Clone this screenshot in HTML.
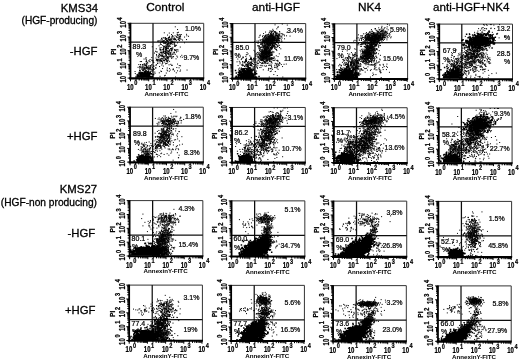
<!DOCTYPE html><html><head><meta charset="utf-8"><title>Figure</title><style>html,body{margin:0;padding:0;background:#fff;overflow:hidden}svg{display:block}</style></head><body><svg width="520" height="363" viewBox="0 0 520 363" font-family="'Liberation Sans', sans-serif">
<rect width="520" height="363" fill="#fff"/>
<filter id="b" x="0" y="0" width="520" height="363" filterUnits="userSpaceOnUse"><feGaussianBlur stdDeviation=".35"/></filter><g filter="url(#b)">
<g font-size="11.8" fill="#000" stroke="#000" stroke-width=".3">
<text x="165.3" y="11.3" text-anchor="middle">Control</text>
<text x="276" y="11.3" text-anchor="middle">anti-HGF</text>
<text x="369.5" y="11.3" text-anchor="middle">NK4</text>
<text x="471.2" y="11.3" text-anchor="middle" font-size="11.6">anti-HGF+NK4</text>
<text x="98" y="11.6" text-anchor="end" font-size="11.35">KMS34</text>
<text x="97.5" y="24.3" text-anchor="end" font-size="10.15">(HGF-producing)</text>
<text x="97.5" y="55.3" text-anchor="end" font-size="11.35">-HGF</text>
<text x="97.5" y="140" text-anchor="end" font-size="11.35">+HGF</text>
<text x="97" y="192.6" text-anchor="end" font-size="11.35">KMS27</text>
<text x="97" y="206" text-anchor="end" font-size="10.2">(HGF-non producing)</text>
<text x="95.3" y="237" text-anchor="end" font-size="11.35">-HGF</text>
<text x="95.5" y="314" text-anchor="end" font-size="11.35">+HGF</text>
</g>
<g transform="translate(130.3 23.3)">
<path d="M0 0H73.4V55.1" fill="none" stroke="#333" stroke-width="1"/>
<path d="M22.7 0V55.1M0 18.7H73.4" fill="none" stroke="#111" stroke-width="1.25"/>
<path d="M0.15 -0.5V55.9" stroke="#000" stroke-width="1.8" fill="none"/>
<path d="M-1.3 55.1H73.9" stroke="#000" stroke-width="2.1" fill="none"/>
<path d="M0.2 55.1v2.9M0 54.8h-2.7M5.7 55.1v2.1M0 50.7h-1.8M8.9 55.1v2.1M0 48.3h-1.8M11.2 55.1v2.1M0 46.6h-1.8M12.9 55.1v2.1M0 45.2h-1.8M14.4 55.1v2.1M0 44.1h-1.8M15.6 55.1v2.1M0 43.2h-1.8M16.6 55.1v2.1M0 42.4h-1.8M17.6 55.1v2.1M0 41.7h-1.8M18.4 55.1v2.9M0 41.1h-2.7M23.9 55.1v2.1M0 37.0h-1.8M27.1 55.1v2.1M0 34.6h-1.8M29.4 55.1v2.1M0 32.9h-1.8M31.1 55.1v2.1M0 31.5h-1.8M32.6 55.1v2.1M0 30.4h-1.8M33.8 55.1v2.1M0 29.5h-1.8M34.8 55.1v2.1M0 28.7h-1.8M35.8 55.1v2.1M0 28.0h-1.8M36.6 55.1v2.9M0 27.4h-2.7M42.1 55.1v2.1M0 23.3h-1.8M45.3 55.1v2.1M0 20.9h-1.8M47.6 55.1v2.1M0 19.2h-1.8M49.3 55.1v2.1M0 17.8h-1.8M50.8 55.1v2.1M0 16.7h-1.8M52.0 55.1v2.1M0 15.8h-1.8M53.0 55.1v2.1M0 15.0h-1.8M54.0 55.1v2.1M0 14.3h-1.8M54.8 55.1v2.9M0 13.7h-2.7M60.3 55.1v2.1M0 9.6h-1.8M63.5 55.1v2.1M0 7.2h-1.8M65.8 55.1v2.1M0 5.5h-1.8M67.5 55.1v2.1M0 4.1h-1.8M69.0 55.1v2.1M0 3.0h-1.8M70.2 55.1v2.1M0 2.1h-1.8M71.2 55.1v2.1M0 1.3h-1.8M72.2 55.1v2.1M0 0.6h-1.8M73.0 55.1v2.9M0 0.0h-2.7" stroke="#000" stroke-width="1" fill="none"/>
<g font-size="8.6" font-weight="bold" fill="#000" stroke="#000" stroke-width=".25">
<text transform="translate(-3.4 66.4) scale(.7 1)">10<tspan dx=".9" dy="-4.3" font-size="8">0</tspan></text>
<text transform="translate(-4.4 59.2) rotate(-90) scale(.7 1)">10<tspan dx=".9" dy="-4.3" font-size="8">0</tspan></text>
<text transform="translate(14.8 66.4) scale(.7 1)">10<tspan dx=".9" dy="-4.3" font-size="8">1</tspan></text>
<text transform="translate(-4.4 45.5) rotate(-90) scale(.7 1)">10<tspan dx=".9" dy="-4.3" font-size="8">1</tspan></text>
<text transform="translate(33.0 66.4) scale(.7 1)">10<tspan dx=".9" dy="-4.3" font-size="8">2</tspan></text>
<text transform="translate(-4.4 31.8) rotate(-90) scale(.7 1)">10<tspan dx=".9" dy="-4.3" font-size="8">2</tspan></text>
<text transform="translate(51.2 66.4) scale(.7 1)">10<tspan dx=".9" dy="-4.3" font-size="8">3</tspan></text>
<text transform="translate(-4.4 18.1) rotate(-90) scale(.7 1)">10<tspan dx=".9" dy="-4.3" font-size="8">3</tspan></text>
<text transform="translate(69.4 66.4) scale(.7 1)">10<tspan dx=".9" dy="-4.3" font-size="8">4</tspan></text>
<text transform="translate(-4.4 4.4) rotate(-90) scale(.7 1)">10<tspan dx=".9" dy="-4.3" font-size="8">4</tspan></text>
</g>
<text x="36.2" y="72.3" text-anchor="middle" font-size="6.2" font-weight="bold" fill="#000">AnnexinY-FITC</text>
<text transform="translate(-14.5 28.4) rotate(-90)" text-anchor="middle" font-size="6.6" font-weight="bold" fill="#000" stroke="#000" stroke-width=".2">PI</text>
<g transform="scale(.25)" stroke="#000" fill="none"><path d="M44 183h6m-15 6h6m16 4h6m-10 2h6m1 0h6m11 0h6m-25 1h6m-4 0h6m-33 1h6m1 0h6m-2 0h6m2 0h6m-17 1h6m-2 0h6m-15 1h6m2 0h6m21 0h6m-45 1h6m20 0h6m10 0h6m-5 0h6m-43 1h6m6 0h6m-3 0h6m0 0h6m-3 0h6m0 0h6m-30 1h6m6 0h6m6 0h6m1 0h6m-5 0h6m-1 0h6m-52 1h6m-1 0h6m-5 0h6m-4 0h6m1 0h6m1 0h6m-4 0h6m-4 0h6m0 0h6m-1 0h6m-4 0h6m-38 1h6m-1 0h6m-3 0h6m-5 0h6m-4 0h6m0 0h6m0 0h6m-43 1h6m23 0h6m27 0h6m-53 1h6m-4 0h6m-2 0h6m-5 0h6m-2 0h6m-4 0h6m2 0h6m-1 0h6m-49 1h6m6 0h6m5 0h6m-3 0h6m-3 0h6m0 0h6m-5 0h6m-1 0h6m-28 1h6m-1 0h6m-1 0h6m-5 0h6m-4 0h6m5 0h6m-44 1h6m2 0h6m0 0h6m-2 0h6m-2 0h6m-5 0h6m6 0h6m1 0h6m-34 1h6m-3 0h6m-4 0h6m-4 0h6m-4 0h6m-3 0h6m-1 0h6m0 0h6m0 0h6m-45 1h6m-3 0h6m-5 0h6m1 0h6m2 0h6m-5 0h6m-5 0h6m-2 0h6m0 0h6m-4 0h6m-4 0h6m-5 0h6m-3 0h6m-52 1h6m-2 0h6m0 0h6m-4 0h6m-4 0h6m-5 0h6m4 0h6m-3 0h6m-4 0h6m-5 0h6m2 0h6m-3 0h6m-49 1h6m10 0h6m0 0h6m-2 0h6m-4 0h6m-3 0h6m-3 0h6m-5 0h6m-1 0h6m-4 0h6m-5 0h6m-5 0h6m2 0h6m1 0h6m-55 1h6m-5 0h6m1 0h6m-3 0h6m1 0h6m-1 0h6m-2 0h6m8 0h6m-64 1h6m0 0h6m-3 0h6m-5 0h6m-4 0h6m-5 0h6m-5 0h6m-4 0h6m-5 0h6m-1 0h6m-5 0h6m-5 0h6m-5 0h6m-5 0h6m-5 0h6m-5 0h6m-5 0h6m-5 0h6m-5 0h6m-5 0h6m-5 0h6m-5 0h6m-5 0h6m-5 0h6m-5 0h6m-5 0h6m-5 0h6m-4 0h6m-5 0h6m-5 0h6m-5 0h6m-5 0h6m-5 0h6m-5 0h6m-5 0h6m-5 0h6m-5 0h6m-5 0h6m-5 0h6m-3 0h6m-5 0h6m-5 0h6m-5 0h6m-5 0h6m-1 0h6m-4 0h6" stroke-width="6"/><path d="M178 14h4m5 11h4m0 11h4m-9 1h4m-56 1h4m32 0h4m-20 1h4m28 4h4m33 1h4m-64 1h4m19 0h4m3 0h4m0 0h4m1 0h4m-59 2h4m38 2h4m-27 1h4m7 0h4m5 0h4m9 0h4m21 0h4m-61 1h4m-3 0h4m22 0h4m-43 1h4m40 0h4m28 0h4m-53 1h4m-17 1h4m21 0h4m-35 1h4m27 0h4m0 0h4m13 0h4m-66 1h4m36 0h4m-65 1h4m2 0h4m10 0h4m-1 0h4m25 0h4m0 0h4m-41 1h4m-30 1h4m10 0h4m24 0h4m4 0h4m-46 1h4m2 0h4m2 0h4m13 0h4m6 0h4m21 0h4m-78 1h4m16 0h4m5 0h4m21 0h4m-21 1h4m27 0h4m0 0h4m-3 0h4m-56 1h4m27 0h4m-54 1h4m10 0h4m8 0h4m-1 0h4m13 0h4m2 0h4m8 0h4m8 0h4m-67 1h4m12 0h4m0 0h4m0 0h4m12 0h4m-3 0h4m-3 0h4m39 0h4m-85 1h4m4 0h4m7 0h4m10 0h4m12 0h4m-75 1h4m1 0h4m25 0h4m1 0h4m5 0h4m35 0h4m-68 1h4m-2 0h4m-2 0h4m4 0h4m-46 1h4m13 0h4m0 0h4m44 0h4m9 0h4m-54 1h4m-1 0h4m8 0h4m-56 1h4m51 0h4m-58 1h4m7 0h4m1 0h4m-2 0h4m9 0h4m2 0h4m1 0h4m-24 1h4m27 0h4m0 0h4m-57 1h4m9 0h4m3 0h4m9 0h4m19 0h4m-48 1h4m6 0h4m1 0h4m32 0h4m-37 1h4m13 0h4m-2 0h4m3 0h4m-53 1h4m15 0h4m16 0h4m4 0h4m-40 1h4m17 0h4m3 0h4m5 0h4m3 0h4m8 0h4m24 0h4m-100 1h4m14 0h4m-3 0h4m-3 0h4m9 0h4m4 0h4m10 0h4m-46 1h4m0 0h4m10 0h4m-3 0h4m1 0h4m1 0h4m-2 0h4m-22 1h4m-3 0h4m8 0h4m-14 2h4m22 0h4m-60 1h4m30 0h4m12 0h4m4 0h4m-58 1h4m21 0h4m9 0h4m-22 1h4m1 0h4m2 0h4m-15 1h4m30 1h4m3 0h4m-59 1h4m17 0h4m1 0h4m-45 1h4m29 0h4m27 0h4m-3 0h4m-43 1h4m36 0h4m-50 1h4m-1 0h4m3 0h4m2 0h4m-3 0h4m4 0h4m13 0h4m-47 1h4m6 0h4m10 0h4m-74 1h4m58 0h4m0 0h4m-22 1h4m60 0h4m-70 1h4m32 0h4m-51 1h4m14 0h4m1 0h4m-10 1h4m-26 1h4m10 0h4m7 0h4m-3 0h4m-2 0h4m2 0h4m-12 1h4m1 0h4m-2 0h4m-3 0h4m9 0h4m-3 0h4m-36 1h4m7 0h4m12 0h4m-3 0h4m-62 1h4m25 0h4m3 0h4m23 0h4m-1 0h4m-41 1h4m-17 1h4m-3 0h4m15 0h4m20 0h4m-41 1h4m0 0h4m-3 0h4m-3 0h4m6 0h4m-3 0h4m29 0h4m2 0h4m3 0h4m-75 1h4m-3 0h4m17 0h4m13 0h4m6 0h4m-28 1h4m3 0h4m3 0h4m2 0h4m15 0h4m-40 2h4m6 0h4m4 0h4m12 0h4m-63 1h4m7 0h4m3 0h4m2 0h4m14 0h4m-2 0h4m7 0h4m-54 1h4m23 0h4m-1 0h4m25 0h4m1 0h4m-94 1h4m28 0h4m1 0h4m-2 0h4m-12 1h4m4 0h4m-3 0h4m6 0h4m-2 0h4m-51 1h4m24 0h4m3 0h4m5 0h4m-47 1h4m22 0h4m7 0h4m-3 0h4m5 0h4m27 0h4m-69 1h4m0 0h4m5 0h4m22 0h4m9 0h4m-33 1h4m3 0h4m8 0h4m11 0h4m-59 1h4m-2 0h4m-3 0h4m-3 0h4m-1 0h4m-1 0h4m6 0h4m-49 1h4m38 0h4m3 0h4m7 0h4m1 0h4m-29 1h4m-2 0h4m-3 0h4m-3 0h4m-4 1h4m-3 0h4m4 0h4m-3 0h4m-3 0h4m-41 1h4m23 0h4m7 0h4m3 0h4m6 0h4m1 0h4m-48 1h4m25 0h4m-3 0h4m-3 0h4m-49 1h4m6 0h4m10 0h4m35 0h4m-79 1h4m7 0h4m-2 0h4m24 0h4m4 0h4m12 0h4m-56 1h4m32 0h4m-3 0h4m6 1h4m-45 1h4m-2 0h4m13 0h4m59 0h4m-90 1h4m5 0h4m11 0h4m-43 1h4m4 0h4m11 0h4m11 0h4m13 0h4m-41 1h4m7 0h4m48 0h4m-79 1h4m1 0h4m9 0h4m5 0h4m14 0h4m-1 0h4m-30 1h4m13 0h4m13 0h4m2 0h4m-51 1h4m1 0h4m7 0h4m1 0h4m3 0h4m3 0h4m36 0h4m-70 1h4m7 0h4m15 0h4m20 0h4m-46 1h4m57 0h4m-149 1h4m19 0h4m22 0h4m18 0h4m11 0h4m-2 1h4m-2 0h4m-3 0h4m12 0h4m-71 1h4m8 0h4m19 0h4m4 0h4m15 1h4m-45 1h4m21 0h4m-91 1h4m60 0h4m-1 0h4m-1 0h4m5 0h4m-2 0h4m36 0h4m-132 1h4m62 0h4m2 0h4m5 0h4m12 0h4m-92 1h4m40 0h4m-33 1h4m22 0h4m5 0h4m23 0h4m1 0h4m-44 1h4m-3 0h4m-1 0h4m7 0h4m16 0h4m-58 1h4m24 0h4m-2 0h4m24 0h4m-45 1h4m2 0h4m9 0h4m6 0h4m-3 0h4m14 0h4m-69 1h4m18 0h4m9 0h4m-2 0h4m8 0h4m-3 0h4m7 0h4m-87 1h4m5 0h4m13 0h4m20 0h4m1 0h4m21 0h4m-73 1h4m41 0h4m5 0h4m-71 1h4m-2 0h4m56 0h4m-3 0h4m-3 0h4m18 0h4m4 0h4m-121 1h4m1 0h4m97 0h4m-71 1h4m25 0h4m3 0h4m-55 1h4m24 0h4m42 0h4m8 0h4m-85 1h4m56 0h4m-39 1h4m-28 2h4m45 0h4m7 0h4m-24 1h4m33 0h4m-86 1h4m40 0h4m31 0h4m-92 1h4m68 0h4m9 0h4m-86 1h4m4 0h4m118 0h4m-138 1h4m103 0h4m-132 1h4m3 0h4m5 0h4m5 0h4m23 0h4m14 0h4m-59 1h4m12 0h4m86 0h4m-111 1h4m74 0h4m-67 1h4m98 0h4m-1 0h4m-111 1h4m14 0h4m-1 0h4m17 0h4m89 0h4m-143 1h4m4 0h4m3 0h4m7 0h4m7 0h4m103 0h4m-165 1h4m9 0h4m7 0h4m64 0h4m-98 2h4m23 0h4m2 0h4m7 0h4m8 0h4m19 0h4m-73 1h4m-15 1h4m6 0h4m26 0h4m-50 1h4m5 0h4m-1 0h4m4 0h4m4 0h4m-1 0h4m-1 0h4m-1 0h4m9 0h4m-29 1h4m5 0h4m0 0h4m-1 0h4m12 0h4m10 0h4m80 0h4m-142 1h4m28 0h4m111 0h4m-144 1h4m8 0h4m-2 0h4m3 0h4m-2 0h4m66 0h4m-98 1h4m44 0h4m-50 1h4m4 0h4m5 0h4m5 0h4m7 0h4m32 0h4m24 0h4m-123 1h4m17 0h4m-3 0h4m3 0h4m4 0h4m-24 1h4m19 0h4m90 0h4m-121 1h4m37 0h4m72 0h4m-117 1h4m8 0h4m9 0h4m4 0h4m-43 1h4m18 0h4m1 0h4m87 0h4m-125 1h4m34 0h4m55 0h4m9 0h4m37 0h4m22 0h4m-180 1h4m8 0h4m5 0h4m14 0h4m-44 1h4m0 0h4m5 0h4m-5 1h4m83 0h4m36 0h4m-152 1h4m40 0h4m33 0h4m51 0h4m-116 1h4m4 0h4m79 0h4m39 0h4m-184 1h4m35 0h4m7 0h4m1 0h4m47 0h4m-59 1h4m-2 0h4m14 0h4m4 1h4m-41 1h4m-3 0h4m4 0h4m7 0h4m-29 1h4m-1 0h4m-3 0h4m3 0h4m-3 0h4m-3 0h4m-1 0h4m-1 0h4m-10 1h4m43 0h4m64 0h4m-44 1h4m-49 1h4m-83 1h4m40 0h4m-7 1h4m18 2h4m2 0h4m-52 1h4m16 0h4m-22 1h4m-23 1h4m35 0h4m-3 0h4m72 1h4m-72 1h4m61 1h4m-78 1h4m-18 1h4m66 0h4m-52 1h4m-22 1h4m20 0h4m-53 1h4m12 0h4m-2 0h4m-1 0h4m12 0h4m1 0h4m-3 0h4m-2 0h4m-2 0h4m4 0h4m0 0h4m90 0h4" stroke-width="4"/></g>
<g font-size="7" fill="#000" stroke="#000" stroke-width=".22">
<text x="54.7" y="7.8">1.0%</text>
<text x="2.3" y="25.5">89.3</text>
<text x="5.8" y="34.2">%</text>
<text x="53.1" y="37.0">9.7%</text>
</g>
</g>
<g transform="translate(232.3 23.57)">
<path d="M0 0H73.4V55.1" fill="none" stroke="#333" stroke-width="1"/>
<path d="M22.7 0V55.1M0 18.7H73.4" fill="none" stroke="#111" stroke-width="1.25"/>
<path d="M0.15 -0.5V55.9" stroke="#000" stroke-width="1.8" fill="none"/>
<path d="M-1.3 55.1H73.9" stroke="#000" stroke-width="2.1" fill="none"/>
<path d="M0.2 55.1v2.9M0 54.8h-2.7M5.7 55.1v2.1M0 50.7h-1.8M8.9 55.1v2.1M0 48.3h-1.8M11.2 55.1v2.1M0 46.6h-1.8M12.9 55.1v2.1M0 45.2h-1.8M14.4 55.1v2.1M0 44.1h-1.8M15.6 55.1v2.1M0 43.2h-1.8M16.6 55.1v2.1M0 42.4h-1.8M17.6 55.1v2.1M0 41.7h-1.8M18.4 55.1v2.9M0 41.1h-2.7M23.9 55.1v2.1M0 37.0h-1.8M27.1 55.1v2.1M0 34.6h-1.8M29.4 55.1v2.1M0 32.9h-1.8M31.1 55.1v2.1M0 31.5h-1.8M32.6 55.1v2.1M0 30.4h-1.8M33.8 55.1v2.1M0 29.5h-1.8M34.8 55.1v2.1M0 28.7h-1.8M35.8 55.1v2.1M0 28.0h-1.8M36.6 55.1v2.9M0 27.4h-2.7M42.1 55.1v2.1M0 23.3h-1.8M45.3 55.1v2.1M0 20.9h-1.8M47.6 55.1v2.1M0 19.2h-1.8M49.3 55.1v2.1M0 17.8h-1.8M50.8 55.1v2.1M0 16.7h-1.8M52.0 55.1v2.1M0 15.8h-1.8M53.0 55.1v2.1M0 15.0h-1.8M54.0 55.1v2.1M0 14.3h-1.8M54.8 55.1v2.9M0 13.7h-2.7M60.3 55.1v2.1M0 9.6h-1.8M63.5 55.1v2.1M0 7.2h-1.8M65.8 55.1v2.1M0 5.5h-1.8M67.5 55.1v2.1M0 4.1h-1.8M69.0 55.1v2.1M0 3.0h-1.8M70.2 55.1v2.1M0 2.1h-1.8M71.2 55.1v2.1M0 1.3h-1.8M72.2 55.1v2.1M0 0.6h-1.8M73.0 55.1v2.9M0 0.0h-2.7" stroke="#000" stroke-width="1" fill="none"/>
<g font-size="8.6" font-weight="bold" fill="#000" stroke="#000" stroke-width=".25">
<text transform="translate(-3.4 66.4) scale(.7 1)">10<tspan dx=".9" dy="-4.3" font-size="8">0</tspan></text>
<text transform="translate(-4.4 59.2) rotate(-90) scale(.7 1)">10<tspan dx=".9" dy="-4.3" font-size="8">0</tspan></text>
<text transform="translate(14.8 66.4) scale(.7 1)">10<tspan dx=".9" dy="-4.3" font-size="8">1</tspan></text>
<text transform="translate(-4.4 45.5) rotate(-90) scale(.7 1)">10<tspan dx=".9" dy="-4.3" font-size="8">1</tspan></text>
<text transform="translate(33.0 66.4) scale(.7 1)">10<tspan dx=".9" dy="-4.3" font-size="8">2</tspan></text>
<text transform="translate(-4.4 31.8) rotate(-90) scale(.7 1)">10<tspan dx=".9" dy="-4.3" font-size="8">2</tspan></text>
<text transform="translate(51.2 66.4) scale(.7 1)">10<tspan dx=".9" dy="-4.3" font-size="8">3</tspan></text>
<text transform="translate(-4.4 18.1) rotate(-90) scale(.7 1)">10<tspan dx=".9" dy="-4.3" font-size="8">3</tspan></text>
<text transform="translate(69.4 66.4) scale(.7 1)">10<tspan dx=".9" dy="-4.3" font-size="8">4</tspan></text>
<text transform="translate(-4.4 4.4) rotate(-90) scale(.7 1)">10<tspan dx=".9" dy="-4.3" font-size="8">4</tspan></text>
</g>
<text x="36.2" y="72.3" text-anchor="middle" font-size="6.2" font-weight="bold" fill="#000">AnnexinY-FITC</text>
<text transform="translate(-14.5 28.4) rotate(-90)" text-anchor="middle" font-size="6.6" font-weight="bold" fill="#000" stroke="#000" stroke-width=".2">PI</text>
<g transform="scale(.25)" stroke="#000" fill="none"><path d="M60 168h6m1 10h6m-9 2h6m-30 1h6m0 0h6m7 1h6m-4 0h6m17 0h6m-57 1h6m-2 0h6m14 0h6m7 0h6m4 1h6m-46 1h6m-2 0h6m-4 0h6m5 0h6m10 0h6m-7 1h6m-39 1h6m14 0h6m-1 0h6m-3 0h6m-63 1h6m9 0h6m27 0h6m14 0h6m-39 1h6m11 0h6m2 0h6m-41 1h6m2 0h6m-3 0h6m2 0h6m-4 0h6m6 0h6m-5 0h6m-35 1h6m-4 0h6m0 0h6m-5 0h6m15 0h6m-28 1h6m-2 0h6m4 0h6m-2 0h6m-41 1h6m2 0h6m-3 0h6m6 0h6m-5 0h6m10 0h6m-50 1h6m-5 0h6m15 0h6m-1 0h6m15 0h6m6 0h6m-51 1h6m3 0h6m-3 0h6m-3 0h6m-1 0h6m0 0h6m-52 1h6m3 0h6m4 0h6m3 0h6m-5 0h6m2 0h6m-1 0h6m-4 0h6m-2 0h6m-4 0h6m-5 0h6m8 0h6m-62 1h6m-4 0h6m1 0h6m2 0h6m4 0h6m-2 0h6m-5 0h6m2 0h6m-64 1h6m8 0h6m7 0h6m-5 0h6m-2 0h6m-2 0h6m-3 0h6m7 0h6m-1 0h6m-5 0h6m-3 0h6m-38 1h6m1 0h6m2 0h6m-1 1h6m-4 0h6m-5 0h6m-3 0h6m-2 0h6m-5 0h6m0 0h6m-47 1h6m-4 0h6m-5 0h6m-2 0h6m3 0h6m-4 0h6m-5 0h6m4 0h6m-4 0h6m19 0h6m-66 1h6m-3 0h6m7 0h6m-5 0h6m-3 0h6m-4 0h6m-5 0h6m0 0h6m4 0h6m-3 0h6m-2 0h6m3 0h6m-71 1h6m-5 0h6m-4 0h6m6 0h6m9 0h6m-5 0h6m1 0h6m-5 0h6m18 0h6m-63 1h6m2 0h6m-2 0h6m-2 0h6m-5 0h6m-3 0h6m-2 0h6m-1 0h6m1 0h6m-4 0h6m-3 0h6m-1 0h6m-5 0h6m-63 1h6m6 0h6m-2 0h6m-4 0h6m-3 0h6m-1 0h6m-5 0h6m-4 0h6m3 0h6m-2 0h6m12 0h6m-51 1h6m1 0h6m-2 0h6m-3 0h6m-2 0h6m1 0h6m6 0h6m-51 1h6m-5 0h6m0 0h6m0 0h6m-1 0h6m-4 0h6m-3 0h6m-2 0h6m-5 0h6m-2 0h6m-3 0h6m-2 0h6m-1 0h6m-52 1h6m-1 0h6m-5 0h6m0 0h6m0 0h6m9 0h6m2 0h6m-3 0h6m-1 0h6m3 0h6m-67 1h6m3 0h6m-2 0h6m-1 0h6m-3 0h6m-3 0h6m-5 0h6m2 0h6m4 0h6m3 0h6m-48 1h6m-4 0h6m-4 0h6m-3 0h6m1 0h6m-1 0h6m-4 0h6m-5 0h6m-4 0h6m-2 0h6m11 0h6m-70 1h6m24 0h6m0 0h6m-5 0h6m-3 0h6m-3 0h6m-2 0h6m-3 0h6m-2 0h6m-4 0h6m-4 0h6m-3 0h6m-44 1h6m1 0h6m-4 0h6m-1 0h6m-1 0h6m-1 0h6m-1 0h6m-3 0h6m-3 0h6m4 0h6m17 0h6m-79 1h6m-1 0h6m-1 0h6m-4 0h6m-3 0h6m-4 0h6m-4 0h6m-5 0h6m-5 0h6m-1 0h6m-3 0h6m-2 0h6m-4 0h6m-4 0h6m-1 0h6m-2 0h6m-3 0h6m-53 1h6m-4 0h6m-4 0h6m-2 0h6m-4 0h6m-4 0h6m-5 0h6m-4 0h6m-4 0h6m-4 0h6m-5 0h6m-4 0h6m-5 0h6m-5 0h6m5 0h6m17 0h6m-87 1h6m-5 0h6m-2 0h6m-4 0h6m-3 0h6m-5 0h6m-3 0h6m-4 0h6m-3 0h6m-4 0h6m-5 0h6m-5 0h6m-5 0h6m-5 0h6m-5 0h6m-5 0h6m-5 0h6m-5 0h6m-5 0h6m-5 0h6m-4 0h6m-5 0h6m-5 0h6m-5 0h6m-5 0h6m-5 0h6m-5 0h6m-5 0h6m-5 0h6m-5 0h6m-5 0h6m-5 0h6m-4 0h6m-5 0h6m-4 0h6m-5 0h6m-5 0h6m-5 0h6m-5 0h6m-5 0h6m-5 0h6m-5 0h6m-5 0h6m-5 0h6m-5 0h6m-5 0h6m-5 0h6m-5 0h6m-4 0h6m-5 0h6m-5 0h6m-5 0h6m-5 0h6m-3 0h6m-4 0h6m-2 0h6m-3 0h6m-5 0h6m-3 0h6" stroke-width="6"/><path d="M198 2h4m-33 3h4m45 1h4m-40 7h4m-6 2h4m-8 6h4m-20 2h4m-15 6h4m8 0h4m-2 0h4m-13 1h4m1 1h4m-9 1h4m11 0h4m14 0h4m-42 1h4m14 0h4m-2 0h4m-42 1h4m32 0h4m1 0h4m12 0h4m-21 1h4m42 0h4m-75 1h4m4 0h4m-2 0h4m12 1h4m-21 1h4m4 0h4m5 0h4m0 0h4m-3 0h4m-31 1h4m-31 1h4m25 0h4m6 0h4m6 0h4m1 0h4m15 0h4m-39 1h4m-1 0h4m7 0h4m10 0h4m-50 1h4m4 0h4m2 0h4m2 0h4m16 0h4m-1 0h4m8 0h4m-52 1h4m0 0h4m17 0h4m22 0h4m-68 1h4m1 0h4m8 0h4m-1 0h4m24 0h4m-48 1h4m26 0h4m5 0h4m1 0h4m16 0h4m-99 1h4m18 0h4m7 0h4m1 0h4m1 0h4m-2 0h4m-3 0h4m1 0h4m-3 0h4m2 0h4m-1 0h4m-42 1h4m18 0h4m2 0h4m14 0h4m3 0h4m-69 1h4m6 0h4m2 0h4m8 0h4m-3 0h4m-1 0h4m2 0h4m9 0h4m-3 0h4m-2 0h4m-2 0h4m3 0h4m-80 1h4m37 0h4m-1 0h4m-3 0h4m2 0h4m13 0h4m-2 0h4m-1 0h4m4 0h4m4 0h4m6 0h4m4 0h4m-90 1h4m6 0h4m1 0h4m12 0h4m4 0h4m5 0h4m-3 0h4m-3 0h4m-3 0h4m2 0h4m39 0h4m-106 1h4m-2 0h4m13 0h4m-2 0h4m-3 0h4m-3 0h4m-2 0h4m-2 0h4m5 0h4m12 0h4m-64 1h4m9 0h4m0 0h4m2 0h4m10 0h4m-3 0h4m7 0h4m0 0h4m6 0h4m-2 0h4m-46 1h4m-3 0h4m3 0h4m3 0h4m-1 0h4m-3 0h4m-3 0h4m3 0h4m19 0h4m-1 0h4m-58 1h4m-3 0h4m-3 0h4m0 0h4m2 0h4m-1 0h4m0 0h4m-3 0h4m8 0h4m2 0h4m-78 1h4m19 0h4m14 0h4m-3 0h4m5 0h4m0 0h4m-1 0h4m-3 0h4m-2 0h4m-2 0h4m-40 1h4m-1 0h4m7 0h4m1 0h4m3 0h4m0 0h4m7 0h4m0 0h4m0 0h4m-3 0h4m-64 1h4m0 0h4m-3 0h4m10 0h4m5 0h4m1 0h4m2 0h4m-3 0h4m-2 0h4m-2 0h4m-1 0h4m9 0h4m-2 0h4m0 0h4m-56 1h4m-1 0h4m1 0h4m10 0h4m1 0h4m1 0h4m-1 0h4m22 0h4m-66 1h4m0 0h4m-3 0h4m-3 0h4m3 0h4m0 0h4m-3 0h4m5 0h4m6 0h4m3 0h4m-3 0h4m-1 0h4m-57 1h4m3 0h4m-1 0h4m2 0h4m-2 0h4m-2 0h4m1 0h4m-1 0h4m-3 0h4m-2 0h4m1 0h4m-1 0h4m1 0h4m9 0h4m-2 0h4m-73 1h4m-1 0h4m1 0h4m-1 0h4m4 0h4m-1 0h4m-2 0h4m-2 0h4m-2 0h4m1 0h4m-1 0h4m0 0h4m-2 0h4m3 0h4m4 0h4m0 0h4m-2 0h4m20 0h4m-73 1h4m0 0h4m0 0h4m3 0h4m1 0h4m0 0h4m-1 0h4m-2 0h4m-2 0h4m-42 1h4m-1 0h4m-2 0h4m1 0h4m0 0h4m2 0h4m-3 0h4m5 0h4m-2 0h4m-1 0h4m-3 0h4m6 0h4m2 0h4m-74 1h4m3 0h4m-2 0h4m2 0h4m0 0h4m0 0h4m0 0h4m-1 0h4m-1 0h4m-1 0h4m-1 0h4m-2 0h4m-1 0h4m-3 0h4m-3 0h4m11 0h4m-2 0h4m-2 0h4m-53 1h4m4 0h4m-2 0h4m-3 0h4m-3 0h4m-2 0h4m-2 0h4m4 0h4m-2 0h4m1 0h4m-1 0h4m-1 0h4m0 0h4m20 0h4m-89 1h4m5 0h4m13 0h4m-3 0h4m-1 0h4m4 0h4m12 0h4m-1 0h4m-3 0h4m2 0h4m0 0h4m4 0h4m-71 1h4m5 0h4m3 0h4m-3 0h4m1 0h4m-3 0h4m-3 0h4m-3 0h4m-1 0h4m2 0h4m0 0h4m-3 0h4m1 0h4m-1 0h4m-3 0h4m-1 0h4m-3 0h4m1 0h4m-3 0h4m7 0h4m-68 1h4m-2 0h4m2 0h4m-3 0h4m0 0h4m7 0h4m-1 0h4m-3 0h4m-3 0h4m-2 0h4m-1 0h4m-3 0h4m-2 0h4m4 0h4m-3 0h4m1 0h4m2 0h4m-3 0h4m-74 1h4m8 0h4m-1 0h4m5 0h4m3 0h4m-3 0h4m4 0h4m1 0h4m1 0h4m-3 0h4m-1 0h4m8 0h4m0 0h4m-2 0h4m-90 1h4m2 0h4m14 0h4m2 0h4m7 0h4m1 0h4m-2 0h4m6 0h4m-2 0h4m35 0h4m-79 1h4m-1 0h4m3 0h4m3 0h4m-1 0h4m4 0h4m4 0h4m-3 0h4m-3 0h4m-2 0h4m3 0h4m16 0h4m-69 1h4m-1 0h4m-1 0h4m-3 0h4m1 0h4m-2 0h4m2 0h4m2 0h4m-3 0h4m1 0h4m2 0h4m9 0h4m-3 0h4m1 0h4m-97 1h4m25 0h4m0 0h4m2 0h4m-3 0h4m1 0h4m2 0h4m-3 0h4m-3 0h4m-1 0h4m-3 0h4m-1 0h4m0 0h4m0 0h4m0 0h4m-3 0h4m5 0h4m23 0h4m-81 1h4m-2 0h4m10 0h4m2 0h4m-3 0h4m-2 0h4m0 0h4m-1 0h4m-3 0h4m-1 0h4m16 0h4m-2 0h4m-62 1h4m10 0h4m5 0h4m2 0h4m-2 0h4m5 0h4m0 0h4m-1 0h4m-2 0h4m-3 0h4m8 0h4m-64 1h4m-2 0h4m3 0h4m-2 0h4m2 0h4m2 0h4m-2 0h4m2 0h4m-3 0h4m10 0h4m-1 0h4m7 0h4m-67 1h4m3 0h4m-2 0h4m-2 0h4m-1 0h4m8 0h4m-3 0h4m0 0h4m14 0h4m-52 1h4m15 0h4m7 0h4m-1 0h4m-2 0h4m-1 0h4m3 0h4m1 0h4m-3 0h4m9 0h4m-86 1h4m7 0h4m0 0h4m1 0h4m2 0h4m6 0h4m-3 0h4m-3 0h4m6 0h4m-3 0h4m-1 0h4m-2 0h4m-2 0h4m5 0h4m-1 0h4m-56 1h4m15 0h4m-1 0h4m3 0h4m3 0h4m1 0h4m-35 1h4m1 0h4m-1 0h4m4 0h4m-3 0h4m-2 0h4m-3 0h4m-2 0h4m-2 0h4m-2 0h4m3 0h4m-2 0h4m-3 0h4m5 0h4m-49 1h4m-2 0h4m0 0h4m1 0h4m0 0h4m-3 0h4m8 0h4m1 0h4m7 0h4m6 0h4m-74 1h4m6 0h4m23 0h4m-1 0h4m4 0h4m5 0h4m-56 1h4m-3 0h4m17 0h4m-3 0h4m-2 0h4m-1 0h4m1 0h4m5 0h4m13 0h4m-49 1h4m1 0h4m0 0h4m15 0h4m6 0h4m-43 1h4m0 0h4m6 0h4m-2 0h4m-2 0h4m0 0h4m4 0h4m-1 0h4m-48 1h4m-1 0h4m11 0h4m-1 0h4m0 0h4m-3 0h4m0 0h4m4 0h4m-1 0h4m-2 0h4m22 0h4m-87 1h4m17 0h4m1 0h4m11 0h4m2 0h4m9 0h4m-1 0h4m-72 1h4m2 0h4m18 0h4m12 0h4m11 0h4m-2 0h4m-1 0h4m10 0h4m1 0h4m-67 1h4m-2 0h4m-1 0h4m0 0h4m-2 0h4m-3 0h4m2 0h4m16 0h4m-2 0h4m0 0h4m11 0h4m-3 0h4m-56 1h4m10 0h4m0 0h4m6 0h4m10 0h4m-68 1h4m-1 0h4m13 0h4m5 0h4m-1 0h4m16 0h4m1 0h4m0 0h4m10 0h4m-60 1h4m2 0h4m-2 0h4m3 0h4m-3 0h4m4 0h4m17 0h4m-69 1h4m7 0h4m4 0h4m10 0h4m-2 0h4m-2 0h4m-1 0h4m0 0h4m3 0h4m7 0h4m-54 1h4m0 0h4m-2 0h4m10 0h4m-3 0h4m-1 0h4m7 0h4m2 0h4m4 0h4m-58 1h4m13 0h4m0 0h4m-3 0h4m5 0h4m6 0h4m-3 0h4m0 0h4m-2 0h4m13 0h4m7 0h4m-83 1h4m16 0h4m1 0h4m13 0h4m1 0h4m12 0h4m-52 1h4m-2 0h4m1 0h4m0 0h4m-2 0h4m-1 0h4m-1 0h4m-3 0h4m-3 0h4m3 0h4m4 0h4m-58 1h4m27 0h4m1 0h4m10 0h4m-2 0h4m6 0h4m-44 1h4m0 0h4m6 0h4m5 0h4m1 0h4m-49 1h4m15 0h4m2 0h4m1 0h4m-1 0h4m-2 0h4m43 0h4m-90 1h4m-2 0h4m6 0h4m8 0h4m6 0h4m2 0h4m20 0h4m-50 1h4m0 0h4m-3 0h4m-3 0h4m-3 0h4m-3 0h4m-3 0h4m0 0h4m4 0h4m24 0h4m-59 1h4m5 0h4m6 0h4m7 0h4m1 0h4m-1 0h4m15 0h4m-67 1h4m11 0h4m0 0h4m-1 0h4m-3 0h4m-2 0h4m9 0h4m-41 1h4m-2 0h4m8 0h4m-3 0h4m-3 0h4m-1 0h4m6 0h4m-61 1h4m36 0h4m-3 0h4m3 0h4m10 0h4m-2 0h4m-46 1h4m8 0h4m1 0h4m0 0h4m-3 0h4m0 0h4m-3 0h4m0 0h4m1 0h4m1 0h4m-3 0h4m23 0h4m-55 1h4m-3 0h4m-3 0h4m-3 0h4m1 0h4m-23 1h4m2 0h4m17 0h4m-1 0h4m4 0h4m-46 1h4m3 0h4m-1 0h4m2 0h4m3 0h4m-3 0h4m-2 0h4m-2 0h4m-3 0h4m4 0h4m7 0h4m-50 1h4m4 0h4m-3 0h4m0 0h4m0 0h4m0 0h4m-2 0h4m0 0h4m-2 0h4m-3 0h4m1 0h4m-63 1h4m23 0h4m-1 0h4m-3 0h4m-1 0h4m-1 0h4m-3 0h4m1 0h4m-3 0h4m4 0h4m-2 0h4m3 0h4m9 0h4m-48 1h4m-2 0h4m6 0h4m-3 0h4m-2 0h4m1 0h4m2 0h4m-1 0h4m0 0h4m10 0h4m-68 1h4m17 0h4m0 0h4m-1 0h4m-2 0h4m-1 0h4m-2 0h4m-3 0h4m0 0h4m-2 0h4m1 0h4m-3 0h4m-3 0h4m0 0h4m-101 1h4m37 0h4m13 0h4m-2 0h4m-3 0h4m-1 0h4m-1 0h4m-3 0h4m1 0h4m-2 0h4m-1 0h4m0 0h4m1 0h4m-1 0h4m-3 0h4m-2 0h4m2 0h4m-52 1h4m2 0h4m13 0h4m-3 0h4m-2 0h4m-3 0h4m-3 0h4m1 0h4m-3 0h4m5 0h4m0 0h4m1 0h4m-59 1h4m8 0h4m3 0h4m-2 0h4m-3 0h4m-3 0h4m1 0h4m-3 0h4m-3 0h4m-2 0h4m-1 0h4m-2 0h4m10 0h4m-48 1h4m-1 0h4m5 0h4m0 0h4m-2 0h4m-1 0h4m-3 0h4m-2 0h4m-3 0h4m-1 0h4m-1 0h4m-1 0h4m-31 1h4m-2 0h4m-3 0h4m-3 0h4m-2 0h4m5 0h4m-3 0h4m-3 0h4m0 0h4m0 0h4m-3 0h4m-2 0h4m-90 1h4m30 0h4m3 0h4m8 0h4m4 0h4m-3 0h4m-3 0h4m-3 0h4m-3 0h4m0 0h4m-3 0h4m-3 0h4m-3 0h4m-3 0h4m-1 0h4m8 0h4m-2 0h4m1 0h4m26 0h4m-98 1h4m14 0h4m2 0h4m9 0h4m0 0h4m-1 0h4m7 0h4m-3 0h4m-47 1h4m-2 0h4m2 0h4m0 0h4m-1 0h4m2 0h4m2 0h4m-3 0h4m-1 0h4m0 0h4m-2 0h4m-3 0h4m-2 0h4m-92 1h4m58 0h4m7 0h4m-3 0h4m-3 0h4m0 0h4m2 0h4m9 0h4m-3 0h4m-106 1h4m40 0h4m-1 0h4m8 0h4m0 0h4m-2 0h4m-2 0h4m2 0h4m-3 0h4m5 0h4m3 0h4m2 0h4m1 0h4m-69 1h4m13 0h4m3 0h4m-2 0h4m-3 0h4m-1 0h4m-2 0h4m-3 0h4m1 0h4m1 0h4m0 0h4m1 0h4m-1 0h4m2 0h4m1 0h4m-1 0h4m-43 1h4m-3 0h4m2 0h4m7 0h4m3 0h4m-2 0h4m-2 0h4m-1 0h4m-3 0h4m-49 1h4m-3 0h4m-2 0h4m19 0h4m-2 0h4m6 0h4m4 0h4m-90 1h4m42 0h4m4 0h4m-3 0h4m-3 0h4m-1 0h4m0 0h4m-2 0h4m0 0h4m-2 0h4m4 0h4m23 0h4m-85 1h4m13 0h4m-1 0h4m-1 0h4m0 0h4m-1 0h4m-2 0h4m1 0h4m3 0h4m0 0h4m0 0h4m-49 1h4m0 0h4m3 0h4m-1 0h4m9 0h4m-1 0h4m0 0h4m-3 0h4m-2 0h4m-1 0h4m-3 0h4m-3 0h4m-1 0h4m-97 1h4m55 0h4m0 0h4m0 0h4m0 0h4m-3 0h4m-3 0h4m3 0h4m-3 0h4m-2 0h4m-2 0h4m-1 0h4m-3 0h4m-2 0h4m-3 0h4m33 0h4m-144 1h4m46 0h4m13 0h4m6 0h4m0 0h4m5 0h4m-2 0h4m-3 0h4m-2 0h4m-1 0h4m2 0h4m-1 0h4m13 0h4m-97 1h4m25 0h4m-3 0h4m7 0h4m-2 0h4m-2 0h4m-3 0h4m-3 0h4m0 0h4m-2 0h4m-1 0h4m1 0h4m-3 0h4m-3 0h4m5 0h4m0 0h4m-3 0h4m-43 1h4m3 0h4m3 0h4m-2 0h4m-3 0h4m-1 0h4m-3 0h4m-1 0h4m-3 0h4m1 0h4m-102 1h4m27 0h4m27 0h4m1 0h4m4 0h4m2 0h4m-1 0h4m2 0h4m-3 0h4m-3 0h4m18 0h4m5 0h4m-129 1h4m57 0h4m13 0h4m-1 0h4m-3 0h4m-2 0h4m-3 0h4m-1 0h4m5 0h4m-1 0h4m0 0h4m6 0h4m-72 1h4m21 0h4m1 0h4m-2 0h4m-2 0h4m-1 0h4m2 0h4m2 0h4m2 0h4m2 0h4m-1 0h4m0 0h4m1 0h4m-108 1h4m25 0h4m22 0h4m14 0h4m-2 0h4m-2 0h4m-3 0h4m-1 0h4m-3 0h4m7 0h4m7 0h4m-127 1h4m31 0h4m-1 0h4m-3 0h4m28 0h4m3 0h4m5 0h4m6 0h4m5 0h4m8 0h4m4 0h4m-2 0h4m-97 1h4m-3 0h4m7 0h4m6 0h4m21 0h4m-1 0h4m-2 0h4m-1 0h4m17 0h4m0 0h4m-1 0h4m-138 1h4m29 0h4m31 0h4m-2 0h4m8 0h4m7 0h4m-1 0h4m-2 0h4m14 0h4m-3 0h4m5 0h4m-1 0h4m16 0h4m-102 1h4m33 0h4m6 0h4m-1 0h4m1 0h4m-1 0h4m-3 0h4m7 0h4m-2 0h4m5 0h4m-2 0h4m-124 1h4m14 0h4m-3 0h4m9 0h4m5 0h4m-2 0h4m31 0h4m-3 0h4m0 0h4m-3 0h4m14 0h4m7 0h4m6 0h4m-75 1h4m33 0h4m11 0h4m-66 1h4m3 0h4m24 0h4m0 0h4m0 0h4m13 0h4m-3 0h4m-90 1h4m59 0h4m19 0h4m-2 0h4m-3 0h4m1 0h4m15 0h4m11 0h4m-130 1h4m-2 0h4m43 0h4m8 0h4m-2 0h4m0 0h4m-2 0h4m7 0h4m-2 0h4m22 0h4m3 0h4m4 0h4m-90 1h4m28 0h4m14 0h4m3 0h4m-71 1h4m14 0h4m4 0h4m18 0h4m0 0h4m3 0h4m4 0h4m0 0h4m-2 0h4m23 0h4m-3 0h4m-159 1h4m20 0h4m20 0h4m49 0h4m2 0h4m-98 1h4m8 0h4m-3 0h4m-1 0h4m5 0h4m58 0h4m-2 0h4m16 0h4m-135 1h4m28 0h4m9 0h4m18 0h4m34 0h4m8 0h4m17 0h4m-118 1h4m48 0h4m10 0h4m-82 1h4m14 0h4m-3 0h4m19 0h4m79 0h4m-99 1h4m10 0h4m-2 0h4m9 0h4m18 0h4m13 0h4m0 0h4m52 0h4m-126 1h4m28 0h4m17 0h4m-2 0h4m-84 1h4m5 0h4m6 0h4m5 0h4m-3 0h4m45 0h4m20 0h4m11 0h4m-97 1h4m10 0h4m16 0h4m1 0h4m8 0h4m18 0h4m-2 0h4m27 0h4m6 0h4m3 0h4m-2 0h4m-128 1h4m7 0h4m-1 0h4m37 0h4m1 0h4m3 0h4m37 0h4m-148 1h4m39 0h4m24 0h4m-50 1h4m18 0h4m69 0h4m61 0h4m-160 1h4m-2 0h4m-1 0h4m16 0h4m87 0h4m6 0h4m17 0h4m-172 1h4m12 0h4m-1 0h4m9 0h4m-2 0h4m18 0h4m80 0h4m13 0h4m-107 1h4m-57 1h4m-1 0h4m8 0h4m12 0h4m0 0h4m-2 0h4m9 0h4m63 0h4m24 0h4m-150 1h4m1 0h4m6 0h4m19 0h4m31 0h4m2 0h4m24 0h4m-2 0h4m18 0h4m14 0h4m-169 1h4m32 0h4m-2 0h4m6 0h4m-2 0h4m1 0h4m72 0h4m-116 1h4m56 0h4m14 0h4m4 0h4m5 0h4m36 0h4m-132 1h4m44 0h4m81 0h4m-130 1h4m19 0h4m51 0h4m43 0h4m-136 1h4m9 0h4m-3 0h4m-3 0h4m19 0h4m-3 0h4m65 0h4m40 0h4m-150 1h4m3 0h4m-3 0h4m113 0h4m-89 1h4m71 0h4m-103 1h4m12 0h4m24 0h4m-56 1h4m0 0h4m29 0h4m6 0h4m56 0h4m1 0h4m-143 1h4m25 0h4m-2 0h4m12 0h4m71 0h4m-133 1h4m27 0h4m4 0h4m2 0h4m101 0h4m-131 1h4m45 0h4m41 0h4m-112 1h4m13 0h4m-2 0h4m92 0h4m-105 1h4m1 0h4m1 0h4m5 0h4m4 0h4m63 0h4m5 0h4m-134 1h4m6 0h4m26 0h4m76 0h4m-101 1h4m14 0h4m91 0h4m18 0h4m-130 1h4m1 0h4m-3 0h4m0 0h4m-26 1h4m75 0h4m-80 1h4m8 0h4m-3 0h4m-20 1h4m6 0h4m17 0h4m64 0h4m-114 1h4m15 0h4m4 0h4m3 0h4m2 0h4m8 0h4m0 0h4m-52 1h4m24 0h4m-42 1h4m12 0h4m5 0h4m11 0h4m0 0h4m-2 0h4m15 0h4m55 0h4m-101 1h4m-12 1h4m97 0h4m16 0h4m-142 1h4m-14 1h4m8 0h4m14 0h4m16 0h4m-47 1h4m55 0h4m-49 1h4m25 0h4m16 0h4m-70 1h4m4 0h4m53 0h4m-54 2h4m-1 0h4m2 0h4m1 1h4m11 0h4m2 0h4m-28 2h4m8 0h4m-5 1h4m-11 1h4m22 0h4m78 0h4m-120 1h4m-1 0h4m-16 1h4m28 0h4m-3 1h4m102 1h4m-122 2h4m-4 3h4m11 1h4m1 0h4m62 0h4m50 0h4m-175 1h4m9 0h4m3 0h4m3 0h4m1 0h4m0 0h4m0 0h4m4 0h4" stroke-width="4"/></g>
<g font-size="7" fill="#000" stroke="#000" stroke-width=".22">
<text x="54.7" y="9.0">3.4%</text>
<text x="3.2" y="26.4">85.0</text>
<text x="2.2" y="34.3">%</text>
<text x="51.7" y="37.1">11.6%</text>
</g>
</g>
<g transform="translate(334.2 23.83)">
<path d="M0 0H73.4V55.1" fill="none" stroke="#333" stroke-width="1"/>
<path d="M22.7 0V55.1M0 18.7H73.4" fill="none" stroke="#111" stroke-width="1.25"/>
<path d="M0.15 -0.5V55.9" stroke="#000" stroke-width="1.8" fill="none"/>
<path d="M-1.3 55.1H73.9" stroke="#000" stroke-width="2.1" fill="none"/>
<path d="M0.2 55.1v2.9M0 54.8h-2.7M5.7 55.1v2.1M0 50.7h-1.8M8.9 55.1v2.1M0 48.3h-1.8M11.2 55.1v2.1M0 46.6h-1.8M12.9 55.1v2.1M0 45.2h-1.8M14.4 55.1v2.1M0 44.1h-1.8M15.6 55.1v2.1M0 43.2h-1.8M16.6 55.1v2.1M0 42.4h-1.8M17.6 55.1v2.1M0 41.7h-1.8M18.4 55.1v2.9M0 41.1h-2.7M23.9 55.1v2.1M0 37.0h-1.8M27.1 55.1v2.1M0 34.6h-1.8M29.4 55.1v2.1M0 32.9h-1.8M31.1 55.1v2.1M0 31.5h-1.8M32.6 55.1v2.1M0 30.4h-1.8M33.8 55.1v2.1M0 29.5h-1.8M34.8 55.1v2.1M0 28.7h-1.8M35.8 55.1v2.1M0 28.0h-1.8M36.6 55.1v2.9M0 27.4h-2.7M42.1 55.1v2.1M0 23.3h-1.8M45.3 55.1v2.1M0 20.9h-1.8M47.6 55.1v2.1M0 19.2h-1.8M49.3 55.1v2.1M0 17.8h-1.8M50.8 55.1v2.1M0 16.7h-1.8M52.0 55.1v2.1M0 15.8h-1.8M53.0 55.1v2.1M0 15.0h-1.8M54.0 55.1v2.1M0 14.3h-1.8M54.8 55.1v2.9M0 13.7h-2.7M60.3 55.1v2.1M0 9.6h-1.8M63.5 55.1v2.1M0 7.2h-1.8M65.8 55.1v2.1M0 5.5h-1.8M67.5 55.1v2.1M0 4.1h-1.8M69.0 55.1v2.1M0 3.0h-1.8M70.2 55.1v2.1M0 2.1h-1.8M71.2 55.1v2.1M0 1.3h-1.8M72.2 55.1v2.1M0 0.6h-1.8M73.0 55.1v2.9M0 0.0h-2.7" stroke="#000" stroke-width="1" fill="none"/>
<g font-size="8.6" font-weight="bold" fill="#000" stroke="#000" stroke-width=".25">
<text transform="translate(-3.4 66.4) scale(.7 1)">10<tspan dx=".9" dy="-4.3" font-size="8">0</tspan></text>
<text transform="translate(-4.4 59.2) rotate(-90) scale(.7 1)">10<tspan dx=".9" dy="-4.3" font-size="8">0</tspan></text>
<text transform="translate(14.8 66.4) scale(.7 1)">10<tspan dx=".9" dy="-4.3" font-size="8">1</tspan></text>
<text transform="translate(-4.4 45.5) rotate(-90) scale(.7 1)">10<tspan dx=".9" dy="-4.3" font-size="8">1</tspan></text>
<text transform="translate(33.0 66.4) scale(.7 1)">10<tspan dx=".9" dy="-4.3" font-size="8">2</tspan></text>
<text transform="translate(-4.4 31.8) rotate(-90) scale(.7 1)">10<tspan dx=".9" dy="-4.3" font-size="8">2</tspan></text>
<text transform="translate(51.2 66.4) scale(.7 1)">10<tspan dx=".9" dy="-4.3" font-size="8">3</tspan></text>
<text transform="translate(-4.4 18.1) rotate(-90) scale(.7 1)">10<tspan dx=".9" dy="-4.3" font-size="8">3</tspan></text>
<text transform="translate(69.4 66.4) scale(.7 1)">10<tspan dx=".9" dy="-4.3" font-size="8">4</tspan></text>
<text transform="translate(-4.4 4.4) rotate(-90) scale(.7 1)">10<tspan dx=".9" dy="-4.3" font-size="8">4</tspan></text>
</g>
<text x="36.2" y="72.3" text-anchor="middle" font-size="6.2" font-weight="bold" fill="#000">AnnexinY-FITC</text>
<text transform="translate(-14.5 28.4) rotate(-90)" text-anchor="middle" font-size="6.6" font-weight="bold" fill="#000" stroke="#000" stroke-width=".2">PI</text>
<g transform="scale(.25)" stroke="#000" fill="none"><path d="M53 171h6m-12 2h6m22 5h6m-57 1h6m15 1h6m6 0h6m11 0h6m-8 1h6m-48 1h6m9 0h6m5 0h6m-24 1h6m35 0h6m-68 1h6m19 1h6m8 0h6m-3 0h6m-44 1h6m-5 0h6m9 0h6m1 0h6m0 0h6m4 0h6m-41 1h6m12 0h6m17 1h6m-2 0h6m-46 1h6m-3 0h6m-5 0h6m0 0h6m2 0h6m-4 0h6m1 0h6m1 0h6m11 0h6m-45 1h6m13 0h6m14 0h6m-59 1h6m14 0h6m-4 0h6m-4 0h6m5 0h6m-5 0h6m-3 0h6m-5 0h6m-2 0h6m-46 1h6m-2 0h6m0 0h6m-3 0h6m-5 0h6m2 0h6m4 0h6m-5 0h6m-60 1h6m1 0h6m22 0h6m-1 0h6m0 0h6m-54 1h6m18 0h6m3 0h6m8 0h6m0 0h6m-1 0h6m-50 1h6m-5 0h6m2 0h6m5 0h6m-1 0h6m-5 0h6m-1 0h6m4 0h6m-4 0h6m11 0h6m-71 1h6m5 0h6m6 0h6m7 0h6m9 0h6m-5 0h6m6 0h6m-3 0h6m-68 1h6m-2 0h6m1 0h6m-5 0h6m-4 0h6m-4 0h6m-5 0h6m-4 0h6m-5 0h6m-1 0h6m0 0h6m-5 0h6m0 0h6m-4 0h6m12 0h6m8 0h6m-65 1h6m-5 0h6m7 0h6m-3 0h6m-5 0h6m0 0h6m5 0h6m1 0h6m8 0h6m-70 1h6m0 0h6m-4 0h6m-5 0h6m-5 0h6m-3 0h6m-5 0h6m5 0h6m-5 0h6m0 0h6m-1 0h6m22 0h6m-75 1h6m-2 0h6m3 0h6m-5 0h6m5 0h6m-4 0h6m-2 0h6m-5 0h6m0 0h6m-2 0h6m-4 0h6m-50 1h6m-5 0h6m9 0h6m-3 0h6m-5 0h6m-4 0h6m-5 0h6m0 0h6m-4 0h6m-2 0h6m0 0h6m23 0h6m-68 1h6m-2 0h6m4 0h6m-4 0h6m2 0h6m-5 0h6m19 0h6m-1 0h6m-83 1h6m16 0h6m-5 0h6m0 0h6m-3 0h6m8 0h6m-1 0h6m-1 0h6m-2 0h6m-3 0h6m-51 1h6m-2 0h6m8 0h6m-4 0h6m-3 0h6m-5 0h6m-3 0h6m-2 0h6m-5 0h6m0 0h6m4 0h6m7 0h6m-79 1h6m-2 0h6m0 0h6m12 0h6m-5 0h6m-5 0h6m-5 0h6m-2 0h6m8 0h6m-3 0h6m22 0h6m-80 1h6m-1 0h6m-3 0h6m-2 0h6m5 0h6m-5 0h6m-5 0h6m0 0h6m-5 0h6m-3 0h6m0 0h6m-5 0h6m-5 0h6m6 0h6m-2 0h6m-60 1h6m4 0h6m-1 0h6m-4 0h6m-5 0h6m0 0h6m-5 0h6m-5 0h6m-3 0h6m-4 0h6m-2 0h6m-3 0h6m3 0h6m4 0h6m-71 1h6m-2 0h6m-5 0h6m-3 0h6m-2 0h6m2 0h6m-5 0h6m0 0h6m-1 0h6m-3 0h6m-5 0h6m-5 0h6m-2 0h6m1 0h6m-4 0h6m4 0h6m3 0h6m-85 1h6m14 0h6m0 0h6m-2 0h6m-1 0h6m-5 0h6m-3 0h6m2 0h6m-4 0h6m-1 0h6m-4 0h6m-3 0h6m-59 1h6m-2 0h6m16 0h6m-5 0h6m-3 0h6m-4 0h6m1 0h6m1 0h6m0 0h6m-3 0h6m-73 1h6m4 0h6m-5 0h6m2 0h6m-1 0h6m3 0h6m4 0h6m-5 0h6m-3 0h6m1 0h6m-3 0h6m15 0h6m-76 1h6m12 0h6m-3 0h6m2 0h6m-3 0h6m-4 0h6m-1 0h6m-3 0h6m-4 0h6m-3 0h6m1 0h6m-2 0h6m-4 0h6m-3 0h6m1 0h6m-3 0h6m-61 1h6m-5 0h6m1 0h6m1 0h6m-3 0h6m9 0h6m-5 0h6m0 0h6m15 0h6m-84 1h6m2 0h6m11 0h6m0 0h6m-5 0h6m-3 0h6m-5 0h6m0 0h6m-3 0h6m-2 0h6m-1 0h6m1 0h6m-73 1h6m-2 0h6m-5 0h6m-4 0h6m-3 0h6m-4 0h6m-5 0h6m-5 0h6m-5 0h6m-4 0h6m-5 0h6m-5 0h6m-5 0h6m-3 0h6m-5 0h6m-5 0h6m-5 0h6m-4 0h6m-5 0h6m-5 0h6m-5 0h6m-5 0h6m-5 0h6m-5 0h6m-5 0h6m-5 0h6m-5 0h6m-5 0h6m-5 0h6m-5 0h6m-5 0h6m-3 0h6m-5 0h6m-5 0h6m-5 0h6m-4 0h6m-5 0h6m-5 0h6m-5 0h6m-5 0h6m-3 0h6m-5 0h6m-5 0h6m-5 0h6m-5 0h6m-4 0h6m-5 0h6m-4 0h6m-5 0h6m-5 0h6m-4 0h6m-2 0h6m0 0h6m-3 0h6m-5 0h6" stroke-width="6"/><path d="M211 2h4m4 3h4m-34 5h4m17 2h4m-26 3h4m9 0h4m-29 1h4m18 2h4m-40 1h4m-3 0h4m19 1h4m19 0h4m-51 1h4m24 0h4m-47 2h4m27 0h4m-1 0h4m10 1h4m15 0h4m-21 1h4m-35 1h4m-1 0h4m17 0h4m-6 1h4m-2 0h4m-1 0h4m-19 1h4m-33 1h4m33 0h4m13 0h4m-62 1h4m2 0h4m16 0h4m9 0h4m-2 0h4m0 0h4m4 0h4m7 0h4m-43 1h4m1 0h4m5 0h4m16 0h4m-69 1h4m43 0h4m0 0h4m2 0h4m3 0h4m-23 1h4m6 0h4m6 0h4m-53 1h4m14 0h4m-2 0h4m0 0h4m22 0h4m-3 0h4m-83 1h4m7 0h4m0 0h4m44 0h4m30 0h4m-74 1h4m-3 0h4m-2 0h4m9 0h4m4 0h4m17 0h4m-3 0h4m6 0h4m-66 1h4m2 0h4m-1 0h4m-3 0h4m-1 0h4m0 0h4m-3 0h4m26 0h4m6 0h4m-39 1h4m-3 0h4m7 0h4m11 0h4m0 0h4m13 0h4m-87 1h4m7 0h4m-3 0h4m-2 0h4m-2 0h4m0 0h4m-3 0h4m17 0h4m-1 0h4m5 0h4m16 0h4m-2 0h4m-101 1h4m3 0h4m8 0h4m4 0h4m26 0h4m0 0h4m7 0h4m0 0h4m-1 0h4m-70 1h4m-1 0h4m20 0h4m5 0h4m-1 0h4m-1 0h4m1 0h4m4 0h4m-2 0h4m0 0h4m0 0h4m-3 0h4m20 0h4m-93 1h4m10 0h4m2 0h4m2 0h4m-3 0h4m5 0h4m3 0h4m13 0h4m-65 1h4m-3 0h4m2 0h4m-2 0h4m14 0h4m1 0h4m7 0h4m8 0h4m11 0h4m-107 1h4m30 0h4m-1 0h4m2 0h4m11 0h4m1 0h4m-1 0h4m-3 0h4m1 0h4m8 0h4m0 0h4m7 0h4m4 0h4m-1 0h4m-2 0h4m10 0h4m-91 1h4m0 0h4m2 0h4m-1 0h4m1 0h4m-3 0h4m-2 0h4m-3 0h4m1 0h4m-2 0h4m0 0h4m-3 0h4m-1 0h4m1 0h4m0 0h4m2 0h4m4 0h4m-3 0h4m-3 0h4m-63 1h4m-3 0h4m-2 0h4m1 0h4m-3 0h4m0 0h4m5 0h4m-2 0h4m-3 0h4m-2 0h4m6 0h4m-2 0h4m4 0h4m-3 0h4m4 0h4m2 0h4m11 0h4m-113 1h4m1 0h4m9 0h4m2 0h4m26 0h4m-2 0h4m-2 0h4m-3 0h4m-2 0h4m-2 0h4m-3 0h4m2 0h4m-1 0h4m0 0h4m-1 0h4m2 0h4m7 0h4m-82 1h4m6 0h4m3 0h4m9 0h4m0 0h4m-1 0h4m-3 0h4m-3 0h4m0 0h4m0 0h4m3 0h4m-1 0h4m18 0h4m-85 1h4m-3 0h4m-1 0h4m2 0h4m-2 0h4m10 0h4m-1 0h4m-3 0h4m2 0h4m-3 0h4m-3 0h4m-1 0h4m-3 0h4m-3 0h4m-1 0h4m3 0h4m-3 0h4m-3 0h4m-3 0h4m-3 0h4m-3 0h4m-1 0h4m-3 0h4m2 0h4m-1 0h4m-1 0h4m9 0h4m6 0h4m-93 1h4m4 0h4m-2 0h4m4 0h4m-3 0h4m-3 0h4m-3 0h4m-2 0h4m-1 0h4m-3 0h4m-1 0h4m2 0h4m-1 0h4m1 0h4m0 0h4m-2 0h4m-3 0h4m-2 0h4m-3 0h4m-3 0h4m6 0h4m-64 1h4m-1 0h4m16 0h4m-3 0h4m1 0h4m-1 0h4m4 0h4m12 0h4m15 0h4m-104 1h4m12 0h4m1 0h4m-3 0h4m-2 0h4m2 0h4m6 0h4m-2 0h4m-1 0h4m-3 0h4m-2 0h4m1 0h4m-3 0h4m3 0h4m0 0h4m3 0h4m40 0h4m-125 1h4m12 0h4m-3 0h4m-3 0h4m14 0h4m-3 0h4m0 0h4m3 0h4m1 0h4m-2 0h4m-3 0h4m-1 0h4m-3 0h4m-1 0h4m-1 0h4m-1 0h4m4 0h4m0 0h4m9 0h4m-81 1h4m7 0h4m-2 0h4m-1 0h4m0 0h4m-1 0h4m3 0h4m1 0h4m-2 0h4m0 0h4m-2 0h4m5 0h4m-2 0h4m0 0h4m-3 0h4m5 0h4m-2 0h4m0 0h4m-2 0h4m-3 0h4m-3 0h4m-3 0h4m-3 0h4m-93 1h4m-1 0h4m3 0h4m4 0h4m1 0h4m-1 0h4m-2 0h4m-3 0h4m-1 0h4m0 0h4m-3 0h4m-3 0h4m-3 0h4m6 0h4m0 0h4m-1 0h4m-3 0h4m-1 0h4m2 0h4m-3 0h4m1 0h4m1 0h4m-3 0h4m2 0h4m-2 0h4m10 0h4m-123 1h4m13 0h4m11 0h4m-3 0h4m-1 0h4m-2 0h4m-1 0h4m-3 0h4m0 0h4m-3 0h4m-2 0h4m-2 0h4m-3 0h4m-3 0h4m-3 0h4m-3 0h4m-3 0h4m-2 0h4m8 0h4m-1 0h4m1 0h4m-1 0h4m2 0h4m-1 0h4m4 0h4m-3 0h4m27 0h4m-140 1h4m33 0h4m4 0h4m1 0h4m-3 0h4m-2 0h4m0 0h4m-2 0h4m5 0h4m-3 0h4m-3 0h4m-2 0h4m-1 0h4m0 0h4m4 0h4m4 0h4m-1 0h4m-3 0h4m10 0h4m4 0h4m-111 1h4m2 0h4m8 0h4m0 0h4m2 0h4m7 0h4m-2 0h4m-3 0h4m-3 0h4m-3 0h4m-2 0h4m-1 0h4m-2 0h4m-1 0h4m-2 0h4m-3 0h4m-2 0h4m-1 0h4m-3 0h4m-1 0h4m-1 0h4m3 0h4m-74 1h4m20 0h4m0 0h4m-3 0h4m7 0h4m0 0h4m-3 0h4m-1 0h4m-1 0h4m-2 0h4m2 0h4m-1 0h4m-3 0h4m-2 0h4m-3 0h4m-3 0h4m1 0h4m8 0h4m-69 1h4m-2 0h4m3 0h4m-3 0h4m-1 0h4m-2 0h4m0 0h4m-2 0h4m-3 0h4m-1 0h4m-1 0h4m-1 0h4m-2 0h4m0 0h4m-3 0h4m-1 0h4m-1 0h4m1 0h4m1 0h4m0 0h4m1 0h4m-66 1h4m0 0h4m2 0h4m-1 0h4m2 0h4m2 0h4m3 0h4m-3 0h4m-3 0h4m-3 0h4m-2 0h4m-3 0h4m-2 0h4m0 0h4m4 0h4m-1 0h4m0 0h4m-2 0h4m-1 0h4m-3 0h4m-72 1h4m-2 0h4m2 0h4m0 0h4m-3 0h4m2 0h4m-3 0h4m1 0h4m-3 0h4m2 0h4m-2 0h4m-2 0h4m-3 0h4m20 0h4m-2 0h4m-2 0h4m-3 0h4m4 0h4m-95 1h4m3 0h4m5 0h4m1 0h4m1 0h4m-1 0h4m1 0h4m-2 0h4m-1 0h4m1 0h4m3 0h4m4 0h4m0 0h4m-3 0h4m-1 0h4m-1 0h4m-58 1h4m-2 0h4m1 0h4m4 0h4m0 0h4m-3 0h4m0 0h4m-2 0h4m-2 0h4m-2 0h4m-3 0h4m-3 0h4m1 0h4m-3 0h4m-1 0h4m-3 0h4m2 0h4m-1 0h4m3 0h4m-3 0h4m22 0h4m-115 1h4m-3 0h4m19 0h4m10 0h4m-2 0h4m5 0h4m-3 0h4m-2 0h4m-2 0h4m-3 0h4m1 0h4m-1 0h4m-3 0h4m3 0h4m-2 0h4m0 0h4m-98 1h4m42 0h4m-1 0h4m7 0h4m0 0h4m-3 0h4m-3 0h4m-1 0h4m-1 0h4m-2 0h4m-1 0h4m-3 0h4m-3 0h4m-2 0h4m0 0h4m5 0h4m-1 0h4m-1 0h4m10 0h4m-92 1h4m25 0h4m-3 0h4m-3 0h4m1 0h4m8 0h4m5 0h4m-3 0h4m9 0h4m-96 1h4m29 0h4m1 0h4m-3 0h4m4 0h4m3 0h4m8 0h4m-2 0h4m-3 0h4m-3 0h4m2 0h4m8 0h4m10 0h4m-116 1h4m62 0h4m5 0h4m-3 0h4m-1 0h4m-2 0h4m-2 0h4m-2 0h4m5 0h4m-2 0h4m1 0h4m-1 0h4m5 0h4m-48 1h4m-1 0h4m1 0h4m0 0h4m-3 0h4m-1 0h4m0 0h4m0 0h4m-56 1h4m9 0h4m8 0h4m-1 0h4m-2 0h4m10 0h4m-1 0h4m-3 0h4m1 0h4m1 0h4m-66 1h4m3 0h4m1 0h4m14 0h4m0 0h4m6 0h4m9 0h4m-3 0h4m-51 1h4m5 0h4m10 0h4m-3 0h4m-3 0h4m1 0h4m2 0h4m3 0h4m-1 0h4m-49 1h4m8 0h4m3 0h4m6 0h4m10 0h4m1 0h4m-69 1h4m16 0h4m5 0h4m5 0h4m6 0h4m10 0h4m18 0h4m-80 1h4m-1 0h4m10 0h4m-3 0h4m-3 0h4m3 0h4m0 0h4m-3 0h4m-2 0h4m0 0h4m-1 0h4m-2 0h4m5 0h4m8 0h4m-74 1h4m6 0h4m-1 0h4m2 0h4m4 0h4m4 0h4m0 0h4m0 0h4m-3 0h4m-2 0h4m2 0h4m-2 0h4m-73 1h4m-3 0h4m31 0h4m4 0h4m4 0h4m9 0h4m16 0h4m-61 1h4m8 0h4m0 0h4m5 0h4m2 0h4m-1 0h4m11 0h4m6 0h4m-77 1h4m-1 0h4m-1 0h4m-3 0h4m5 0h4m14 0h4m7 0h4m-3 0h4m-3 0h4m0 0h4m3 0h4m-48 1h4m4 0h4m8 0h4m-1 0h4m-1 0h4m-3 0h4m10 0h4m0 0h4m-49 1h4m-2 0h4m10 0h4m24 0h4m-3 0h4m-1 0h4m-71 1h4m1 0h4m-3 0h4m31 0h4m-1 0h4m-2 0h4m0 0h4m-3 0h4m0 0h4m-1 0h4m-1 0h4m-2 0h4m-78 1h4m1 0h4m29 0h4m10 0h4m-3 0h4m-1 0h4m-1 0h4m-1 0h4m6 0h4m-29 1h4m-3 0h4m-2 0h4m14 0h4m0 0h4m-2 0h4m5 0h4m-52 1h4m-1 0h4m15 0h4m5 0h4m2 0h4m-3 0h4m9 0h4m-53 1h4m-2 0h4m-1 0h4m7 0h4m-3 0h4m-2 0h4m14 0h4m13 0h4m-56 1h4m7 0h4m-1 0h4m-1 0h4m-1 0h4m10 0h4m-1 0h4m-49 1h4m6 0h4m-2 0h4m1 0h4m0 0h4m0 0h4m-2 0h4m6 0h4m-60 1h4m-1 0h4m18 0h4m-3 0h4m-3 0h4m6 0h4m-2 0h4m-1 0h4m0 0h4m-2 0h4m2 0h4m0 0h4m-48 1h4m-2 0h4m12 0h4m6 0h4m5 0h4m-32 1h4m12 0h4m5 0h4m4 0h4m11 0h4m-55 1h4m1 0h4m1 0h4m0 0h4m-2 0h4m-3 0h4m-3 0h4m4 0h4m22 0h4m-58 1h4m4 0h4m1 0h4m-1 0h4m2 0h4m4 0h4m-33 1h4m4 0h4m3 0h4m-2 0h4m-1 0h4m-3 0h4m0 0h4m-3 0h4m-1 0h4m0 0h4m-34 1h4m9 0h4m-3 0h4m0 0h4m-3 0h4m-3 0h4m4 0h4m-30 1h4m-1 0h4m-2 0h4m1 0h4m6 0h4m-1 0h4m3 0h4m-1 0h4m-38 1h4m-1 0h4m0 0h4m18 0h4m-33 1h4m2 0h4m1 0h4m-3 0h4m-1 0h4m-3 0h4m-2 0h4m-2 0h4m9 0h4m2 0h4m-90 1h4m51 0h4m6 0h4m-3 0h4m-2 0h4m-2 0h4m-2 0h4m0 0h4m9 0h4m-60 1h4m4 0h4m8 0h4m0 0h4m5 0h4m-2 0h4m0 0h4m12 0h4m-87 1h4m19 0h4m10 0h4m2 0h4m5 0h4m13 0h4m7 0h4m-1 0h4m-41 1h4m-1 0h4m0 0h4m12 0h4m2 0h4m-37 1h4m-2 0h4m-3 0h4m-1 0h4m-2 0h4m-2 0h4m2 0h4m4 0h4m0 0h4m-3 0h4m1 0h4m5 0h4m-57 1h4m2 0h4m4 0h4m6 0h4m-3 0h4m0 0h4m-2 0h4m0 0h4m-3 0h4m1 0h4m-60 1h4m4 0h4m6 0h4m5 0h4m-1 0h4m1 0h4m-3 0h4m-1 0h4m0 0h4m0 0h4m-3 0h4m-3 0h4m5 0h4m-43 1h4m4 0h4m-2 0h4m4 0h4m-1 0h4m1 0h4m-2 0h4m1 0h4m20 0h4m-132 1h4m70 0h4m1 0h4m3 0h4m2 0h4m-2 0h4m-3 0h4m12 0h4m-2 0h4m-56 1h4m6 0h4m0 0h4m-2 0h4m-3 0h4m0 0h4m-1 0h4m-1 0h4m-3 0h4m3 0h4m10 0h4m-133 1h4m75 0h4m-3 0h4m0 0h4m0 0h4m3 0h4m6 0h4m-3 0h4m6 0h4m-1 0h4m-42 1h4m3 0h4m0 0h4m3 0h4m6 0h4m-3 0h4m11 0h4m-56 1h4m5 0h4m0 0h4m3 0h4m4 0h4m-3 0h4m-3 0h4m-3 0h4m0 0h4m9 0h4m-2 0h4m-3 0h4m-42 1h4m6 0h4m-3 0h4m-3 0h4m-2 0h4m-2 0h4m-3 0h4m-3 0h4m3 0h4m-31 1h4m-1 0h4m-3 0h4m0 0h4m-2 0h4m-3 0h4m0 0h4m4 0h4m0 0h4m9 0h4m-92 1h4m41 0h4m4 0h4m-1 0h4m-3 0h4m3 0h4m-3 0h4m-2 0h4m-2 0h4m-2 0h4m-3 0h4m-1 0h4m2 0h4m-2 0h4m3 0h4m6 0h4m-88 1h4m24 0h4m-1 0h4m9 0h4m2 0h4m-1 0h4m3 0h4m-1 0h4m9 0h4m-81 1h4m42 0h4m-2 0h4m7 0h4m-3 0h4m0 0h4m2 0h4m-2 0h4m-2 0h4m4 0h4m-55 1h4m-1 0h4m3 0h4m1 0h4m-2 0h4m0 0h4m1 0h4m-3 0h4m0 0h4m-96 1h4m63 0h4m-2 0h4m0 0h4m3 0h4m1 0h4m3 0h4m-1 0h4m6 0h4m5 0h4m-64 1h4m0 0h4m7 0h4m-3 0h4m-3 0h4m-3 0h4m0 0h4m1 0h4m-3 0h4m-2 0h4m-2 0h4m0 0h4m-1 0h4m1 0h4m4 0h4m-3 0h4m0 0h4m8 0h4m-119 1h4m7 0h4m39 0h4m8 0h4m-2 0h4m-2 0h4m-2 0h4m-1 0h4m-2 0h4m-1 0h4m-3 0h4m-3 0h4m-66 1h4m37 0h4m3 0h4m-3 0h4m-2 0h4m-3 0h4m-3 0h4m5 0h4m0 0h4m-3 0h4m-3 0h4m3 0h4m-80 1h4m1 0h4m37 0h4m-2 0h4m-2 0h4m-2 0h4m-1 0h4m-3 0h4m-3 0h4m-3 0h4m-1 0h4m-1 0h4m-1 0h4m-2 0h4m-79 1h4m41 0h4m3 0h4m2 0h4m3 0h4m-3 0h4m-3 0h4m-1 0h4m-3 0h4m-1 0h4m-96 1h4m45 0h4m2 0h4m0 0h4m-2 0h4m-1 0h4m-2 0h4m4 0h4m-1 0h4m-3 0h4m-3 0h4m-3 0h4m13 0h4m-3 0h4m-82 1h4m33 0h4m6 0h4m-3 0h4m-3 0h4m-3 0h4m-3 0h4m-3 0h4m-2 0h4m-2 0h4m11 0h4m5 0h4m24 0h4m-110 1h4m5 0h4m23 0h4m3 0h4m2 0h4m4 0h4m-2 0h4m1 0h4m5 0h4m1 0h4m-87 1h4m14 0h4m24 0h4m-3 0h4m1 0h4m2 0h4m-3 0h4m-1 0h4m0 0h4m3 0h4m1 0h4m0 0h4m-79 1h4m1 0h4m35 0h4m1 0h4m-3 0h4m-3 0h4m-1 0h4m-3 0h4m-2 0h4m0 0h4m-3 0h4m-1 0h4m3 0h4m10 0h4m-112 1h4m-3 0h4m46 0h4m-3 0h4m0 0h4m0 0h4m-2 0h4m-1 0h4m-2 0h4m-2 0h4m-2 0h4m1 0h4m5 0h4m0 0h4m6 0h4m5 0h4m-66 1h4m-3 0h4m7 0h4m-3 0h4m1 0h4m-2 0h4m17 0h4m-3 0h4m-3 0h4m3 0h4m-2 0h4m-102 1h4m19 0h4m25 0h4m5 0h4m-2 0h4m-3 0h4m3 0h4m-2 0h4m-2 0h4m1 0h4m-2 0h4m-3 0h4m10 0h4m-102 1h4m54 0h4m14 0h4m-2 0h4m1 0h4m-81 1h4m9 0h4m23 0h4m-1 0h4m2 0h4m0 0h4m6 0h4m4 0h4m-2 0h4m0 0h4m-1 0h4m2 0h4m0 0h4m-3 0h4m2 0h4m4 0h4m-144 1h4m19 0h4m16 0h4m33 0h4m-2 0h4m14 0h4m3 0h4m1 0h4m-100 1h4m2 0h4m-1 0h4m7 0h4m-3 0h4m35 0h4m2 0h4m-3 0h4m2 0h4m4 0h4m0 0h4m-2 0h4m4 0h4m8 0h4m15 0h4m-115 1h4m1 0h4m40 0h4m1 0h4m-3 0h4m-2 0h4m3 0h4m-3 0h4m-2 0h4m-3 0h4m9 0h4m-3 0h4m-1 0h4m-2 0h4m0 0h4m-65 1h4m4 0h4m8 0h4m-1 0h4m-2 0h4m-3 0h4m1 0h4m-1 0h4m-1 0h4m1 0h4m2 0h4m-3 0h4m9 0h4m0 0h4m-149 1h4m38 0h4m17 0h4m44 0h4m3 0h4m-3 0h4m-1 0h4m-2 0h4m6 0h4m1 0h4m4 0h4m1 0h4m-123 1h4m9 0h4m11 0h4m14 0h4m25 0h4m-2 0h4m7 0h4m-3 0h4m-1 0h4m-3 0h4m3 0h4m-72 1h4m8 0h4m8 0h4m-1 0h4m-3 0h4m-3 0h4m-1 0h4m2 0h4m-3 0h4m8 0h4m20 0h4m7 0h4m16 0h4m-150 1h4m28 0h4m10 0h4m34 0h4m-3 0h4m-2 0h4m3 0h4m-1 0h4m-3 0h4m-103 1h4m60 0h4m8 0h4m11 0h4m2 0h4m10 0h4m-2 0h4m2 0h4m-108 1h4m3 0h4m7 0h4m2 0h4m10 0h4m44 0h4m44 0h4m-130 1h4m11 0h4m6 0h4m-1 0h4m8 0h4m-3 0h4m-3 0h4m15 0h4m4 0h4m30 0h4m-126 1h4m-1 0h4m5 0h4m32 0h4m20 0h4m1 0h4m5 0h4m-3 0h4m5 0h4m0 0h4m8 0h4m6 0h4m-73 1h4m-3 0h4m-3 0h4m4 0h4m12 0h4m5 0h4m0 0h4m4 0h4m7 0h4m2 0h4m-107 1h4m13 0h4m1 0h4m-2 0h4m1 0h4m-1 0h4m4 0h4m23 0h4m20 0h4m21 0h4m-135 1h4m18 0h4m6 0h4m18 0h4m1 0h4m34 0h4m10 0h4m-2 0h4m-84 1h4m-1 0h4m-2 0h4m6 0h4m19 0h4m7 0h4m-2 0h4m3 0h4m6 0h4m-2 0h4m-3 0h4m-1 0h4m-1 0h4m7 0h4m-107 1h4m3 0h4m15 0h4m18 0h4m9 0h4m7 0h4m-3 0h4m10 0h4m-58 1h4m-1 0h4m17 0h4m2 0h4m1 0h4m-2 0h4m8 0h4m38 0h4m-125 1h4m3 0h4m-2 0h4m-3 0h4m14 0h4m-1 0h4m-1 0h4m-1 0h4m14 0h4m-3 0h4m30 0h4m6 0h4m6 0h4m5 0h4m-149 1h4m6 0h4m19 0h4m-1 0h4m1 0h4m-2 0h4m-1 0h4m5 0h4m0 0h4m20 0h4m11 0h4m-78 1h4m5 0h4m-2 0h4m-3 0h4m3 0h4m4 0h4m2 0h4m-3 0h4m2 0h4m27 0h4m1 0h4m3 0h4m6 0h4m-105 1h4m18 0h4m6 0h4m53 0h4m32 0h4m-136 1h4m2 0h4m5 0h4m33 0h4m-3 0h4m25 0h4m4 0h4m1 0h4m-86 1h4m12 0h4m5 0h4m6 0h4m71 0h4m-104 1h4m3 0h4m2 0h4m-3 0h4m-2 0h4m12 0h4m-3 0h4m3 0h4m11 0h4m4 0h4m-62 1h4m10 0h4m-1 0h4m1 0h4m28 0h4m34 0h4m2 0h4m-135 1h4m3 0h4m6 0h4m-1 0h4m8 0h4m-3 0h4m4 0h4m0 0h4m17 0h4m104 0h4m-193 1h4m20 0h4m0 0h4m-1 0h4m8 0h4m0 0h4m3 0h4m1 0h4m3 0h4m15 0h4m21 0h4m15 0h4m6 0h4m-2 0h4m29 0h4m-152 1h4m3 0h4m6 0h4m-1 0h4m5 0h4m2 0h4m51 0h4m8 0h4m-107 1h4m5 0h4m5 0h4m30 0h4m24 0h4m9 0h4m2 0h4m8 0h4m20 0h4m-162 1h4m17 0h4m5 0h4m0 0h4m3 0h4m25 0h4m50 0h4m1 0h4m2 0h4m21 0h4m9 0h4m-172 1h4m7 0h4m21 0h4m7 0h4m-3 0h4m1 0h4m-3 0h4m-1 0h4m76 0h4m-115 1h4m-2 0h4m-3 0h4m6 0h4m19 0h4m-77 1h4m7 0h4m35 0h4m10 0h4m3 0h4m13 0h4m-57 1h4m-1 0h4m3 0h4m0 0h4m0 0h4m-2 0h4m-2 0h4m-3 0h4m17 0h4m0 0h4m57 0h4m-110 1h4m-3 0h4m-2 0h4m21 0h4m18 0h4m52 0h4m43 0h4m-164 1h4m22 0h4m5 0h4m-2 0h4m-2 0h4m4 0h4m-2 0h4m-3 0h4m97 0h4m-155 1h4m36 0h4m-1 0h4m39 0h4m-81 1h4m8 0h4m12 0h4m2 0h4m-71 1h4m27 0h4m0 0h4m4 0h4m2 0h4m7 0h4m-1 0h4m26 0h4m45 0h4m42 0h4m-168 1h4m0 0h4m19 0h4m2 0h4m108 0h4m-162 1h4m16 0h4m12 0h4m2 0h4m3 0h4m-2 0h4m2 0h4m1 0h4m78 0h4m-142 1h4m16 0h4m2 0h4m15 0h4m2 0h4m64 0h4m-119 1h4m12 0h4m0 0h4m8 0h4m-3 0h4m9 0h4m33 0h4m30 0h4m-124 1h4m12 0h4m-2 0h4m11 0h4m-2 0h4m-3 0h4m9 0h4m-3 0h4m1 0h4m20 0h4m0 0h4m-77 1h4m21 0h4m4 0h4m-3 0h4m13 0h4m1 0h4m66 0h4m-135 1h4m1 0h4m8 0h4m16 0h4m-3 0h4m1 0h4m14 0h4m-39 1h4m1 0h4m15 0h4m58 0h4m-154 1h4m18 0h4m19 0h4m17 0h4m0 0h4m24 0h4m36 0h4m44 0h4m9 0h4m-164 1h4m9 0h4m9 0h4m-3 0h4m87 0h4m0 0h4m6 0h4m-2 0h4m-149 1h4m13 0h4m1 0h4m-1 0h4m1 0h4m30 0h4m8 0h4m15 0h4m-91 1h4m12 0h4m11 0h4m5 0h4m17 0h4m4 0h4m-74 1h4m10 0h4m15 0h4m5 0h4m54 0h4m-94 1h4m5 0h4m5 0h4m109 0h4m-123 1h4m3 0h4m-1 0h4m-30 1h4m7 0h4m3 0h4m12 0h4m14 0h4m-45 1h4m117 0h4m-123 1h4m116 0h4m-136 1h4m12 0h4m52 0h4m-40 1h4m-1 0h4m126 0h4m-149 1h4m3 0h4m3 0h4m93 0h4m-149 1h4m19 0h4m3 0h4m-2 0h4m108 0h4m-35 1h4m-110 1h4m31 1h4m-3 0h4m10 0h4m-36 1h4m13 0h4m-45 1h4m59 0h4m-63 2h4m107 0h4m5 0h4m-73 1h4m-58 1h4m27 0h4m6 0h4m8 0h4m-21 2h4m70 0h4m-119 1h4m13 0h4m-27 3h4m23 0h4m0 0h4m24 2h4m49 0h4m-97 2h4m9 0h4m0 0h4m-1 0h4m-1 0h4m109 0h4" stroke-width="4"/></g>
<g font-size="7" fill="#000" stroke="#000" stroke-width=".22">
<text x="55.7" y="8.1">5.9%</text>
<text x="2.8" y="25.8">79.0</text>
<text x="3.4" y="34.4">%</text>
<text x="48.9" y="37.3">15.0%</text>
</g>
</g>
<g transform="translate(439.1 24.1)">
<path d="M0 0H73.4V55.1" fill="none" stroke="#333" stroke-width="1"/>
<path d="M22.7 0V55.1M0 18.7H73.4" fill="none" stroke="#111" stroke-width="1.25"/>
<path d="M0.15 -0.5V55.9" stroke="#000" stroke-width="1.8" fill="none"/>
<path d="M-1.3 55.1H73.9" stroke="#000" stroke-width="2.1" fill="none"/>
<path d="M0.2 55.1v2.9M0 54.8h-2.7M5.7 55.1v2.1M0 50.7h-1.8M8.9 55.1v2.1M0 48.3h-1.8M11.2 55.1v2.1M0 46.6h-1.8M12.9 55.1v2.1M0 45.2h-1.8M14.4 55.1v2.1M0 44.1h-1.8M15.6 55.1v2.1M0 43.2h-1.8M16.6 55.1v2.1M0 42.4h-1.8M17.6 55.1v2.1M0 41.7h-1.8M18.4 55.1v2.9M0 41.1h-2.7M23.9 55.1v2.1M0 37.0h-1.8M27.1 55.1v2.1M0 34.6h-1.8M29.4 55.1v2.1M0 32.9h-1.8M31.1 55.1v2.1M0 31.5h-1.8M32.6 55.1v2.1M0 30.4h-1.8M33.8 55.1v2.1M0 29.5h-1.8M34.8 55.1v2.1M0 28.7h-1.8M35.8 55.1v2.1M0 28.0h-1.8M36.6 55.1v2.9M0 27.4h-2.7M42.1 55.1v2.1M0 23.3h-1.8M45.3 55.1v2.1M0 20.9h-1.8M47.6 55.1v2.1M0 19.2h-1.8M49.3 55.1v2.1M0 17.8h-1.8M50.8 55.1v2.1M0 16.7h-1.8M52.0 55.1v2.1M0 15.8h-1.8M53.0 55.1v2.1M0 15.0h-1.8M54.0 55.1v2.1M0 14.3h-1.8M54.8 55.1v2.9M0 13.7h-2.7M60.3 55.1v2.1M0 9.6h-1.8M63.5 55.1v2.1M0 7.2h-1.8M65.8 55.1v2.1M0 5.5h-1.8M67.5 55.1v2.1M0 4.1h-1.8M69.0 55.1v2.1M0 3.0h-1.8M70.2 55.1v2.1M0 2.1h-1.8M71.2 55.1v2.1M0 1.3h-1.8M72.2 55.1v2.1M0 0.6h-1.8M73.0 55.1v2.9M0 0.0h-2.7" stroke="#000" stroke-width="1" fill="none"/>
<g font-size="8.6" font-weight="bold" fill="#000" stroke="#000" stroke-width=".25">
<text transform="translate(-3.4 66.4) scale(.7 1)">10<tspan dx=".9" dy="-4.3" font-size="8">0</tspan></text>
<text transform="translate(-4.4 59.2) rotate(-90) scale(.7 1)">10<tspan dx=".9" dy="-4.3" font-size="8">0</tspan></text>
<text transform="translate(14.8 66.4) scale(.7 1)">10<tspan dx=".9" dy="-4.3" font-size="8">1</tspan></text>
<text transform="translate(-4.4 45.5) rotate(-90) scale(.7 1)">10<tspan dx=".9" dy="-4.3" font-size="8">1</tspan></text>
<text transform="translate(33.0 66.4) scale(.7 1)">10<tspan dx=".9" dy="-4.3" font-size="8">2</tspan></text>
<text transform="translate(-4.4 31.8) rotate(-90) scale(.7 1)">10<tspan dx=".9" dy="-4.3" font-size="8">2</tspan></text>
<text transform="translate(51.2 66.4) scale(.7 1)">10<tspan dx=".9" dy="-4.3" font-size="8">3</tspan></text>
<text transform="translate(-4.4 18.1) rotate(-90) scale(.7 1)">10<tspan dx=".9" dy="-4.3" font-size="8">3</tspan></text>
<text transform="translate(69.4 66.4) scale(.7 1)">10<tspan dx=".9" dy="-4.3" font-size="8">4</tspan></text>
<text transform="translate(-4.4 4.4) rotate(-90) scale(.7 1)">10<tspan dx=".9" dy="-4.3" font-size="8">4</tspan></text>
</g>
<text x="36.2" y="72.3" text-anchor="middle" font-size="6.2" font-weight="bold" fill="#000">AnnexinY-FITC</text>
<text transform="translate(-14.5 28.4) rotate(-90)" text-anchor="middle" font-size="6.6" font-weight="bold" fill="#000" stroke="#000" stroke-width=".2">PI</text>
<g transform="scale(.25)" stroke="#000" fill="none"><path d="M197 28h6m-8 4h6m-51 5h6m-2 2h6m19 0h6m5 0h6m-3 0h6m-12 1h6m35 0h6m-127 1h6m53 0h6m10 0h6m-69 1h6m14 0h6m12 0h6m39 1h6m-77 1h6m3 0h6m5 0h6m4 0h6m7 0h6m16 0h6m8 0h6m-33 1h6m-2 0h6m16 1h6m-71 1h6m13 0h6m-2 0h6m-20 1h6m10 0h6m-26 1h6m-3 0h6m0 0h6m38 0h6m-63 1h6m10 0h6m-5 0h6m-2 0h6m-12 1h6m44 0h6m44 0h6m-148 1h6m-2 0h6m5 0h6m18 0h6m-2 0h6m-3 0h6m-2 0h6m-3 0h6m-1 0h6m-40 1h6m-3 0h6m-1 0h6m-3 0h6m3 0h6m-3 0h6m-4 0h6m-2 0h6m-2 0h6m4 0h6m31 0h6m-86 1h6m-5 0h6m9 0h6m2 0h6m6 0h6m-2 0h6m-3 0h6m-3 0h6m6 0h6m-93 1h6m12 0h6m16 0h6m-5 0h6m-3 0h6m0 0h6m1 0h6m3 0h6m2 0h6m-3 0h6m4 0h6m3 0h6m-80 1h6m-5 0h6m3 0h6m8 0h6m-5 0h6m6 0h6m4 0h6m5 0h6m5 0h6m-86 1h6m-5 0h6m3 0h6m4 0h6m-4 0h6m-4 0h6m-4 0h6m-2 0h6m0 0h6m-5 0h6m-4 0h6m2 0h6m6 0h6m-5 0h6m-1 0h6m16 0h6m-95 1h6m-2 0h6m6 0h6m6 0h6m-4 0h6m-3 0h6m3 0h6m-1 0h6m2 0h6m0 0h6m-5 0h6m2 0h6m-5 0h6m18 0h6m-86 1h6m13 0h6m0 0h6m14 0h6m4 0h6m-4 0h6m-3 0h6m-1 0h6m1 0h6m-58 1h6m-4 0h6m-4 0h6m-1 0h6m-5 0h6m-1 0h6m-4 0h6m-3 0h6m4 0h6m1 0h6m2 0h6m-89 1h6m9 0h6m5 0h6m9 0h6m-3 0h6m-4 0h6m-5 0h6m-5 0h6m-4 0h6m4 0h6m11 0h6m-74 1h6m-2 0h6m-4 0h6m4 0h6m-4 0h6m3 0h6m-5 0h6m-1 0h6m2 0h6m12 0h6m-2 0h6m-104 1h6m20 0h6m0 0h6m-5 0h6m-5 0h6m-1 0h6m6 0h6m-2 0h6m-5 0h6m6 0h6m-4 0h6m0 0h6m-1 0h6m0 0h6m-3 0h6m-4 0h6m20 0h6m0 0h6m-99 1h6m-2 0h6m1 0h6m-3 0h6m-4 0h6m-1 0h6m-5 0h6m3 0h6m-4 0h6m2 0h6m-4 0h6m-3 0h6m-1 0h6m-3 0h6m-94 1h6m29 0h6m-5 0h6m4 0h6m-4 0h6m-4 0h6m-5 0h6m-2 0h6m-4 0h6m5 0h6m-5 0h6m3 0h6m-1 0h6m1 0h6m5 0h6m-3 0h6m-112 1h6m10 0h6m-1 0h6m22 0h6m-1 0h6m-3 0h6m-3 0h6m-5 0h6m-4 0h6m-3 0h6m-5 0h6m-5 0h6m-3 0h6m4 0h6m6 0h6m-3 0h6m-1 0h6m-73 1h6m7 0h6m9 0h6m-1 0h6m-4 0h6m-1 0h6m-5 0h6m0 0h6m-5 0h6m-5 0h6m7 0h6m-5 0h6m-2 0h6m6 0h6m9 0h6m-112 1h6m8 0h6m-2 0h6m1 0h6m15 0h6m4 0h6m-4 0h6m-5 0h6m1 0h6m-4 0h6m-3 0h6m-1 0h6m-3 0h6m-1 0h6m2 0h6m-92 1h6m-2 0h6m2 0h6m2 0h6m7 0h6m-3 0h6m-4 0h6m-3 0h6m-4 0h6m-5 0h6m-5 0h6m1 0h6m-5 0h6m-4 0h6m0 0h6m-4 0h6m3 0h6m4 0h6m-1 0h6m4 0h6m-104 1h6m9 0h6m-1 0h6m-5 0h6m-3 0h6m-4 0h6m-1 0h6m2 0h6m-5 0h6m-2 0h6m0 0h6m2 0h6m-4 0h6m-5 0h6m-5 0h6m-3 0h6m-1 0h6m5 0h6m-5 0h6m-99 1h6m11 0h6m5 0h6m-2 0h6m3 0h6m-2 0h6m-5 0h6m-3 0h6m-2 0h6m-4 0h6m0 0h6m-3 0h6m-5 0h6m-4 0h6m-5 0h6m4 0h6m-4 0h6m-1 0h6m17 0h6m-108 1h6m-4 0h6m1 0h6m-5 0h6m2 0h6m5 0h6m-3 0h6m-2 0h6m-5 0h6m-3 0h6m-4 0h6m-4 0h6m0 0h6m-5 0h6m3 0h6m-3 0h6m-5 0h6m11 0h6m9 0h6m-70 1h6m6 0h6m-4 0h6m2 0h6m0 0h6m-1 0h6m-3 0h6m3 0h6m-65 1h6m-4 0h6m1 0h6m-1 0h6m1 0h6m0 0h6m-4 0h6m-3 0h6m-4 0h6m-3 0h6m11 0h6m1 0h6m-5 0h6m7 0h6m2 0h6m-85 1h6m-3 0h6m-4 0h6m-5 0h6m0 0h6m14 0h6m-5 0h6m-5 0h6m-2 0h6m-1 0h6m-4 0h6m-5 0h6m0 0h6m-1 0h6m-2 0h6m10 0h6m-106 1h6m6 0h6m0 0h6m-2 0h6m0 0h6m2 0h6m-5 0h6m5 0h6m3 0h6m-2 0h6m-3 0h6m-5 0h6m-3 0h6m-5 0h6m6 0h6m-4 0h6m9 0h6m6 0h6m-103 1h6m23 0h6m7 0h6m12 0h6m0 0h6m-4 0h6m-2 0h6m1 0h6m10 0h6m-108 1h6m15 0h6m-3 0h6m-1 0h6m3 0h6m-4 0h6m4 0h6m-5 0h6m2 0h6m4 0h6m-2 0h6m-66 1h6m5 0h6m8 0h6m-1 0h6m-5 0h6m6 0h6m1 0h6m-1 0h6m-4 0h6m-2 0h6m-4 0h6m-5 0h6m17 0h6m-107 1h6m-2 0h6m13 0h6m-3 0h6m-4 0h6m0 0h6m-2 0h6m-4 0h6m3 0h6m-4 0h6m43 0h6m-2 0h6m-88 1h6m20 0h6m-4 0h6m-1 0h6m3 0h6m-1 0h6m11 0h6m-80 1h6m-1 0h6m5 0h6m10 0h6m-4 0h6m1 0h6m5 0h6m-2 0h6m-5 0h6m11 0h6m-114 1h6m0 0h6m12 0h6m0 0h6m-2 0h6m0 0h6m-4 0h6m14 0h6m-3 0h6m-1 0h6m0 0h6m-2 0h6m-52 1h6m-1 0h6m-5 0h6m11 0h6m-3 0h6m6 0h6m-1 0h6m5 0h6m2 0h6m5 0h6m-111 1h6m26 0h6m11 0h6m-3 0h6m44 0h6m-97 1h6m6 0h6m16 0h6m13 0h6m-4 0h6m5 0h6m15 0h6m-60 1h6m8 0h6m0 0h6m-35 1h6m7 0h6m36 1h6m-35 1h6m-48 1h6m-1 0h6m57 0h6m-57 1h6m2 0h6m17 0h6m-13 2h6m-4 0h6m-2 0h6m-24 1h6m-29 1h6m6 0h6m3 0h6m3 0h6m54 0h6m-60 2h6m-3 0h6m-28 12h6m-66 56h6m-54 4h6m25 1h6m21 0h6m-73 3h6m41 2h6m4 0h6m-20 1h6m4 0h6m-48 1h6m43 2h6m-32 2h6m11 0h6m-1 0h6m-77 1h6m40 0h6m-17 1h6m1 0h6m2 0h6m4 0h6m-3 0h6m16 0h6m-25 1h6m-47 1h6m28 0h6m-16 1h6m42 0h6m-61 1h6m8 0h6m6 0h6m-4 0h6m-3 0h6m-36 1h6m-5 0h6m1 0h6m8 0h6m-4 0h6m7 0h6m-33 1h6m1 0h6m-5 0h6m-5 0h6m-3 0h6m31 0h6m-84 1h6m0 0h6m20 0h6m3 0h6m-1 0h6m-41 1h6m11 0h6m-3 0h6m3 0h6m-44 1h6m-5 0h6m1 0h6m-2 0h6m-3 0h6m-5 0h6m-4 0h6m4 0h6m-3 0h6m-2 0h6m-36 1h6m-4 0h6m1 0h6m0 0h6m5 0h6m-5 0h6m0 0h6m10 0h6m-68 1h6m13 0h6m-4 0h6m2 0h6m-3 0h6m-3 0h6m6 0h6m4 0h6m-49 1h6m-3 0h6m-1 0h6m0 0h6m0 0h6m-5 0h6m-3 0h6m-5 0h6m-3 0h6m3 0h6m-47 1h6m4 0h6m2 0h6m-3 0h6m-5 0h6m5 0h6m5 0h6m-5 0h6m-61 1h6m23 0h6m-1 0h6m-4 0h6m-3 0h6m-3 0h6m-5 0h6m0 0h6m-2 0h6m7 0h6m-62 1h6m12 0h6m-4 0h6m-5 0h6m-5 0h6m-5 0h6m3 0h6m-5 0h6m5 0h6m5 0h6m-64 1h6m3 0h6m1 0h6m1 0h6m-4 0h6m-1 0h6m3 0h6m-57 1h6m8 0h6m4 0h6m2 0h6m-5 0h6m-5 0h6m5 0h6m1 0h6m19 0h6m-63 1h6m1 0h6m2 0h6m-5 0h6m-4 0h6m-4 0h6m-3 0h6m-5 0h6m-5 0h6m0 0h6m-4 0h6m-3 0h6m-5 0h6m-4 0h6m0 0h6m-4 0h6m-69 1h6m-4 0h6m13 0h6m-3 0h6m-5 0h6m-4 0h6m-5 0h6m-4 0h6m3 0h6m-2 0h6m-5 0h6m-3 0h6m-2 0h6m-4 0h6m-1 0h6m-49 1h6m-4 0h6m-3 0h6m-4 0h6m0 0h6m-5 0h6m-3 0h6m-5 0h6m2 0h6m-4 0h6m2 0h6m1 0h6m-73 1h6m19 0h6m-5 0h6m-1 0h6m-1 0h6m-1 0h6m-3 0h6m-5 0h6m-3 0h6m4 0h6m-4 0h6m4 0h6m-59 1h6m10 0h6m2 0h6m0 0h6m-5 0h6m7 0h6m-2 0h6m-5 0h6m7 0h6m-72 1h6m8 0h6m2 0h6m-2 0h6m-1 0h6m-5 0h6m-1 0h6m0 0h6m-4 0h6m-3 0h6m-2 0h6m-67 1h6m19 0h6m-4 0h6m-5 0h6m-5 0h6m8 0h6m-5 0h6m-5 0h6m0 0h6m10 0h6m-2 0h6m-73 1h6m8 0h6m2 0h6m-2 0h6m-5 0h6m2 0h6m-4 0h6m-5 0h6m2 0h6m-4 0h6m3 0h6m-52 1h6m4 0h6m1 0h6m-3 0h6m4 0h6m-3 0h6m-3 0h6m-49 1h6m-3 0h6m9 0h6m0 0h6m-2 0h6m-5 0h6m13 0h6m-1 0h6m-63 1h6m0 0h6m4 0h6m-3 0h6m-4 0h6m10 0h6m-4 0h6m-4 0h6m-4 0h6m-4 0h6m4 0h6m-39 1h6m-1 0h6m-5 0h6m0 0h6m-5 0h6m0 0h6m4 0h6m-3 0h6m-65 1h6m4 0h6m-1 0h6m17 0h6m-4 0h6m-2 0h6m-5 0h6m-3 0h6m16 0h6m-75 1h6m-2 0h6m2 0h6m-4 0h6m-1 0h6m-3 0h6m-2 0h6m-5 0h6m-5 0h6m-5 0h6m-3 0h6m-5 0h6m-5 0h6m-5 0h6m-5 0h6m-5 0h6m-5 0h6m-4 0h6m-5 0h6m-5 0h6m-5 0h6m-5 0h6m-5 0h6m-5 0h6m-5 0h6m-4 0h6m-5 0h6m-3 0h6m-5 0h6m-5 0h6m-4 0h6m-4 0h6m-5 0h6m-4 0h6m-5 0h6m-4 0h6m1 0h6m11 0h6" stroke-width="6"/><path d="M176 2h4m7 0h4m12 0h4m0 0h4m29 0h4m-65 2h4m34 0h4m-31 1h4m-20 9h4m-8 1h4m32 1h4m-54 2h4m20 0h4m2 0h4m15 0h4m11 0h4m-56 1h4m16 0h4m-18 5h4m-15 1h4m14 1h4m-32 2h4m43 3h4m-35 1h4m-2 0h4m24 0h4m-63 1h4m67 0h4m-23 1h4m-26 2h4m-17 1h4m2 0h4m8 0h4m53 0h4m-117 1h4m32 3h4m1 0h4m12 0h4m35 0h4m-53 1h4m0 0h4m3 0h4m10 0h4m-31 1h4m4 1h4m-2 0h4m-1 0h4m16 0h4m3 0h4m-67 1h4m25 0h4m29 0h4m-2 0h4m-3 0h4m-75 1h4m31 0h4m-22 1h4m-14 1h4m26 0h4m20 0h4m-1 0h4m-100 1h4m74 1h4m-26 1h4m7 0h4m27 0h4m-46 1h4m-1 0h4m7 0h4m-3 0h4m29 0h4m-93 1h4m18 0h4m3 0h4m20 0h4m-3 0h4m-21 1h4m-3 0h4m3 0h4m0 0h4m-1 0h4m43 0h4m-3 0h4m-86 1h4m25 0h4m69 0h4m-95 1h4m17 0h4m7 0h4m-1 0h4m27 0h4m-96 1h4m22 0h4m21 0h4m-30 1h4m4 0h4m1 0h4m-3 0h4m1 0h4m10 1h4m5 0h4m-41 1h4m-1 0h4m23 0h4m-36 1h4m18 0h4m2 0h4m-2 0h4m3 0h4m-1 1h4m-2 0h4m19 0h4m-87 1h4m23 0h4m3 0h4m5 0h4m-54 1h4m-3 0h4m10 0h4m9 0h4m0 1h4m24 0h4m0 0h4m-48 1h4m5 0h4m-2 0h4m7 0h4m13 0h4m-1 0h4m33 0h4m-90 1h4m43 0h4m-25 1h4m-2 0h4m-3 0h4m3 0h4m-30 1h4m-3 0h4m-2 0h4m12 0h4m4 0h4m-3 0h4m24 0h4m-51 1h4m19 0h4m2 0h4m5 0h4m0 0h4m3 0h4m-79 1h4m17 0h4m10 0h4m2 0h4m-58 1h4m18 0h4m2 0h4m25 0h4m-43 1h4m-3 0h4m3 0h4m3 0h4m11 0h4m-37 1h4m3 0h4m15 0h4m8 0h4m-23 1h4m-2 0h4m4 0h4m10 0h4m13 0h4m0 0h4m0 0h4m-78 1h4m28 0h4m14 0h4m0 0h4m4 0h4m-83 1h4m29 0h4m-1 0h4m18 0h4m5 0h4m-3 0h4m6 0h4m-93 1h4m34 0h4m10 0h4m14 0h4m3 0h4m-2 0h4m4 0h4m-68 1h4m29 0h4m5 0h4m-3 0h4m-2 0h4m2 0h4m16 0h4m-74 1h4m6 0h4m-14 1h4m21 0h4m9 0h4m0 0h4m5 0h4m2 0h4m11 0h4m-55 1h4m7 0h4m3 0h4m6 0h4m-54 1h4m4 0h4m1 0h4m5 0h4m8 0h4m17 0h4m8 0h4m-69 1h4m3 0h4m-2 0h4m5 0h4m9 0h4m9 0h4m2 0h4m-1 0h4m6 0h4m-73 1h4m10 0h4m4 0h4m0 0h4m2 0h4m10 0h4m1 0h4m13 0h4m7 0h4m-70 1h4m5 0h4m0 0h4m9 0h4m30 0h4m-90 1h4m23 0h4m15 0h4m4 0h4m1 0h4m17 0h4m-90 1h4m13 0h4m7 0h4m9 0h4m1 0h4m5 0h4m2 0h4m2 0h4m7 0h4m0 0h4m19 0h4m-87 1h4m-3 0h4m4 0h4m3 0h4m-3 0h4m23 0h4m14 0h4m3 0h4m-74 1h4m6 0h4m10 0h4m-3 0h4m-1 0h4m9 0h4m15 0h4m-74 1h4m17 0h4m4 0h4m2 0h4m-2 0h4m-3 0h4m0 0h4m-1 0h4m0 0h4m-2 0h4m-3 0h4m16 0h4m12 0h4m-93 1h4m32 0h4m9 0h4m6 0h4m0 0h4m-60 1h4m10 0h4m-1 0h4m-3 0h4m1 0h4m11 0h4m-2 0h4m6 0h4m3 0h4m-3 0h4m-77 1h4m-2 0h4m4 0h4m21 0h4m-3 0h4m8 0h4m13 0h4m-2 0h4m-1 0h4m-69 1h4m3 0h4m17 0h4m12 0h4m-1 0h4m0 0h4m40 0h4m-112 1h4m1 0h4m-1 0h4m25 0h4m-1 0h4m-2 0h4m-2 0h4m4 0h4m-3 0h4m-3 0h4m3 0h4m-2 0h4m0 0h4m1 0h4m-5 1h4m2 0h4m0 0h4m11 0h4m-73 1h4m6 0h4m21 0h4m24 0h4m0 0h4m-39 1h4m-2 0h4m7 0h4m5 0h4m-3 0h4m-78 1h4m12 0h4m2 0h4m4 0h4m9 0h4m4 0h4m3 0h4m-2 0h4m3 0h4m3 0h4m-2 0h4m5 0h4m-77 1h4m15 0h4m32 0h4m-3 0h4m-58 1h4m1 0h4m-2 0h4m-2 0h4m4 0h4m-3 0h4m-3 0h4m1 0h4m5 0h4m-1 0h4m-3 0h4m15 0h4m-3 0h4m4 0h4m-117 1h4m52 0h4m-2 0h4m12 0h4m1 0h4m16 0h4m2 0h4m12 0h4m-71 1h4m10 0h4m10 0h4m1 0h4m2 0h4m-2 0h4m27 0h4m-135 1h4m61 0h4m-2 0h4m6 0h4m-1 0h4m8 0h4m7 0h4m-79 1h4m12 0h4m-1 0h4m2 0h4m5 0h4m3 0h4m2 0h4m3 0h4m-2 0h4m3 0h4m1 0h4m10 0h4m2 0h4m8 0h4m-65 1h4m9 0h4m5 0h4m-46 1h4m29 0h4m-1 0h4m-1 0h4m-1 0h4m-1 0h4m1 0h4m-52 1h4m-2 0h4m15 0h4m2 0h4m-3 0h4m9 0h4m-2 0h4m2 0h4m-3 0h4m-26 1h4m-1 0h4m2 0h4m-1 0h4m0 0h4m-58 1h4m8 0h4m6 0h4m7 0h4m-2 0h4m8 0h4m1 0h4m-41 1h4m6 0h4m0 0h4m4 0h4m-1 0h4m8 0h4m-1 0h4m-42 1h4m45 0h4m4 0h4m-84 1h4m5 0h4m2 0h4m7 0h4m0 0h4m9 0h4m3 0h4m-45 1h4m-2 0h4m9 0h4m-2 0h4m2 0h4m41 0h4m-93 1h4m32 0h4m1 0h4m9 0h4m10 0h4m7 0h4m2 0h4m15 0h4m-83 1h4m25 0h4m9 0h4m0 0h4m7 0h4m7 0h4m-128 1h4m50 0h4m17 0h4m-3 0h4m-3 0h4m4 0h4m-1 0h4m-2 0h4m4 0h4m9 0h4m10 0h4m-104 1h4m33 0h4m-2 0h4m6 0h4m1 0h4m-3 0h4m-2 0h4m1 0h4m10 0h4m6 0h4m-59 1h4m-3 0h4m-2 0h4m0 0h4m-3 0h4m9 0h4m-2 0h4m-1 0h4m-1 0h4m-1 0h4m-3 0h4m8 0h4m3 0h4m17 0h4m-67 1h4m-3 0h4m-1 0h4m1 0h4m6 0h4m0 0h4m3 0h4m11 0h4m3 0h4m-77 1h4m11 0h4m-1 0h4m18 0h4m0 0h4m7 0h4m1 0h4m8 0h4m18 0h4m-115 1h4m0 0h4m22 0h4m9 0h4m6 0h4m-2 0h4m0 0h4m-2 0h4m15 0h4m7 0h4m-126 1h4m56 0h4m26 0h4m10 0h4m-3 0h4m-1 0h4m15 0h4m-2 0h4m-130 1h4m39 0h4m8 0h4m-1 0h4m13 0h4m4 0h4m3 0h4m1 0h4m-2 0h4m15 0h4m-1 0h4m-83 1h4m6 0h4m3 0h4m1 0h4m30 0h4m4 0h4m10 0h4m-99 1h4m24 0h4m5 0h4m-3 0h4m0 0h4m2 0h4m1 0h4m-2 0h4m9 0h4m-2 0h4m-58 1h4m10 0h4m18 0h4m4 0h4m2 0h4m-1 0h4m1 0h4m-1 0h4m1 0h4m24 0h4m-103 1h4m4 0h4m11 0h4m13 0h4m4 0h4m-3 0h4m9 0h4m-3 0h4m7 0h4m2 0h4m23 0h4m-138 1h4m-3 0h4m38 0h4m0 0h4m2 0h4m13 0h4m-3 0h4m-1 0h4m0 0h4m-1 0h4m2 0h4m23 0h4m-85 1h4m18 0h4m-2 0h4m5 0h4m0 0h4m-2 0h4m17 0h4m0 0h4m9 0h4m-1 0h4m0 0h4m-81 1h4m1 0h4m-3 0h4m-2 0h4m7 0h4m-3 0h4m-2 0h4m-2 0h4m-1 0h4m2 0h4m0 0h4m4 0h4m-1 0h4m32 0h4m-139 1h4m39 0h4m4 0h4m12 0h4m-2 0h4m26 0h4m1 0h4m-72 1h4m17 0h4m17 0h4m2 0h4m9 0h4m0 0h4m8 0h4m6 0h4m1 0h4m15 0h4m-114 1h4m-1 0h4m20 0h4m9 0h4m10 0h4m-2 0h4m-3 0h4m-3 0h4m3 0h4m9 0h4m16 0h4m15 0h4m-149 1h4m15 0h4m12 0h4m18 0h4m-1 0h4m6 0h4m-3 0h4m-2 0h4m-3 0h4m6 0h4m21 0h4m5 0h4m-107 1h4m41 0h4m2 0h4m-2 0h4m4 0h4m33 0h4m16 0h4m-128 1h4m0 0h4m5 0h4m10 0h4m31 0h4m-2 0h4m11 0h4m48 0h4m-107 1h4m-1 0h4m8 0h4m-2 0h4m0 0h4m1 0h4m12 0h4m-75 1h4m2 0h4m15 0h4m11 0h4m10 0h4m-2 0h4m20 0h4m-62 1h4m10 0h4m8 0h4m-3 0h4m22 0h4m13 0h4m13 0h4m22 0h4m-166 1h4m6 0h4m17 0h4m4 0h4m25 0h4m5 0h4m13 0h4m3 0h4m11 0h4m-3 0h4m33 0h4m-118 1h4m5 0h4m23 0h4m22 0h4m6 0h4m3 0h4m4 0h4m35 0h4m-148 1h4m39 0h4m5 0h4m11 0h4m3 0h4m3 0h4m9 0h4m4 0h4m26 0h4m-146 1h4m21 0h4m14 0h4m13 0h4m2 0h4m35 0h4m14 0h4m-123 1h4m77 0h4m-1 0h4m5 0h4m30 0h4m-3 0h4m-115 1h4m-2 0h4m5 0h4m21 0h4m24 0h4m-3 0h4m20 0h4m5 0h4m8 0h4m-142 1h4m13 0h4m62 0h4m14 0h4m-1 0h4m6 0h4m1 0h4m-125 1h4m7 0h4m13 0h4m3 0h4m47 0h4m-3 0h4m0 0h4m5 0h4m19 0h4m-133 1h4m23 0h4m17 0h4m-2 0h4m-2 0h4m11 0h4m17 0h4m-1 0h4m4 0h4m2 0h4m13 0h4m36 0h4m-114 1h4m14 0h4m6 0h4m1 0h4m1 0h4m1 0h4m0 0h4m0 0h4m-1 0h4m4 0h4m12 0h4m0 0h4m18 0h4m4 0h4m-3 0h4m-162 1h4m13 0h4m1 0h4m6 0h4m26 0h4m1 0h4m-3 0h4m9 0h4m9 0h4m4 0h4m8 0h4m11 0h4m-106 1h4m11 0h4m28 0h4m2 0h4m16 0h4m14 0h4m-1 0h4m-1 0h4m3 0h4m-3 0h4m-143 1h4m30 0h4m0 0h4m15 0h4m11 0h4m1 0h4m-1 0h4m8 0h4m3 0h4m4 0h4m-3 0h4m-69 1h4m32 0h4m1 0h4m-3 0h4m37 0h4m9 0h4m20 0h4m-146 1h4m12 0h4m32 0h4m17 0h4m5 0h4m-3 0h4m22 0h4m36 0h4m-168 1h4m15 0h4m-3 0h4m6 0h4m-2 0h4m21 0h4m-2 0h4m2 0h4m2 0h4m50 0h4m-156 1h4m30 0h4m29 0h4m2 0h4m-3 0h4m26 0h4m2 0h4m47 0h4m21 0h4m-151 1h4m4 0h4m6 0h4m19 0h4m22 0h4m4 0h4m1 0h4m5 0h4m29 0h4m-130 1h4m16 0h4m-3 0h4m20 0h4m-1 0h4m4 0h4m12 0h4m4 0h4m14 0h4m21 0h4m9 0h4m-158 1h4m10 0h4m8 0h4m42 0h4m-2 0h4m14 0h4m2 0h4m0 0h4m43 0h4m-3 0h4m-131 1h4m46 0h4m6 0h4m-70 1h4m3 0h4m3 0h4m-3 0h4m1 0h4m19 0h4m14 0h4m-79 1h4m14 0h4m3 0h4m9 0h4m2 0h4m1 0h4m1 0h4m10 0h4m-2 0h4m-1 0h4m-2 0h4m9 0h4m1 0h4m50 0h4m-127 1h4m3 0h4m31 0h4m21 0h4m3 0h4m22 0h4m5 0h4m13 0h4m-111 1h4m42 0h4m-2 0h4m3 0h4m15 0h4m-98 1h4m0 0h4m-1 0h4m7 0h4m-3 0h4m4 0h4m0 0h4m28 0h4m4 0h4m-89 1h4m1 0h4m-3 0h4m-3 0h4m1 0h4m0 0h4m2 0h4m11 0h4m2 0h4m-3 0h4m2 0h4m-3 0h4m4 0h4m-76 1h4m22 0h4m2 0h4m4 0h4m-3 0h4m6 0h4m44 0h4m3 0h4m4 0h4m17 0h4m16 0h4m-2 0h4m-135 1h4m13 0h4m4 0h4m28 0h4m23 0h4m25 0h4m-117 1h4m10 0h4m8 0h4m5 0h4m8 0h4m2 0h4m26 0h4m2 0h4m13 0h4m-104 1h4m18 0h4m1 0h4m-2 0h4m4 0h4m15 0h4m50 0h4m-119 1h4m5 0h4m-2 0h4m10 0h4m8 0h4m4 0h4m0 0h4m5 0h4m5 0h4m18 0h4m16 0h4m-133 1h4m21 0h4m-2 0h4m-3 0h4m-2 0h4m-1 0h4m0 0h4m13 0h4m10 0h4m11 0h4m24 0h4m-2 0h4m-98 1h4m4 0h4m27 0h4m36 0h4m3 0h4m26 0h4m-141 1h4m6 0h4m5 0h4m85 0h4m-84 1h4m-2 0h4m6 0h4m21 0h4m5 0h4m-68 1h4m6 0h4m-2 0h4m5 0h4m3 0h4m37 0h4m15 0h4m-81 1h4m12 0h4m13 0h4m55 0h4m-80 1h4m11 0h4m0 0h4m50 0h4m30 0h4m2 0h4m-150 1h4m12 0h4m26 0h4m37 0h4m5 0h4m3 0h4m30 0h4m-114 1h4m-2 0h4m93 0h4m3 0h4m4 0h4m-138 1h4m8 0h4m2 0h4m15 0h4m12 0h4m-59 1h4m11 0h4m17 0h4m-1 0h4m36 0h4m-2 0h4m4 0h4m37 0h4m-27 1h4m41 0h4m-132 1h4m-1 0h4m41 0h4m-80 1h4m12 0h4m0 0h4m19 0h4m2 0h4m42 0h4m-2 0h4m-78 1h4m12 0h4m7 0h4m20 0h4m26 0h4m-2 0h4m-103 1h4m4 0h4m-3 0h4m98 0h4m-83 1h4m58 0h4m37 0h4m-133 1h4m27 0h4m10 0h4m16 0h4m-90 1h4m-1 0h4m16 0h4m5 0h4m-16 1h4m0 0h4m5 0h4m1 0h4m64 0h4m-87 1h4m1 0h4m20 0h4m12 0h4m-43 1h4m5 0h4m45 0h4m-22 1h4m13 0h4m53 0h4m49 0h4m-177 1h4m1 0h4m8 1h4m134 0h4m-150 1h4m-3 0h4m15 0h4m17 0h4m-2 1h4m6 0h4m-87 1h4m18 0h4m86 0h4m-71 3h4m115 1h4m-141 1h4m81 0h4m-98 1h4m8 0h4m42 0h4m12 1h4m33 1h4m-116 1h4m100 0h4m2 0h4m-95 2h4m-22 2h4m24 0h4m58 0h4m16 0h4m-125 1h4m-2 0h4m33 0h4m-3 0h4m1 0h4m35 0h4m43 0h4m20 0h4" stroke-width="4"/></g>
<g font-size="7" fill="#000" stroke="#000" stroke-width=".22">
<text x="57.7" y="7.2">13.2</text>
<text x="64.8" y="16.1">%</text>
<text x="3.7" y="28.6">67.9</text>
<text x="4.2" y="37.7">%</text>
<text x="57.7" y="31.8">28.5</text>
<text x="64.8" y="40.0">%</text>
</g>
</g>
<g transform="translate(129.89 107.2)">
<path d="M0 0H73.4V55.2" fill="none" stroke="#333" stroke-width="1"/>
<path d="M22.7 0V55.2M0 18.8H73.4" fill="none" stroke="#111" stroke-width="1.25"/>
<path d="M0.15 -0.5V56.0" stroke="#000" stroke-width="1.8" fill="none"/>
<path d="M-1.3 55.2H73.9" stroke="#000" stroke-width="2.1" fill="none"/>
<path d="M0.2 55.2v2.9M0 54.9h-2.7M5.7 55.2v2.1M0 50.8h-1.8M8.9 55.2v2.1M0 48.4h-1.8M11.2 55.2v2.1M0 46.6h-1.8M12.9 55.2v2.1M0 45.3h-1.8M14.4 55.2v2.1M0 44.2h-1.8M15.6 55.2v2.1M0 43.3h-1.8M16.6 55.2v2.1M0 42.5h-1.8M17.6 55.2v2.1M0 41.8h-1.8M18.4 55.2v2.9M0 41.2h-2.7M23.9 55.2v2.1M0 37.0h-1.8M27.1 55.2v2.1M0 34.6h-1.8M29.4 55.2v2.1M0 32.9h-1.8M31.1 55.2v2.1M0 31.6h-1.8M32.6 55.2v2.1M0 30.5h-1.8M33.8 55.2v2.1M0 29.6h-1.8M34.8 55.2v2.1M0 28.8h-1.8M35.8 55.2v2.1M0 28.1h-1.8M36.6 55.2v2.9M0 27.5h-2.7M42.1 55.2v2.1M0 23.3h-1.8M45.3 55.2v2.1M0 20.9h-1.8M47.6 55.2v2.1M0 19.2h-1.8M49.3 55.2v2.1M0 17.9h-1.8M50.8 55.2v2.1M0 16.8h-1.8M52.0 55.2v2.1M0 15.9h-1.8M53.0 55.2v2.1M0 15.1h-1.8M54.0 55.2v2.1M0 14.4h-1.8M54.8 55.2v2.9M0 13.7h-2.7M60.3 55.2v2.1M0 9.6h-1.8M63.5 55.2v2.1M0 7.2h-1.8M65.8 55.2v2.1M0 5.5h-1.8M67.5 55.2v2.1M0 4.1h-1.8M69.0 55.2v2.1M0 3.0h-1.8M70.2 55.2v2.1M0 2.1h-1.8M71.2 55.2v2.1M0 1.3h-1.8M72.2 55.2v2.1M0 0.6h-1.8M73.0 55.2v2.9M0 0.0h-2.7" stroke="#000" stroke-width="1" fill="none"/>
<g font-size="8.6" font-weight="bold" fill="#000" stroke="#000" stroke-width=".25">
<text transform="translate(-3.4 66.5) scale(.7 1)">10<tspan dx=".9" dy="-4.3" font-size="8">0</tspan></text>
<text transform="translate(-4.4 59.3) rotate(-90) scale(.7 1)">10<tspan dx=".9" dy="-4.3" font-size="8">0</tspan></text>
<text transform="translate(14.8 66.5) scale(.7 1)">10<tspan dx=".9" dy="-4.3" font-size="8">1</tspan></text>
<text transform="translate(-4.4 45.6) rotate(-90) scale(.7 1)">10<tspan dx=".9" dy="-4.3" font-size="8">1</tspan></text>
<text transform="translate(33.0 66.5) scale(.7 1)">10<tspan dx=".9" dy="-4.3" font-size="8">2</tspan></text>
<text transform="translate(-4.4 31.9) rotate(-90) scale(.7 1)">10<tspan dx=".9" dy="-4.3" font-size="8">2</tspan></text>
<text transform="translate(51.2 66.5) scale(.7 1)">10<tspan dx=".9" dy="-4.3" font-size="8">3</tspan></text>
<text transform="translate(-4.4 18.1) rotate(-90) scale(.7 1)">10<tspan dx=".9" dy="-4.3" font-size="8">3</tspan></text>
<text transform="translate(69.4 66.5) scale(.7 1)">10<tspan dx=".9" dy="-4.3" font-size="8">4</tspan></text>
<text transform="translate(-4.4 4.4) rotate(-90) scale(.7 1)">10<tspan dx=".9" dy="-4.3" font-size="8">4</tspan></text>
</g>
<text x="36.2" y="72.4" text-anchor="middle" font-size="6.2" font-weight="bold" fill="#000">AnnexinY-FITC</text>
<text transform="translate(-14.5 28.4) rotate(-90)" text-anchor="middle" font-size="6.6" font-weight="bold" fill="#000" stroke="#000" stroke-width=".2">PI</text>
<g transform="scale(.25)" stroke="#000" fill="none"><path d="M70 188h6m-26 3h6m5 0h6m-21 1h6m-2 1h6m-14 1h6m12 0h6m-33 1h6m-1 0h6m-2 0h6m-7 1h6m9 0h6m0 0h6m5 0h6m-33 1h6m6 0h6m-1 0h6m-4 0h6m-36 1h6m0 0h6m10 0h6m0 0h6m1 0h6m0 0h6m-4 0h6m-58 1h6m-5 0h6m8 0h6m1 0h6m0 0h6m-4 0h6m-5 0h6m0 0h6m-5 0h6m-2 0h6m14 0h6m-55 1h6m5 0h6m-3 0h6m-3 0h6m9 0h6m9 0h6m-56 1h6m4 0h6m-5 0h6m-2 0h6m-3 0h6m-3 0h6m-5 0h6m0 0h6m-5 0h6m3 0h6m-5 0h6m-43 1h6m5 0h6m-4 0h6m4 0h6m-5 0h6m-2 0h6m-44 1h6m-3 0h6m5 0h6m-3 0h6m-3 0h6m2 0h6m-5 0h6m-1 0h6m2 0h6m6 0h6m-44 1h6m-5 0h6m-1 0h6m-4 0h6m21 0h6m-56 1h6m-2 0h6m-4 0h6m7 0h6m-4 0h6m-5 0h6m-3 0h6m-5 0h6m-4 0h6m-4 0h6m2 0h6m-3 0h6m-4 0h6m-47 1h6m-1 0h6m2 0h6m-3 0h6m-4 0h6m-3 0h6m-5 0h6m6 0h6m-1 0h6m6 0h6m-52 1h6m-3 0h6m-2 0h6m-2 0h6m-1 0h6m-4 0h6m-1 0h6m0 0h6m-31 1h6m5 0h6m2 0h6m-5 0h6m-3 0h6m-33 1h6m-1 0h6m0 0h6m-4 0h6m-4 0h6m2 0h6m0 0h6m-4 0h6m-5 0h6m0 0h6m1 0h6m-61 1h6m2 0h6m5 0h6m-3 0h6m-3 0h6m-5 0h6m-5 0h6m-4 0h6m-5 0h6m2 0h6m-5 0h6m-5 0h6m-3 0h6m-1 0h6m2 0h6m0 0h6m-70 1h6m1 1h6m-4 0h6m2 0h6m10 0h6m-5 0h6m-3 0h6m-4 0h6m-5 0h6m-5 0h6m-5 0h6m-1 0h6m-4 0h6m-40 1h6m-2 0h6m0 0h6m1 0h6m-3 0h6m-5 0h6m-2 0h6m-5 0h6m-1 0h6m-5 0h6m4 0h6m-37 1h6m7 0h6m-3 0h6m-2 0h6m7 0h6m-75 1h6m11 0h6m1 0h6m-2 0h6m3 0h6m-4 0h6m-31 1h6m-5 0h6m-4 0h6m-4 0h6m-4 0h6m-1 0h6m-5 0h6m-5 0h6m-5 0h6m-5 0h6m-5 0h6m-4 0h6m-5 0h6m-3 0h6m-5 0h6m-4 0h6m-5 0h6m-5 0h6m-5 0h6m-5 0h6m-5 0h6m-5 0h6m-5 0h6m-5 0h6m-5 0h6m-5 0h6m-3 0h6m-5 0h6m-4 0h6m-5 0h6m-5 0h6m-5 0h6m-4 0h6m-5 0h6m-3 0h6m-3 0h6m1 0h6" stroke-width="6"/><path d="M173 9h4m5 10h4m-24 6h4m-32 10h4m2 0h4m20 1h4m6 0h4m1 0h4m3 0h4m-7 2h4m-16 1h4m-36 1h4m9 0h4m45 0h4m-76 2h4m11 0h4m54 0h4m-91 1h4m34 0h4m9 0h4m-44 1h4m25 0h4m-59 1h4m47 0h4m2 0h4m-3 0h4m37 0h4m-80 1h4m5 0h4m3 0h4m17 0h4m13 0h4m-40 1h4m28 0h4m-66 1h4m46 0h4m10 0h4m-56 1h4m22 0h4m15 0h4m41 0h4m-99 1h4m10 0h4m17 0h4m18 0h4m-2 0h4m-43 1h4m-1 0h4m-1 0h4m-1 0h4m-3 0h4m15 0h4m3 0h4m-26 1h4m4 0h4m-3 0h4m3 0h4m1 0h4m4 0h4m13 0h4m-76 1h4m0 0h4m12 0h4m2 0h4m2 0h4m-2 0h4m-1 0h4m-45 1h4m8 0h4m1 0h4m0 0h4m10 0h4m-1 0h4m9 0h4m26 0h4m-2 0h4m-82 1h4m-2 0h4m4 0h4m4 0h4m5 0h4m-3 0h4m-2 0h4m-3 0h4m-3 0h4m18 0h4m-54 1h4m11 0h4m-3 0h4m-3 0h4m-2 0h4m-1 0h4m5 0h4m1 0h4m17 0h4m-69 1h4m0 0h4m4 0h4m7 0h4m1 0h4m3 0h4m10 0h4m6 0h4m6 0h4m-60 1h4m-2 0h4m0 0h4m19 0h4m5 0h4m-1 0h4m-3 0h4m-54 1h4m0 0h4m17 0h4m8 0h4m0 0h4m-61 1h4m2 0h4m8 0h4m-1 0h4m-1 0h4m10 0h4m7 0h4m6 0h4m-2 0h4m-47 1h4m8 0h4m9 0h4m33 0h4m-66 1h4m28 0h4m2 0h4m-2 0h4m2 0h4m-52 1h4m4 0h4m11 0h4m5 0h4m2 0h4m16 0h4m13 0h4m-54 1h4m-2 0h4m6 0h4m9 0h4m-75 1h4m17 0h4m0 0h4m5 0h4m10 0h4m7 0h4m-1 0h4m5 0h4m3 0h4m-64 1h4m6 0h4m5 0h4m-3 0h4m5 0h4m0 0h4m1 0h4m17 0h4m0 0h4m1 0h4m-83 1h4m17 0h4m6 0h4m9 0h4m3 0h4m-24 1h4m3 0h4m-1 0h4m0 0h4m-25 1h4m-1 0h4m14 0h4m11 0h4m-46 1h4m12 0h4m-3 0h4m-2 0h4m1 0h4m10 0h4m-65 1h4m36 0h4m-3 0h4m34 0h4m-64 2h4m15 0h4m5 0h4m4 0h4m16 0h4m-25 1h4m-25 1h4m-11 1h4m12 0h4m2 0h4m29 0h4m-52 3h4m13 0h4m2 0h4m-31 1h4m6 1h4m-6 1h4m7 0h4m-26 1h4m12 0h4m10 0h4m-38 1h4m18 0h4m1 0h4m3 0h4m-37 1h4m12 0h4m2 0h4m-1 0h4m4 0h4m-45 1h4m45 0h4m5 0h4m-39 1h4m6 0h4m-34 1h4m0 1h4m-1 0h4m9 0h4m7 0h4m9 0h4m-50 1h4m16 0h4m0 0h4m-22 1h4m-12 1h4m4 0h4m11 0h4m1 0h4m-41 1h4m28 0h4m4 0h4m5 0h4m-3 0h4m-38 1h4m0 0h4m1 0h4m7 0h4m-20 1h4m21 0h4m2 0h4m12 0h4m-61 1h4m0 0h4m11 0h4m0 0h4m-43 1h4m21 0h4m0 0h4m-1 0h4m11 0h4m36 0h4m-69 1h4m10 0h4m7 0h4m36 0h4m-60 1h4m-2 0h4m8 0h4m-27 1h4m13 0h4m15 0h4m-36 1h4m0 0h4m-2 0h4m3 0h4m-25 1h4m-1 0h4m1 0h4m1 0h4m-2 0h4m-1 0h4m3 0h4m-39 1h4m16 0h4m5 0h4m11 0h4m-2 0h4m-67 1h4m21 0h4m-8 1h4m-2 0h4m-1 0h4m5 0h4m0 0h4m13 0h4m-46 1h4m-1 0h4m15 0h4m-1 0h4m1 0h4m7 0h4m3 0h4m24 0h4m-70 1h4m0 0h4m1 0h4m1 0h4m3 0h4m23 0h4m-54 1h4m-1 0h4m4 0h4m-1 0h4m30 0h4m-41 1h4m-3 0h4m4 0h4m11 0h4m6 0h4m-42 1h4m5 0h4m-1 0h4m-3 0h4m1 0h4m-2 0h4m-30 1h4m1 0h4m-2 0h4m-1 0h4m-1 0h4m2 0h4m-3 0h4m-2 0h4m0 0h4m1 0h4m-3 0h4m-3 0h4m13 0h4m-53 1h4m-3 0h4m6 0h4m6 0h4m8 0h4m26 0h4m-131 1h4m77 0h4m0 0h4m2 0h4m1 0h4m-29 1h4m14 0h4m2 0h4m-32 1h4m-3 0h4m-2 0h4m-3 0h4m-1 0h4m8 0h4m5 0h4m-49 1h4m8 0h4m-1 0h4m11 0h4m6 0h4m1 0h4m5 0h4m-60 1h4m8 0h4m1 0h4m1 0h4m-2 0h4m-35 1h4m7 0h4m-3 0h4m2 0h4m13 0h4m5 0h4m4 0h4m-3 0h4m31 0h4m14 0h4m-85 1h4m8 0h4m-1 0h4m-2 0h4m9 0h4m-3 0h4m-59 1h4m5 0h4m4 0h4m0 0h4m0 0h4m1 0h4m1 0h4m10 0h4m-37 1h4m-2 0h4m-1 0h4m4 0h4m-2 0h4m-3 0h4m-3 0h4m14 0h4m-2 0h4m-31 1h4m-1 0h4m-3 0h4m10 0h4m-28 1h4m-3 0h4m1 1h4m11 0h4m10 0h4m-2 0h4m0 0h4m-51 1h4m6 0h4m8 0h4m-3 0h4m6 0h4m0 0h4m-24 1h4m12 0h4m-31 1h4m7 0h4m-2 0h4m2 0h4m3 0h4m38 0h4m-66 1h4m13 0h4m0 0h4m-44 1h4m6 0h4m-1 0h4m11 0h4m-30 1h4m17 0h4m13 0h4m4 0h4m-2 0h4m19 0h4m-83 1h4m14 0h4m2 0h4m7 0h4m7 0h4m24 0h4m-65 1h4m2 0h4m6 0h4m0 0h4m17 0h4m-46 1h4m-1 0h4m8 0h4m6 0h4m1 0h4m-3 0h4m5 0h4m-34 1h4m13 0h4m1 0h4m5 0h4m7 0h4m-75 1h4m13 0h4m12 0h4m22 0h4m38 0h4m-75 1h4m0 0h4m8 0h4m16 0h4m-58 1h4m6 0h4m12 0h4m8 0h4m5 0h4m-3 0h4m-29 1h4m14 0h4m1 0h4m-82 1h4m25 0h4m12 0h4m0 0h4m2 0h4m3 0h4m0 0h4m7 0h4m-123 1h4m67 0h4m0 0h4m3 0h4m0 0h4m11 0h4m12 0h4m-90 1h4m45 0h4m5 0h4m-2 0h4m9 0h4m-2 0h4m-3 0h4m4 0h4m1 0h4m15 0h4m-52 1h4m3 0h4m5 0h4m7 0h4m-98 1h4m61 0h4m12 0h4m19 0h4m-119 1h4m66 0h4m6 0h4m3 0h4m-3 0h4m2 0h4m9 0h4m-75 1h4m46 0h4m0 0h4m0 0h4m10 0h4m-59 1h4m17 0h4m17 0h4m1 0h4m-106 1h4m53 0h4m-3 0h4m-55 1h4m56 0h4m-1 0h4m27 0h4m59 0h4m-158 1h4m43 0h4m4 0h4m-1 0h4m-2 0h4m1 0h4m9 0h4m4 0h4m-1 0h4m0 0h4m-2 0h4m5 0h4m-112 1h4m8 0h4m34 0h4m28 0h4m1 0h4m18 0h4m-24 1h4m-3 0h4m-1 0h4m25 0h4m21 0h4m-146 1h4m36 0h4m14 0h4m-84 1h4m15 0h4m12 0h4m11 0h4m19 0h4m10 0h4m7 0h4m5 0h4m0 0h4m1 0h4m-84 1h4m36 0h4m1 0h4m-2 0h4m-1 0h4m4 0h4m57 0h4m-116 1h4m5 0h4m16 0h4m0 0h4m-1 0h4m5 0h4m27 0h4m-103 1h4m-1 0h4m-3 0h4m28 0h4m9 0h4m-3 0h4m-3 0h4m9 0h4m-1 0h4m8 0h4m18 0h4m-69 1h4m18 0h4m0 0h4m4 0h4m9 0h4m44 0h4m-145 1h4m20 0h4m21 0h4m6 0h4m0 1h4m27 0h4m-93 1h4m69 0h4m-76 1h4m10 0h4m33 0h4m-1 0h4m2 0h4m-33 1h4m37 0h4m-1 0h4m-84 1h4m11 0h4m18 0h4m22 0h4m28 0h4m-36 1h4m72 0h4m-111 1h4m20 0h4m-3 0h4m17 0h4m-71 1h4m42 0h4m-2 0h4m8 0h4m72 0h4m-152 1h4m-2 0h4m6 0h4m3 0h4m4 0h4m5 0h4m68 0h4m2 0h4m8 0h4m-113 1h4m-3 0h4m11 0h4m14 0h4m28 0h4m-98 1h4m16 0h4m3 0h4m107 0h4m-106 1h4m83 0h4m12 0h4m6 0h4m8 0h4m-123 1h4m28 0h4m53 0h4m-128 1h4m2 0h4m0 0h4m12 0h4m8 0h4m20 1h4m-52 1h4m2 0h4m55 0h4m-53 1h4m-12 1h4m0 0h4m-1 0h4m0 0h4m32 0h4m-64 1h4m1 0h4m4 0h4m1 0h4m14 0h4m5 0h4m-50 1h4m7 0h4m5 0h4m4 0h4m11 0h4m-41 1h4m18 0h4m1 0h4m81 0h4m-115 1h4m-3 0h4m40 0h4m-57 1h4m47 0h4m-40 1h4m123 0h4m-128 1h4m-1 0h4m-2 0h4m-3 0h4m4 0h4m-16 1h4m-3 0h4m2 0h4m48 0h4m33 0h4m-97 1h4m-2 0h4m-1 0h4m4 0h4m-31 1h4m-2 0h4m0 0h4m18 0h4m-3 0h4m34 0h4m21 0h4m-106 2h4m6 0h4m2 0h4m0 0h4m-3 0h4m34 0h4m-74 1h4m27 0h4m-2 0h4m4 0h4m25 0h4m27 0h4m-107 1h4m28 0h4m19 0h4m18 0h4m-48 1h4m6 0h4m-1 0h4m-12 1h4m-3 0h4m79 0h4m37 0h4m-84 1h4m-50 1h4m8 0h4m-23 1h4m5 0h4m-23 1h4m-13 1h4m10 0h4m21 0h4m22 1h4m9 0h4m-71 1h4m13 0h4m-2 0h4m19 0h4m-37 1h4m-3 0h4m-10 1h4m26 1h4m100 0h4m-3 0h4m-136 1h4m6 0h4m6 0h4m-10 1h4m6 0h4m-2 0h4m0 0h4m-64 2h4m12 1h4m12 2h4m4 0h4m-30 1h4m23 2h4m0 0h4m91 0h4m-121 2h4m32 1h4m-48 1h4m15 0h4" stroke-width="4"/></g>
<g font-size="7" fill="#000" stroke="#000" stroke-width=".22">
<text x="55.1" y="11.5">1.8%</text>
<text x="3.1" y="28.5">89.8</text>
<text x="3.9" y="37.5">%</text>
<text x="54.0" y="47.4">8.3%</text>
</g>
</g>
<g transform="translate(231.89 107.47)">
<path d="M0 0H73.4V55.2" fill="none" stroke="#333" stroke-width="1"/>
<path d="M22.7 0V55.2M0 18.8H73.4" fill="none" stroke="#111" stroke-width="1.25"/>
<path d="M0.15 -0.5V56.0" stroke="#000" stroke-width="1.8" fill="none"/>
<path d="M-1.3 55.2H73.9" stroke="#000" stroke-width="2.1" fill="none"/>
<path d="M0.2 55.2v2.9M0 54.9h-2.7M5.7 55.2v2.1M0 50.8h-1.8M8.9 55.2v2.1M0 48.4h-1.8M11.2 55.2v2.1M0 46.6h-1.8M12.9 55.2v2.1M0 45.3h-1.8M14.4 55.2v2.1M0 44.2h-1.8M15.6 55.2v2.1M0 43.3h-1.8M16.6 55.2v2.1M0 42.5h-1.8M17.6 55.2v2.1M0 41.8h-1.8M18.4 55.2v2.9M0 41.2h-2.7M23.9 55.2v2.1M0 37.0h-1.8M27.1 55.2v2.1M0 34.6h-1.8M29.4 55.2v2.1M0 32.9h-1.8M31.1 55.2v2.1M0 31.6h-1.8M32.6 55.2v2.1M0 30.5h-1.8M33.8 55.2v2.1M0 29.6h-1.8M34.8 55.2v2.1M0 28.8h-1.8M35.8 55.2v2.1M0 28.1h-1.8M36.6 55.2v2.9M0 27.5h-2.7M42.1 55.2v2.1M0 23.3h-1.8M45.3 55.2v2.1M0 20.9h-1.8M47.6 55.2v2.1M0 19.2h-1.8M49.3 55.2v2.1M0 17.9h-1.8M50.8 55.2v2.1M0 16.8h-1.8M52.0 55.2v2.1M0 15.9h-1.8M53.0 55.2v2.1M0 15.1h-1.8M54.0 55.2v2.1M0 14.4h-1.8M54.8 55.2v2.9M0 13.7h-2.7M60.3 55.2v2.1M0 9.6h-1.8M63.5 55.2v2.1M0 7.2h-1.8M65.8 55.2v2.1M0 5.5h-1.8M67.5 55.2v2.1M0 4.1h-1.8M69.0 55.2v2.1M0 3.0h-1.8M70.2 55.2v2.1M0 2.1h-1.8M71.2 55.2v2.1M0 1.3h-1.8M72.2 55.2v2.1M0 0.6h-1.8M73.0 55.2v2.9M0 0.0h-2.7" stroke="#000" stroke-width="1" fill="none"/>
<g font-size="8.6" font-weight="bold" fill="#000" stroke="#000" stroke-width=".25">
<text transform="translate(-3.4 66.5) scale(.7 1)">10<tspan dx=".9" dy="-4.3" font-size="8">0</tspan></text>
<text transform="translate(-4.4 59.3) rotate(-90) scale(.7 1)">10<tspan dx=".9" dy="-4.3" font-size="8">0</tspan></text>
<text transform="translate(14.8 66.5) scale(.7 1)">10<tspan dx=".9" dy="-4.3" font-size="8">1</tspan></text>
<text transform="translate(-4.4 45.6) rotate(-90) scale(.7 1)">10<tspan dx=".9" dy="-4.3" font-size="8">1</tspan></text>
<text transform="translate(33.0 66.5) scale(.7 1)">10<tspan dx=".9" dy="-4.3" font-size="8">2</tspan></text>
<text transform="translate(-4.4 31.9) rotate(-90) scale(.7 1)">10<tspan dx=".9" dy="-4.3" font-size="8">2</tspan></text>
<text transform="translate(51.2 66.5) scale(.7 1)">10<tspan dx=".9" dy="-4.3" font-size="8">3</tspan></text>
<text transform="translate(-4.4 18.1) rotate(-90) scale(.7 1)">10<tspan dx=".9" dy="-4.3" font-size="8">3</tspan></text>
<text transform="translate(69.4 66.5) scale(.7 1)">10<tspan dx=".9" dy="-4.3" font-size="8">4</tspan></text>
<text transform="translate(-4.4 4.4) rotate(-90) scale(.7 1)">10<tspan dx=".9" dy="-4.3" font-size="8">4</tspan></text>
</g>
<text x="36.2" y="72.4" text-anchor="middle" font-size="6.2" font-weight="bold" fill="#000">AnnexinY-FITC</text>
<text transform="translate(-14.5 28.4) rotate(-90)" text-anchor="middle" font-size="6.6" font-weight="bold" fill="#000" stroke="#000" stroke-width=".2">PI</text>
<g transform="scale(.25)" stroke="#000" fill="none"><path d="M20 185h6m40 1h6m-15 1h6m0 0h6m-21 4h6m0 0h6m-3 0h6m-1 0h6m-22 1h6m6 0h6m-40 1h6m10 0h6m-4 0h6m8 0h6m-26 1h6m7 0h6m8 0h6m4 0h6m-36 1h6m5 0h6m-5 0h6m2 0h6m2 0h6m-50 1h6m-1 0h6m-4 0h6m-5 0h6m2 0h6m-4 0h6m-1 0h6m-4 0h6m-2 0h6m-15 1h6m-1 0h6m-4 0h6m1 0h6m-1 0h6m-40 1h6m-2 0h6m-5 0h6m-1 0h6m-3 0h6m-4 0h6m5 0h6m3 0h6m10 0h6m-62 1h6m9 0h6m-4 0h6m0 0h6m-4 0h6m-1 0h6m-4 0h6m-5 0h6m2 0h6m-37 1h6m-1 0h6m-2 0h6m-4 0h6m0 0h6m2 0h6m-5 0h6m-5 0h6m-5 0h6m-40 1h6m10 0h6m0 0h6m-1 0h6m-4 0h6m-3 0h6m-4 0h6m-3 0h6m-1 0h6m-4 0h6m-54 1h6m6 0h6m-2 0h6m-4 0h6m-2 0h6m-4 0h6m-4 0h6m-3 0h6m-5 0h6m-4 0h6m10 0h6m-45 1h6m-2 0h6m-1 0h6m-5 0h6m-4 0h6m6 0h6m-30 1h6m-1 0h6m-3 0h6m3 0h6m-1 0h6m-4 0h6m-5 0h6m-4 0h6m-3 0h6m-4 0h6m3 0h6m-50 1h6m0 0h6m6 0h6m-4 0h6m-5 0h6m-5 0h6m-5 0h6m-33 1h6m-2 0h6m10 0h6m0 0h6m-1 0h6m-4 0h6m-2 0h6m-5 0h6m-5 0h6m-5 0h6m-5 0h6m-48 1h6m10 0h6m-3 0h6m-5 0h6m3 0h6m-3 0h6m-1 0h6m-5 0h6m6 0h6m-57 1h6m4 0h6m-4 0h6m1 0h6m-5 0h6m-3 0h6m-4 0h6m-1 0h6m-5 0h6m-5 0h6m-4 0h6m-5 0h6m-2 0h6m7 0h6m-48 1h6m1 0h6m-4 0h6m-5 0h6m0 0h6m0 0h6m0 0h6m-5 0h6m5 0h6m-49 1h6m-4 0h6m1 0h6m-4 0h6m-2 0h6m-2 0h6m-2 0h6m-5 0h6m-4 0h6m-2 0h6m-4 0h6m-4 0h6m-28 1h6m-5 0h6m-5 0h6m-5 0h6m-3 0h6m-5 0h6m-5 0h6m-3 0h6m-2 0h6m-3 0h6m-5 0h6m-4 0h6m-44 1h6m-2 0h6m1 0h6m-4 0h6m-4 0h6m-5 0h6m-5 0h6m-3 0h6m-4 0h6m-3 0h6m-5 0h6m-1 0h6m-4 0h6m0 0h6m-2 0h6m-5 0h6m-39 1h6m-3 0h6m-5 0h6m-2 0h6m-3 0h6m-5 0h6m-5 0h6m-4 0h6m-4 0h6m-2 0h6m-3 0h6m2 0h6m-5 0h6m-4 0h6m-70 1h6m14 0h6m-4 0h6m-1 0h6m-2 0h6m-1 0h6m-2 0h6m-5 0h6m-5 0h6m-3 0h6m0 0h6m-5 0h6m1 0h6m3 0h6m-57 1h6m1 0h6m-4 0h6m-3 0h6m-5 0h6m0 0h6m-5 0h6m-5 0h6m-5 0h6m-5 0h6m-4 0h6m-2 0h6m-5 0h6m9 0h6m-1 0h6m-72 1h6m-1 0h6m-4 0h6m-2 0h6m-2 0h6m-5 0h6m-5 0h6m-5 0h6m-5 0h6m-5 0h6m-4 0h6m-4 0h6m-5 0h6m-5 0h6m-4 0h6m-5 0h6m-5 0h6m-5 0h6m-5 0h6m-5 0h6m-5 0h6m-5 0h6m-5 0h6m-5 0h6m-5 0h6m-5 0h6m-5 0h6m-5 0h6m-5 0h6m-5 0h6m-5 0h6m-5 0h6m-4 0h6m-5 0h6m-4 0h6m-5 0h6m-4 0h6m-4 0h6m-5 0h6m-5 0h6m-5 0h6m-5 0h6m-5 0h6m-4 0h6m-4 0h6m-3 0h6m7 0h6" stroke-width="6"/><path d="M167 2h4m9 0h4m22 0h4m1 0h4m5 0h4m-22 9h4m-14 3h4m2 1h4m-49 1h4m65 0h4m-33 1h4m-2 0h4m-52 1h4m8 0h4m0 2h4m11 1h4m0 0h4m-7 1h4m10 1h4m-23 1h4m6 0h4m32 0h4m-38 3h4m-29 1h4m-2 0h4m26 0h4m-23 2h4m-2 0h4m7 0h4m-30 1h4m7 0h4m15 0h4m-42 1h4m7 0h4m4 0h4m6 0h4m-1 0h4m1 0h4m1 0h4m17 0h4m-78 1h4m10 0h4m3 0h4m13 0h4m10 0h4m-54 1h4m11 0h4m8 0h4m-41 1h4m9 0h4m11 0h4m6 0h4m5 0h4m0 0h4m-51 1h4m6 0h4m8 0h4m0 0h4m23 0h4m-1 0h4m-46 1h4m3 0h4m1 0h4m7 0h4m3 0h4m2 0h4m-64 1h4m33 0h4m-3 0h4m9 0h4m1 0h4m-3 0h4m1 0h4m7 0h4m-81 1h4m22 0h4m14 0h4m6 0h4m12 0h4m-58 1h4m18 0h4m-2 0h4m0 0h4m11 0h4m3 0h4m6 0h4m-2 0h4m-70 1h4m1 0h4m7 0h4m10 0h4m22 0h4m-43 1h4m0 0h4m-1 0h4m-1 0h4m2 0h4m-3 0h4m-3 0h4m16 0h4m19 0h4m-71 1h4m0 0h4m3 0h4m4 0h4m-2 0h4m19 0h4m15 0h4m-69 1h4m-1 0h4m1 0h4m-1 0h4m3 0h4m5 0h4m-3 0h4m4 0h4m-3 0h4m-1 0h4m-3 0h4m10 0h4m-49 1h4m6 0h4m-1 0h4m-2 0h4m2 0h4m-3 0h4m10 0h4m-60 1h4m15 0h4m9 0h4m-1 0h4m-3 0h4m0 0h4m0 0h4m-3 0h4m-3 0h4m-53 1h4m-2 0h4m8 0h4m0 0h4m-2 0h4m-3 0h4m-2 0h4m-2 0h4m4 0h4m-3 0h4m3 0h4m-1 0h4m1 0h4m-2 0h4m1 0h4m5 0h4m2 0h4m-51 1h4m11 0h4m4 0h4m-1 0h4m1 0h4m-73 1h4m23 0h4m-2 0h4m-1 0h4m-1 0h4m4 0h4m-1 0h4m4 0h4m-2 0h4m8 0h4m2 0h4m-1 0h4m-86 1h4m12 0h4m3 0h4m-1 0h4m2 0h4m3 0h4m0 0h4m-2 0h4m-2 0h4m-2 0h4m9 0h4m0 0h4m14 0h4m-64 1h4m-3 0h4m-1 0h4m2 0h4m-2 0h4m-3 0h4m13 0h4m-3 0h4m4 0h4m9 0h4m-60 1h4m13 0h4m-3 0h4m2 0h4m1 0h4m7 0h4m1 0h4m7 0h4m-70 1h4m8 0h4m3 0h4m-3 0h4m-1 0h4m0 0h4m-2 0h4m20 0h4m-2 0h4m36 0h4m-91 1h4m5 0h4m1 0h4m1 0h4m1 0h4m2 0h4m3 0h4m-2 0h4m-3 0h4m-2 0h4m19 0h4m1 0h4m-87 1h4m7 0h4m6 0h4m-2 0h4m12 0h4m3 0h4m-3 0h4m3 0h4m4 0h4m3 0h4m-54 1h4m-3 0h4m6 0h4m-2 0h4m-2 0h4m16 0h4m-1 0h4m-1 0h4m4 0h4m2 0h4m-84 1h4m0 0h4m20 0h4m9 0h4m0 0h4m1 0h4m1 0h4m-3 0h4m24 0h4m-106 1h4m21 0h4m13 0h4m-1 0h4m-3 0h4m2 0h4m1 0h4m0 0h4m-2 0h4m0 0h4m26 0h4m-61 1h4m6 0h4m0 0h4m7 0h4m-1 0h4m-2 0h4m-3 0h4m1 0h4m12 0h4m-51 1h4m6 0h4m-2 0h4m4 0h4m0 0h4m-2 0h4m-3 0h4m0 0h4m0 0h4m-3 0h4m3 0h4m-3 0h4m14 0h4m-87 1h4m25 0h4m1 0h4m2 0h4m-2 0h4m-2 0h4m-3 0h4m5 0h4m7 0h4m-65 1h4m10 0h4m0 0h4m1 0h4m-2 0h4m-3 0h4m-2 0h4m1 0h4m18 0h4m0 0h4m-54 1h4m5 0h4m14 0h4m2 0h4m4 0h4m7 0h4m33 0h4m-130 1h4m9 0h4m13 0h4m21 0h4m1 0h4m0 0h4m-1 0h4m1 0h4m-52 1h4m9 0h4m10 0h4m-2 0h4m-1 0h4m2 0h4m2 0h4m-3 0h4m-1 0h4m-2 0h4m-1 0h4m7 0h4m2 0h4m-74 1h4m0 0h4m5 0h4m4 0h4m-3 0h4m-3 0h4m11 0h4m-2 0h4m1 0h4m-1 0h4m3 0h4m-1 0h4m11 0h4m-81 1h4m16 0h4m0 0h4m-3 0h4m-1 0h4m-3 0h4m13 0h4m-42 1h4m1 0h4m8 0h4m6 0h4m13 0h4m2 0h4m5 0h4m-100 1h4m51 0h4m10 0h4m-41 1h4m-2 0h4m8 0h4m20 0h4m2 0h4m-3 0h4m2 0h4m1 0h4m1 0h4m0 0h4m-1 0h4m1 0h4m-77 1h4m10 0h4m2 0h4m-3 0h4m13 0h4m7 0h4m-3 0h4m-69 1h4m19 0h4m19 0h4m-3 0h4m-2 0h4m0 0h4m10 0h4m5 0h4m-57 1h4m18 0h4m3 0h4m17 0h4m3 0h4m-49 1h4m14 0h4m1 0h4m-2 0h4m4 0h4m3 0h4m-1 0h4m-50 1h4m25 0h4m-38 1h4m20 0h4m1 0h4m-1 0h4m-3 0h4m15 0h4m-42 1h4m2 0h4m-1 0h4m-1 0h4m24 0h4m-54 1h4m2 0h4m9 0h4m-1 0h4m-1 0h4m5 0h4m27 0h4m-118 1h4m48 0h4m3 0h4m13 0h4m2 0h4m-1 0h4m-3 0h4m15 0h4m-56 1h4m-1 0h4m-1 0h4m-3 0h4m-2 0h4m-2 0h4m4 0h4m0 0h4m8 0h4m-49 1h4m11 0h4m14 0h4m6 0h4m-20 1h4m-3 0h4m-3 0h4m0 0h4m1 0h4m-3 0h4m21 0h4m-42 1h4m4 0h4m-3 0h4m-40 1h4m5 0h4m0 0h4m20 0h4m8 0h4m-47 1h4m3 0h4m1 0h4m6 0h4m12 0h4m2 0h4m-2 0h4m1 0h4m-74 1h4m18 0h4m3 0h4m2 0h4m14 0h4m-16 1h4m-3 0h4m7 0h4m-57 1h4m-2 0h4m19 0h4m3 0h4m2 0h4m4 0h4m-3 0h4m-50 1h4m17 0h4m29 0h4m0 0h4m-73 1h4m16 0h4m11 0h4m5 0h4m-1 0h4m-3 0h4m2 0h4m2 0h4m-2 0h4m0 0h4m-54 1h4m0 0h4m-2 0h4m-2 0h4m0 0h4m5 0h4m0 0h4m13 0h4m-2 0h4m-39 1h4m-2 0h4m-2 0h4m-1 0h4m2 0h4m2 0h4m1 0h4m23 0h4m-73 1h4m8 0h4m27 0h4m7 0h4m-28 1h4m23 0h4m0 0h4m12 0h4m-64 1h4m2 0h4m14 0h4m-1 0h4m-3 0h4m5 0h4m9 0h4m-61 1h4m-1 0h4m17 0h4m8 0h4m12 0h4m12 0h4m-75 1h4m8 0h4m4 0h4m5 0h4m-2 0h4m-2 0h4m-2 0h4m9 0h4m-35 1h4m-1 0h4m1 0h4m0 0h4m-3 0h4m0 0h4m10 0h4m-1 0h4m-55 1h4m13 0h4m-2 0h4m2 0h4m-3 0h4m0 0h4m-3 0h4m-2 0h4m-1 0h4m-1 0h4m-2 0h4m0 0h4m-44 1h4m-1 0h4m14 0h4m-2 0h4m-2 0h4m-1 0h4m-3 0h4m-3 0h4m0 0h4m1 0h4m14 0h4m-76 1h4m15 0h4m5 0h4m-2 0h4m-2 0h4m4 0h4m-3 0h4m-1 0h4m8 0h4m-34 1h4m7 0h4m4 0h4m-2 0h4m0 0h4m7 0h4m4 0h4m-65 1h4m-1 0h4m-2 0h4m31 0h4m1 0h4m-36 1h4m-1 0h4m-2 0h4m-2 0h4m1 0h4m12 0h4m12 0h4m1 0h4m-75 1h4m17 0h4m-2 0h4m11 0h4m-2 0h4m6 0h4m18 0h4m-51 1h4m-3 0h4m-3 0h4m-3 0h4m6 0h4m7 0h4m-42 1h4m-3 0h4m9 0h4m9 0h4m-2 0h4m-3 0h4m-21 1h4m1 0h4m18 0h4m6 0h4m-1 0h4m-3 0h4m-30 1h4m-2 0h4m1 0h4m5 0h4m-57 1h4m4 0h4m6 0h4m2 0h4m-3 0h4m5 0h4m-3 0h4m0 0h4m17 0h4m-45 1h4m0 0h4m7 0h4m-3 0h4m10 0h4m1 0h4m-55 1h4m19 0h4m-3 0h4m3 0h4m4 0h4m0 0h4m-33 1h4m5 0h4m-2 0h4m1 0h4m-3 0h4m2 0h4m7 0h4m-43 1h4m-2 0h4m7 0h4m2 0h4m-2 0h4m-2 0h4m-3 0h4m4 0h4m-63 1h4m8 0h4m21 0h4m-2 0h4m-3 0h4m-1 0h4m14 0h4m-63 1h4m13 0h4m7 0h4m2 0h4m-3 0h4m3 0h4m-2 0h4m0 0h4m2 0h4m0 0h4m-44 1h4m-1 0h4m8 0h4m11 0h4m-1 0h4m4 0h4m-39 1h4m14 0h4m8 0h4m9 0h4m-53 1h4m6 0h4m-3 0h4m7 0h4m4 0h4m-2 0h4m13 0h4m-1 0h4m-3 0h4m-66 1h4m3 0h4m1 0h4m19 0h4m-3 0h4m1 0h4m1 0h4m5 0h4m-88 1h4m36 0h4m10 0h4m-2 0h4m0 0h4m4 0h4m5 0h4m-42 1h4m11 0h4m-1 0h4m-3 0h4m6 0h4m3 0h4m-1 0h4m4 0h4m33 0h4m-84 1h4m6 0h4m-3 0h4m1 0h4m2 0h4m1 0h4m-1 0h4m5 0h4m-42 1h4m13 0h4m0 0h4m-1 0h4m-1 0h4m-35 1h4m-3 0h4m16 0h4m-3 0h4m14 0h4m2 0h4m7 0h4m-58 1h4m4 0h4m4 0h4m4 0h4m0 0h4m-1 0h4m-3 0h4m-32 1h4m-1 0h4m-2 0h4m-2 0h4m-2 0h4m23 0h4m-70 1h4m12 0h4m3 0h4m1 0h4m-3 0h4m1 0h4m15 0h4m-3 0h4m1 0h4m0 0h4m-1 0h4m5 0h4m-106 1h4m31 0h4m29 0h4m5 0h4m7 0h4m8 0h4m9 0h4m-85 1h4m6 0h4m4 0h4m1 0h4m1 0h4m5 0h4m-1 0h4m5 0h4m-2 0h4m-1 0h4m-59 1h4m24 0h4m4 0h4m3 0h4m-1 0h4m-1 0h4m-29 1h4m4 0h4m3 0h4m-3 0h4m27 0h4m-116 1h4m47 0h4m12 0h4m2 0h4m2 0h4m-1 0h4m-3 0h4m6 0h4m2 0h4m-87 1h4m25 0h4m13 0h4m3 0h4m-3 0h4m9 0h4m-2 0h4m7 0h4m-70 1h4m31 0h4m30 0h4m17 0h4m-56 1h4m0 0h4m21 0h4m-1 0h4m-95 1h4m5 0h4m27 0h4m2 0h4m10 0h4m-3 0h4m-2 0h4m11 0h4m7 0h4m7 0h4m-49 1h4m5 0h4m15 0h4m-81 1h4m-1 0h4m21 0h4m16 0h4m-3 0h4m-3 0h4m36 0h4m1 0h4m-3 0h4m-71 1h4m0 0h4m18 0h4m23 0h4m-47 1h4m5 0h4m0 0h4m1 0h4m-3 0h4m18 0h4m7 0h4m6 0h4m5 0h4m-89 1h4m5 0h4m8 0h4m32 0h4m-3 0h4m-91 1h4m7 0h4m17 0h4m10 0h4m7 0h4m1 0h4m4 0h4m-108 1h4m40 0h4m-1 0h4m9 0h4m20 0h4m1 0h4m0 0h4m4 0h4m0 0h4m3 0h4m1 0h4m-2 0h4m-139 1h4m36 0h4m48 0h4m-1 0h4m8 0h4m25 0h4m13 0h4m-105 1h4m31 0h4m8 0h4m0 0h4m3 0h4m5 0h4m7 0h4m13 0h4m-68 1h4m5 0h4m14 0h4m7 0h4m7 0h4m-99 1h4m20 0h4m8 0h4m-2 0h4m15 0h4m16 0h4m0 0h4m-53 1h4m17 0h4m7 0h4m-2 0h4m41 0h4m-122 1h4m21 0h4m1 0h4m2 0h4m2 0h4m-2 0h4m25 0h4m-1 0h4m2 0h4m7 0h4m5 0h4m-94 1h4m1 0h4m-1 0h4m25 0h4m14 0h4m2 0h4m-3 0h4m1 0h4m6 0h4m-77 1h4m42 0h4m-2 0h4m-2 0h4m-1 0h4m3 0h4m3 0h4m0 0h4m-2 0h4m1 0h4m-28 1h4m-2 0h4m-3 0h4m-71 1h4m0 0h4m4 0h4m16 0h4m14 0h4m1 0h4m-2 0h4m8 0h4m0 0h4m6 0h4m27 0h4m-118 1h4m28 0h4m7 0h4m-87 1h4m79 0h4m13 0h4m0 0h4m7 0h4m-3 0h4m-2 0h4m-17 1h4m1 0h4m19 0h4m-38 1h4m3 0h4m-73 1h4m8 0h4m13 0h4m9 0h4m9 0h4m16 0h4m22 0h4m-3 0h4m-109 1h4m-3 0h4m19 0h4m17 0h4m8 0h4m10 0h4m9 0h4m7 0h4m-2 0h4m18 0h4m-119 1h4m-3 0h4m38 0h4m19 0h4m-3 0h4m15 0h4m25 0h4m8 0h4m-131 1h4m-3 0h4m7 0h4m2 0h4m16 0h4m22 0h4m1 0h4m14 0h4m8 0h4m17 0h4m-126 1h4m36 0h4m22 0h4m6 0h4m16 0h4m-87 1h4m58 0h4m6 0h4m2 0h4m-84 1h4m9 0h4m-26 1h4m44 0h4m24 0h4m2 0h4m19 0h4m0 0h4m-124 1h4m6 0h4m6 0h4m2 0h4m21 0h4m21 0h4m2 0h4m1 0h4m-101 1h4m8 0h4m31 0h4m20 0h4m5 0h4m23 0h4m-81 1h4m1 0h4m-2 0h4m-1 0h4m7 0h4m47 0h4m-3 0h4m18 0h4m3 0h4m-101 1h4m27 0h4m22 0h4m5 0h4m3 0h4m-94 1h4m5 0h4m24 0h4m-2 0h4m6 0h4m-1 0h4m13 0h4m3 0h4m-2 0h4m44 0h4m9 0h4m-140 1h4m60 0h4m16 0h4m-1 0h4m0 0h4m-90 1h4m4 0h4m31 0h4m22 0h4m14 0h4m1 0h4m9 0h4m-109 1h4m2 0h4m-2 0h4m8 0h4m-60 1h4m25 0h4m1 0h4m5 0h4m4 0h4m14 0h4m11 0h4m36 0h4m-77 1h4m3 0h4m12 0h4m4 0h4m-2 0h4m4 0h4m45 0h4m-132 1h4m14 0h4m2 0h4m-2 0h4m5 0h4m-3 0h4m8 0h4m44 0h4m4 0h4m3 0h4m9 0h4m-89 1h4m-2 0h4m32 0h4m-72 1h4m38 0h4m-1 0h4m20 0h4m65 0h4m-72 1h4m-62 1h4m4 0h4m0 0h4m7 0h4m19 0h4m9 0h4m9 0h4m-80 1h4m23 0h4m35 0h4m-71 1h4m36 0h4m47 0h4m41 0h4m-144 1h4m-1 0h4m-2 0h4m3 0h4m4 0h4m8 0h4m44 0h4m-55 1h4m34 0h4m60 0h4m-113 1h4m9 0h4m10 0h4m67 0h4m-124 1h4m34 0h4m1 0h4m4 0h4m67 0h4m-139 1h4m20 0h4m-1 0h4m11 0h4m21 0h4m0 0h4m9 0h4m-74 1h4m3 0h4m8 0h4m42 0h4m53 0h4m6 0h4m-88 1h4m11 0h4m61 0h4m-109 1h4m11 0h4m38 0h4m-86 1h4m19 0h4m23 0h4m7 0h4m-20 1h4m-31 1h4m2 0h4m11 0h4m33 0h4m-55 1h4m-47 1h4m1 0h4m37 0h4m0 0h4m-3 0h4m-3 0h4m-13 1h4m49 0h4m75 0h4m-119 1h4m5 0h4m-52 2h4m10 0h4m18 0h4m91 0h4m-145 1h4m56 0h4m7 0h4m-46 1h4m39 0h4m-19 1h4m15 0h4m-60 1h4m10 0h4m95 0h4m-69 2h4m-31 1h4m32 1h4m24 0h4m-73 1h4m-10 2h4m1 0h4m-8 1h4m43 0h4m-60 2h4m12 1h4m-13 1h4m1 0h4m-3 0h4m8 0h4m25 0h4m48 0h4" stroke-width="4"/></g>
<g font-size="7" fill="#000" stroke="#000" stroke-width=".22">
<text x="55.5" y="12.6">3.1%</text>
<text x="2.7" y="27.4">86.2</text>
<text x="2.2" y="35.5">%</text>
<text x="49.8" y="43.8">10.7%</text>
</g>
</g>
<g transform="translate(333.79 107.73)">
<path d="M0 0H73.4V55.2" fill="none" stroke="#333" stroke-width="1"/>
<path d="M22.7 0V55.2M0 18.8H73.4" fill="none" stroke="#111" stroke-width="1.25"/>
<path d="M0.15 -0.5V56.0" stroke="#000" stroke-width="1.8" fill="none"/>
<path d="M-1.3 55.2H73.9" stroke="#000" stroke-width="2.1" fill="none"/>
<path d="M0.2 55.2v2.9M0 54.9h-2.7M5.7 55.2v2.1M0 50.8h-1.8M8.9 55.2v2.1M0 48.4h-1.8M11.2 55.2v2.1M0 46.6h-1.8M12.9 55.2v2.1M0 45.3h-1.8M14.4 55.2v2.1M0 44.2h-1.8M15.6 55.2v2.1M0 43.3h-1.8M16.6 55.2v2.1M0 42.5h-1.8M17.6 55.2v2.1M0 41.8h-1.8M18.4 55.2v2.9M0 41.2h-2.7M23.9 55.2v2.1M0 37.0h-1.8M27.1 55.2v2.1M0 34.6h-1.8M29.4 55.2v2.1M0 32.9h-1.8M31.1 55.2v2.1M0 31.6h-1.8M32.6 55.2v2.1M0 30.5h-1.8M33.8 55.2v2.1M0 29.6h-1.8M34.8 55.2v2.1M0 28.8h-1.8M35.8 55.2v2.1M0 28.1h-1.8M36.6 55.2v2.9M0 27.5h-2.7M42.1 55.2v2.1M0 23.3h-1.8M45.3 55.2v2.1M0 20.9h-1.8M47.6 55.2v2.1M0 19.2h-1.8M49.3 55.2v2.1M0 17.9h-1.8M50.8 55.2v2.1M0 16.8h-1.8M52.0 55.2v2.1M0 15.9h-1.8M53.0 55.2v2.1M0 15.1h-1.8M54.0 55.2v2.1M0 14.4h-1.8M54.8 55.2v2.9M0 13.7h-2.7M60.3 55.2v2.1M0 9.6h-1.8M63.5 55.2v2.1M0 7.2h-1.8M65.8 55.2v2.1M0 5.5h-1.8M67.5 55.2v2.1M0 4.1h-1.8M69.0 55.2v2.1M0 3.0h-1.8M70.2 55.2v2.1M0 2.1h-1.8M71.2 55.2v2.1M0 1.3h-1.8M72.2 55.2v2.1M0 0.6h-1.8M73.0 55.2v2.9M0 0.0h-2.7" stroke="#000" stroke-width="1" fill="none"/>
<g font-size="8.6" font-weight="bold" fill="#000" stroke="#000" stroke-width=".25">
<text transform="translate(-3.4 66.5) scale(.7 1)">10<tspan dx=".9" dy="-4.3" font-size="8">0</tspan></text>
<text transform="translate(-4.4 59.3) rotate(-90) scale(.7 1)">10<tspan dx=".9" dy="-4.3" font-size="8">0</tspan></text>
<text transform="translate(14.8 66.5) scale(.7 1)">10<tspan dx=".9" dy="-4.3" font-size="8">1</tspan></text>
<text transform="translate(-4.4 45.6) rotate(-90) scale(.7 1)">10<tspan dx=".9" dy="-4.3" font-size="8">1</tspan></text>
<text transform="translate(33.0 66.5) scale(.7 1)">10<tspan dx=".9" dy="-4.3" font-size="8">2</tspan></text>
<text transform="translate(-4.4 31.9) rotate(-90) scale(.7 1)">10<tspan dx=".9" dy="-4.3" font-size="8">2</tspan></text>
<text transform="translate(51.2 66.5) scale(.7 1)">10<tspan dx=".9" dy="-4.3" font-size="8">3</tspan></text>
<text transform="translate(-4.4 18.1) rotate(-90) scale(.7 1)">10<tspan dx=".9" dy="-4.3" font-size="8">3</tspan></text>
<text transform="translate(69.4 66.5) scale(.7 1)">10<tspan dx=".9" dy="-4.3" font-size="8">4</tspan></text>
<text transform="translate(-4.4 4.4) rotate(-90) scale(.7 1)">10<tspan dx=".9" dy="-4.3" font-size="8">4</tspan></text>
</g>
<text x="36.2" y="72.4" text-anchor="middle" font-size="6.2" font-weight="bold" fill="#000">AnnexinY-FITC</text>
<text transform="translate(-14.5 28.4) rotate(-90)" text-anchor="middle" font-size="6.6" font-weight="bold" fill="#000" stroke="#000" stroke-width=".2">PI</text>
<g transform="scale(.25)" stroke="#000" fill="none"><path d="M58 155h6m-11 16h6m-19 1h6m16 4h6m2 0h6m15 1h6m-92 1h6m50 0h6m-28 1h6m-17 2h6m5 0h6m5 0h6m11 0h6m-40 1h6m1 0h6m18 0h6m-2 1h6m-45 1h6m9 0h6m-5 0h6m-21 1h6m-3 0h6m0 0h6m8 0h6m4 0h6m-68 1h6m32 0h6m-5 0h6m-3 0h6m-4 0h6m0 0h6m-7 1h6m15 0h6m-5 0h6m-26 1h6m0 0h6m6 0h6m-2 0h6m-54 1h6m0 0h6m5 0h6m-5 0h6m3 0h6m-2 0h6m0 0h6m6 0h6m-53 1h6m-5 0h6m3 0h6m0 0h6m-3 0h6m-5 0h6m-5 0h6m4 0h6m8 0h6m-78 1h6m10 0h6m-4 0h6m8 0h6m5 0h6m-4 0h6m-5 0h6m-38 1h6m-4 0h6m0 0h6m-2 0h6m11 0h6m-4 0h6m-3 0h6m5 0h6m-2 0h6m-5 0h6m0 0h6m-50 1h6m2 0h6m1 0h6m3 0h6m2 0h6m4 0h6m27 0h6m-64 1h6m-3 0h6m0 0h6m-4 0h6m6 0h6m2 0h6m-68 1h6m-3 0h6m0 0h6m5 0h6m14 0h6m3 0h6m-2 0h6m-47 1h6m-1 0h6m0 0h6m4 0h6m-2 0h6m-3 0h6m10 0h6m10 0h6m-74 1h6m-5 0h6m10 0h6m-4 0h6m-4 0h6m-3 0h6m-5 0h6m1 0h6m4 0h6m19 0h6m-89 1h6m1 0h6m-4 0h6m17 0h6m-5 0h6m-5 0h6m9 0h6m-5 0h6m-3 0h6m-1 0h6m-2 0h6m0 0h6m2 0h6m-71 1h6m0 0h6m0 0h6m-2 0h6m2 0h6m-3 0h6m2 0h6m-5 0h6m-5 0h6m-3 0h6m-2 0h6m-1 0h6m-3 0h6m0 0h6m5 0h6m-66 1h6m2 0h6m0 0h6m-3 0h6m0 0h6m-4 0h6m-4 0h6m-1 0h6m5 0h6m-4 0h6m-5 0h6m-3 0h6m-44 1h6m1 0h6m-2 0h6m-1 0h6m-1 0h6m-2 0h6m0 0h6m3 0h6m10 0h6m-78 1h6m-1 0h6m1 0h6m-3 0h6m-4 0h6m-2 0h6m-4 0h6m-5 0h6m-2 0h6m-1 0h6m-4 0h6m0 0h6m-4 0h6m-3 0h6m-2 0h6m-5 0h6m12 0h6m-84 1h6m11 0h6m-3 0h6m-5 0h6m2 0h6m-4 0h6m-1 0h6m-1 0h6m3 0h6m2 0h6m-3 0h6m3 0h6m-82 1h6m15 0h6m10 0h6m-4 0h6m-3 0h6m-1 0h6m0 0h6m-1 0h6m-1 0h6m-5 0h6m-3 0h6m12 0h6m-83 1h6m-4 0h6m-3 0h6m20 0h6m5 0h6m-4 0h6m-3 0h6m1 0h6m6 0h6m0 0h6m-64 1h6m-3 0h6m1 0h6m1 0h6m0 0h6m-3 0h6m-4 0h6m-2 0h6m-3 0h6m1 0h6m10 0h6m8 0h6m-3 0h6m-79 1h6m-3 0h6m-2 0h6m1 0h6m6 0h6m2 0h6m-5 0h6m-5 0h6m-5 0h6m-4 0h6m-4 0h6m0 0h6m-55 1h6m-4 0h6m-5 0h6m-2 0h6m-2 0h6m-2 0h6m-4 0h6m3 0h6m-1 0h6m-4 0h6m-4 0h6m-3 0h6m-3 0h6m-5 0h6m1 0h6m-69 1h6m16 0h6m-1 0h6m-3 0h6m3 0h6m-2 0h6m-2 0h6m-5 0h6m-1 0h6m2 0h6m-56 1h6m5 0h6m-3 0h6m-5 0h6m0 0h6m-2 0h6m-4 0h6m-4 0h6m-4 0h6m-5 0h6m5 0h6m-2 0h6m25 0h6m-103 1h6m21 0h6m0 0h6m-1 0h6m4 0h6m-4 0h6m0 0h6m4 0h6m8 0h6m5 0h6m-85 1h6m-5 0h6m2 0h6m1 0h6m5 0h6m0 0h6m2 0h6m-1 0h6m-1 0h6m-3 0h6m-5 0h6m-67 1h6m12 0h6m-3 0h6m5 0h6m-2 0h6m3 0h6m-4 0h6m15 0h6m-69 1h6m7 0h6m-4 0h6m-1 0h6m5 0h6m2 0h6m-4 0h6m-5 0h6m-2 0h6m10 0h6m1 0h6m-65 1h6m16 0h6m-3 0h6m-5 0h6m8 0h6m-4 0h6m-4 0h6m-3 0h6m-69 1h6m-4 0h6m1 0h6m1 0h6m-4 0h6m-3 0h6m-5 0h6m-5 0h6m-4 0h6m-5 0h6m-5 0h6m-5 0h6m-5 0h6m-5 0h6m-5 0h6m-5 0h6m-5 0h6m-5 0h6m-5 0h6m-5 0h6m-5 0h6m-5 0h6m-5 0h6m-5 0h6m-5 0h6m-5 0h6m-5 0h6m-5 0h6m-2 0h6m-5 0h6m-4 0h6m-4 0h6m-5 0h6m-5 0h6m-5 0h6m-5 0h6m-5 0h6m-5 0h6m-5 0h6m-5 0h6m-5 0h6m-5 0h6m-3 0h6m-3 0h6m-4 0h6m-5 0h6m-4 0h6m6 0h6" stroke-width="6"/><path d="M190 6h4m-2 5h4m-25 4h4m-37 6h4m23 0h4m4 1h4m23 1h4m-30 1h4m-35 1h4m31 1h4m4 2h4m10 0h4m-65 1h4m17 0h4m1 0h4m10 0h4m-9 1h4m8 0h4m-1 0h4m-2 0h4m-50 1h4m-2 0h4m28 0h4m-73 1h4m42 0h4m10 0h4m26 0h4m-59 1h4m9 0h4m10 0h4m-44 1h4m19 0h4m27 0h4m23 0h4m-51 1h4m3 0h4m-23 1h4m-1 0h4m-2 0h4m4 0h4m25 0h4m-61 1h4m9 0h4m4 0h4m19 0h4m6 0h4m-65 1h4m17 0h4m6 0h4m19 0h4m-2 0h4m9 0h4m-102 1h4m19 0h4m22 0h4m2 0h4m3 0h4m7 0h4m1 0h4m0 0h4m0 0h4m-3 0h4m1 0h4m-66 1h4m-2 0h4m4 0h4m-2 0h4m2 0h4m-2 0h4m4 0h4m-3 0h4m0 0h4m0 0h4m-3 0h4m8 0h4m-54 1h4m-1 0h4m4 0h4m2 0h4m-3 0h4m4 0h4m-1 0h4m2 0h4m29 0h4m9 0h4m-61 1h4m-2 0h4m-1 0h4m-3 0h4m1 0h4m0 0h4m-2 0h4m-2 0h4m-3 0h4m-1 0h4m4 0h4m20 0h4m-107 1h4m9 0h4m5 0h4m8 0h4m11 0h4m-1 0h4m-2 0h4m-3 0h4m2 0h4m-1 0h4m-2 0h4m4 0h4m5 0h4m5 0h4m-79 1h4m22 0h4m4 0h4m-2 0h4m-3 0h4m-2 0h4m5 0h4m11 0h4m-3 0h4m-56 1h4m1 0h4m2 0h4m-2 0h4m4 0h4m2 0h4m-3 0h4m-1 0h4m-1 0h4m1 0h4m5 0h4m-1 0h4m-74 1h4m-2 0h4m18 0h4m17 0h4m-3 0h4m15 0h4m6 0h4m19 0h4m-74 1h4m-1 0h4m0 0h4m0 0h4m-3 0h4m1 0h4m-2 0h4m0 0h4m6 0h4m7 0h4m6 0h4m-81 1h4m16 0h4m2 0h4m-2 0h4m-2 0h4m-1 0h4m-2 0h4m-2 0h4m6 0h4m3 0h4m-2 0h4m-55 1h4m4 0h4m4 0h4m-1 0h4m-3 0h4m0 0h4m1 0h4m-3 0h4m-2 0h4m-3 0h4m1 0h4m0 0h4m0 0h4m1 0h4m10 0h4m4 0h4m-83 1h4m-3 0h4m8 0h4m0 0h4m5 0h4m-3 0h4m5 0h4m-3 0h4m3 0h4m-2 0h4m6 0h4m-1 0h4m-2 0h4m18 0h4m-93 1h4m0 0h4m4 0h4m-2 0h4m4 0h4m2 0h4m-3 0h4m-3 0h4m0 0h4m11 0h4m5 0h4m10 0h4m-2 0h4m3 0h4m-82 1h4m0 0h4m-3 0h4m5 0h4m-3 0h4m-3 0h4m-1 0h4m-3 0h4m-1 0h4m-1 0h4m-1 0h4m-3 0h4m1 0h4m-3 0h4m-3 0h4m-3 0h4m-3 0h4m2 0h4m0 0h4m11 0h4m23 0h4m-92 1h4m4 0h4m-1 0h4m1 0h4m-2 0h4m-3 0h4m-1 0h4m-3 0h4m0 0h4m-3 0h4m-1 0h4m6 0h4m5 0h4m5 0h4m1 0h4m-67 1h4m4 0h4m-1 0h4m1 0h4m7 0h4m0 0h4m1 0h4m-2 0h4m-2 0h4m12 0h4m8 0h4m-82 1h4m-1 0h4m8 0h4m1 0h4m1 0h4m-2 0h4m-1 0h4m-2 0h4m-3 0h4m-2 0h4m-2 0h4m1 0h4m-3 0h4m4 0h4m-2 0h4m4 0h4m0 0h4m9 0h4m-80 1h4m2 0h4m27 0h4m2 0h4m0 0h4m-3 0h4m-2 0h4m-2 0h4m6 0h4m2 0h4m2 0h4m14 0h4m-1 0h4m-108 1h4m18 0h4m6 0h4m-2 0h4m-1 0h4m2 0h4m0 0h4m1 0h4m-2 0h4m4 0h4m3 0h4m-2 0h4m2 0h4m-85 1h4m12 0h4m2 0h4m-2 0h4m18 0h4m-1 0h4m-3 0h4m5 0h4m8 0h4m-3 0h4m-3 0h4m0 0h4m0 0h4m-1 0h4m-90 1h4m21 0h4m1 0h4m5 0h4m2 0h4m-3 0h4m0 0h4m-2 0h4m5 0h4m-2 0h4m12 0h4m-72 1h4m15 0h4m3 0h4m4 0h4m5 0h4m-1 0h4m-3 0h4m3 0h4m-2 0h4m-58 1h4m-2 0h4m9 0h4m3 0h4m7 0h4m-3 0h4m-3 0h4m-3 0h4m7 0h4m-2 0h4m-3 0h4m-2 0h4m-3 0h4m17 0h4m3 0h4m-3 0h4m-91 1h4m1 0h4m-3 0h4m6 0h4m2 0h4m1 0h4m-3 0h4m-2 0h4m1 0h4m7 0h4m11 0h4m-3 0h4m-2 0h4m-1 0h4m-63 1h4m11 0h4m-2 0h4m0 0h4m0 0h4m-2 0h4m0 0h4m8 0h4m-3 0h4m2 0h4m8 0h4m-63 1h4m7 0h4m-1 0h4m-1 0h4m8 0h4m-1 0h4m1 0h4m-1 0h4m4 0h4m5 0h4m2 0h4m-1 0h4m-63 1h4m0 0h4m0 0h4m2 0h4m-1 0h4m11 0h4m-47 1h4m-1 0h4m4 0h4m12 0h4m1 0h4m-2 0h4m0 0h4m26 0h4m-67 1h4m-1 0h4m22 0h4m5 0h4m-58 1h4m19 0h4m-1 0h4m12 0h4m-2 0h4m-3 0h4m12 0h4m4 0h4m0 0h4m-3 0h4m3 0h4m-56 1h4m-3 0h4m-3 0h4m-2 0h4m61 0h4m-99 1h4m1 0h4m1 0h4m9 0h4m4 0h4m10 0h4m8 0h4m-2 0h4m-56 1h4m9 0h4m13 0h4m11 0h4m-2 0h4m-1 0h4m2 0h4m13 0h4m-2 0h4m-63 1h4m24 0h4m-1 0h4m-1 0h4m11 0h4m-32 1h4m-1 0h4m-3 0h4m1 0h4m-2 0h4m8 0h4m1 0h4m-83 1h4m49 0h4m1 0h4m2 0h4m-1 0h4m-31 1h4m2 0h4m0 0h4m16 0h4m-61 1h4m3 0h4m2 0h4m11 0h4m1 0h4m4 0h4m-1 0h4m-20 1h4m14 0h4m-85 1h4m55 0h4m-3 1h4m-1 0h4m3 0h4m4 0h4m1 0h4m-33 1h4m17 0h4m11 0h4m-2 0h4m10 0h4m-72 1h4m1 0h4m19 0h4m20 0h4m1 0h4m-63 1h4m23 0h4m-1 0h4m9 0h4m-3 0h4m24 0h4m-91 1h4m28 0h4m0 0h4m-36 1h4m23 0h4m0 0h4m-2 0h4m11 0h4m-3 0h4m5 0h4m5 0h4m-1 0h4m-18 1h4m5 0h4m-54 1h4m15 0h4m-2 0h4m4 0h4m2 0h4m18 0h4m-45 1h4m1 0h4m22 0h4m4 0h4m-44 1h4m8 0h4m-27 1h4m-2 0h4m-3 0h4m-3 0h4m0 0h4m30 0h4m-3 0h4m-2 0h4m11 0h4m-67 1h4m36 0h4m13 0h4m22 0h4m-115 1h4m31 0h4m16 0h4m8 0h4m-58 1h4m9 0h4m18 0h4m6 0h4m-39 1h4m14 0h4m-2 0h4m7 0h4m-21 1h4m1 0h4m3 0h4m23 0h4m-69 1h4m12 0h4m-2 0h4m0 0h4m-2 0h4m-2 0h4m6 0h4m8 0h4m5 0h4m3 0h4m-49 1h4m8 0h4m-3 0h4m-3 0h4m11 0h4m5 0h4m11 0h4m0 0h4m-118 1h4m32 0h4m22 0h4m23 0h4m7 0h4m16 0h4m-62 1h4m34 0h4m-3 0h4m4 0h4m-60 1h4m7 0h4m8 0h4m-1 0h4m2 0h4m-3 0h4m2 0h4m-2 0h4m9 0h4m6 0h4m0 0h4m-69 1h4m7 0h4m4 0h4m11 0h4m0 0h4m-45 1h4m0 0h4m7 0h4m11 0h4m1 0h4m-2 0h4m19 0h4m-1 0h4m-66 1h4m6 0h4m-1 0h4m2 0h4m-2 0h4m-3 0h4m0 0h4m26 0h4m-80 1h4m6 0h4m3 0h4m-1 0h4m7 0h4m1 0h4m-106 1h4m1 0h4m74 0h4m9 0h4m7 0h4m2 0h4m-3 0h4m13 0h4m-55 1h4m7 0h4m4 0h4m4 0h4m12 0h4m2 0h4m-50 1h4m12 0h4m4 0h4m5 0h4m-3 0h4m4 0h4m-3 0h4m-1 0h4m-2 0h4m-80 1h4m16 0h4m16 0h4m14 0h4m13 0h4m3 0h4m-60 1h4m5 0h4m1 0h4m3 0h4m-3 0h4m-2 0h4m-1 0h4m1 0h4m1 0h4m1 0h4m4 0h4m-119 1h4m3 0h4m66 0h4m12 0h4m-2 0h4m-21 1h4m19 0h4m8 0h4m-110 1h4m17 0h4m37 0h4m14 0h4m-2 0h4m-3 0h4m0 0h4m2 0h4m-85 1h4m32 0h4m12 0h4m-3 0h4m3 0h4m11 0h4m1 0h4m-2 0h4m32 0h4m-124 1h4m10 0h4m14 0h4m9 0h4m9 0h4m4 0h4m17 0h4m17 0h4m-125 1h4m2 0h4m0 0h4m39 0h4m2 0h4m13 0h4m2 0h4m-3 0h4m0 0h4m-2 0h4m5 0h4m15 0h4m-95 1h4m10 0h4m8 0h4m12 0h4m-1 0h4m0 0h4m-61 1h4m11 0h4m26 0h4m23 0h4m11 0h4m-80 1h4m53 0h4m-1 0h4m-2 0h4m9 0h4m-2 0h4m-109 1h4m8 0h4m8 0h4m-3 0h4m27 0h4m-1 0h4m5 0h4m19 0h4m2 0h4m6 0h4m-88 1h4m29 0h4m-3 0h4m3 0h4m4 0h4m-1 0h4m6 0h4m-3 0h4m1 0h4m11 0h4m-95 1h4m13 0h4m1 0h4m14 0h4m1 0h4m-2 0h4m0 0h4m0 0h4m3 0h4m3 0h4m-2 0h4m-1 0h4m-1 0h4m-1 0h4m-2 0h4m4 0h4m-120 1h4m6 0h4m5 0h4m16 0h4m23 0h4m4 0h4m9 0h4m-2 0h4m1 0h4m12 0h4m-1 0h4m-60 1h4m-1 0h4m1 0h4m-1 0h4m-2 0h4m5 0h4m-2 0h4m-3 0h4m3 0h4m-2 0h4m1 0h4m-1 0h4m-98 1h4m0 0h4m50 0h4m-3 0h4m9 0h4m0 0h4m2 0h4m1 0h4m7 0h4m1 0h4m-63 1h4m1 0h4m14 0h4m2 0h4m4 0h4m4 0h4m-3 0h4m0 0h4m6 0h4m4 0h4m39 0h4m-167 1h4m39 0h4m21 0h4m6 0h4m2 0h4m-2 0h4m-3 0h4m-3 0h4m10 0h4m1 0h4m-2 0h4m3 0h4m9 0h4m-111 1h4m9 0h4m4 0h4m10 0h4m4 0h4m2 0h4m11 0h4m-3 0h4m-3 0h4m-2 0h4m13 0h4m-3 0h4m2 0h4m8 0h4m-81 1h4m12 0h4m-1 0h4m15 0h4m6 0h4m1 0h4m10 0h4m-109 1h4m9 0h4m33 0h4m31 0h4m-1 0h4m4 0h4m-3 0h4m2 0h4m4 0h4m-1 0h4m0 0h4m-134 1h4m0 0h4m10 0h4m11 0h4m2 0h4m6 0h4m4 0h4m9 0h4m6 0h4m-1 0h4m5 0h4m-2 0h4m0 0h4m-2 0h4m-3 0h4m65 0h4m-121 1h4m14 0h4m2 0h4m-1 0h4m4 0h4m-1 0h4m-3 0h4m4 0h4m-1 0h4m-93 1h4m29 0h4m12 0h4m1 0h4m2 0h4m10 0h4m3 0h4m-3 0h4m1 0h4m-3 0h4m0 0h4m-1 0h4m-65 1h4m11 0h4m-3 0h4m1 0h4m40 0h4m-112 1h4m63 0h4m1 0h4m-2 0h4m1 0h4m-1 0h4m0 0h4m10 0h4m5 0h4m-129 1h4m29 0h4m-1 0h4m-1 0h4m6 0h4m-1 0h4m20 0h4m4 0h4m-1 0h4m10 0h4m3 0h4m1 0h4m-87 1h4m3 0h4m2 0h4m-1 0h4m-1 0h4m20 0h4m4 0h4m1 0h4m0 0h4m-2 0h4m17 0h4m2 0h4m4 0h4m0 0h4m-2 0h4m-109 1h4m7 0h4m14 0h4m5 0h4m7 0h4m7 0h4m-1 0h4m-1 0h4m4 0h4m-2 0h4m2 0h4m-2 0h4m10 0h4m5 0h4m-119 1h4m-2 0h4m11 0h4m3 0h4m9 0h4m-3 0h4m2 0h4m1 0h4m-2 0h4m-3 0h4m9 0h4m-1 0h4m-3 0h4m1 0h4m3 0h4m2 0h4m-130 1h4m53 0h4m35 0h4m-1 0h4m5 0h4m-1 0h4m-1 0h4m0 0h4m7 0h4m10 0h4m-97 1h4m3 0h4m-3 0h4m2 0h4m-3 0h4m5 0h4m-3 0h4m6 0h4m-1 0h4m-2 0h4m14 0h4m2 0h4m14 0h4m0 0h4m-92 1h4m17 0h4m9 0h4m-2 0h4m6 0h4m12 0h4m3 0h4m-1 0h4m17 0h4m17 0h4m-116 1h4m6 0h4m1 0h4m8 0h4m2 0h4m3 0h4m6 0h4m-3 0h4m3 0h4m-2 0h4m1 0h4m11 0h4m35 0h4m-126 1h4m3 0h4m-2 0h4m30 0h4m-3 0h4m21 0h4m-2 0h4m1 0h4m-3 0h4m9 0h4m0 0h4m-2 0h4m2 0h4m-97 1h4m1 0h4m1 0h4m8 0h4m12 0h4m-1 0h4m-3 0h4m-2 0h4m8 0h4m-1 0h4m-3 0h4m-2 0h4m0 0h4m-2 0h4m-3 0h4m3 0h4m4 0h4m-2 0h4m-96 1h4m-3 0h4m40 0h4m10 0h4m-1 0h4m0 0h4m-1 0h4m-1 0h4m-2 0h4m-3 0h4m11 0h4m18 0h4m23 0h4m-148 1h4m9 0h4m4 0h4m4 0h4m2 0h4m13 0h4m2 0h4m5 0h4m-3 0h4m7 0h4m10 0h4m3 0h4m10 0h4m-129 1h4m12 0h4m-3 0h4m15 0h4m3 0h4m14 0h4m8 0h4m5 0h4m4 0h4m13 0h4m1 0h4m-101 1h4m5 0h4m2 0h4m1 0h4m-1 0h4m-1 0h4m9 0h4m0 0h4m-2 0h4m0 0h4m4 0h4m11 0h4m-2 0h4m8 0h4m-3 0h4m39 0h4m-141 1h4m-2 0h4m54 0h4m1 0h4m3 0h4m17 0h4m-3 0h4m-119 1h4m18 0h4m5 0h4m-3 0h4m6 0h4m4 0h4m-1 0h4m8 0h4m-3 0h4m-1 0h4m0 0h4m6 0h4m-3 0h4m2 0h4m2 0h4m-3 0h4m-1 0h4m-3 0h4m-1 0h4m0 0h4m-58 1h4m5 0h4m-3 0h4m0 0h4m2 0h4m10 0h4m-3 0h4m-3 0h4m-2 0h4m-2 0h4m-1 0h4m2 0h4m-3 0h4m0 0h4m5 0h4m-3 0h4m1 0h4m28 0h4m-113 1h4m-1 0h4m8 0h4m6 0h4m0 0h4m0 0h4m0 0h4m-1 0h4m-3 0h4m2 0h4m-1 0h4m22 0h4m-95 1h4m16 0h4m-3 0h4m-1 0h4m4 0h4m11 0h4m-1 0h4m5 0h4m-3 0h4m-3 0h4m8 0h4m-1 0h4m0 0h4m8 0h4m2 0h4m-125 1h4m15 0h4m11 0h4m6 0h4m8 0h4m12 0h4m-1 0h4m4 0h4m-2 0h4m8 0h4m-99 1h4m23 0h4m5 0h4m-1 0h4m12 0h4m19 0h4m-1 0h4m5 0h4m20 0h4m2 0h4m-112 1h4m7 0h4m-1 0h4m-2 0h4m21 0h4m-2 0h4m0 0h4m5 0h4m0 0h4m-3 0h4m-3 0h4m6 0h4m9 0h4m-2 0h4m0 0h4m19 0h4m-111 1h4m1 0h4m14 0h4m-3 0h4m0 0h4m4 0h4m24 0h4m6 0h4m-92 1h4m-2 0h4m1 0h4m5 0h4m0 0h4m-3 0h4m-1 0h4m-2 0h4m1 0h4m21 0h4m2 0h4m19 0h4m5 0h4m-99 1h4m5 0h4m4 0h4m21 0h4m-1 0h4m1 0h4m-3 0h4m-3 0h4m-3 0h4m1 0h4m3 0h4m3 0h4m3 0h4m19 0h4m-3 0h4m-100 1h4m3 0h4m-2 0h4m2 0h4m-1 0h4m3 0h4m-2 0h4m1 0h4m0 0h4m9 0h4m4 0h4m1 0h4m0 0h4m-3 0h4m-3 0h4m-2 0h4m0 0h4m0 0h4m-2 0h4m-3 0h4m0 0h4m2 0h4m5 0h4m26 0h4m-134 1h4m-1 0h4m5 0h4m-1 0h4m10 0h4m5 0h4m17 0h4m0 0h4m3 0h4m2 0h4m15 0h4m28 0h4m-140 1h4m0 0h4m5 0h4m5 0h4m29 0h4m-2 0h4m12 0h4m6 0h4m-1 0h4m0 0h4m1 0h4m-2 0h4m1 0h4m12 0h4m7 0h4m-146 1h4m37 0h4m8 0h4m6 0h4m3 0h4m7 0h4m2 0h4m2 0h4m5 0h4m-2 0h4m1 0h4m4 0h4m1 0h4m41 0h4m-176 1h4m13 0h4m4 0h4m7 0h4m21 0h4m-1 0h4m16 0h4m-2 0h4m1 0h4m0 0h4m-2 0h4m-3 0h4m6 0h4m-2 0h4m17 0h4m-3 0h4m22 0h4m-139 1h4m3 0h4m3 0h4m8 0h4m5 0h4m14 0h4m8 0h4m3 0h4m13 0h4m2 0h4m30 0h4m-3 0h4m-140 1h4m18 0h4m-1 0h4m30 0h4m1 0h4m2 0h4m6 0h4m0 0h4m-1 0h4m-2 0h4m27 0h4m-123 1h4m0 0h4m0 0h4m5 0h4m0 0h4m13 0h4m-3 0h4m6 0h4m8 0h4m5 0h4m0 0h4m6 0h4m6 0h4m31 0h4m-128 1h4m14 0h4m3 0h4m0 0h4m2 0h4m17 0h4m-3 0h4m-2 0h4m7 0h4m-2 0h4m-3 0h4m4 0h4m16 0h4m-103 1h4m20 0h4m15 0h4m-3 0h4m11 0h4m4 0h4m36 0h4m9 0h4m9 0h4m-134 1h4m19 0h4m-3 0h4m14 0h4m11 0h4m1 0h4m9 0h4m13 0h4m-97 1h4m10 0h4m0 0h4m7 0h4m-1 0h4m9 0h4m-3 0h4m20 0h4m-2 0h4m8 0h4m23 0h4m10 0h4m-158 1h4m36 0h4m32 0h4m0 0h4m-3 0h4m8 0h4m7 0h4m62 0h4m-147 1h4m9 0h4m-3 0h4m1 0h4m6 0h4m12 0h4m-1 0h4m-3 0h4m2 0h4m2 0h4m10 0h4m15 0h4m3 0h4m28 0h4m-136 1h4m6 0h4m7 0h4m4 0h4m23 0h4m2 0h4m0 0h4m-2 0h4m-3 0h4m11 0h4m-1 0h4m-97 1h4m-3 0h4m9 0h4m19 0h4m10 0h4m9 0h4m-2 0h4m0 0h4m14 0h4m33 0h4m12 0h4m3 0h4m10 0h4m-159 1h4m4 0h4m8 0h4m9 0h4m6 0h4m-1 0h4m4 0h4m18 0h4m4 0h4m-2 0h4m9 0h4m19 0h4m-130 1h4m5 0h4m-3 0h4m1 0h4m0 0h4m11 0h4m5 0h4m13 0h4m5 0h4m-1 0h4m1 0h4m-90 1h4m9 0h4m1 0h4m9 0h4m0 0h4m2 0h4m19 0h4m1 0h4m-1 0h4m4 0h4m14 0h4m-120 1h4m32 0h4m11 0h4m12 0h4m26 0h4m-2 0h4m-2 0h4m-71 1h4m8 0h4m11 0h4m55 0h4m-82 1h4m13 0h4m20 0h4m11 0h4m0 0h4m0 0h4m26 0h4m-131 1h4m-3 0h4m37 0h4m-2 0h4m2 0h4m-2 0h4m-2 0h4m3 0h4m18 0h4m2 0h4m4 0h4m24 0h4m32 0h4m-159 1h4m28 0h4m6 0h4m3 0h4m57 0h4m1 0h4m-91 1h4m6 0h4m12 0h4m9 0h4m36 0h4m9 0h4m-94 1h4m18 0h4m5 0h4m1 0h4m19 0h4m5 0h4m0 0h4m3 0h4m16 0h4m-112 1h4m0 0h4m14 0h4m33 0h4m-1 0h4m-67 1h4m7 0h4m1 0h4m25 0h4m73 0h4m-136 1h4m3 0h4m29 0h4m-1 0h4m-2 0h4m-1 0h4m0 0h4m40 0h4m-91 1h4m0 0h4m7 0h4m1 0h4m0 0h4m22 0h4m1 0h4m56 0h4m-135 1h4m7 0h4m-2 0h4m16 0h4m9 0h4m51 0h4m35 0h4m3 0h4m-120 1h4m3 0h4m6 0h4m-2 0h4m-3 0h4m8 0h4m-3 0h4m38 0h4m-71 1h4m0 0h4m29 0h4m44 0h4m-108 1h4m13 0h4m3 0h4m16 0h4m30 0h4m33 0h4m-123 1h4m1 0h4m4 0h4m-1 0h4m2 0h4m11 0h4m2 0h4m5 0h4m76 0h4m-153 2h4m96 0h4m13 0h4m-72 1h4m-37 1h4m7 0h4m13 0h4m7 0h4m78 0h4m9 0h4m-93 1h4m54 0h4m1 0h4m-90 1h4m9 0h4m6 0h4m17 0h4m14 0h4m2 0h4m29 0h4m-97 1h4m-25 1h4m16 0h4m27 0h4m10 0h4m27 0h4m-88 1h4m71 0h4m5 0h4m-127 2h4m25 0h4m5 0h4m3 0h4m30 0h4m-64 1h4m47 0h4m21 0h4m41 0h4m-3 0h4m-127 1h4m37 0h4m-55 1h4m41 0h4m-1 0h4m10 0h4m-32 1h4m88 0h4m-92 1h4m-29 1h4m15 0h4m-7 1h4m73 0h4m-61 1h4m11 0h4m21 1h4m-84 1h4m24 0h4m13 0h4m61 1h4m-117 1h4m3 0h4m-3 0h4m-2 0h4m32 0h4m23 0h4m32 0h4m11 0h4" stroke-width="4"/></g>
<g font-size="7" fill="#000" stroke="#000" stroke-width=".22">
<text x="55.2" y="11.5">4.5%</text>
<text x="2.8" y="27.0">81.7</text>
<text x="3.0" y="35.3">%</text>
<text x="50.8" y="41.9">13.6%</text>
</g>
</g>
<g transform="translate(438.68 108.0)">
<path d="M0 0H73.4V55.2" fill="none" stroke="#333" stroke-width="1"/>
<path d="M22.7 0V55.2M0 18.8H73.4" fill="none" stroke="#111" stroke-width="1.25"/>
<path d="M0.15 -0.5V56.0" stroke="#000" stroke-width="1.8" fill="none"/>
<path d="M-1.3 55.2H73.9" stroke="#000" stroke-width="2.1" fill="none"/>
<path d="M0.2 55.2v2.9M0 54.9h-2.7M5.7 55.2v2.1M0 50.8h-1.8M8.9 55.2v2.1M0 48.4h-1.8M11.2 55.2v2.1M0 46.6h-1.8M12.9 55.2v2.1M0 45.3h-1.8M14.4 55.2v2.1M0 44.2h-1.8M15.6 55.2v2.1M0 43.3h-1.8M16.6 55.2v2.1M0 42.5h-1.8M17.6 55.2v2.1M0 41.8h-1.8M18.4 55.2v2.9M0 41.2h-2.7M23.9 55.2v2.1M0 37.0h-1.8M27.1 55.2v2.1M0 34.6h-1.8M29.4 55.2v2.1M0 32.9h-1.8M31.1 55.2v2.1M0 31.6h-1.8M32.6 55.2v2.1M0 30.5h-1.8M33.8 55.2v2.1M0 29.6h-1.8M34.8 55.2v2.1M0 28.8h-1.8M35.8 55.2v2.1M0 28.1h-1.8M36.6 55.2v2.9M0 27.5h-2.7M42.1 55.2v2.1M0 23.3h-1.8M45.3 55.2v2.1M0 20.9h-1.8M47.6 55.2v2.1M0 19.2h-1.8M49.3 55.2v2.1M0 17.9h-1.8M50.8 55.2v2.1M0 16.8h-1.8M52.0 55.2v2.1M0 15.9h-1.8M53.0 55.2v2.1M0 15.1h-1.8M54.0 55.2v2.1M0 14.4h-1.8M54.8 55.2v2.9M0 13.7h-2.7M60.3 55.2v2.1M0 9.6h-1.8M63.5 55.2v2.1M0 7.2h-1.8M65.8 55.2v2.1M0 5.5h-1.8M67.5 55.2v2.1M0 4.1h-1.8M69.0 55.2v2.1M0 3.0h-1.8M70.2 55.2v2.1M0 2.1h-1.8M71.2 55.2v2.1M0 1.3h-1.8M72.2 55.2v2.1M0 0.6h-1.8M73.0 55.2v2.9M0 0.0h-2.7" stroke="#000" stroke-width="1" fill="none"/>
<g font-size="8.6" font-weight="bold" fill="#000" stroke="#000" stroke-width=".25">
<text transform="translate(-3.4 66.5) scale(.7 1)">10<tspan dx=".9" dy="-4.3" font-size="8">0</tspan></text>
<text transform="translate(-4.4 59.3) rotate(-90) scale(.7 1)">10<tspan dx=".9" dy="-4.3" font-size="8">0</tspan></text>
<text transform="translate(14.8 66.5) scale(.7 1)">10<tspan dx=".9" dy="-4.3" font-size="8">1</tspan></text>
<text transform="translate(-4.4 45.6) rotate(-90) scale(.7 1)">10<tspan dx=".9" dy="-4.3" font-size="8">1</tspan></text>
<text transform="translate(33.0 66.5) scale(.7 1)">10<tspan dx=".9" dy="-4.3" font-size="8">2</tspan></text>
<text transform="translate(-4.4 31.9) rotate(-90) scale(.7 1)">10<tspan dx=".9" dy="-4.3" font-size="8">2</tspan></text>
<text transform="translate(51.2 66.5) scale(.7 1)">10<tspan dx=".9" dy="-4.3" font-size="8">3</tspan></text>
<text transform="translate(-4.4 18.1) rotate(-90) scale(.7 1)">10<tspan dx=".9" dy="-4.3" font-size="8">3</tspan></text>
<text transform="translate(69.4 66.5) scale(.7 1)">10<tspan dx=".9" dy="-4.3" font-size="8">4</tspan></text>
<text transform="translate(-4.4 4.4) rotate(-90) scale(.7 1)">10<tspan dx=".9" dy="-4.3" font-size="8">4</tspan></text>
</g>
<text x="36.2" y="72.4" text-anchor="middle" font-size="6.2" font-weight="bold" fill="#000">AnnexinY-FITC</text>
<text transform="translate(-14.5 28.4) rotate(-90)" text-anchor="middle" font-size="6.6" font-weight="bold" fill="#000" stroke="#000" stroke-width=".2">PI</text>
<g transform="scale(.25)" stroke="#000" fill="none"><path d="M178 22h6m6 4h6m-20 2h6m-16 1h6m-8 3h6m-2 1h6m8 0h6m-33 2h6m16 0h6m9 0h6m-50 1h6m9 0h6m43 0h6m-40 1h6m2 1h6m-54 1h6m10 0h6m4 0h6m-5 0h6m76 0h6m-101 1h6m-10 1h6m-2 0h6m5 0h6m25 0h6m-67 1h6m25 0h6m0 0h6m38 0h6m-61 1h6m-3 0h6m-3 0h6m25 0h6m-33 1h6m14 0h6m41 0h6m-65 1h6m-4 0h6m-34 1h6m22 0h6m24 0h6m-75 1h6m6 0h6m-2 0h6m-4 0h6m7 0h6m-4 0h6m-5 0h6m-5 0h6m-4 0h6m-1 0h6m-29 1h6m0 0h6m-3 0h6m6 0h6m-31 1h6m-3 0h6m16 0h6m-1 0h6m18 0h6m-4 0h6m14 0h6m-124 1h6m30 0h6m18 0h6m0 0h6m18 0h6m-83 1h6m26 0h6m0 0h6m12 0h6m-52 1h6m5 0h6m-2 0h6m2 0h6m4 0h6m-59 1h6m10 0h6m3 0h6m-5 0h6m-1 0h6m29 0h6m-55 1h6m-4 0h6m10 0h6m-4 0h6m-3 0h6m-2 0h6m31 0h6m-84 1h6m15 0h6m-1 0h6m-2 0h6m6 0h6m2 0h6m-5 0h6m19 0h6m24 0h6m-100 1h6m19 0h6m10 0h6m3 0h6m20 0h6m-124 1h6m35 0h6m7 0h6m0 0h6m5 0h6m-3 0h6m-5 0h6m-2 0h6m-3 0h6m2 0h6m-5 0h6m-4 0h6m-5 0h6m0 0h6m2 0h6m-4 0h6m-70 1h6m-1 0h6m3 0h6m2 0h6m-3 0h6m-2 0h6m-1 0h6m1 0h6m5 0h6m13 0h6m-5 0h6m-116 1h6m20 0h6m9 0h6m14 0h6m-5 0h6m0 0h6m1 0h6m0 0h6m14 0h6m-4 0h6m1 0h6m11 0h6m-118 1h6m6 0h6m20 0h6m4 0h6m-5 0h6m-3 0h6m5 0h6m-1 0h6m15 0h6m-2 0h6m-73 1h6m0 0h6m-2 0h6m-1 0h6m-4 0h6m13 0h6m-56 1h6m2 0h6m2 0h6m-5 0h6m-5 0h6m-5 0h6m-3 0h6m3 0h6m-1 0h6m-4 0h6m-4 0h6m-39 1h6m2 0h6m-4 0h6m5 0h6m33 0h6m-57 1h6m0 0h6m17 0h6m-2 0h6m-5 0h6m-2 0h6m2 0h6m-2 0h6m28 0h6m-125 1h6m18 0h6m-2 0h6m2 0h6m-4 0h6m-4 0h6m-2 0h6m-4 0h6m-3 0h6m-5 0h6m-1 0h6m-5 0h6m-5 0h6m2 0h6m-2 0h6m-79 1h6m5 0h6m10 0h6m3 0h6m15 0h6m12 0h6m-65 1h6m10 0h6m7 0h6m-4 0h6m-1 0h6m3 0h6m-4 0h6m3 0h6m6 0h6m-3 0h6m22 0h6m-78 1h6m7 0h6m0 0h6m-1 0h6m-5 0h6m-2 0h6m2 0h6m-5 0h6m18 0h6m-93 1h6m3 0h6m-2 0h6m-1 0h6m-2 0h6m-1 0h6m-5 0h6m8 0h6m-4 0h6m-1 0h6m19 0h6m-74 1h6m-4 0h6m5 0h6m0 0h6m10 0h6m-1 0h6m-5 0h6m-4 0h6m-2 0h6m-4 0h6m-3 0h6m-4 0h6m-4 0h6m4 0h6m0 0h6m-92 1h6m6 0h6m13 0h6m5 0h6m5 0h6m1 0h6m2 0h6m-4 0h6m-50 1h6m-3 0h6m-1 0h6m0 0h6m-1 0h6m1 0h6m-5 0h6m-3 0h6m2 0h6m-5 0h6m-5 0h6m5 0h6m-2 0h6m-2 0h6m-2 0h6m-68 1h6m1 0h6m-1 0h6m-5 0h6m-3 0h6m-4 0h6m11 0h6m-2 0h6m-3 0h6m-4 0h6m7 0h6m-71 1h6m7 0h6m-4 0h6m4 0h6m6 0h6m6 0h6m-1 0h6m-46 1h6m2 0h6m-5 0h6m-4 0h6m21 0h6m4 0h6m4 0h6m-86 1h6m14 0h6m-4 0h6m3 0h6m-1 0h6m14 0h6m-79 1h6m17 0h6m5 0h6m4 1h6m26 0h6m-4 0h6m-5 0h6m-55 1h6m-1 0h6m0 0h6m3 0h6m1 0h6m-3 0h6m28 0h6m-69 1h6m7 0h6m-1 0h6m-2 0h6m-1 0h6m1 0h6m-5 0h6m-4 0h6m6 0h6m-71 1h6m1 0h6m3 0h6m12 0h6m-2 0h6m-5 0h6m-5 0h6m-4 0h6m0 0h6m0 0h6m-92 1h6m24 0h6m14 0h6m18 0h6m10 0h6m-87 1h6m-2 0h6m12 0h6m16 0h6m1 0h6m-2 0h6m-3 0h6m-41 1h6m-2 0h6m-5 0h6m14 0h6m0 0h6m17 0h6m-5 0h6m-72 1h6m25 0h6m-2 0h6m-20 1h6m14 0h6m-5 0h6m-3 0h6m-66 1h6m1 0h6m43 0h6m-2 0h6m-18 1h6m-32 1h6m41 0h6m23 0h6m1 0h6m-79 1h6m-2 0h6m-4 0h6m44 0h6m-76 1h6m25 0h6m11 0h6m6 0h6m-58 1h6m2 0h6m8 0h6m5 1h6m-48 1h6m8 0h6m35 0h6m21 0h6m-88 1h6m6 0h6m-4 0h6m0 0h6m7 0h6m2 0h6m-5 0h6m34 0h6m-89 1h6m15 0h6m-5 0h6m10 0h6m-2 0h6m-15 1h6m6 1h6m-15 2h6m2 0h6m2 0h6m-41 2h6m-17 1h6m28 0h6m-33 1h6m-7 1h6m20 1h6m2 0h6m-10 1h6m5 0h6m-14 1h6m11 1h6m-125 62h6m-10 3h6m-26 3h6m10 0h6m24 0h6m-4 1h6m-43 3h6m-18 1h6m11 0h6m22 0h6m-36 1h6m-11 1h6m-5 0h6m-2 0h6m11 0h6m-4 0h6m-32 1h6m-22 1h6m37 0h6m-42 1h6m13 0h6m-35 1h6m30 0h6m-31 1h6m2 0h6m-16 1h6m-5 0h6m-4 0h6m11 0h6m2 0h6m-2 0h6m17 0h6m-59 1h6m2 0h6m2 0h6m-5 0h6m-2 0h6m-2 0h6m-3 0h6m-1 0h6m-63 1h6m20 0h6m2 0h6m9 0h6m2 0h6m-4 0h6m-2 0h6m-1 0h6m-42 1h6m2 0h6m-3 0h6m-4 0h6m10 0h6m-4 0h6m7 0h6m-53 1h6m0 0h6m-3 0h6m6 0h6m-5 0h6m-4 0h6m-2 0h6m-5 0h6m-43 1h6m2 0h6m6 0h6m12 0h6m-1 0h6m1 0h6m-61 1h6m1 0h6m-2 0h6m-5 0h6m3 0h6m-1 0h6m-1 0h6m0 0h6m0 0h6m-5 0h6m3 0h6m-35 1h6m-2 0h6m-1 0h6m8 0h6m-48 1h6m1 0h6m-3 0h6m8 0h6m2 0h6m2 0h6m-3 0h6m-53 1h6m0 0h6m-1 0h6m-4 0h6m0 0h6m2 0h6m-3 0h6m4 0h6m-5 0h6m0 0h6m-67 1h6m13 0h6m3 0h6m-5 0h6m1 0h6m-3 0h6m1 0h6m-5 0h6m-1 0h6m-4 0h6m4 0h6m4 0h6m-73 1h6m20 0h6m-5 0h6m7 0h6m-5 0h6m-4 0h6m7 0h6m-33 1h6m-2 0h6m0 0h6m-4 0h6m-5 0h6m-4 0h6m-4 0h6m-4 0h6m-5 0h6m-3 0h6m-2 0h6m1 0h6m-71 1h6m-2 0h6m11 0h6m-5 0h6m3 0h6m1 0h6m-5 0h6m-4 0h6m-5 0h6m-4 0h6m-1 0h6m-1 0h6m0 0h6m2 0h6m-54 1h6m-4 0h6m-5 0h6m-2 0h6m-4 0h6m-5 0h6m-5 0h6m-5 0h6m-2 0h6m-3 0h6m-5 0h6m-5 0h6m-5 0h6m-4 0h6m-5 0h6m-5 0h6m-5 0h6m0 0h6m1 0h6m-46 1h6m-4 0h6m4 0h6m2 0h6m-5 0h6m-5 0h6m3 0h6m-1 0h6m4 0h6m-5 0h6m-5 0h6m-2 0h6m-69 1h6m-2 0h6m-4 0h6m-2 0h6m-2 0h6m-3 0h6m-2 0h6m-5 0h6m3 0h6m-3 0h6m-1 0h6m-3 0h6m4 0h6m-1 0h6m-66 1h6m17 0h6m-1 0h6m-2 0h6m5 0h6m-4 0h6m-2 0h6m-2 0h6m10 0h6m-74 1h6m13 0h6m-4 0h6m-4 0h6m-3 0h6m-4 0h6m16 0h6m-1 0h6m3 0h6m-4 0h6m-90 1h6m11 0h6m-4 0h6m1 0h6m8 0h6m-3 0h6m-5 0h6m-2 0h6m-2 0h6m-4 0h6m-5 0h6m-5 0h6m1 0h6m-5 0h6m12 0h6m-63 1h6m3 0h6m-1 0h6m1 0h6m2 0h6m-2 0h6m-5 0h6m3 0h6m-58 1h6m2 0h6m4 0h6m-1 0h6m8 0h6m1 0h6m2 0h6m-2 0h6m-3 0h6m-4 0h6m4 0h6m-77 1h6m7 0h6m1 0h6m-2 0h6m-5 0h6m1 0h6m-4 0h6m-1 0h6m1 0h6m-3 0h6m-66 1h6m19 0h6m-4 0h6m-5 0h6m-2 0h6m4 0h6m-3 0h6m-4 0h6m-2 0h6m-1 0h6m5 0h6m3 0h6m9 0h6m-70 1h6m29 0h6m-69 1h6m10 0h6m6 0h6m-1 0h6m9 0h6m-5 0h6m-5 0h6m1 0h6m-51 1h6m-5 0h6m-3 0h6m-4 0h6m-4 0h6m-4 0h6m-4 0h6m-5 0h6m-2 0h6m-5 0h6m-4 0h6m-4 0h6m0 0h6m-5 0h6m-4 0h6m-5 0h6m-5 0h6m-5 0h6m-5 0h6m-4 0h6m-4 0h6m-4 0h6m-5 0h6m-4 0h6m-4 0h6m-5 0h6m-5 0h6m-5 0h6m-4 0h6m-5 0h6m-5 0h6m-5 0h6m-5 0h6m-2 0h6m-2 0h6m-4 0h6m9 0h6" stroke-width="6"/><path d="M204 2h4m14 0h4m7 0h4m0 0h4m-78 3h4m1 2h4m-24 2h4m17 0h4m5 1h4m-16 2h4m15 0h4m25 3h4m-29 1h4m-17 1h4m2 0h4m-18 1h4m-11 2h4m34 1h4m-13 2h4m-34 1h4m19 2h4m3 0h4m0 0h4m-32 1h4m-2 0h4m-21 1h4m21 0h4m26 0h4m-44 3h4m9 0h4m-36 1h4m1 1h4m-82 1h4m67 0h4m13 0h4m13 0h4m6 0h4m16 0h4m-40 1h4m17 0h4m-54 2h4m25 0h4m-3 0h4m8 0h4m5 0h4m8 0h4m3 0h4m-79 1h4m0 0h4m6 0h4m36 0h4m-46 1h4m9 0h4m17 0h4m13 0h4m-10 1h4m-62 1h4m21 0h4m12 0h4m-67 1h4m52 0h4m9 0h4m8 0h4m-81 1h4m20 0h4m16 0h4m11 0h4m18 0h4m-58 1h4m-3 0h4m-2 0h4m3 0h4m0 0h4m4 0h4m8 0h4m2 0h4m-1 0h4m-58 1h4m2 0h4m4 0h4m15 0h4m7 0h4m62 0h4m-118 1h4m27 0h4m6 0h4m5 0h4m2 0h4m-34 1h4m-1 0h4m-52 1h4m29 0h4m-1 0h4m9 0h4m13 0h4m7 0h4m6 0h4m8 0h4m5 0h4m-93 1h4m8 0h4m-1 0h4m-1 0h4m12 0h4m2 0h4m-2 0h4m-11 1h4m11 0h4m0 0h4m0 0h4m13 0h4m-98 1h4m9 0h4m19 0h4m-1 0h4m18 0h4m10 0h4m-58 1h4m13 0h4m16 0h4m19 0h4m23 0h4m-103 1h4m32 0h4m-1 0h4m17 0h4m-1 0h4m-72 1h4m26 0h4m18 0h4m-3 0h4m8 0h4m-58 1h4m5 0h4m-1 0h4m6 0h4m9 0h4m0 0h4m-3 0h4m1 0h4m-3 0h4m-2 0h4m1 0h4m12 0h4m5 0h4m9 0h4m-86 1h4m8 0h4m0 0h4m5 0h4m6 0h4m4 0h4m5 0h4m2 0h4m0 0h4m13 0h4m-95 1h4m11 0h4m-3 0h4m-1 0h4m10 0h4m-2 0h4m-18 1h4m14 0h4m-3 0h4m1 0h4m-3 0h4m18 0h4m-87 1h4m23 0h4m-3 0h4m3 0h4m-1 0h4m32 0h4m3 0h4m-73 1h4m15 0h4m2 0h4m6 0h4m5 0h4m2 0h4m1 0h4m-3 0h4m10 0h4m-74 1h4m13 0h4m5 0h4m5 0h4m1 0h4m16 0h4m3 0h4m6 0h4m21 0h4m-107 1h4m24 0h4m4 0h4m1 0h4m12 0h4m-1 0h4m1 0h4m-3 0h4m-89 1h4m8 0h4m6 0h4m6 0h4m5 0h4m4 0h4m11 0h4m-3 0h4m-2 0h4m-2 0h4m45 0h4m-173 1h4m78 0h4m-3 0h4m2 0h4m5 0h4m4 0h4m0 0h4m10 0h4m2 0h4m4 0h4m-2 0h4m-60 1h4m3 0h4m-1 0h4m-3 0h4m-1 0h4m-1 0h4m5 0h4m23 0h4m4 0h4m-2 0h4m-73 1h4m18 0h4m8 0h4m2 0h4m9 0h4m8 0h4m5 0h4m5 0h4m-91 1h4m15 0h4m-3 0h4m10 0h4m-1 0h4m4 0h4m0 0h4m0 0h4m2 0h4m-86 1h4m0 0h4m36 0h4m8 0h4m-2 0h4m8 0h4m3 0h4m11 0h4m-85 1h4m14 0h4m3 0h4m4 0h4m4 0h4m19 0h4m13 0h4m-76 1h4m7 0h4m10 0h4m-3 0h4m20 0h4m16 0h4m-3 0h4m-2 0h4m-1 0h4m-65 1h4m7 0h4m7 0h4m9 0h4m2 0h4m23 0h4m-81 1h4m9 0h4m1 0h4m0 0h4m-2 0h4m0 0h4m0 0h4m0 0h4m7 0h4m-1 0h4m5 0h4m-82 1h4m13 0h4m14 0h4m-2 0h4m7 0h4m-1 0h4m-3 0h4m1 0h4m11 0h4m1 0h4m3 0h4m5 0h4m-91 1h4m24 0h4m-2 0h4m-1 0h4m-2 0h4m7 0h4m1 0h4m-2 0h4m2 0h4m0 0h4m1 0h4m5 0h4m-56 1h4m2 0h4m-3 0h4m20 0h4m5 0h4m-3 0h4m-3 0h4m6 0h4m11 0h4m-91 1h4m3 0h4m11 0h4m5 0h4m-2 0h4m7 0h4m17 0h4m14 0h4m-110 1h4m7 0h4m13 0h4m-2 0h4m3 0h4m-1 0h4m-2 0h4m12 0h4m0 0h4m-3 0h4m0 0h4m1 0h4m-94 1h4m37 0h4m11 0h4m1 0h4m5 0h4m2 0h4m6 0h4m4 0h4m-1 0h4m-68 1h4m27 0h4m0 0h4m-1 0h4m-1 0h4m18 0h4m1 0h4m-45 1h4m5 0h4m17 0h4m-3 0h4m-3 0h4m2 0h4m0 0h4m2 0h4m14 0h4m-82 1h4m-2 0h4m12 0h4m0 0h4m13 0h4m-3 0h4m2 0h4m-1 0h4m-3 0h4m2 0h4m16 0h4m-78 1h4m1 0h4m5 0h4m0 0h4m2 0h4m13 0h4m-1 0h4m-1 0h4m-27 1h4m-1 0h4m13 0h4m-2 0h4m11 0h4m-86 1h4m20 0h4m9 0h4m-1 0h4m-1 0h4m-3 0h4m1 0h4m12 0h4m-2 0h4m3 0h4m12 0h4m-79 1h4m-1 0h4m5 0h4m1 0h4m-2 0h4m-1 0h4m2 0h4m-3 0h4m-3 0h4m0 0h4m1 0h4m34 0h4m-78 1h4m7 0h4m1 0h4m-2 0h4m-1 0h4m-1 0h4m-1 0h4m11 0h4m-65 1h4m11 0h4m15 0h4m0 0h4m2 0h4m0 0h4m1 0h4m5 0h4m4 0h4m1 0h4m-60 1h4m-2 0h4m-3 0h4m2 0h4m-2 0h4m2 0h4m10 0h4m14 0h4m-57 1h4m13 0h4m1 0h4m5 0h4m1 0h4m3 0h4m3 0h4m-38 1h4m-3 0h4m5 0h4m5 0h4m-1 0h4m10 0h4m-3 0h4m29 0h4m-91 1h4m8 0h4m-2 0h4m4 0h4m3 0h4m-3 0h4m8 0h4m5 0h4m-79 1h4m20 0h4m4 0h4m-3 0h4m4 0h4m3 0h4m2 0h4m0 0h4m-2 0h4m2 0h4m15 0h4m21 0h4m-83 1h4m20 0h4m2 0h4m-1 0h4m1 0h4m-1 0h4m8 0h4m-3 0h4m-1 0h4m-99 1h4m32 0h4m1 0h4m4 0h4m27 0h4m-89 1h4m26 0h4m12 0h4m-3 0h4m7 0h4m-1 0h4m1 0h4m-1 0h4m-3 0h4m1 0h4m14 0h4m-2 0h4m0 0h4m8 0h4m5 0h4m-135 1h4m36 0h4m14 0h4m12 0h4m-3 0h4m-3 0h4m0 0h4m0 0h4m33 0h4m-86 1h4m-2 0h4m27 0h4m-7 1h4m2 0h4m26 0h4m6 0h4m-104 1h4m5 0h4m6 0h4m5 0h4m15 0h4m-2 0h4m13 0h4m-3 0h4m-3 0h4m15 0h4m14 0h4m-99 1h4m-3 0h4m12 0h4m1 0h4m0 0h4m18 0h4m6 0h4m0 0h4m0 0h4m-42 1h4m2 0h4m0 0h4m6 0h4m16 0h4m2 0h4m-86 1h4m13 0h4m-3 0h4m-1 0h4m1 0h4m12 0h4m3 0h4m2 0h4m0 0h4m-1 0h4m10 0h4m0 0h4m-50 1h4m8 0h4m22 0h4m-98 1h4m43 0h4m9 0h4m1 0h4m13 0h4m-3 0h4m-2 0h4m0 0h4m5 0h4m-3 0h4m5 0h4m-74 1h4m21 0h4m5 0h4m2 0h4m-2 0h4m1 0h4m-60 1h4m33 0h4m-2 0h4m5 0h4m6 0h4m4 0h4m-2 0h4m-84 1h4m21 0h4m5 0h4m11 0h4m4 0h4m0 0h4m6 0h4m-3 0h4m-2 0h4m-1 0h4m-3 0h4m-3 0h4m-1 0h4m-65 1h4m9 0h4m12 0h4m1 0h4m5 0h4m-1 0h4m3 0h4m-3 0h4m0 0h4m-3 0h4m-1 0h4m-2 0h4m-55 1h4m-3 0h4m-3 0h4m1 0h4m-2 0h4m4 0h4m-2 0h4m-3 0h4m14 0h4m12 0h4m-104 1h4m30 0h4m12 0h4m-1 0h4m9 0h4m11 0h4m6 0h4m0 0h4m6 0h4m-75 1h4m30 0h4m0 0h4m0 0h4m-2 0h4m-95 1h4m50 0h4m8 0h4m1 0h4m34 0h4m3 0h4m-90 1h4m7 0h4m21 0h4m1 0h4m1 0h4m3 0h4m10 0h4m7 0h4m-3 0h4m5 0h4m-65 1h4m12 0h4m-3 0h4m18 0h4m-3 0h4m6 0h4m4 0h4m45 0h4m-135 1h4m-3 0h4m10 0h4m2 0h4m3 0h4m3 0h4m6 0h4m25 0h4m-46 1h4m6 0h4m6 0h4m1 0h4m5 0h4m1 0h4m4 0h4m1 0h4m-54 1h4m1 0h4m-3 0h4m-2 0h4m-3 0h4m6 0h4m0 0h4m7 0h4m8 0h4m13 0h4m-73 1h4m1 0h4m0 0h4m1 0h4m-2 0h4m7 0h4m6 0h4m19 0h4m23 0h4m-75 1h4m8 0h4m-2 0h4m-31 1h4m-2 0h4m-3 0h4m0 0h4m4 0h4m-3 0h4m0 0h4m-3 0h4m-1 0h4m-1 0h4m0 0h4m22 0h4m-80 1h4m9 0h4m-3 0h4m2 0h4m3 0h4m-2 0h4m-1 0h4m-1 0h4m7 0h4m1 0h4m1 0h4m-67 1h4m7 0h4m-3 0h4m-1 0h4m8 0h4m22 0h4m18 0h4m-148 1h4m78 0h4m-2 0h4m1 0h4m3 0h4m1 0h4m7 0h4m-3 0h4m1 0h4m1 0h4m4 0h4m21 0h4m-139 1h4m36 0h4m28 0h4m4 0h4m5 0h4m-1 0h4m32 0h4m-110 1h4m25 0h4m6 0h4m7 0h4m1 0h4m6 0h4m-1 0h4m-2 0h4m-2 0h4m-3 0h4m16 0h4m1 0h4m-123 1h4m20 0h4m14 0h4m7 0h4m2 0h4m5 0h4m7 0h4m1 0h4m2 0h4m-3 0h4m-2 0h4m-2 0h4m38 0h4m-81 1h4m2 0h4m3 0h4m-1 0h4m0 0h4m11 0h4m1 0h4m27 0h4m-76 1h4m0 0h4m1 0h4m-3 0h4m-1 0h4m-2 0h4m5 0h4m-2 0h4m-3 0h4m1 0h4m-3 0h4m82 0h4m-112 1h4m6 0h4m0 0h4m10 0h4m-73 1h4m1 0h4m14 0h4m-3 0h4m14 0h4m2 0h4m1 0h4m2 0h4m22 0h4m-121 1h4m12 0h4m11 0h4m12 0h4m5 0h4m3 0h4m-2 0h4m7 0h4m1 0h4m2 0h4m13 0h4m10 0h4m-80 1h4m2 0h4m7 0h4m-1 0h4m-3 0h4m-2 0h4m-3 0h4m5 0h4m11 0h4m-83 1h4m10 0h4m-1 0h4m25 0h4m1 0h4m2 0h4m-3 0h4m3 0h4m10 0h4m16 0h4m-101 1h4m16 0h4m30 0h4m4 0h4m-2 0h4m19 0h4m6 0h4m2 0h4m-100 1h4m11 0h4m7 0h4m14 0h4m-1 0h4m-1 0h4m23 0h4m12 0h4m-3 0h4m-2 0h4m-95 1h4m14 0h4m-3 0h4m-1 0h4m3 0h4m2 0h4m3 0h4m2 0h4m5 0h4m13 0h4m42 0h4m-139 1h4m0 0h4m8 0h4m31 0h4m-2 0h4m-3 0h4m3 0h4m8 0h4m-1 0h4m-2 0h4m12 0h4m25 0h4m-139 1h4m74 0h4m0 0h4m5 0h4m4 0h4m92 0h4m-176 1h4m13 0h4m21 0h4m10 0h4m-1 0h4m-2 0h4m2 0h4m-2 0h4m1 0h4m17 0h4m1 0h4m-110 1h4m8 0h4m32 0h4m-1 0h4m-3 0h4m8 0h4m22 0h4m-97 1h4m2 0h4m14 0h4m-2 0h4m1 0h4m20 0h4m-3 0h4m-3 0h4m3 0h4m-2 0h4m14 0h4m8 0h4m-95 1h4m7 0h4m15 0h4m15 0h4m-3 0h4m-2 0h4m-1 0h4m2 0h4m14 0h4m2 0h4m19 0h4m-73 1h4m2 0h4m6 0h4m-3 0h4m17 0h4m58 0h4m-145 1h4m-2 0h4m-2 0h4m0 0h4m1 0h4m-1 0h4m8 0h4m4 0h4m22 0h4m1 0h4m8 0h4m7 0h4m0 0h4m32 0h4m33 0h4m-185 1h4m15 0h4m24 0h4m15 0h4m6 0h4m27 0h4m-109 1h4m-1 0h4m-2 0h4m5 0h4m2 0h4m8 0h4m3 0h4m7 0h4m12 0h4m-2 0h4m19 0h4m-2 0h4m15 0h4m-119 1h4m9 0h4m28 0h4m11 0h4m3 0h4m1 0h4m1 0h4m9 0h4m2 0h4m5 0h4m35 0h4m1 0h4m-149 1h4m-1 0h4m2 0h4m30 0h4m-3 0h4m4 0h4m5 0h4m2 0h4m-1 0h4m37 0h4m20 0h4m-152 1h4m3 0h4m5 0h4m8 0h4m25 0h4m1 0h4m10 0h4m43 0h4m-2 0h4m-3 0h4m-113 1h4m-3 0h4m18 0h4m-3 0h4m-2 0h4m11 0h4m16 0h4m26 0h4m7 0h4m-122 1h4m15 0h4m15 0h4m40 0h4m49 0h4m14 0h4m-153 1h4m0 0h4m0 0h4m-1 0h4m1 0h4m-1 0h4m2 0h4m10 0h4m40 0h4m10 0h4m-3 0h4m8 0h4m12 0h4m2 0h4m-126 1h4m6 0h4m20 0h4m30 0h4m13 0h4m5 0h4m42 0h4m-136 1h4m2 0h4m3 0h4m1 0h4m12 0h4m10 0h4m13 0h4m10 0h4m25 0h4m20 0h4m-154 1h4m8 0h4m-1 0h4m1 0h4m14 0h4m26 0h4m-70 1h4m-3 0h4m25 0h4m-3 0h4m9 0h4m6 0h4m17 0h4m-3 0h4m11 0h4m32 0h4m-1 0h4m-138 1h4m2 0h4m8 0h4m-1 0h4m7 0h4m5 0h4m31 0h4m25 0h4m8 0h4m-100 1h4m2 0h4m4 0h4m-1 0h4m12 0h4m8 0h4m22 0h4m5 0h4m-2 0h4m43 0h4m-150 1h4m2 0h4m6 0h4m12 0h4m5 0h4m15 0h4m-2 0h4m17 0h4m-2 0h4m42 0h4m-130 1h4m0 0h4m45 0h4m-1 0h4m10 0h4m-2 0h4m-3 0h4m24 0h4m-1 0h4m8 0h4m1 0h4m-113 1h4m8 0h4m8 0h4m11 0h4m25 0h4m-1 0h4m8 0h4m-106 1h4m-1 0h4m6 0h4m0 0h4m0 0h4m1 0h4m9 0h4m2 0h4m4 0h4m8 0h4m37 0h4m-3 0h4m-114 1h4m19 0h4m-2 0h4m7 0h4m-1 0h4m2 0h4m2 0h4m29 0h4m11 0h4m-82 1h4m5 0h4m-1 0h4m3 0h4m23 0h4m11 0h4m-3 0h4m-1 0h4m8 0h4m42 0h4m-141 1h4m0 0h4m-3 0h4m0 0h4m3 0h4m11 0h4m0 0h4m30 0h4m15 0h4m9 0h4m-97 1h4m0 0h4m8 0h4m23 0h4m5 0h4m-1 0h4m65 0h4m-147 1h4m2 0h4m22 0h4m2 0h4m8 0h4m12 0h4m1 0h4m61 0h4m33 0h4m-175 1h4m1 0h4m-3 0h4m11 0h4m1 0h4m3 0h4m-2 0h4m13 0h4m-2 0h4m-1 0h4m3 0h4m-1 0h4m8 0h4m42 0h4m7 0h4m-123 1h4m7 0h4m5 0h4m-2 0h4m14 0h4m5 0h4m1 0h4m61 0h4m-126 1h4m8 0h4m16 0h4m15 0h4m7 0h4m2 0h4m2 0h4m11 0h4m10 0h4m10 0h4m-112 1h4m6 0h4m3 0h4m-2 0h4m6 0h4m2 0h4m-2 0h4m0 0h4m11 0h4m40 0h4m8 0h4m-140 1h4m2 0h4m38 0h4m29 0h4m13 0h4m3 0h4m15 0h4m-108 1h4m8 0h4m1 0h4m28 0h4m6 0h4m-3 0h4m-3 0h4m-1 0h4m8 0h4m-2 0h4m31 0h4m0 0h4m-136 1h4m20 0h4m76 0h4m-94 1h4m3 0h4m10 0h4m-3 0h4m18 0h4m5 0h4m3 0h4m-77 1h4m8 0h4m1 0h4m85 0h4m-59 1h4m38 0h4m0 0h4m36 0h4m3 0h4m-165 1h4m22 0h4m-1 0h4m-3 0h4m15 0h4m-2 0h4m4 0h4m3 0h4m8 0h4m0 0h4m49 0h4m6 0h4m5 0h4m-148 1h4m8 0h4m17 0h4m0 0h4m8 0h4m-2 0h4m22 0h4m11 0h4m14 0h4m-87 1h4m-1 0h4m48 0h4m30 0h4m-83 1h4m1 0h4m-3 0h4m-3 0h4m-2 0h4m8 0h4m8 0h4m-70 1h4m6 0h4m17 0h4m30 0h4m-67 1h4m105 0h4m13 0h4m-147 1h4m20 0h4m24 0h4m110 0h4m5 0h4m-147 1h4m7 0h4m-3 0h4m89 0h4m-126 1h4m2 0h4m5 0h4m5 0h4m12 0h4m3 0h4m0 0h4m33 0h4m46 0h4m-147 1h4m31 0h4m7 0h4m54 0h4m13 0h4m-132 1h4m35 0h4m0 0h4m14 0h4m85 0h4m-115 1h4m28 0h4m27 0h4m22 0h4m-58 1h4m-59 1h4m14 0h4m11 0h4m10 0h4m21 0h4m-62 1h4m8 0h4m27 0h4m31 0h4m-82 1h4m3 0h4m52 0h4m10 0h4m52 0h4m-142 1h4m4 0h4m-2 0h4m18 0h4m38 0h4m13 0h4m-82 1h4m14 0h4m7 0h4m-16 1h4m1 0h4m-57 1h4m12 0h4m76 0h4m-52 1h4m21 0h4m1 0h4m-42 1h4m-28 1h4m19 0h4m63 1h4m29 0h4m16 0h4m-142 1h4m17 0h4m14 0h4m-3 0h4m-8 1h4m44 0h4m14 0h4m-85 1h4m20 0h4m-73 2h4m136 1h4m-120 4h4m79 0h4m-112 1h4m81 2h4m-90 2h4m20 0h4m1 0h4m-1 0h4m0 0h4m-1 0h4m2 0h4m1 0h4m7 0h4m43 0h4m0 0h4m12 0h4m-2 0h4m1 0h4" stroke-width="4"/></g>
<g font-size="7" fill="#000" stroke="#000" stroke-width=".22">
<text x="55.3" y="8.1">9.3%</text>
<text x="3.3" y="28.7">58.2</text>
<text x="4.1" y="36.7">%</text>
<text x="51.2" y="42.5">22.7%</text>
</g>
</g>
<g transform="translate(129.43 200.6)">
<path d="M0 0H73.4V55.7" fill="none" stroke="#333" stroke-width="1"/>
<path d="M23.2 0V55.7M0 34.5H73.4" fill="none" stroke="#111" stroke-width="1.25"/>
<path d="M0.15 -0.5V56.5" stroke="#000" stroke-width="1.8" fill="none"/>
<path d="M-1.3 55.7H73.9" stroke="#000" stroke-width="2.1" fill="none"/>
<path d="M0.2 55.7v2.9M0 55.4h-2.7M5.7 55.7v2.1M0 51.2h-1.8M8.9 55.7v2.1M0 48.8h-1.8M11.2 55.7v2.1M0 47.1h-1.8M12.9 55.7v2.1M0 45.7h-1.8M14.4 55.7v2.1M0 44.6h-1.8M15.6 55.7v2.1M0 43.7h-1.8M16.6 55.7v2.1M0 42.9h-1.8M17.6 55.7v2.1M0 42.2h-1.8M18.4 55.7v2.9M0 41.6h-2.7M23.9 55.7v2.1M0 37.4h-1.8M27.1 55.7v2.1M0 34.9h-1.8M29.4 55.7v2.1M0 33.2h-1.8M31.1 55.7v2.1M0 31.9h-1.8M32.6 55.7v2.1M0 30.8h-1.8M33.8 55.7v2.1M0 29.8h-1.8M34.8 55.7v2.1M0 29.0h-1.8M35.8 55.7v2.1M0 28.3h-1.8M36.6 55.7v2.9M0 27.7h-2.7M42.1 55.7v2.1M0 23.5h-1.8M45.3 55.7v2.1M0 21.1h-1.8M47.6 55.7v2.1M0 19.4h-1.8M49.3 55.7v2.1M0 18.0h-1.8M50.8 55.7v2.1M0 16.9h-1.8M52.0 55.7v2.1M0 16.0h-1.8M53.0 55.7v2.1M0 15.2h-1.8M54.0 55.7v2.1M0 14.5h-1.8M54.8 55.7v2.9M0 13.9h-2.7M60.3 55.7v2.1M0 9.7h-1.8M63.5 55.7v2.1M0 7.2h-1.8M65.8 55.7v2.1M0 5.5h-1.8M67.5 55.7v2.1M0 4.2h-1.8M69.0 55.7v2.1M0 3.1h-1.8M70.2 55.7v2.1M0 2.1h-1.8M71.2 55.7v2.1M0 1.3h-1.8M72.2 55.7v2.1M0 0.6h-1.8M73.0 55.7v2.9M0 0.0h-2.7" stroke="#000" stroke-width="1" fill="none"/>
<g font-size="8.6" font-weight="bold" fill="#000" stroke="#000" stroke-width=".25">
<text transform="translate(-3.4 67.0) scale(.7 1)">10<tspan dx=".9" dy="-4.3" font-size="8">0</tspan></text>
<text transform="translate(-4.4 59.8) rotate(-90) scale(.7 1)">10<tspan dx=".9" dy="-4.3" font-size="8">0</tspan></text>
<text transform="translate(14.8 67.0) scale(.7 1)">10<tspan dx=".9" dy="-4.3" font-size="8">1</tspan></text>
<text transform="translate(-4.4 46.0) rotate(-90) scale(.7 1)">10<tspan dx=".9" dy="-4.3" font-size="8">1</tspan></text>
<text transform="translate(33.0 67.0) scale(.7 1)">10<tspan dx=".9" dy="-4.3" font-size="8">2</tspan></text>
<text transform="translate(-4.4 32.1) rotate(-90) scale(.7 1)">10<tspan dx=".9" dy="-4.3" font-size="8">2</tspan></text>
<text transform="translate(51.2 67.0) scale(.7 1)">10<tspan dx=".9" dy="-4.3" font-size="8">3</tspan></text>
<text transform="translate(-4.4 18.2) rotate(-90) scale(.7 1)">10<tspan dx=".9" dy="-4.3" font-size="8">3</tspan></text>
<text transform="translate(69.4 67.0) scale(.7 1)">10<tspan dx=".9" dy="-4.3" font-size="8">4</tspan></text>
<text transform="translate(-4.4 4.4) rotate(-90) scale(.7 1)">10<tspan dx=".9" dy="-4.3" font-size="8">4</tspan></text>
</g>
<text x="36.2" y="72.9" text-anchor="middle" font-size="6.2" font-weight="bold" fill="#000">AnnexinY-FITC</text>
<text transform="translate(-14.5 28.7) rotate(-90)" text-anchor="middle" font-size="6.6" font-weight="bold" fill="#000" stroke="#000" stroke-width=".2">PI</text>
<g transform="scale(.25)" stroke="#000" fill="none"><path d="M61 171h6m13 0h6m1 0h6m-34 1h6m10 1h6m-17 6h6m0 3h6m13 0h6m-1 0h6m-12 1h6m-93 1h6m58 0h6m2 0h6m-5 0h6m-79 1h6m37 0h6m16 0h6m14 0h6m4 0h6m-35 1h6m-2 0h6m-5 0h6m-1 0h6m6 0h6m-42 1h6m9 0h6m1 0h6m-60 1h6m13 0h6m1 0h6m5 0h6m-2 0h6m-2 0h6m-5 0h6m0 0h6m-3 0h6m8 0h6m-60 1h6m-3 0h6m0 0h6m-2 0h6m-2 0h6m4 0h6m-1 0h6m1 0h6m-4 0h6m-3 0h6m-1 0h6m-75 1h6m11 0h6m15 0h6m8 0h6m-4 0h6m-4 0h6m-2 0h6m20 0h6m-81 1h6m-1 0h6m12 0h6m1 0h6m-4 0h6m-4 0h6m-5 0h6m-5 0h6m6 0h6m-2 0h6m-4 0h6m-5 0h6m4 0h6m-1 0h6m-81 1h6m-4 0h6m-5 0h6m-1 0h6m-2 0h6m-4 0h6m-3 0h6m6 0h6m-5 0h6m-2 0h6m5 0h6m-4 0h6m-5 0h6m7 0h6m-5 0h6m-3 0h6m0 0h6m-3 0h6m-76 1h6m1 0h6m3 0h6m-5 0h6m-4 0h6m15 0h6m5 0h6m-1 0h6m-1 0h6m2 0h6m4 0h6m-86 1h6m2 0h6m0 0h6m-2 0h6m0 0h6m-5 0h6m-3 0h6m-5 0h6m0 0h6m-1 0h6m-1 0h6m3 0h6m2 0h6m-4 0h6m-5 0h6m9 0h6m-110 1h6m15 0h6m-1 0h6m2 0h6m-4 0h6m5 0h6m-1 0h6m-5 0h6m-5 0h6m-5 0h6m-5 0h6m-5 0h6m-5 0h6m-3 0h6m-4 0h6m-5 0h6m-4 0h6m-2 0h6m-1 0h6m-5 0h6m-4 0h6m-5 0h6m-4 0h6m-1 0h6m7 0h6m8 0h6m-96 1h6m9 0h6m0 0h6m-4 0h6m-2 0h6m-3 0h6m-5 0h6m0 0h6m-5 0h6m-5 0h6m-2 0h6m-2 0h6m-5 0h6m3 0h6m-4 0h6m-5 0h6m-1 0h6m-3 0h6m-2 0h6m2 0h6m1 0h6m1 0h6m-95 1h6m-4 0h6m-5 0h6m-4 0h6m-1 0h6m-5 0h6m-3 0h6m-5 0h6m-2 0h6m-1 0h6m-2 0h6m-5 0h6m-1 0h6m-2 0h6m-4 0h6m-5 0h6m-4 0h6m-4 0h6m-3 0h6m-3 0h6m-3 0h6m-5 0h6m-2 0h6m-4 0h6m-4 0h6m-5 0h6m-4 0h6m-4 0h6m-2 0h6m10 0h6m-122 1h6m4 0h6m-5 0h6m11 0h6m-3 0h6m4 0h6m-3 0h6m-4 0h6m-2 0h6m-4 0h6m-1 0h6m-5 0h6m-1 0h6m-5 0h6m-5 0h6m0 0h6m-5 0h6m-5 0h6m-3 0h6m-5 0h6m0 0h6m-4 0h6m2 0h6m0 0h6m0 0h6m2 0h6m0 0h6m-4 0h6m-125 1h6m6 0h6m2 0h6m-1 0h6m-1 0h6m-4 0h6m-5 0h6m-2 0h6m-4 0h6m-5 0h6m2 0h6m-3 0h6m-5 0h6m-4 0h6m-4 0h6m-5 0h6m-5 0h6m-4 0h6m-5 0h6m-4 0h6m-3 0h6m-5 0h6m-4 0h6m-1 0h6m-4 0h6m-4 0h6m-5 0h6m-3 0h6m-2 0h6m-2 0h6m-5 0h6m-5 0h6m-5 0h6m-1 0h6m-3 0h6m-1 0h6m3 0h6m-2 0h6m-1 0h6m12 0h6m-136 1h6m2 0h6m0 0h6m0 0h6m-5 0h6m-5 0h6m-5 0h6m2 0h6m-5 0h6m-4 0h6m-4 0h6m0 0h6m-2 0h6m-5 0h6m-5 0h6m-2 0h6m-5 0h6m-5 0h6m-3 0h6m0 0h6m-4 0h6m-3 0h6m-4 0h6m-2 0h6m-4 0h6m-1 0h6m1 0h6m-4 0h6m-95 1h6m-3 0h6m5 0h6m-4 0h6m-5 0h6m-4 0h6m-4 0h6m-2 0h6m-5 0h6m-3 0h6m1 0h6m-4 0h6m-4 0h6m-4 0h6m-5 0h6m-1 0h6m-3 0h6m-5 0h6m-5 0h6m-4 0h6m-4 0h6m-5 0h6m-4 0h6m-5 0h6m-5 0h6m-4 0h6m-5 0h6m-1 0h6m4 0h6m-2 0h6m-4 0h6m-2 0h6m-5 0h6m-4 0h6m-1 0h6m-3 0h6m-105 1h6m-2 0h6m-2 0h6m-2 0h6m-4 0h6m-4 0h6m-2 0h6m1 0h6m-4 0h6m-5 0h6m-3 0h6m-4 0h6m-5 0h6m-5 0h6m-4 0h6m-5 0h6m-5 0h6m-5 0h6m-5 0h6m-1 0h6m-4 0h6m-5 0h6m-5 0h6m-3 0h6m-3 0h6m0 0h6m-5 0h6m-4 0h6m-3 0h6m14 0h6m-2 0h6m2 0h6m-5 0h6m1 0h6m-133 1h6m-3 0h6m18 0h6m-2 0h6m-4 0h6m-1 0h6m-4 0h6m-4 0h6m-2 0h6m-3 0h6m-2 0h6m-5 0h6m-5 0h6m-2 0h6m-1 0h6m-4 0h6m-5 0h6m-3 0h6m-5 0h6m-5 0h6m-5 0h6m-5 0h6m-1 0h6m-4 0h6m-5 0h6m-5 0h6m-4 0h6m-4 0h6m-4 0h6m-4 0h6m-5 0h6m-5 0h6m1 0h6m-5 0h6m-5 0h6m9 0h6m-123 1h6m5 0h6m9 0h6m1 0h6m-4 0h6m-5 0h6m-4 0h6m-4 0h6m-3 0h6m-4 0h6m1 0h6m-5 0h6m-4 0h6m-5 0h6m-5 0h6m-2 0h6m-5 0h6m-5 0h6m-3 0h6m-4 0h6m-4 0h6m-5 0h6m-5 0h6m-5 0h6m-4 0h6m-5 0h6m-5 0h6m-3 0h6m-2 0h6m3 0h6m-2 0h6m-5 0h6m0 0h6m-1 0h6m2 0h6m-123 1h6m-3 0h6m-5 0h6m-2 0h6m-3 0h6m-4 0h6m-4 0h6m5 0h6m3 0h6m-5 0h6m-5 0h6m-2 0h6m-5 0h6m-5 0h6m-3 0h6m-5 0h6m-5 0h6m-4 0h6m-3 0h6m-5 0h6m-5 0h6m-4 0h6m-4 0h6m-5 0h6m-3 0h6m-5 0h6m-5 0h6m-2 0h6m-5 0h6m-5 0h6m-5 0h6m-4 0h6m-5 0h6m-5 0h6m0 0h6m-5 0h6m-3 0h6m-1 0h6m-4 0h6m-5 0h6m-1 0h6m-1 0h6m-3 0h6m-81 1h6m-5 0h6m-5 0h6m-5 0h6m-4 0h6m-5 0h6m-5 0h6m-5 0h6m-3 0h6m-4 0h6m-5 0h6m-3 0h6m-5 0h6m-1 0h6m-5 0h6m-5 0h6m-5 0h6m-5 0h6m0 0h6m-5 0h6m-3 0h6m-3 0h6m-5 0h6m-5 0h6m-3 0h6m-4 0h6m-3 0h6m-2 0h6m-4 0h6m7 0h6m-5 0h6m-3 0h6m-3 0h6m-114 1h6m-4 0h6m3 0h6m5 0h6m-5 0h6m-2 0h6m1 0h6m0 0h6m1 0h6m-5 0h6m-4 0h6m-4 0h6m-4 0h6m-5 0h6m-4 0h6m-5 0h6m-1 0h6m-5 0h6m-3 0h6m-5 0h6m-4 0h6m-5 0h6m-5 0h6m1 0h6m-5 0h6m-4 0h6m-5 0h6m-4 0h6m-5 0h6m9 0h6m6 0h6m-111 1h6m1 0h6m3 0h6m2 0h6m-4 0h6m-3 0h6m-4 0h6m-4 0h6m-5 0h6m-5 0h6m-2 0h6m-5 0h6m-5 0h6m-5 0h6m-5 0h6m-5 0h6m-2 0h6m-5 0h6m-1 0h6m-5 0h6m-4 0h6m-5 0h6m-3 0h6m-5 0h6m-5 0h6m-5 0h6m-3 0h6m-2 0h6m-5 0h6m-2 0h6m-5 0h6m-5 0h6m-5 0h6m-3 0h6m3 0h6m-3 0h6m-108 1h6m8 0h6m14 0h6m-4 0h6m0 0h6m-4 0h6m-1 0h6m-5 0h6m-5 0h6m-4 0h6m-4 0h6m-3 0h6m-5 0h6m-2 0h6m-5 0h6m-3 0h6m-5 0h6m-4 0h6m-2 0h6m-4 0h6m-5 0h6m-5 0h6m-5 0h6m-4 0h6m5 0h6m-5 0h6m-2 0h6m-3 0h6m-2 0h6m-3 0h6m-3 0h6m0 0h6m-115 1h6m1 0h6m-5 0h6m3 0h6m-5 0h6m2 0h6m-5 0h6m-4 0h6m-1 0h6m-4 0h6m-3 0h6m-2 0h6m-4 0h6m-4 0h6m-5 0h6m-3 0h6m-4 0h6m-5 0h6m-3 0h6m-5 0h6m-5 0h6m-4 0h6m-5 0h6m-5 0h6m-5 0h6m-4 0h6m-5 0h6m-4 0h6m-5 0h6m-5 0h6m-3 0h6m-3 0h6m-2 0h6m-1 0h6m-2 0h6m-2 0h6m2 0h6m3 0h6m-5 0h6m-119 1h6m-2 0h6m9 0h6m4 0h6m-5 0h6m1 0h6m-4 0h6m-4 0h6m-3 0h6m-5 0h6m-5 0h6m-4 0h6m-4 0h6m-5 0h6m-3 0h6m-4 0h6m-5 0h6m-4 0h6m-2 0h6m-5 0h6m-4 0h6m-5 0h6m-5 0h6m-5 0h6m-5 0h6m-2 0h6m-3 0h6m-5 0h6m-5 0h6m-5 0h6m-5 0h6m-4 0h6m-5 0h6m-3 0h6m-5 0h6m1 0h6m-4 0h6m6 0h6m-111 1h6m-3 0h6m-3 0h6m-3 0h6m6 0h6m5 0h6m-3 0h6m-1 0h6m-3 0h6m-5 0h6m-4 0h6m-5 0h6m-4 0h6m-4 0h6m-3 0h6m-4 0h6m-5 0h6m-5 0h6m-4 0h6m-5 0h6m-3 0h6m-5 0h6m-2 0h6m-2 0h6m-2 0h6m-2 0h6m10 0h6m8 0h6m11 0h6m-128 1h6m3 0h6m4 0h6m-5 0h6m-2 0h6m-5 0h6m-4 0h6m-2 0h6m-5 0h6m-5 0h6m-1 0h6m-4 0h6m-4 0h6m-4 0h6m-2 0h6m-5 0h6m-4 0h6m-5 0h6m-3 0h6m-2 0h6m-4 0h6m-4 0h6m-4 0h6m-5 0h6m-5 0h6m-5 0h6m-4 0h6m-4 0h6m-2 0h6m-2 0h6m-2 0h6m-4 0h6m2 0h6m-94 1h6m-5 0h6m-1 0h6m-5 0h6m-1 0h6m-4 0h6m-1 0h6m2 0h6m2 0h6m-4 0h6m-5 0h6m2 0h6m-5 0h6m-5 0h6m-5 0h6m-5 0h6m-1 0h6m-3 0h6m0 0h6m-4 0h6m-5 0h6m-4 0h6m2 0h6m-5 0h6m-5 0h6m3 0h6m-88 1h6m-2 0h6m-4 0h6m-4 0h6m-1 0h6m-3 0h6m-5 0h6m-3 0h6m-5 0h6m-3 0h6m-5 0h6m-4 0h6m-5 0h6m-5 0h6m-5 0h6m0 0h6m-4 0h6m-5 0h6m-4 0h6m-5 0h6m-5 0h6m-2 0h6m-4 0h6m-5 0h6m-5 0h6m-2 0h6m-1 0h6m-4 0h6m-4 0h6m-5 0h6m-2 0h6m-3 0h6m-3 0h6m-5 0h6m0 0h6m-2 0h6m-114 1h6m-5 0h6m-5 0h6m8 0h6m-3 0h6m-4 0h6m-2 0h6m-5 0h6m-2 0h6m-1 0h6m6 0h6m-5 0h6m-2 0h6m-4 0h6m-3 0h6m-5 0h6m-4 0h6m-3 0h6m-4 0h6m-5 0h6m-3 0h6m-5 0h6m-2 0h6m-1 0h6m-4 0h6m-3 0h6m-4 0h6m-5 0h6m2 0h6m2 0h6m18 0h6m-125 1h6m13 0h6m0 0h6m-4 0h6m-2 0h6m1 0h6m-2 0h6m-5 0h6m-2 0h6m-4 0h6m-2 0h6m-4 0h6m-4 0h6m-5 0h6m-4 0h6m-4 0h6m-5 0h6m-4 0h6m0 0h6m-4 0h6m-3 0h6m0 0h6m6 0h6m20 0h6m-140 1h6m-3 0h6m-4 0h6m-5 0h6m-5 0h6m-3 0h6m-3 0h6m-5 0h6m-4 0h6m-4 0h6m-5 0h6m-4 0h6m-4 0h6m-3 0h6m-5 0h6m-5 0h6m-5 0h6m-5 0h6m-5 0h6m-4 0h6m-5 0h6m-5 0h6m-5 0h6m-5 0h6m-5 0h6m-5 0h6m-5 0h6m-5 0h6m-5 0h6m-5 0h6m-5 0h6m-5 0h6m-5 0h6m-5 0h6m-5 0h6m-4 0h6m-5 0h6m-5 0h6m-5 0h6m-5 0h6m-5 0h6m-5 0h6m-5 0h6m-5 0h6m-5 0h6m-5 0h6m-5 0h6m-5 0h6m-5 0h6m-5 0h6m-5 0h6m-5 0h6m-5 0h6m-5 0h6m-5 0h6m-5 0h6m-5 0h6m-5 0h6m-5 0h6m-5 0h6m-5 0h6m-5 0h6m-4 0h6m-5 0h6m-5 0h6m-5 0h6m-5 0h6m-5 0h6m-5 0h6m-4 0h6m-5 0h6m-5 0h6m-5 0h6m-5 0h6m-5 0h6m-5 0h6m-5 0h6m-3 0h6m-5 0h6m-4 0h6m-5 0h6m-5 0h6m-5 0h6m-5 0h6m-2 0h6m-4 0h6m0 0h6" stroke-width="6"/><path d="M176 35h4m-46 15h4m22 0h4m-20 1h4m34 1h4m-65 1h4m1 0h4m3 0h4m10 0h4m-99 1h4m65 1h4m10 0h4m18 2h4m22 0h4m-55 1h4m38 0h4m-3 0h4m-54 1h4m12 0h4m1 0h4m6 0h4m5 0h4m2 0h4m-1 0h4m-62 1h4m9 0h4m26 0h4m-29 1h4m4 0h4m-1 0h4m7 0h4m3 0h4m-27 1h4m-2 0h4m-3 0h4m6 0h4m8 0h4m-2 0h4m30 0h4m-67 1h4m4 0h4m7 0h4m1 0h4m34 0h4m-111 1h4m29 0h4m14 0h4m-4 1h4m10 0h4m14 0h4m-90 1h4m5 0h4m5 0h4m3 0h4m6 0h4m14 0h4m1 0h4m-32 1h4m4 0h4m4 0h4m1 0h4m0 0h4m6 0h4m1 0h4m-62 1h4m19 0h4m0 0h4m5 0h4m29 0h4m-44 1h4m2 0h4m7 0h4m1 0h4m3 0h4m-3 0h4m-3 0h4m-2 0h4m0 0h4m-19 1h4m1 0h4m13 0h4m-62 1h4m-1 0h4m0 0h4m-1 0h4m-2 0h4m12 0h4m12 0h4m2 0h4m7 0h4m0 0h4m4 0h4m-147 1h4m87 0h4m4 0h4m5 0h4m0 0h4m-49 1h4m11 0h4m4 0h4m15 0h4m2 0h4m-72 1h4m17 0h4m0 0h4m10 0h4m9 0h4m9 0h4m4 0h4m7 0h4m2 0h4m-75 1h4m-3 0h4m18 0h4m20 0h4m30 0h4m-40 1h4m-3 0h4m-1 0h4m-2 0h4m20 0h4m-67 1h4m-3 0h4m5 0h4m7 0h4m1 0h4m2 0h4m16 0h4m8 0h4m-80 1h4m7 0h4m0 0h4m-1 0h4m1 0h4m2 0h4m2 0h4m9 0h4m-72 1h4m67 0h4m-86 1h4m61 0h4m12 0h4m-41 1h4m3 0h4m19 0h4m-3 0h4m-3 0h4m20 0h4m10 0h4m-72 1h4m1 0h4m-2 0h4m0 0h4m-2 0h4m12 0h4m-2 0h4m-1 0h4m-93 1h4m35 0h4m22 0h4m-2 0h4m-3 0h4m14 0h4m6 0h4m2 0h4m-70 1h4m16 0h4m17 0h4m1 0h4m5 0h4m-86 1h4m35 0h4m-1 0h4m4 0h4m59 0h4m-82 1h4m10 0h4m12 0h4m15 0h4m-110 1h4m72 0h4m39 0h4m0 0h4m8 0h4m-120 1h4m28 0h4m13 0h4m9 0h4m7 0h4m6 0h4m5 0h4m1 0h4m1 0h4m-89 1h4m23 1h4m11 0h4m17 0h4m2 0h4m0 0h4m1 0h4m2 0h4m-26 1h4m-62 1h4m52 0h4m-84 1h4m41 0h4m23 0h4m-1 0h4m0 0h4m-11 1h4m-47 1h4m20 0h4m-2 0h4m18 0h4m-26 1h4m8 0h4m1 0h4m5 0h4m-24 1h4m5 0h4m23 0h4m6 0h4m-66 1h4m6 0h4m-46 1h4m22 0h4m16 0h4m13 0h4m-1 0h4m-21 1h4m-90 1h4m19 0h4m-1 0h4m32 0h4m26 0h4m0 0h4m12 0h4m-26 1h4m2 0h4m-15 2h4m27 0h4m-56 1h4m31 0h4m14 0h4m-93 1h4m43 0h4m7 1h4m2 0h4m-17 1h4m37 0h4m-81 1h4m68 0h4m-63 1h4m21 0h4m2 0h4m-1 0h4m0 0h4m-15 1h4m15 0h4m-1 1h4m-3 0h4m-26 1h4m-1 0h4m-59 1h4m40 0h4m5 0h4m3 0h4m0 1h4m4 0h4m-5 1h4m9 0h4m-29 1h4m-2 0h4m-6 1h4m-57 1h4m32 0h4m8 0h4m4 0h4m1 0h4m-1 0h4m18 0h4m-53 1h4m6 0h4m10 0h4m-21 1h4m4 0h4m17 0h4m-40 1h4m10 0h4m-1 0h4m0 0h4m-27 1h4m25 0h4m-88 1h4m56 0h4m-3 0h4m14 0h4m9 0h4m-2 0h4m1 0h4m-66 1h4m6 0h4m8 0h4m-2 0h4m-1 0h4m-3 0h4m2 0h4m11 1h4m5 0h4m-49 1h4m-2 0h4m11 0h4m0 0h4m5 0h4m7 0h4m-71 1h4m39 0h4m-1 0h4m13 0h4m-1 0h4m4 0h4m-51 1h4m8 0h4m8 0h4m-2 0h4m-3 0h4m-2 0h4m6 0h4m-59 1h4m19 0h4m20 0h4m-1 0h4m-39 1h4m-2 0h4m3 0h4m-3 0h4m4 0h4m-1 0h4m11 0h4m-45 1h4m29 0h4m-21 1h4m-1 0h4m14 0h4m-2 0h4m-1 0h4m-38 1h4m15 0h4m3 0h4m4 0h4m-62 1h4m26 0h4m-3 0h4m16 0h4m-3 0h4m1 0h4m1 0h4m-2 0h4m-2 0h4m-45 1h4m-1 0h4m3 0h4m-3 0h4m-1 0h4m-1 0h4m0 0h4m-2 0h4m-23 1h4m2 0h4m14 0h4m19 0h4m-49 1h4m-2 0h4m-1 0h4m3 0h4m19 0h4m-77 1h4m38 0h4m-2 0h4m0 0h4m-2 0h4m3 0h4m9 0h4m-54 1h4m12 0h4m-2 0h4m20 0h4m-34 1h4m13 0h4m7 0h4m-2 0h4m0 0h4m4 0h4m-51 1h4m3 0h4m2 0h4m3 0h4m-1 0h4m12 0h4m-68 1h4m23 0h4m5 0h4m-1 0h4m-1 0h4m-3 0h4m2 0h4m-44 1h4m17 0h4m-1 0h4m3 0h4m7 0h4m-1 0h4m0 0h4m-40 1h4m-3 0h4m6 0h4m-3 0h4m0 0h4m-3 0h4m3 0h4m4 0h4m12 0h4m-50 1h4m-3 0h4m6 0h4m-2 0h4m8 0h4m5 0h4m8 0h4m-39 1h4m-1 0h4m18 0h4m-35 1h4m-1 0h4m-2 0h4m1 0h4m3 0h4m4 0h4m7 0h4m-44 1h4m1 0h4m-9 1h4m-2 0h4m-2 0h4m-2 0h4m-2 0h4m3 0h4m8 0h4m-3 0h4m-2 0h4m-3 0h4m1 0h4m-30 1h4m-1 0h4m-1 0h4m-2 0h4m-3 0h4m-2 0h4m0 0h4m7 0h4m-47 1h4m8 0h4m-3 0h4m12 0h4m-1 0h4m6 0h4m-2 0h4m5 0h4m3 0h4m-73 1h4m-1 0h4m-1 0h4m0 0h4m2 0h4m-3 0h4m3 0h4m2 0h4m-1 0h4m0 0h4m0 0h4m-2 0h4m5 0h4m-61 1h4m7 0h4m-1 0h4m8 0h4m-3 0h4m-2 0h4m-3 0h4m-3 0h4m0 0h4m1 0h4m2 0h4m-2 0h4m-78 1h4m31 0h4m0 0h4m-2 0h4m1 0h4m-3 0h4m0 0h4m8 0h4m-20 1h4m6 0h4m-2 0h4m-2 0h4m-1 0h4m-1 0h4m5 0h4m7 0h4m6 0h4m-67 1h4m0 0h4m-2 0h4m2 0h4m3 0h4m-2 0h4m-3 0h4m-2 0h4m3 0h4m2 0h4m4 0h4m-1 0h4m17 0h4m-68 1h4m-2 0h4m-1 0h4m-2 0h4m7 0h4m0 0h4m-1 0h4m3 0h4m4 0h4m14 0h4m-61 1h4m16 0h4m1 0h4m-3 0h4m-3 0h4m6 0h4m0 0h4m26 0h4m-78 1h4m1 0h4m2 0h4m-2 0h4m-3 0h4m-3 0h4m-3 0h4m3 0h4m4 0h4m6 0h4m2 0h4m-54 1h4m-3 0h4m13 0h4m1 0h4m-3 0h4m-1 0h4m-3 0h4m-3 0h4m-45 1h4m12 0h4m-2 0h4m7 0h4m-3 0h4m-2 0h4m-2 0h4m9 0h4m-2 0h4m5 0h4m8 0h4m-76 1h4m21 0h4m-1 0h4m-3 0h4m-2 0h4m-3 0h4m-2 0h4m-2 0h4m-3 0h4m1 0h4m-2 0h4m7 0h4m18 0h4m-76 1h4m11 0h4m-2 0h4m-1 0h4m-2 0h4m-3 0h4m2 0h4m-2 0h4m7 0h4m11 0h4m-3 0h4m-3 0h4m-53 1h4m-2 0h4m0 0h4m3 0h4m7 0h4m1 0h4m-1 0h4m-1 0h4m7 0h4m-2 0h4m-42 1h4m3 0h4m16 0h4m3 0h4m-82 1h4m28 0h4m0 0h4m-2 0h4m14 0h4m-1 0h4m11 0h4m0 0h4m-55 1h4m11 0h4m-2 0h4m3 0h4m3 0h4m3 0h4m0 0h4m-3 0h4m5 0h4m-43 1h4m-1 0h4m13 0h4m4 0h4m-36 1h4m1 0h4m1 0h4m-2 0h4m2 0h4m-2 0h4m-1 0h4m-2 0h4m2 0h4m-3 0h4m2 0h4m-2 0h4m5 0h4m-47 1h4m6 0h4m3 0h4m4 0h4m0 0h4m-50 1h4m8 0h4m-3 0h4m4 0h4m7 0h4m3 0h4m-2 0h4m-61 1h4m-3 0h4m0 0h4m-2 0h4m20 0h4m5 0h4m-3 0h4m4 0h4m-2 0h4m-16 1h4m-2 0h4m-2 0h4m2 0h4m-2 0h4m4 0h4m-1 0h4m-35 1h4m-2 0h4m1 0h4m-3 0h4m-3 0h4m1 0h4m2 0h4m23 0h4m-74 1h4m8 0h4m37 0h4m3 0h4m-39 1h4m-2 0h4m-3 0h4m1 0h4m1 0h4m-2 0h4m4 0h4m-3 0h4m0 0h4m-61 1h4m11 0h4m0 0h4m5 0h4m-2 0h4m0 0h4m-2 0h4m-1 0h4m11 0h4m2 0h4m-40 1h4m-3 0h4m-3 0h4m48 0h4m-2 0h4m-74 1h4m-3 0h4m-3 0h4m15 0h4m-3 0h4m6 0h4m23 0h4m-63 1h4m-3 0h4m5 0h4m-3 0h4m0 0h4m5 0h4m0 0h4m-2 0h4m1 0h4m2 0h4m5 0h4m0 0h4m-2 0h4m-66 1h4m2 0h4m3 0h4m3 0h4m-2 0h4m0 0h4m-3 0h4m-2 0h4m-3 0h4m-2 0h4m7 0h4m-63 1h4m0 0h4m26 0h4m-1 0h4m-1 0h4m3 0h4m4 0h4m8 0h4m-3 0h4m-54 1h4m2 0h4m1 0h4m1 0h4m0 0h4m-3 0h4m0 0h4m8 0h4m-3 0h4m1 0h4m3 0h4m-1 0h4m8 0h4m-83 1h4m8 0h4m4 0h4m-3 0h4m-3 0h4m2 0h4m-3 0h4m-1 0h4m-3 0h4m0 0h4m-2 0h4m2 0h4m2 0h4m-2 0h4m0 0h4m-3 0h4m-3 0h4m4 0h4m-2 0h4m-85 1h4m8 0h4m9 0h4m-2 0h4m2 0h4m-3 0h4m-2 0h4m-2 0h4m1 0h4m-3 0h4m-1 0h4m-3 0h4m2 0h4m9 0h4m-2 0h4m7 0h4m0 0h4m14 0h4m-94 1h4m15 0h4m-3 0h4m4 0h4m-2 0h4m0 0h4m0 0h4m-1 0h4m5 0h4m1 0h4m1 0h4m-3 0h4m-1 0h4m-3 0h4m6 0h4m-3 0h4m21 0h4m-84 1h4m5 0h4m-3 0h4m-2 0h4m0 0h4m4 0h4m-1 0h4m-3 0h4m-2 0h4m0 0h4m0 0h4m27 0h4m2 0h4m-121 1h4m17 0h4m8 0h4m1 0h4m7 0h4m-2 0h4m1 0h4m3 0h4m2 0h4m-3 0h4m-1 0h4m-2 0h4m2 0h4m8 0h4m-65 1h4m8 0h4m-1 0h4m5 0h4m-2 0h4m1 0h4m-3 0h4m2 0h4m-3 0h4m-2 0h4m-1 0h4m2 0h4m3 0h4m-3 0h4m2 0h4m17 0h4m-94 1h4m1 0h4m4 0h4m0 0h4m3 0h4m-3 0h4m0 0h4m-1 0h4m-3 0h4m-3 0h4m-1 0h4m-1 0h4m3 0h4m-3 0h4m2 0h4m-3 0h4m-3 0h4m-1 0h4m-59 1h4m1 0h4m10 0h4m-3 0h4m4 0h4m-1 0h4m-2 0h4m-2 0h4m6 0h4m-3 0h4m1 0h4m-2 0h4m1 0h4m3 0h4m-78 1h4m-3 0h4m12 0h4m-3 0h4m-2 0h4m0 0h4m0 0h4m0 0h4m-3 0h4m2 0h4m1 0h4m-3 0h4m-2 0h4m-1 0h4m-2 0h4m-1 0h4m-3 0h4m1 0h4m0 0h4m0 0h4m25 0h4m-97 1h4m-2 0h4m4 0h4m-3 0h4m-1 0h4m3 0h4m-1 0h4m-2 0h4m-1 0h4m-3 0h4m-3 0h4m-3 0h4m2 0h4m-1 0h4m-1 0h4m4 0h4m-3 0h4m1 0h4m0 0h4m14 0h4m-68 1h4m2 0h4m-3 0h4m-3 0h4m4 0h4m-2 0h4m-3 0h4m-3 0h4m4 0h4m-1 0h4m2 0h4m-1 0h4m-2 0h4m-64 1h4m-2 0h4m-3 0h4m5 0h4m-1 0h4m1 0h4m3 0h4m-3 0h4m-3 0h4m-1 0h4m0 0h4m-1 0h4m-3 0h4m-2 0h4m-3 0h4m-3 0h4m-3 0h4m1 0h4m-3 0h4m2 0h4m7 0h4m-2 0h4m-1 0h4m4 0h4m-75 1h4m2 0h4m-1 0h4m-2 0h4m3 0h4m-3 0h4m1 0h4m-3 0h4m-3 0h4m-3 0h4m-2 0h4m-3 0h4m-2 0h4m-1 0h4m-2 0h4m-1 0h4m-1 0h4m0 0h4m-2 0h4m-1 0h4m-2 0h4m-84 1h4m12 0h4m2 0h4m-2 0h4m5 0h4m1 0h4m0 0h4m0 0h4m-3 0h4m-2 0h4m-2 0h4m-3 0h4m-3 0h4m-3 0h4m-1 0h4m1 0h4m0 0h4m-3 0h4m-1 0h4m-3 0h4m-2 0h4m-2 0h4m-1 0h4m-3 0h4m-76 1h4m2 0h4m2 0h4m0 0h4m8 0h4m-2 0h4m-2 0h4m-1 0h4m-3 0h4m-2 0h4m-1 0h4m-1 0h4m-1 0h4m0 0h4m-3 0h4m-3 0h4m1 0h4m-2 0h4m14 0h4m-73 1h4m1 0h4m7 0h4m-3 0h4m-2 0h4m-1 0h4m0 0h4m1 0h4m6 0h4m-3 0h4m0 0h4m-3 0h4m-1 0h4m2 0h4m11 0h4m-3 0h4m-69 1h4m0 0h4m0 0h4m0 0h4m5 0h4m4 0h4m-3 0h4m-3 0h4m4 0h4m-2 0h4m3 0h4m-3 0h4m-1 0h4m-3 0h4m-2 0h4m-1 0h4m-69 1h4m14 0h4m-2 0h4m-1 0h4m6 0h4m6 0h4m-3 0h4m1 0h4m0 0h4m15 0h4m13 0h4m-108 1h4m6 0h4m3 0h4m12 0h4m4 0h4m-3 0h4m-3 0h4m0 0h4m-2 0h4m-1 0h4m-2 0h4m4 0h4m-2 0h4m2 0h4m-3 0h4m3 0h4m5 0h4m13 0h4m-103 1h4m6 0h4m8 0h4m3 0h4m4 0h4m-1 0h4m0 0h4m-2 0h4m-1 0h4m-1 0h4m-1 0h4m2 0h4m3 0h4m4 0h4m-3 0h4m-3 0h4m-2 0h4m-2 0h4m-63 1h4m7 0h4m-3 0h4m4 0h4m-3 0h4m0 0h4m0 0h4m1 0h4m-3 0h4m-1 0h4m18 0h4m-83 1h4m-3 0h4m11 0h4m4 0h4m-1 0h4m0 0h4m1 0h4m-2 0h4m-2 0h4m-3 0h4m3 0h4m-3 0h4m-3 0h4m-3 0h4m-3 0h4m9 0h4m3 0h4m-2 0h4m1 0h4m-75 1h4m6 0h4m3 0h4m-3 0h4m0 0h4m1 0h4m3 0h4m-3 0h4m-1 0h4m2 0h4m6 0h4m0 0h4m11 0h4m-2 0h4m-85 1h4m3 0h4m7 0h4m4 0h4m0 0h4m-1 0h4m3 0h4m1 0h4m-3 0h4m-2 0h4m0 0h4m1 0h4m-2 0h4m3 0h4m-3 0h4m-2 0h4m-72 1h4m-1 0h4m5 0h4m13 0h4m-2 0h4m4 0h4m1 0h4m16 0h4m-1 0h4m-71 1h4m12 0h4m3 0h4m-1 0h4m8 0h4m-2 0h4m1 0h4m4 0h4m2 0h4m-3 0h4m-2 0h4m6 0h4m-1 0h4m7 0h4m-93 1h4m0 0h4m16 0h4m-2 0h4m1 0h4m1 0h4m2 0h4m-2 0h4m2 0h4m0 0h4m0 0h4m-2 0h4m3 0h4m2 0h4m7 0h4m-74 1h4m8 0h4m1 0h4m1 0h4m2 0h4m5 0h4m-2 0h4m-1 0h4m3 0h4m2 0h4m8 0h4m-83 1h4m7 0h4m12 0h4m8 0h4m6 0h4m-1 0h4m5 0h4m-3 0h4m2 0h4m-2 0h4m15 0h4m-90 1h4m13 0h4m12 0h4m0 0h4m15 0h4m-1 0h4m-59 1h4m7 0h4m0 0h4m8 0h4m1 0h4m-1 0h4m7 0h4m12 0h4m0 0h4m-1 0h4m-58 1h4m-1 0h4m2 0h4m14 0h4m-3 0h4m-3 0h4m1 0h4m0 0h4m-3 0h4m2 0h4m13 0h4m-78 1h4m2 0h4m14 0h4m4 0h4m3 0h4m-2 0h4m10 0h4m0 0h4m1 0h4m-75 1h4m6 0h4m-1 0h4m0 0h4m-3 0h4m-3 0h4m-3 0h4m-3 0h4m1 0h4m-1 0h4m-3 0h4m-3 0h4m-3 0h4m-3 0h4m-3 0h4m-3 0h4m-3 0h4m-3 0h4m-3 0h4m-2 0h4m-1 0h4m-2 0h4m-3 0h4m-3 0h4m-3 0h4m-3 0h4m-3 0h4m-3 0h4m-2 0h4m-2 0h4m-1 0h4m9 0h4m-3 0h4" stroke-width="4"/></g>
<g font-size="7" fill="#000" stroke="#000" stroke-width=".22">
<text x="49.0" y="10.6">4.3%</text>
<text x="2.2" y="40.7">80.1</text>
<text x="2.7" y="48.3">%</text>
<text x="49.0" y="46.7">15.4%</text>
</g>
</g>
<g transform="translate(231.43 200.87)">
<path d="M0 0H73.4V55.7" fill="none" stroke="#333" stroke-width="1"/>
<path d="M23.2 0V55.7M0 34.5H73.4" fill="none" stroke="#111" stroke-width="1.25"/>
<path d="M0.15 -0.5V56.5" stroke="#000" stroke-width="1.8" fill="none"/>
<path d="M-1.3 55.7H73.9" stroke="#000" stroke-width="2.1" fill="none"/>
<path d="M0.2 55.7v2.9M0 55.4h-2.7M5.7 55.7v2.1M0 51.2h-1.8M8.9 55.7v2.1M0 48.8h-1.8M11.2 55.7v2.1M0 47.1h-1.8M12.9 55.7v2.1M0 45.7h-1.8M14.4 55.7v2.1M0 44.6h-1.8M15.6 55.7v2.1M0 43.7h-1.8M16.6 55.7v2.1M0 42.9h-1.8M17.6 55.7v2.1M0 42.2h-1.8M18.4 55.7v2.9M0 41.6h-2.7M23.9 55.7v2.1M0 37.4h-1.8M27.1 55.7v2.1M0 34.9h-1.8M29.4 55.7v2.1M0 33.2h-1.8M31.1 55.7v2.1M0 31.9h-1.8M32.6 55.7v2.1M0 30.8h-1.8M33.8 55.7v2.1M0 29.8h-1.8M34.8 55.7v2.1M0 29.0h-1.8M35.8 55.7v2.1M0 28.3h-1.8M36.6 55.7v2.9M0 27.7h-2.7M42.1 55.7v2.1M0 23.5h-1.8M45.3 55.7v2.1M0 21.1h-1.8M47.6 55.7v2.1M0 19.4h-1.8M49.3 55.7v2.1M0 18.0h-1.8M50.8 55.7v2.1M0 16.9h-1.8M52.0 55.7v2.1M0 16.0h-1.8M53.0 55.7v2.1M0 15.2h-1.8M54.0 55.7v2.1M0 14.5h-1.8M54.8 55.7v2.9M0 13.9h-2.7M60.3 55.7v2.1M0 9.7h-1.8M63.5 55.7v2.1M0 7.2h-1.8M65.8 55.7v2.1M0 5.5h-1.8M67.5 55.7v2.1M0 4.2h-1.8M69.0 55.7v2.1M0 3.1h-1.8M70.2 55.7v2.1M0 2.1h-1.8M71.2 55.7v2.1M0 1.3h-1.8M72.2 55.7v2.1M0 0.6h-1.8M73.0 55.7v2.9M0 0.0h-2.7" stroke="#000" stroke-width="1" fill="none"/>
<g font-size="8.6" font-weight="bold" fill="#000" stroke="#000" stroke-width=".25">
<text transform="translate(-3.4 67.0) scale(.7 1)">10<tspan dx=".9" dy="-4.3" font-size="8">0</tspan></text>
<text transform="translate(-4.4 59.8) rotate(-90) scale(.7 1)">10<tspan dx=".9" dy="-4.3" font-size="8">0</tspan></text>
<text transform="translate(14.8 67.0) scale(.7 1)">10<tspan dx=".9" dy="-4.3" font-size="8">1</tspan></text>
<text transform="translate(-4.4 46.0) rotate(-90) scale(.7 1)">10<tspan dx=".9" dy="-4.3" font-size="8">1</tspan></text>
<text transform="translate(33.0 67.0) scale(.7 1)">10<tspan dx=".9" dy="-4.3" font-size="8">2</tspan></text>
<text transform="translate(-4.4 32.1) rotate(-90) scale(.7 1)">10<tspan dx=".9" dy="-4.3" font-size="8">2</tspan></text>
<text transform="translate(51.2 67.0) scale(.7 1)">10<tspan dx=".9" dy="-4.3" font-size="8">3</tspan></text>
<text transform="translate(-4.4 18.2) rotate(-90) scale(.7 1)">10<tspan dx=".9" dy="-4.3" font-size="8">3</tspan></text>
<text transform="translate(69.4 67.0) scale(.7 1)">10<tspan dx=".9" dy="-4.3" font-size="8">4</tspan></text>
<text transform="translate(-4.4 4.4) rotate(-90) scale(.7 1)">10<tspan dx=".9" dy="-4.3" font-size="8">4</tspan></text>
</g>
<text x="36.2" y="72.9" text-anchor="middle" font-size="6.2" font-weight="bold" fill="#000">AnnexinY-FITC</text>
<text transform="translate(-14.5 28.7) rotate(-90)" text-anchor="middle" font-size="6.6" font-weight="bold" fill="#000" stroke="#000" stroke-width=".2">PI</text>
<g transform="scale(.25)" stroke="#000" fill="none"><path d="M123 136h6m24 4h6m-3 0h6m-7 4h6m-29 1h6m-5 0h6m3 0h6m5 1h6m-45 1h6m7 2h6m-39 1h6m-5 0h6m22 0h6m-5 0h6m-5 0h6m10 0h6m-55 1h6m22 0h6m-4 0h6m-29 1h6m15 0h6m0 0h6m-4 0h6m-21 1h6m9 0h6m0 0h6m5 0h6m-45 1h6m8 0h6m9 0h6m-40 1h6m25 0h6m-5 0h6m-47 1h6m11 0h6m4 0h6m-3 0h6m-17 1h6m-5 0h6m11 0h6m4 0h6m-86 1h6m27 0h6m7 0h6m-5 0h6m9 0h6m-86 1h6m26 0h6m25 0h6m-3 0h6m-2 0h6m-5 0h6m-2 0h6m-2 0h6m-5 0h6m19 0h6m-64 1h6m5 0h6m-4 0h6m-4 0h6m10 0h6m-23 1h6m-3 0h6m3 0h6m-4 0h6m-4 0h6m-36 1h6m0 0h6m19 0h6m-1 0h6m1 0h6m-4 0h6m-3 0h6m-97 1h6m16 0h6m15 0h6m8 0h6m13 0h6m3 0h6m-51 1h6m-4 0h6m-5 0h6m12 0h6m-5 0h6m-5 0h6m-2 0h6m-2 0h6m-5 0h6m6 0h6m-2 0h6m-4 0h6m-4 0h6m10 0h6m-82 1h6m-2 0h6m-2 0h6m-4 0h6m-4 0h6m-3 0h6m6 0h6m0 0h6m-5 0h6m-5 0h6m-4 0h6m-2 0h6m1 0h6m15 0h6m-50 1h6m18 0h6m0 0h6m-67 1h6m1 0h6m1 0h6m1 0h6m-3 0h6m-4 0h6m4 0h6m-1 0h6m-3 0h6m-2 0h6m-5 0h6m9 0h6m-74 1h6m11 0h6m9 0h6m0 0h6m-1 0h6m-4 0h6m-4 0h6m1 0h6m-4 0h6m-4 0h6m0 0h6m-1 0h6m2 0h6m13 0h6m-102 1h6m12 0h6m3 0h6m-3 0h6m3 0h6m-5 0h6m6 0h6m-5 0h6m-4 0h6m5 0h6m5 0h6m-72 1h6m-3 0h6m0 0h6m-1 0h6m0 0h6m-5 0h6m-3 0h6m-2 0h6m-4 0h6m-5 0h6m-3 0h6m-3 0h6m-4 0h6m-3 0h6m-50 1h6m-2 0h6m-2 0h6m-4 0h6m-5 0h6m2 0h6m-5 0h6m-4 0h6m-1 0h6m-5 0h6m-5 0h6m-5 0h6m-3 0h6m-1 0h6m-3 0h6m6 0h6m-2 0h6m-4 0h6m-63 1h6m10 0h6m1 0h6m0 0h6m-4 0h6m4 0h6m-5 0h6m-3 0h6m-5 0h6m-5 0h6m-4 0h6m3 0h6m-4 0h6m-4 0h6m-2 0h6m4 0h6m-93 1h6m1 0h6m-4 0h6m0 0h6m3 0h6m-5 0h6m-5 0h6m-5 0h6m-5 0h6m-4 0h6m-5 0h6m-4 0h6m1 0h6m-2 0h6m2 0h6m-1 0h6m-5 0h6m-2 0h6m-3 0h6m6 0h6m-86 1h6m1 0h6m-4 0h6m7 0h6m-3 0h6m-3 0h6m-4 0h6m-5 0h6m-5 0h6m-5 0h6m-5 0h6m-4 0h6m-5 0h6m-5 0h6m-3 0h6m-5 0h6m-4 0h6m-3 0h6m-3 0h6m-2 0h6m-4 0h6m-4 0h6m-5 0h6m-4 0h6m-5 0h6m-4 0h6m-4 0h6m17 0h6m-93 1h6m-3 0h6m-5 0h6m-4 0h6m-5 0h6m-4 0h6m-1 0h6m2 0h6m-1 0h6m-4 0h6m-3 0h6m-5 0h6m-2 0h6m1 0h6m-4 0h6m-3 0h6m4 0h6m-5 0h6m14 0h6m-3 0h6m-84 1h6m-5 0h6m1 0h6m-5 0h6m-2 0h6m-3 0h6m-3 0h6m-2 0h6m4 0h6m-5 0h6m-4 0h6m-3 0h6m-5 0h6m-5 0h6m-3 0h6m-5 0h6m0 0h6m-3 0h6m-4 0h6m4 0h6m-3 0h6m-3 0h6m-112 1h6m38 0h6m1 0h6m-2 0h6m-3 0h6m-5 0h6m-4 0h6m-1 0h6m-4 0h6m-3 0h6m-3 0h6m-3 0h6m-4 0h6m-4 0h6m-5 0h6m-3 0h6m-3 0h6m-5 0h6m-4 0h6m-71 1h6m6 0h6m1 0h6m-2 0h6m-3 0h6m-5 0h6m-4 0h6m-4 0h6m-5 0h6m-5 0h6m-4 0h6m-2 0h6m-3 0h6m5 0h6m-4 0h6m-2 0h6m-4 0h6m-2 0h6m-3 0h6m2 0h6m-92 1h6m17 0h6m-5 0h6m-5 0h6m-3 0h6m2 0h6m-2 0h6m-2 0h6m-3 0h6m-2 0h6m-5 0h6m-5 0h6m-4 0h6m-5 0h6m-5 0h6m-3 0h6m-2 0h6m-5 0h6m0 0h6m-4 0h6m-4 0h6m6 0h6m-89 1h6m2 0h6m-4 0h6m1 0h6m-4 0h6m-3 0h6m-5 0h6m-5 0h6m-5 0h6m-3 0h6m0 0h6m-5 0h6m-3 0h6m-5 0h6m-4 0h6m-3 0h6m-5 0h6m-5 0h6m-2 0h6m-5 0h6m1 0h6m-3 0h6m-4 0h6m-5 0h6m-5 0h6m-5 0h6m-5 0h6m4 0h6m13 0h6m-110 1h6m14 0h6m4 0h6m0 0h6m-1 0h6m-4 0h6m-3 0h6m-4 0h6m-5 0h6m-5 0h6m-5 0h6m-5 0h6m-3 0h6m-5 0h6m-5 0h6m-3 0h6m-5 0h6m-4 0h6m-5 0h6m-3 0h6m-4 0h6m-5 0h6m-1 0h6m-5 0h6m-3 0h6m-5 0h6m3 0h6m-5 0h6m4 0h6m-87 1h6m-4 0h6m-5 0h6m-1 0h6m-5 0h6m-5 0h6m-5 0h6m-5 0h6m-3 0h6m-5 0h6m-1 0h6m-5 0h6m-1 0h6m-4 0h6m-2 0h6m-4 0h6m-5 0h6m-3 0h6m-5 0h6m-4 0h6m-4 0h6m-1 0h6m-5 0h6m-5 0h6m2 0h6m10 0h6m-2 0h6m-99 1h6m13 0h6m-5 0h6m-5 0h6m-5 0h6m-1 0h6m-4 0h6m-5 0h6m-4 0h6m-5 0h6m-5 0h6m-5 0h6m-3 0h6m-5 0h6m-4 0h6m-5 0h6m-5 0h6m-3 0h6m-3 0h6m-5 0h6m-2 0h6m-5 0h6m1 0h6m-1 0h6m-5 0h6m-5 0h6m-5 0h6m-1 0h6m-5 0h6m-1 0h6m-5 0h6m-90 1h6m-2 0h6m7 0h6m0 0h6m-3 0h6m-3 0h6m-5 0h6m-4 0h6m-4 0h6m-5 0h6m-5 0h6m-5 0h6m-4 0h6m-5 0h6m-4 0h6m-5 0h6m-5 0h6m-4 0h6m-3 0h6m-4 0h6m-5 0h6m-2 0h6m4 0h6m1 0h6m3 0h6m-5 0h6m4 0h6m-86 1h6m-1 0h6m-4 0h6m-5 0h6m-2 0h6m-4 0h6m-2 0h6m-2 0h6m-5 0h6m-4 0h6m-4 0h6m-4 0h6m-5 0h6m-5 0h6m-5 0h6m-5 0h6m-5 0h6m-4 0h6m-4 0h6m-4 0h6m-5 0h6m-4 0h6m-5 0h6m-5 0h6m-3 0h6m-1 0h6m-2 0h6m-4 0h6m1 0h6m-5 0h6m-4 0h6m-5 0h6m-5 0h6m-5 0h6m-82 1h6m0 0h6m-5 0h6m-5 0h6m-2 0h6m-4 0h6m2 0h6m-5 0h6m-2 0h6m-4 0h6m-5 0h6m-5 0h6m-5 0h6m-5 0h6m-5 0h6m-4 0h6m-4 0h6m-3 0h6m-5 0h6m-5 0h6m-4 0h6m-1 0h6m-5 0h6m-1 0h6m-5 0h6m-5 0h6m-5 0h6m-4 0h6m1 0h6m-5 0h6m-3 0h6m-4 0h6m-5 0h6m-102 1h6m4 0h6m2 0h6m0 0h6m-2 0h6m1 0h6m-5 0h6m-5 0h6m-4 0h6m-4 0h6m-5 0h6m-2 0h6m-5 0h6m-5 0h6m-5 0h6m-5 0h6m-3 0h6m-5 0h6m-2 0h6m-3 0h6m-5 0h6m-4 0h6m-3 0h6m4 0h6m-5 0h6m-5 0h6m1 0h6m-3 0h6m-5 0h6m-1 0h6m-76 1h6m-3 0h6m-3 0h6m-4 0h6m-3 0h6m-5 0h6m-5 0h6m-4 0h6m-5 0h6m-5 0h6m-4 0h6m-3 0h6m-5 0h6m-4 0h6m-5 0h6m-5 0h6m-4 0h6m-3 0h6m-4 0h6m-5 0h6m-2 0h6m-5 0h6m-5 0h6m-4 0h6m-5 0h6m-5 0h6m-4 0h6m-5 0h6m-3 0h6m-5 0h6m-5 0h6m-5 0h6m0 0h6m-4 0h6m-3 0h6m-5 0h6m0 0h6m0 0h6m-4 0h6m-110 1h6m7 0h6m9 0h6m-2 0h6m-3 0h6m-1 0h6m-5 0h6m-5 0h6m-5 0h6m-5 0h6m-4 0h6m-3 0h6m-5 0h6m-5 0h6m-4 0h6m-5 0h6m-5 0h6m-3 0h6m-5 0h6m-5 0h6m-5 0h6m-4 0h6m-3 0h6m-4 0h6m-3 0h6m-5 0h6m-5 0h6m-5 0h6m-2 0h6m-3 0h6m-5 0h6m-5 0h6m-5 0h6m0 0h6m-5 0h6m-100 1h6m12 0h6m-5 0h6m-5 0h6m-3 0h6m-5 0h6m-3 0h6m-1 0h6m-3 0h6m-5 0h6m-4 0h6m-2 0h6m-5 0h6m-4 0h6m-5 0h6m-4 0h6m-4 0h6m0 0h6m-5 0h6m-3 0h6m-5 0h6m-5 0h6m-5 0h6m-5 0h6m-5 0h6m2 0h6m-4 0h6m-5 0h6m-5 0h6m-5 0h6m-1 0h6m-3 0h6m-1 0h6m3 0h6m-2 0h6m-90 1h6m-4 0h6m-3 0h6m0 0h6m-5 0h6m-1 0h6m-4 0h6m-4 0h6m-5 0h6m-3 0h6m-5 0h6m-3 0h6m-5 0h6m-2 0h6m-3 0h6m-4 0h6m-5 0h6m-4 0h6m-5 0h6m-5 0h6m-5 0h6m-5 0h6m-5 0h6m-2 0h6m-1 0h6m9 0h6m-2 0h6m-95 1h6m10 0h6m8 0h6m-5 0h6m-3 0h6m-1 0h6m-4 0h6m-5 0h6m-4 0h6m-5 0h6m-5 0h6m0 0h6m-5 0h6m-4 0h6m-4 0h6m-5 0h6m-5 0h6m-3 0h6m-5 0h6m-5 0h6m-5 0h6m-3 0h6m-5 0h6m-5 0h6m-4 0h6m-5 0h6m-1 0h6m-2 0h6m-5 0h6m-5 0h6m-5 0h6m-80 1h6m4 0h6m-4 0h6m-2 0h6m-5 0h6m-2 0h6m-1 0h6m-5 0h6m-5 0h6m-1 0h6m-5 0h6m-3 0h6m-5 0h6m-4 0h6m0 0h6m-5 0h6m-3 0h6m-1 0h6m-5 0h6m-3 0h6m-4 0h6m-3 0h6m-5 0h6m-3 0h6m1 0h6m3 0h6m-111 1h6m24 0h6m-2 0h6m-4 0h6m-5 0h6m-5 0h6m-2 0h6m-1 0h6m-5 0h6m-5 0h6m-4 0h6m-3 0h6m-1 0h6m-4 0h6m-5 0h6m-5 0h6m-4 0h6m-5 0h6m-5 0h6m-5 0h6m-5 0h6m-3 0h6m-5 0h6m-1 0h6m-3 0h6m-5 0h6m-1 0h6m-4 0h6m8 0h6m1 0h6m-103 1h6m-4 0h6m-5 0h6m1 0h6m-5 0h6m2 0h6m-1 0h6m-3 0h6m-4 0h6m-5 0h6m-4 0h6m-4 0h6m-2 0h6m-4 0h6m-5 0h6m-3 0h6m-5 0h6m-4 0h6m-3 0h6m-5 0h6m-5 0h6m-5 0h6m-5 0h6m-5 0h6m-5 0h6m-5 0h6m-5 0h6m-5 0h6m-5 0h6m-5 0h6m-5 0h6m-5 0h6m-5 0h6m-4 0h6m-2 0h6m-4 0h6m1 0h6m-3 0h6m1 0h6m-4 0h6m2 0h6m-4 0h6m-105 1h6m5 0h6m-2 0h6m3 0h6m-3 0h6m-5 0h6m-4 0h6m-4 0h6m1 0h6m-5 0h6m-5 0h6m-4 0h6m-3 0h6m-4 0h6m-2 0h6m-3 0h6m-5 0h6m-5 0h6m-5 0h6m-3 0h6m-2 0h6m-4 0h6m-1 0h6m-5 0h6m-3 0h6m-4 0h6m-4 0h6m18 0h6m-115 1h6m12 0h6m-4 0h6m2 0h6m1 0h6m-3 0h6m1 0h6m-4 0h6m-5 0h6m-5 0h6m-4 0h6m-4 0h6m-5 0h6m-5 0h6m-5 0h6m-3 0h6m-3 0h6m-5 0h6m-5 0h6m-5 0h6m-3 0h6m-5 0h6m-4 0h6m-1 0h6m-4 0h6m21 0h6m-99 1h6m-1 0h6m-1 0h6m-2 0h6m-3 0h6m-5 0h6m-5 0h6m-5 0h6m-3 0h6m-5 0h6m-5 0h6m-5 0h6m-3 0h6m-5 0h6m-3 0h6m-5 0h6m-3 0h6m-5 0h6m-5 0h6m-4 0h6m-4 0h6m-5 0h6m-4 0h6m-5 0h6m-3 0h6m-5 0h6m-4 0h6m-5 0h6m-2 0h6m2 0h6m-5 0h6m-4 0h6m0 0h6m-3 0h6m-89 1h6m0 0h6m0 0h6m-4 0h6m-1 0h6m-4 0h6m-2 0h6m-3 0h6m-5 0h6m-3 0h6m-3 0h6m0 0h6m-4 0h6m-5 0h6m-5 0h6m-5 0h6m-4 0h6m-4 0h6m-5 0h6m-4 0h6m-2 0h6m-2 0h6m-4 0h6m0 0h6m-3 0h6m10 0h6m-4 0h6m-98 1h6m0 0h6m4 0h6m-5 0h6m-3 0h6m-3 0h6m-3 0h6m-5 0h6m-5 0h6m-2 0h6m-3 0h6m-5 0h6m-5 0h6m-4 0h6m-5 0h6m-5 0h6m-4 0h6m-3 0h6m-5 0h6m-5 0h6m-5 0h6m-4 0h6m-4 0h6m-5 0h6m-3 0h6m-5 0h6m-5 0h6m-2 0h6m-5 0h6m-4 0h6m-4 0h6m-5 0h6m2 0h6m-97 1h6m5 0h6m8 0h6m-5 0h6m-4 0h6m-3 0h6m-3 0h6m-2 0h6m-4 0h6m-5 0h6m-5 0h6m-4 0h6m-5 0h6m-5 0h6m-5 0h6m-3 0h6m-5 0h6m-4 0h6m-4 0h6m-5 0h6m-2 0h6m-2 0h6m-5 0h6m-1 0h6m-5 0h6m-3 0h6m-2 0h6m-2 0h6m-3 0h6m-3 0h6m1 0h6m-3 0h6m-2 0h6m-103 1h6m2 0h6m-4 0h6m-5 0h6m4 0h6m-2 0h6m-4 0h6m-4 0h6m-4 0h6m-5 0h6m-5 0h6m-4 0h6m-5 0h6m-5 0h6m-2 0h6m-5 0h6m-5 0h6m-4 0h6m-5 0h6m-5 0h6m-1 0h6m-3 0h6m-3 0h6m-5 0h6m-4 0h6m-3 0h6m-5 0h6m-5 0h6m-5 0h6m-3 0h6m-5 0h6m-4 0h6m-5 0h6m-2 0h6m-64 1h6m-4 0h6m-3 0h6m-5 0h6m-3 0h6m-3 0h6m-4 0h6m-4 0h6m-1 0h6m-5 0h6m-5 0h6m-3 0h6m-5 0h6m-4 0h6m-3 0h6m-5 0h6m-5 0h6m-5 0h6m-2 0h6m-3 0h6m-2 0h6m-2 0h6m-3 0h6m-3 0h6m-1 0h6m-90 1h6m-2 0h6m-5 0h6m1 0h6m-5 0h6m-2 0h6m-5 0h6m2 0h6m-4 0h6m-4 0h6m-3 0h6m-5 0h6m-4 0h6m-5 0h6m-3 0h6m-5 0h6m-5 0h6m-5 0h6m-2 0h6m-5 0h6m-1 0h6m-5 0h6m-4 0h6m-5 0h6m-5 0h6m-2 0h6m-4 0h6m-4 0h6m-5 0h6m-5 0h6m-5 0h6m19 0h6m-4 0h6m-4 0h6m-89 1h6m1 0h6m-3 0h6m2 0h6m-3 0h6m-5 0h6m-5 0h6m-5 0h6m-5 0h6m-4 0h6m-4 0h6m-5 0h6m-4 0h6m-4 0h6m-3 0h6m-5 0h6m-5 0h6m-4 0h6m-5 0h6m-2 0h6m-5 0h6m-5 0h6m-4 0h6m-4 0h6m-4 0h6m-5 0h6m-3 0h6m-2 0h6m6 0h6m-5 0h6m-97 1h6m3 0h6m-1 0h6m-2 0h6m-5 0h6m-5 0h6m-5 0h6m-5 0h6m9 0h6m-4 0h6m-5 0h6m-4 0h6m-3 0h6m-5 0h6m-5 0h6m-5 0h6m-5 0h6m-5 0h6m-5 0h6m-2 0h6m-5 0h6m-5 0h6m-5 0h6m-4 0h6m-5 0h6m-3 0h6m-5 0h6m-5 0h6m-4 0h6m-4 0h6m-4 0h6m-4 0h6m-1 0h6m10 0h6m0 0h6m-3 0h6m12 0h6m-120 1h6m6 0h6m-5 0h6m-5 0h6m-1 0h6m-5 0h6m-5 0h6m-5 0h6m-3 0h6m-5 0h6m-5 0h6m-4 0h6m-2 0h6m3 0h6m-5 0h6m-5 0h6m-4 0h6m-4 0h6m-4 0h6m-4 0h6m-4 0h6m-3 0h6m-4 0h6m-2 0h6m-4 0h6m-4 0h6m2 0h6m3 0h6m-105 1h6m18 0h6m3 0h6m-5 0h6m-3 0h6m-5 0h6m-2 0h6m-4 0h6m-5 0h6m-5 0h6m-4 0h6m-3 0h6m-5 0h6m-5 0h6m-4 0h6m-4 0h6m-5 0h6m-2 0h6m-5 0h6m-4 0h6m-1 0h6m0 0h6m-5 0h6m-4 0h6m-5 0h6m-2 0h6m-4 0h6m-5 0h6m3 0h6m-87 1h6m-1 0h6m5 0h6m4 0h6m-4 0h6m-1 0h6m-3 0h6m-1 0h6m-5 0h6m-2 0h6m-4 0h6m-4 0h6m-3 0h6m-5 0h6m-5 0h6m-4 0h6m2 0h6m-3 0h6m-5 0h6m0 0h6m-2 0h6m-1 0h6m-106 1h6m14 0h6m-4 0h6m-5 0h6m-4 0h6m9 0h6m-4 0h6m-5 0h6m-5 0h6m-4 0h6m0 0h6m-5 0h6m-1 0h6m-1 0h6m-5 0h6m-5 0h6m-5 0h6m-4 0h6m-1 0h6m0 0h6m-1 0h6m-1 0h6m-85 1h6m7 0h6m3 0h6m-2 0h6m-4 0h6m-3 0h6m-4 0h6m-2 0h6m-1 0h6m-3 0h6m-5 0h6m-5 0h6m-5 0h6m-5 0h6m0 0h6m-5 0h6m-5 0h6m-5 0h6m-2 0h6m-5 0h6m-5 0h6m-4 0h6m-4 0h6m-5 0h6m-5 0h6m2 0h6m-3 0h6m7 0h6m-2 0h6m-104 1h6m6 0h6m1 0h6m4 0h6m0 0h6m-5 0h6m0 0h6m-4 0h6m-2 0h6m-5 0h6m-5 0h6m-4 0h6m-5 0h6m-2 0h6m-5 0h6m-4 0h6m-5 0h6m-3 0h6m0 0h6m-5 0h6m0 0h6m-88 1h6m-1 0h6m2 0h6m-2 0h6m12 0h6m-1 0h6m-2 0h6m-2 0h6m-5 0h6m-3 0h6m-5 0h6m-5 0h6m-2 0h6m-5 0h6m-3 0h6m-5 0h6m-4 0h6m-4 0h6m-3 0h6m-4 0h6m-3 0h6m-5 0h6m-1 0h6m-2 0h6m-1 0h6m2 0h6m-108 1h6m11 0h6m9 0h6m-4 0h6m-5 0h6m0 0h6m-2 0h6m-5 0h6m-5 0h6m1 0h6m-2 0h6m-3 0h6m-5 0h6m-3 0h6m-5 0h6m4 0h6m-5 0h6m-3 0h6m25 0h6m-106 1h6m-5 0h6m1 0h6m-2 0h6m-4 0h6m-5 0h6m-4 0h6m-4 0h6m0 0h6m-4 0h6m-4 0h6m-4 0h6m-5 0h6m-1 0h6m-1 0h6m-4 0h6m2 0h6m-2 0h6m-5 0h6m-3 0h6m-3 0h6m-4 0h6m-4 0h6m-3 0h6m2 0h6m-82 1h6m0 0h6m7 0h6m1 0h6m-1 0h6m-1 0h6m-1 0h6m2 0h6m-3 0h6m2 0h6m14 0h6m12 0h6m-103 1h6m5 0h6m2 0h6m-3 0h6m-4 0h6m-3 0h6m-5 0h6m3 0h6m-5 0h6m-4 0h6m-3 0h6m-2 0h6m-5 0h6m-5 0h6m-3 0h6m-4 0h6m-4 0h6m-2 0h6m14 0h6m-100 1h6m-3 0h6m-5 0h6m-4 0h6m-5 0h6m1 0h6m-5 0h6m-4 0h6m-4 0h6m-4 0h6m-5 0h6m-5 0h6m-4 0h6m-5 0h6m-5 0h6m-5 0h6m-5 0h6m-5 0h6m-5 0h6m-5 0h6m-5 0h6m-5 0h6m-5 0h6m-5 0h6m-5 0h6m-5 0h6m-5 0h6m-5 0h6m-5 0h6m-5 0h6m-5 0h6m-5 0h6m-5 0h6m-5 0h6m-5 0h6m-5 0h6m-5 0h6m-5 0h6m-4 0h6m-5 0h6m-5 0h6m-5 0h6m-5 0h6m-5 0h6m-5 0h6m-5 0h6m-5 0h6m-5 0h6m-5 0h6m-5 0h6m-5 0h6m-5 0h6m-5 0h6m-5 0h6m-5 0h6m-5 0h6m-4 0h6m-5 0h6m-5 0h6m-5 0h6m-4 0h6m-4 0h6m-5 0h6m-5 0h6m-5 0h6m-5 0h6m-5 0h6m-5 0h6m-5 0h6m-5 0h6m-2 0h6m-3 0h6m-2 0h6m-3 0h6m-5 0h6m7 0h6" stroke-width="6"/><path d="M145 46h4m-18 3h4m1 0h4m-28 2h4m-18 2h4m3 0h4m20 1h4m3 0h4m-4 1h4m-2 0h4m-27 1h4m12 0h4m4 1h4m-3 0h4m-6 1h4m-8 1h4m9 0h4m5 0h4m11 0h4m-74 1h4m22 0h4m-3 0h4m-2 0h4m2 0h4m5 0h4m-19 1h4m9 0h4m-12 1h4m1 0h4m-2 0h4m2 0h4m-46 1h4m12 0h4m-9 1h4m16 0h4m0 0h4m6 0h4m-2 0h4m-46 1h4m12 0h4m2 0h4m5 0h4m-1 0h4m14 0h4m-75 1h4m1 0h4m15 0h4m-1 0h4m4 0h4m7 0h4m10 0h4m11 0h4m-80 1h4m19 0h4m-2 0h4m18 0h4m9 0h4m10 0h4m-68 1h4m16 0h4m1 0h4m-1 0h4m-3 0h4m26 0h4m9 0h4m-70 1h4m2 0h4m0 0h4m-3 0h4m-1 0h4m0 0h4m-3 0h4m0 0h4m11 0h4m9 0h4m-62 1h4m11 0h4m-1 0h4m12 0h4m-2 0h4m7 0h4m4 0h4m-58 1h4m4 0h4m1 0h4m-2 0h4m-1 0h4m5 0h4m4 0h4m0 0h4m-2 0h4m6 0h4m-2 0h4m4 0h4m-85 1h4m21 0h4m18 0h4m-2 0h4m0 0h4m-2 0h4m6 0h4m-2 0h4m-3 0h4m2 0h4m4 0h4m-58 1h4m3 0h4m-2 0h4m-3 0h4m3 0h4m-3 0h4m-2 0h4m14 0h4m17 0h4m-101 1h4m39 0h4m6 0h4m3 0h4m-1 0h4m3 0h4m-3 0h4m-1 0h4m4 0h4m-127 1h4m68 0h4m4 0h4m4 0h4m-3 0h4m2 0h4m12 0h4m0 0h4m2 0h4m1 0h4m-1 0h4m-52 1h4m6 0h4m7 0h4m-3 0h4m7 0h4m-3 0h4m-2 0h4m-2 0h4m-54 1h4m3 0h4m18 0h4m6 0h4m21 0h4m-47 1h4m4 0h4m22 0h4m2 0h4m-80 1h4m17 0h4m-2 0h4m4 0h4m1 0h4m5 0h4m7 0h4m-46 1h4m39 0h4m-2 0h4m-43 1h4m13 0h4m-3 0h4m-3 0h4m-3 0h4m1 0h4m1 0h4m8 0h4m0 0h4m4 0h4m-47 1h4m2 0h4m7 0h4m-2 0h4m22 0h4m-54 1h4m23 0h4m8 0h4m6 0h4m-117 1h4m14 0h4m51 0h4m12 0h4m-2 0h4m2 0h4m-3 0h4m-3 0h4m-1 0h4m-30 1h4m1 0h4m4 0h4m-19 1h4m-1 0h4m4 0h4m8 0h4m-3 0h4m-31 1h4m1 0h4m-48 1h4m25 0h4m7 0h4m4 0h4m6 0h4m1 0h4m0 0h4m-1 0h4m-2 0h4m-45 1h4m3 0h4m13 0h4m-70 1h4m69 0h4m15 1h4m-119 1h4m7 0h4m-15 1h4m93 0h4m-1 0h4m-2 0h4m-2 0h4m5 0h4m-27 1h4m2 0h4m-4 1h4m-90 1h4m10 0h4m85 0h4m-61 1h4m-56 1h4m1 0h4m91 1h4m-1 0h4m-16 1h4m-1 0h4m-67 1h4m60 0h4m6 0h4m0 0h4m2 0h4m-88 2h4m46 0h4m-13 1h4m16 0h4m-1 0h4m0 0h4m-105 1h4m32 0h4m45 0h4m13 0h4m-3 0h4m-83 1h4m74 0h4m3 0h4m-3 0h4m-101 1h4m67 0h4m25 0h4m-79 1h4m41 0h4m3 0h4m2 0h4m-2 0h4m3 0h4m9 0h4m-29 1h4m-1 0h4m4 0h4m3 0h4m-27 1h4m2 0h4m-15 1h4m2 0h4m7 0h4m-1 0h4m-1 0h4m1 0h4m-33 1h4m1 0h4m-1 0h4m4 0h4m-13 1h4m-2 0h4m8 0h4m-2 0h4m-19 1h4m2 0h4m1 0h4m-17 1h4m6 0h4m5 0h4m-27 1h4m-3 0h4m4 0h4m-16 1h4m5 0h4m-3 0h4m-3 0h4m7 0h4m-2 0h4m-35 1h4m4 0h4m7 0h4m-2 0h4m7 0h4m-15 1h4m-4 1h4m4 0h4m-18 1h4m6 0h4m-3 0h4m-20 1h4m-3 0h4m-2 0h4m-2 0h4m-84 1h4m80 0h4m-3 1h4m0 0h4m4 0h4m-2 0h4m-32 1h4m-1 0h4m5 0h4m6 0h4m-21 1h4m2 0h4m-2 0h4m-2 0h4m-2 0h4m11 0h4m22 0h4m-52 1h4m0 0h4m-2 0h4m2 0h4m-23 1h4m5 0h4m3 0h4m-30 1h4m8 0h4m20 0h4m-21 1h4m0 0h4m1 0h4m-14 1h4m11 0h4m-91 1h4m52 0h4m11 0h4m0 0h4m-18 1h4m7 0h4m0 0h4m-1 0h4m-7 1h4m-14 1h4m-1 0h4m-3 0h4m-2 0h4m-1 0h4m1 0h4m1 0h4m-30 1h4m7 0h4m-2 0h4m0 0h4m-3 0h4m-1 0h4m-2 0h4m-19 1h4m1 0h4m5 0h4m7 0h4m-38 1h4m9 0h4m-1 0h4m9 0h4m-56 1h4m32 0h4m-2 0h4m-3 0h4m-27 1h4m0 0h4m4 0h4m0 0h4m-1 0h4m-3 0h4m-3 0h4m1 0h4m-1 0h4m-2 0h4m-1 0h4m2 0h4m-26 1h4m2 0h4m-3 0h4m-28 1h4m3 0h4m1 0h4m4 0h4m9 0h4m30 0h4m-77 1h4m8 0h4m-2 0h4m-2 0h4m-2 0h4m0 0h4m-2 0h4m-1 0h4m-3 0h4m0 0h4m5 0h4m-46 1h4m-3 0h4m7 0h4m-3 0h4m0 0h4m-3 0h4m1 0h4m-3 0h4m-3 0h4m4 0h4m-3 0h4m-3 0h4m21 0h4m-65 1h4m10 0h4m0 0h4m-3 0h4m-2 0h4m2 0h4m-1 0h4m-2 0h4m1 0h4m2 0h4m-35 1h4m4 0h4m0 0h4m0 0h4m-1 0h4m-3 0h4m1 0h4m5 0h4m4 0h4m-48 1h4m0 0h4m3 0h4m2 0h4m-1 0h4m0 0h4m0 0h4m-2 0h4m-46 1h4m7 0h4m1 0h4m4 0h4m0 0h4m-3 0h4m-1 0h4m1 0h4m-1 0h4m-3 0h4m-3 0h4m-24 1h4m-2 0h4m-1 0h4m8 0h4m-36 1h4m1 0h4m-1 0h4m0 0h4m-3 0h4m1 0h4m-3 0h4m-1 0h4m-3 0h4m-2 0h4m-1 0h4m-30 1h4m-1 0h4m-2 0h4m4 0h4m1 0h4m0 0h4m1 0h4m2 0h4m-31 1h4m-3 0h4m-1 0h4m-3 0h4m0 0h4m-2 0h4m-3 0h4m3 0h4m-2 0h4m8 0h4m-43 1h4m1 0h4m0 0h4m-2 0h4m-1 0h4m-3 0h4m-3 0h4m-3 0h4m-3 0h4m-2 0h4m-3 0h4m10 0h4m-38 1h4m-1 0h4m-3 0h4m0 0h4m-1 0h4m-3 0h4m-2 0h4m-1 0h4m0 0h4m-3 0h4m-2 0h4m-1 0h4m-41 1h4m0 0h4m-1 0h4m0 0h4m1 0h4m0 0h4m-1 0h4m2 0h4m0 0h4m-3 0h4m-3 0h4m-3 0h4m-3 0h4m2 0h4m-3 0h4m2 0h4m0 0h4m-53 1h4m-1 0h4m2 0h4m-3 0h4m-2 0h4m-3 0h4m-1 0h4m-2 0h4m-3 0h4m0 0h4m8 0h4m1 0h4m-1 0h4m-41 1h4m-3 0h4m-2 0h4m-2 0h4m-3 0h4m-3 0h4m-3 0h4m-3 0h4m0 0h4m2 0h4m-3 0h4m-2 0h4m-3 0h4m-3 0h4m-2 0h4m-1 0h4m2 0h4m-3 0h4m-44 1h4m0 0h4m3 0h4m-3 0h4m-2 0h4m1 0h4m1 0h4m-2 0h4m1 0h4m4 0h4m1 0h4m-44 1h4m-1 0h4m-2 0h4m-3 0h4m-1 0h4m5 0h4m-3 0h4m-1 0h4m-3 0h4m-3 0h4m-1 0h4m-2 0h4m-31 1h4m0 0h4m-3 0h4m-3 0h4m-3 0h4m-3 0h4m0 0h4m4 0h4m-2 0h4m-3 0h4m-3 0h4m-2 0h4m4 0h4m9 0h4m7 0h4m-67 1h4m-1 0h4m-3 0h4m4 0h4m-2 0h4m-2 0h4m-2 0h4m-3 0h4m3 0h4m-3 0h4m2 0h4m-3 0h4m-41 1h4m-2 0h4m-1 0h4m-1 0h4m-3 0h4m-1 0h4m-2 0h4m-3 0h4m0 0h4m0 0h4m-3 0h4m-2 0h4m4 0h4m0 0h4m-54 1h4m14 0h4m-3 0h4m-3 0h4m-3 0h4m1 0h4m-3 0h4m-2 0h4m1 0h4m-1 0h4m-3 0h4m0 0h4m-3 0h4m11 0h4m-52 1h4m-1 0h4m2 0h4m-3 0h4m-1 0h4m-2 0h4m-2 0h4m-1 0h4m-2 0h4m-3 0h4m-3 0h4m-2 0h4m2 0h4m17 0h4m0 0h4m0 0h4m4 0h4m-83 1h4m3 0h4m-1 0h4m-3 0h4m-2 0h4m3 0h4m-2 0h4m4 0h4m0 0h4m-2 0h4m-3 0h4m-3 0h4m-2 0h4m-3 0h4m0 0h4m-1 0h4m9 0h4m6 0h4m-67 1h4m2 0h4m7 0h4m-3 0h4m-3 0h4m-3 0h4m-3 0h4m-3 0h4m1 0h4m-3 0h4m-3 0h4m-3 0h4m-2 0h4m0 0h4m-3 0h4m2 0h4m-45 1h4m0 0h4m-2 0h4m-1 0h4m2 0h4m-3 0h4m-3 0h4m-3 0h4m-3 0h4m-3 0h4m-3 0h4m-3 0h4m-2 0h4m-3 0h4m-2 0h4m1 0h4m-45 1h4m-2 0h4m10 0h4m-1 0h4m-2 0h4m2 0h4m-2 0h4m-3 0h4m5 0h4m0 0h4m0 0h4m-1 0h4m-3 0h4m1 0h4m-52 1h4m5 0h4m-2 0h4m-3 0h4m-3 0h4m-3 0h4m-2 0h4m-1 0h4m-3 0h4m-3 0h4m-3 0h4m-3 0h4m-3 0h4m-3 0h4m-2 0h4m-3 0h4m2 0h4m-3 0h4m0 0h4m-1 0h4m1 0h4m-55 1h4m-3 0h4m8 0h4m-3 0h4m-1 0h4m-2 0h4m-2 0h4m-3 0h4m-3 0h4m-3 0h4m2 0h4m-3 0h4m-3 0h4m-2 0h4m-1 0h4m-3 0h4m-38 1h4m1 0h4m0 0h4m-3 0h4m-2 0h4m-1 0h4m-2 0h4m-3 0h4m3 0h4m-2 0h4m-3 0h4m2 0h4m-2 0h4m3 0h4m-60 1h4m13 0h4m-2 0h4m-3 0h4m-2 0h4m-2 0h4m-2 0h4m5 0h4m-3 0h4m-3 0h4m1 0h4m-3 0h4m-3 0h4m-2 0h4m-3 0h4m-1 0h4m-3 0h4m-35 1h4m-3 0h4m-1 0h4m-3 0h4m6 0h4m-3 0h4m0 0h4m-2 0h4m-3 0h4m-1 0h4m43 0h4m-87 1h4m-3 0h4m-1 0h4m-1 0h4m1 0h4m-3 0h4m0 0h4m-3 0h4m-3 0h4m1 0h4m-3 0h4m-3 0h4m-3 0h4m-3 0h4m0 0h4m-2 0h4m-2 0h4m8 0h4m-53 1h4m9 0h4m-3 0h4m-3 0h4m-3 0h4m-3 0h4m-3 0h4m-1 0h4m-1 0h4m-1 0h4m-23 1h4m-3 0h4m-3 0h4m0 0h4m0 0h4m-3 0h4m-3 0h4m-2 0h4m3 0h4m-2 0h4m0 0h4m-3 0h4m-3 0h4m-29 1h4m0 0h4m-3 0h4m-3 0h4m0 0h4m-2 0h4m-2 0h4m-2 0h4m-2 0h4m-2 0h4m-3 0h4m-2 0h4m1 0h4m-41 1h4m0 0h4m2 0h4m0 0h4m-2 0h4m-2 0h4m-2 0h4m-3 0h4m1 0h4m-3 0h4m0 0h4m0 0h4m-3 0h4m-1 0h4m30 0h4m-76 1h4m0 0h4m-1 0h4m0 0h4m-3 0h4m-2 0h4m-3 0h4m-3 0h4m-3 0h4m-2 0h4m-1 0h4m0 0h4m6 0h4m-2 0h4m3 0h4m-48 1h4m1 0h4m-3 0h4m-2 0h4m-3 0h4m-1 0h4m-3 0h4m-1 0h4m-2 0h4m-3 0h4m-3 0h4m-3 0h4m3 0h4m-1 0h4m0 0h4m-2 0h4m-2 0h4m4 0h4m-52 1h4m2 0h4m4 0h4m-3 0h4m-3 0h4m-2 0h4m-1 0h4m-1 0h4m0 0h4m-2 0h4m37 0h4m-77 1h4m6 0h4m-3 0h4m-3 0h4m-3 0h4m0 0h4m-3 0h4m3 0h4m2 0h4m-43 1h4m-1 0h4m12 0h4m-1 0h4m0 0h4m-1 0h4m-3 0h4m13 0h4m27 0h4m-69 1h4m3 0h4m5 0h4m-3 0h4m1 0h4m-3 0h4m-26 1h4m-3 0h4m6 0h4m-1 0h4m-1 0h4m0 0h4m7 0h4m1 0h4m-36 1h4m-1 0h4m4 0h4m-2 0h4m-1 0h4m-2 0h4m13 0h4m-37 1h4m-3 0h4m0 0h4m-2 0h4m-3 0h4m0 0h4m-3 0h4m7 0h4m-32 1h4m5 0h4m-1 0h4m-3 0h4m3 0h4m-1 0h4m32 0h4m-69 2h4m13 0h4m-3 0h4m-1 0h4m-17 1h4m-2 0h4m-2 0h4m-24 1h4m2 0h4m3 0h4m12 0h4m0 0h4m-25 1h4m3 0h4m-1 0h4m5 0h4m0 0h4m-29 1h4m21 0h4m-32 1h4m-16 1h4m15 0h4m-3 0h4m16 0h4m-16 1h4m4 0h4m13 0h4m-43 1h4m9 1h4m5 0h4m1 0h4m-22 1h4m6 0h4m-22 3h4m12 3h4" stroke-width="4"/></g>
<g font-size="7" fill="#000" stroke="#000" stroke-width=".22">
<text x="53.1" y="10.7">5.1%</text>
<text x="2.2" y="40.4">60.0</text>
<text x="2.7" y="48.7">%</text>
<text x="49.0" y="47.5">34.7%</text>
</g>
</g>
<g transform="translate(333.33 201.13)">
<path d="M0 0H73.4V55.7" fill="none" stroke="#333" stroke-width="1"/>
<path d="M23.2 0V55.7M0 34.5H73.4" fill="none" stroke="#111" stroke-width="1.25"/>
<path d="M0.15 -0.5V56.5" stroke="#000" stroke-width="1.8" fill="none"/>
<path d="M-1.3 55.7H73.9" stroke="#000" stroke-width="2.1" fill="none"/>
<path d="M0.2 55.7v2.9M0 55.4h-2.7M5.7 55.7v2.1M0 51.2h-1.8M8.9 55.7v2.1M0 48.8h-1.8M11.2 55.7v2.1M0 47.1h-1.8M12.9 55.7v2.1M0 45.7h-1.8M14.4 55.7v2.1M0 44.6h-1.8M15.6 55.7v2.1M0 43.7h-1.8M16.6 55.7v2.1M0 42.9h-1.8M17.6 55.7v2.1M0 42.2h-1.8M18.4 55.7v2.9M0 41.6h-2.7M23.9 55.7v2.1M0 37.4h-1.8M27.1 55.7v2.1M0 34.9h-1.8M29.4 55.7v2.1M0 33.2h-1.8M31.1 55.7v2.1M0 31.9h-1.8M32.6 55.7v2.1M0 30.8h-1.8M33.8 55.7v2.1M0 29.8h-1.8M34.8 55.7v2.1M0 29.0h-1.8M35.8 55.7v2.1M0 28.3h-1.8M36.6 55.7v2.9M0 27.7h-2.7M42.1 55.7v2.1M0 23.5h-1.8M45.3 55.7v2.1M0 21.1h-1.8M47.6 55.7v2.1M0 19.4h-1.8M49.3 55.7v2.1M0 18.0h-1.8M50.8 55.7v2.1M0 16.9h-1.8M52.0 55.7v2.1M0 16.0h-1.8M53.0 55.7v2.1M0 15.2h-1.8M54.0 55.7v2.1M0 14.5h-1.8M54.8 55.7v2.9M0 13.9h-2.7M60.3 55.7v2.1M0 9.7h-1.8M63.5 55.7v2.1M0 7.2h-1.8M65.8 55.7v2.1M0 5.5h-1.8M67.5 55.7v2.1M0 4.2h-1.8M69.0 55.7v2.1M0 3.1h-1.8M70.2 55.7v2.1M0 2.1h-1.8M71.2 55.7v2.1M0 1.3h-1.8M72.2 55.7v2.1M0 0.6h-1.8M73.0 55.7v2.9M0 0.0h-2.7" stroke="#000" stroke-width="1" fill="none"/>
<g font-size="8.6" font-weight="bold" fill="#000" stroke="#000" stroke-width=".25">
<text transform="translate(-3.4 67.0) scale(.7 1)">10<tspan dx=".9" dy="-4.3" font-size="8">0</tspan></text>
<text transform="translate(-4.4 59.8) rotate(-90) scale(.7 1)">10<tspan dx=".9" dy="-4.3" font-size="8">0</tspan></text>
<text transform="translate(14.8 67.0) scale(.7 1)">10<tspan dx=".9" dy="-4.3" font-size="8">1</tspan></text>
<text transform="translate(-4.4 46.0) rotate(-90) scale(.7 1)">10<tspan dx=".9" dy="-4.3" font-size="8">1</tspan></text>
<text transform="translate(33.0 67.0) scale(.7 1)">10<tspan dx=".9" dy="-4.3" font-size="8">2</tspan></text>
<text transform="translate(-4.4 32.1) rotate(-90) scale(.7 1)">10<tspan dx=".9" dy="-4.3" font-size="8">2</tspan></text>
<text transform="translate(51.2 67.0) scale(.7 1)">10<tspan dx=".9" dy="-4.3" font-size="8">3</tspan></text>
<text transform="translate(-4.4 18.2) rotate(-90) scale(.7 1)">10<tspan dx=".9" dy="-4.3" font-size="8">3</tspan></text>
<text transform="translate(69.4 67.0) scale(.7 1)">10<tspan dx=".9" dy="-4.3" font-size="8">4</tspan></text>
<text transform="translate(-4.4 4.4) rotate(-90) scale(.7 1)">10<tspan dx=".9" dy="-4.3" font-size="8">4</tspan></text>
</g>
<text x="36.2" y="72.9" text-anchor="middle" font-size="6.2" font-weight="bold" fill="#000">AnnexinY-FITC</text>
<text transform="translate(-14.5 28.7) rotate(-90)" text-anchor="middle" font-size="6.6" font-weight="bold" fill="#000" stroke="#000" stroke-width=".2">PI</text>
<g transform="scale(.25)" stroke="#000" fill="none"><path d="M133 128h6m2 4h6m-17 1h6m-6 2h6m6 0h6m-22 1h6m2 0h6m-3 0h6m-4 0h6m-10 1h6m1 0h6m-18 1h6m7 0h6m-4 0h6m-24 1h6m2 0h6m-32 1h6m14 0h6m-1 0h6m-4 0h6m-2 0h6m4 1h6m-19 1h6m-3 0h6m-1 0h6m-14 1h6m2 0h6m-5 0h6m-16 1h6m0 0h6m-1 0h6m-41 1h6m-5 0h6m8 0h6m-1 0h6m-5 0h6m-2 0h6m-3 0h6m-4 0h6m-34 1h6m2 0h6m-5 0h6m-5 0h6m2 0h6m-4 0h6m-5 0h6m-2 0h6m-3 0h6m-5 0h6m-1 0h6m-67 1h6m30 0h6m-5 0h6m-5 0h6m-1 0h6m4 0h6m0 0h6m-50 1h6m5 0h6m4 0h6m4 0h6m-3 0h6m20 0h6m-96 1h6m46 0h6m-2 0h6m-2 0h6m-3 0h6m-1 0h6m-4 0h6m-5 0h6m-5 0h6m3 0h6m-41 1h6m4 0h6m-3 0h6m-2 0h6m-5 0h6m-1 0h6m-5 0h6m-1 0h6m-36 1h6m-5 0h6m-4 0h6m-5 0h6m1 0h6m2 0h6m-5 0h6m-4 0h6m-4 0h6m-4 0h6m-4 0h6m12 0h6m-66 1h6m10 0h6m-4 0h6m-5 0h6m3 0h6m2 0h6m1 0h6m7 0h6m-51 1h6m0 0h6m-5 0h6m0 0h6m-3 0h6m-1 0h6m0 0h6m1 0h6m-5 0h6m-3 0h6m-4 0h6m-74 1h6m33 0h6m-1 0h6m-3 0h6m-1 0h6m0 0h6m-5 0h6m-4 0h6m-3 0h6m-58 1h6m-2 0h6m11 0h6m-4 0h6m-3 0h6m-4 0h6m-3 0h6m-5 0h6m-4 0h6m-3 0h6m-5 0h6m-5 0h6m-5 0h6m-5 0h6m-5 0h6m-5 0h6m-5 0h6m2 0h6m-50 1h6m-3 0h6m-1 0h6m-5 0h6m2 0h6m-5 0h6m-2 0h6m-3 0h6m-1 0h6m-3 0h6m-4 0h6m-3 0h6m6 0h6m-46 1h6m-3 0h6m-5 0h6m-3 0h6m-4 0h6m-3 0h6m-4 0h6m-5 0h6m-5 0h6m-4 0h6m-4 0h6m-2 0h6m-2 0h6m0 0h6m-1 0h6m-47 1h6m-4 0h6m-5 0h6m0 0h6m1 0h6m-3 0h6m-2 0h6m-4 0h6m-5 0h6m-5 0h6m-3 0h6m-5 0h6m-64 1h6m8 0h6m2 0h6m-5 0h6m-1 0h6m-4 0h6m-2 0h6m-4 0h6m-5 0h6m-4 0h6m-5 0h6m-5 0h6m-5 0h6m-5 0h6m-5 0h6m-3 0h6m-5 0h6m-5 0h6m-4 0h6m-3 0h6m3 0h6m-4 0h6m-78 1h6m26 0h6m-2 0h6m-5 0h6m-5 0h6m-1 0h6m-1 0h6m-3 0h6m-3 0h6m-5 0h6m-4 0h6m0 0h6m-5 0h6m-75 1h6m13 0h6m10 0h6m4 0h6m-5 0h6m-5 0h6m-5 0h6m-5 0h6m-5 0h6m-4 0h6m-5 0h6m-1 0h6m-3 0h6m-3 0h6m-5 0h6m-5 0h6m-2 0h6m-28 1h6m-2 0h6m-5 0h6m-5 0h6m-4 0h6m-5 0h6m-5 0h6m-5 0h6m-5 0h6m-5 0h6m-5 0h6m-5 0h6m-4 0h6m17 0h6m-74 1h6m9 0h6m2 0h6m-5 0h6m-5 0h6m-1 0h6m-5 0h6m-4 0h6m-5 0h6m-5 0h6m-5 0h6m-4 0h6m-4 0h6m8 0h6m3 0h6m-2 0h6m-89 1h6m-4 0h6m1 0h6m14 0h6m-4 0h6m-4 0h6m-5 0h6m-2 0h6m-3 0h6m-5 0h6m1 0h6m-5 0h6m-2 0h6m-4 0h6m-4 0h6m-5 0h6m-2 0h6m-3 0h6m-5 0h6m-5 0h6m-72 1h6m10 0h6m-2 0h6m1 0h6m0 0h6m-5 0h6m-4 0h6m-5 0h6m-5 0h6m-5 0h6m-2 0h6m-5 0h6m-5 0h6m-1 0h6m-5 0h6m-5 0h6m-3 0h6m-4 0h6m-5 0h6m-72 1h6m9 0h6m4 0h6m-5 0h6m2 0h6m-3 0h6m-1 0h6m-2 0h6m-5 0h6m-5 0h6m-3 0h6m-5 0h6m-5 0h6m-3 0h6m-5 0h6m-5 0h6m-5 0h6m-4 0h6m-4 0h6m-5 0h6m1 0h6m-61 1h6m2 0h6m-2 0h6m-4 0h6m-3 0h6m-4 0h6m-1 0h6m-4 0h6m-2 0h6m-5 0h6m-4 0h6m-5 0h6m-4 0h6m-5 0h6m-5 0h6m-5 0h6m-1 0h6m-4 0h6m-4 0h6m-5 0h6m-2 0h6m-5 0h6m0 0h6m-3 0h6m-69 1h6m-5 0h6m4 0h6m-2 0h6m-1 0h6m-5 0h6m-1 0h6m-5 0h6m-4 0h6m-4 0h6m-2 0h6m-5 0h6m-5 0h6m-4 0h6m-3 0h6m-3 0h6m-5 0h6m-5 0h6m-1 0h6m-1 0h6m-87 1h6m-1 0h6m16 0h6m-5 0h6m-5 0h6m0 0h6m-2 0h6m-5 0h6m-1 0h6m-3 0h6m0 0h6m-4 0h6m-5 0h6m-5 0h6m-3 0h6m-5 0h6m-5 0h6m0 0h6m-5 0h6m-5 0h6m-5 0h6m0 0h6m-4 0h6m-67 1h6m-4 0h6m3 0h6m0 0h6m-4 0h6m-4 0h6m6 0h6m-4 0h6m-5 0h6m-5 0h6m-5 0h6m-5 0h6m-2 0h6m-5 0h6m-5 0h6m-5 0h6m-3 0h6m-3 0h6m2 0h6m-3 0h6m-3 0h6m-1 0h6m-88 1h6m-4 0h6m2 0h6m-2 0h6m1 0h6m-4 0h6m-4 0h6m-5 0h6m-1 0h6m0 0h6m-1 0h6m1 0h6m-5 0h6m-4 0h6m1 0h6m-5 0h6m-5 0h6m-2 0h6m-4 0h6m7 0h6m9 0h6m-102 1h6m0 0h6m0 0h6m-5 0h6m4 0h6m0 0h6m-4 0h6m-5 0h6m0 0h6m-4 0h6m-5 0h6m-1 0h6m-5 0h6m-4 0h6m-3 0h6m-5 0h6m-5 0h6m-5 0h6m-4 0h6m11 0h6m-1 0h6m-75 1h6m-5 0h6m-2 0h6m-1 0h6m-4 0h6m-5 0h6m2 0h6m-5 0h6m-5 0h6m-5 0h6m0 0h6m-4 0h6m-3 0h6m-3 0h6m-4 0h6m-5 0h6m-5 0h6m-5 0h6m-4 0h6m-5 0h6m-4 0h6m-4 0h6m-5 0h6m-3 0h6m1 0h6m-87 1h6m0 0h6m1 0h6m-5 0h6m9 0h6m-5 0h6m-3 0h6m-5 0h6m-3 0h6m-3 0h6m-5 0h6m-5 0h6m-5 0h6m-5 0h6m1 0h6m-5 0h6m-3 0h6m-5 0h6m-5 0h6m1 0h6m-5 0h6m-4 0h6m-3 0h6m-3 0h6m-5 0h6m-5 0h6m-3 0h6m16 0h6m-121 1h6m32 0h6m-5 0h6m-1 0h6m-3 0h6m-5 0h6m-5 0h6m-5 0h6m-3 0h6m-3 0h6m-5 0h6m-5 0h6m-2 0h6m-5 0h6m-3 0h6m-5 0h6m-4 0h6m-5 0h6m0 0h6m-1 0h6m-5 0h6m-5 0h6m-5 0h6m3 0h6m-3 0h6m-73 1h6m7 0h6m-5 0h6m-5 0h6m-1 0h6m-2 0h6m-5 0h6m-4 0h6m-5 0h6m-4 0h6m-2 0h6m-4 0h6m3 0h6m-1 0h6m-5 0h6m2 0h6m-5 0h6m-2 0h6m-4 0h6m30 0h6m-128 1h6m16 0h6m6 0h6m5 0h6m-5 0h6m-3 0h6m-3 0h6m-5 0h6m-3 0h6m-4 0h6m-3 0h6m-5 0h6m-5 0h6m-5 0h6m2 0h6m-5 0h6m-4 0h6m-3 0h6m-5 0h6m-83 1h6m1 0h6m-5 0h6m-1 0h6m-1 0h6m-3 0h6m1 0h6m-2 0h6m-5 0h6m-5 0h6m-2 0h6m-5 0h6m-5 0h6m-3 0h6m-5 0h6m-4 0h6m-5 0h6m-5 0h6m-5 0h6m-2 0h6m-4 0h6m-4 0h6m-4 0h6m-5 0h6m-4 0h6m-5 0h6m-4 0h6m-3 0h6m-4 0h6m-5 0h6m1 0h6m-2 0h6m-1 0h6m8 0h6m10 0h6m-112 1h6m0 0h6m-4 0h6m-2 0h6m-2 0h6m-4 0h6m-4 0h6m-1 0h6m-4 0h6m-4 0h6m-4 0h6m-2 0h6m-3 0h6m-4 0h6m-3 0h6m-5 0h6m-2 0h6m-5 0h6m-5 0h6m-4 0h6m-5 0h6m-4 0h6m-5 0h6m-4 0h6m-5 0h6m-5 0h6m-1 0h6m1 0h6m-75 1h6m0 0h6m-5 0h6m5 0h6m-5 0h6m-4 0h6m-3 0h6m-5 0h6m-5 0h6m-4 0h6m-2 0h6m-3 0h6m-4 0h6m-5 0h6m-2 0h6m-3 0h6m-5 0h6m-3 0h6m-4 0h6m-5 0h6m1 0h6m-5 0h6m-3 0h6m6 0h6m-87 1h6m-2 0h6m-5 0h6m-2 0h6m-5 0h6m-4 0h6m-2 0h6m-4 0h6m-4 0h6m-4 0h6m-4 0h6m-4 0h6m-5 0h6m-3 0h6m-5 0h6m4 0h6m-1 0h6m-5 0h6m-5 0h6m-5 0h6m-5 0h6m-4 0h6m-5 0h6m-4 0h6m-4 0h6m-5 0h6m1 0h6m-5 0h6m-4 0h6m-5 0h6m0 0h6m-88 1h6m-4 0h6m-1 0h6m-1 0h6m-1 0h6m-2 0h6m-4 0h6m0 0h6m-1 0h6m-5 0h6m-5 0h6m-3 0h6m-5 0h6m-5 0h6m-5 0h6m-4 0h6m-5 0h6m-5 0h6m-5 0h6m-5 0h6m-5 0h6m-5 0h6m-4 0h6m-5 0h6m-2 0h6m-4 0h6m-5 0h6m-5 0h6m-3 0h6m-5 0h6m1 0h6m-4 0h6m10 0h6m-5 0h6m-108 1h6m3 0h6m2 0h6m-3 0h6m-3 0h6m-1 0h6m-3 0h6m-2 0h6m-5 0h6m-3 0h6m-4 0h6m-5 0h6m-5 0h6m-5 0h6m-4 0h6m-5 0h6m-4 0h6m-5 0h6m-4 0h6m-1 0h6m-5 0h6m-5 0h6m-5 0h6m-2 0h6m-5 0h6m-5 0h6m-5 0h6m-3 0h6m-5 0h6m-2 0h6m-5 0h6m-5 0h6m-5 0h6m-5 0h6m-4 0h6m-3 0h6m-4 0h6m-5 0h6m2 0h6m-5 0h6m-1 0h6m-86 1h6m-5 0h6m-5 0h6m3 0h6m-3 0h6m-3 0h6m-5 0h6m-5 0h6m-4 0h6m-3 0h6m-2 0h6m-4 0h6m-5 0h6m-5 0h6m-5 0h6m-5 0h6m-4 0h6m-4 0h6m-4 0h6m-3 0h6m-1 0h6m-5 0h6m-4 0h6m-4 0h6m-4 0h6m0 0h6m-5 0h6m0 0h6m-3 0h6m-95 1h6m-4 0h6m-5 0h6m8 0h6m-3 0h6m-5 0h6m-4 0h6m-5 0h6m-5 0h6m-5 0h6m-3 0h6m-1 0h6m-5 0h6m1 0h6m-5 0h6m-1 0h6m-4 0h6m-5 0h6m-3 0h6m-4 0h6m-5 0h6m-5 0h6m-1 0h6m-5 0h6m-4 0h6m-3 0h6m-5 0h6m1 0h6m-4 0h6m-4 0h6m2 0h6m-4 0h6m-81 1h6m-1 0h6m-4 0h6m-4 0h6m-2 0h6m-5 0h6m-4 0h6m-5 0h6m-5 0h6m-2 0h6m0 0h6m-5 0h6m-4 0h6m-5 0h6m-5 0h6m-3 0h6m-5 0h6m-2 0h6m-2 0h6m-4 0h6m-5 0h6m-4 0h6m-2 0h6m-4 0h6m-5 0h6m-5 0h6m-5 0h6m-96 1h6m16 0h6m0 0h6m1 0h6m-5 0h6m-2 0h6m-4 0h6m-5 0h6m-4 0h6m-4 0h6m-4 0h6m-3 0h6m-5 0h6m-5 0h6m-5 0h6m-5 0h6m-3 0h6m-5 0h6m-5 0h6m-3 0h6m-3 0h6m-5 0h6m-5 0h6m-4 0h6m-4 0h6m-5 0h6m-4 0h6m-5 0h6m-5 0h6m-5 0h6m-5 0h6m-3 0h6m-4 0h6m-5 0h6m1 0h6m-72 1h6m-3 0h6m-5 0h6m-5 0h6m-5 0h6m-2 0h6m-5 0h6m-5 0h6m-3 0h6m-4 0h6m-5 0h6m-4 0h6m-3 0h6m-5 0h6m-5 0h6m-5 0h6m-4 0h6m-4 0h6m-5 0h6m-5 0h6m-5 0h6m-3 0h6m-5 0h6m-5 0h6m-5 0h6m-4 0h6m-3 0h6m-2 0h6m-3 0h6m-2 0h6m-4 0h6m-5 0h6m0 0h6m-4 0h6m-5 0h6m-94 1h6m8 0h6m1 0h6m0 0h6m-3 0h6m-2 0h6m-5 0h6m-5 0h6m-5 0h6m-4 0h6m-5 0h6m-5 0h6m-4 0h6m-4 0h6m-5 0h6m-5 0h6m-5 0h6m-4 0h6m-2 0h6m-4 0h6m-4 0h6m-5 0h6m-5 0h6m-5 0h6m-4 0h6m-4 0h6m-5 0h6m-4 0h6m-3 0h6m-5 0h6m-3 0h6m-2 0h6m-5 0h6m-3 0h6m0 0h6m7 0h6m-98 1h6m2 0h6m-5 0h6m-4 0h6m-5 0h6m-3 0h6m-4 0h6m-5 0h6m-3 0h6m-5 0h6m-3 0h6m-5 0h6m-5 0h6m-5 0h6m-4 0h6m-5 0h6m-5 0h6m-5 0h6m-4 0h6m-4 0h6m-5 0h6m-5 0h6m-5 0h6m-5 0h6m-3 0h6m-5 0h6m-5 0h6m-5 0h6m-5 0h6m-5 0h6m-4 0h6m-5 0h6m-5 0h6m-5 0h6m-4 0h6m2 0h6m-4 0h6m-2 0h6m-5 0h6m-5 0h6m-1 0h6m0 0h6m1 0h6m-102 1h6m-4 0h6m-4 0h6m3 0h6m-3 0h6m-3 0h6m-4 0h6m-2 0h6m-2 0h6m-1 0h6m-3 0h6m-3 0h6m-2 0h6m-5 0h6m-5 0h6m-5 0h6m-5 0h6m-5 0h6m-5 0h6m-4 0h6m-5 0h6m-5 0h6m-5 0h6m-5 0h6m-5 0h6m-5 0h6m-5 0h6m-4 0h6m-3 0h6m-5 0h6m-4 0h6m-5 0h6m-5 0h6m1 0h6m-5 0h6m-5 0h6m-3 0h6m-76 1h6m-5 0h6m-5 0h6m-5 0h6m-1 0h6m-5 0h6m-2 0h6m-4 0h6m-2 0h6m-3 0h6m-3 0h6m-5 0h6m-3 0h6m-5 0h6m-5 0h6m-5 0h6m-5 0h6m-3 0h6m-5 0h6m-5 0h6m-5 0h6m-5 0h6m-5 0h6m-4 0h6m-4 0h6m-5 0h6m-4 0h6m-4 0h6m-5 0h6m-2 0h6m-4 0h6m-5 0h6m-4 0h6m-4 0h6m-5 0h6m2 0h6m-2 0h6m-2 0h6m-5 0h6m-3 0h6m-5 0h6m-110 1h6m4 0h6m0 0h6m3 0h6m-4 0h6m-2 0h6m-1 0h6m-5 0h6m-3 0h6m-5 0h6m-5 0h6m-3 0h6m-5 0h6m-5 0h6m-5 0h6m-3 0h6m-3 0h6m-5 0h6m-2 0h6m-4 0h6m-5 0h6m-5 0h6m-3 0h6m-5 0h6m-3 0h6m-5 0h6m-3 0h6m-5 0h6m-4 0h6m-5 0h6m2 0h6m-5 0h6m0 0h6m-4 0h6m-5 0h6m1 0h6m-1 0h6m-101 1h6m-4 0h6m-2 0h6m-5 0h6m-1 0h6m-4 0h6m-4 0h6m-5 0h6m-5 0h6m-2 0h6m-5 0h6m-5 0h6m-5 0h6m-5 0h6m-4 0h6m-4 0h6m-2 0h6m-5 0h6m-5 0h6m-5 0h6m-5 0h6m-5 0h6m-5 0h6m-5 0h6m-5 0h6m-4 0h6m-5 0h6m-4 0h6m-5 0h6m-5 0h6m-4 0h6m-5 0h6m-5 0h6m-5 0h6m-5 0h6m-5 0h6m-5 0h6m1 0h6m-5 0h6m-3 0h6m-5 0h6m4 0h6m5 0h6m-5 0h6m-101 1h6m-1 0h6m-2 0h6m-5 0h6m-3 0h6m-1 0h6m-1 0h6m-4 0h6m-4 0h6m-5 0h6m-5 0h6m-5 0h6m-5 0h6m-5 0h6m-4 0h6m-5 0h6m-5 0h6m-5 0h6m-5 0h6m-4 0h6m-3 0h6m-4 0h6m-3 0h6m-4 0h6m-5 0h6m-5 0h6m-5 0h6m-5 0h6m-3 0h6m1 0h6m-3 0h6m-2 0h6m0 0h6m-2 0h6m-5 0h6m5 0h6m-4 0h6m-107 1h6m4 0h6m-2 0h6m-5 0h6m-4 0h6m-5 0h6m-4 0h6m-1 0h6m-5 0h6m-2 0h6m-3 0h6m-5 0h6m-5 0h6m-4 0h6m-5 0h6m-5 0h6m-4 0h6m-5 0h6m-4 0h6m-4 0h6m-3 0h6m-4 0h6m-4 0h6m-3 0h6m-4 0h6m-3 0h6m-5 0h6m-3 0h6m-5 0h6m-5 0h6m-5 0h6m-3 0h6m-5 0h6m1 0h6m0 0h6m-5 0h6m-4 0h6m3 0h6m-4 0h6m-95 1h6m-5 0h6m-3 0h6m-1 0h6m-4 0h6m-3 0h6m-3 0h6m-4 0h6m-5 0h6m-5 0h6m-4 0h6m-5 0h6m-5 0h6m-4 0h6m-5 0h6m-4 0h6m-5 0h6m-5 0h6m-5 0h6m-4 0h6m-5 0h6m-4 0h6m-5 0h6m-4 0h6m-4 0h6m-4 0h6m-5 0h6m-4 0h6m-5 0h6m-5 0h6m-5 0h6m-3 0h6m-5 0h6m-5 0h6m-5 0h6m-2 0h6m-3 0h6m-5 0h6m-4 0h6m-5 0h6m2 0h6m-1 0h6m-98 1h6m-5 0h6m-2 0h6m4 0h6m-4 0h6m-4 0h6m-4 0h6m-4 0h6m0 0h6m-4 0h6m-5 0h6m-1 0h6m-5 0h6m-4 0h6m-5 0h6m-5 0h6m-5 0h6m-3 0h6m-5 0h6m-5 0h6m-5 0h6m-5 0h6m-4 0h6m-5 0h6m-4 0h6m-3 0h6m-4 0h6m-4 0h6m-5 0h6m-3 0h6m-5 0h6m-5 0h6m-3 0h6m19 0h6m-2 0h6m-4 0h6m-93 1h6m-4 0h6m-4 0h6m-1 0h6m-4 0h6m-2 0h6m-3 0h6m-4 0h6m-4 0h6m-3 0h6m-4 0h6m-5 0h6m-5 0h6m-3 0h6m-5 0h6m-4 0h6m-5 0h6m-5 0h6m-5 0h6m-4 0h6m-5 0h6m-5 0h6m-1 0h6m-5 0h6m-3 0h6m-4 0h6m-5 0h6m-5 0h6m-5 0h6m-5 0h6m-5 0h6m-3 0h6m-1 0h6m-4 0h6m10 0h6m-86 1h6m-5 0h6m-4 0h6m-5 0h6m-2 0h6m-4 0h6m-4 0h6m-5 0h6m-5 0h6m-3 0h6m-4 0h6m-5 0h6m-4 0h6m-5 0h6m-4 0h6m-4 0h6m-5 0h6m-5 0h6m-3 0h6m-5 0h6m-5 0h6m-4 0h6m-1 0h6m-4 0h6m-5 0h6m-5 0h6m-4 0h6m-4 0h6m-5 0h6m-2 0h6m-1 0h6m-4 0h6m-5 0h6m1 0h6m-5 0h6m1 0h6m-2 0h6m-100 1h6m0 0h6m-3 0h6m1 0h6m-5 0h6m-4 0h6m-4 0h6m-2 0h6m-4 0h6m-5 0h6m-1 0h6m-5 0h6m-5 0h6m-4 0h6m-4 0h6m-5 0h6m-1 0h6m-5 0h6m-5 0h6m-5 0h6m-5 0h6m-4 0h6m-4 0h6m-5 0h6m-4 0h6m-5 0h6m-5 0h6m-5 0h6m-5 0h6m-3 0h6m-2 0h6m-4 0h6m-4 0h6m-4 0h6m-4 0h6m13 0h6m-100 1h6m-4 0h6m-3 0h6m-2 0h6m-4 0h6m-4 0h6m-4 0h6m-5 0h6m-4 0h6m-4 0h6m-5 0h6m-5 0h6m-4 0h6m-4 0h6m-5 0h6m-5 0h6m-3 0h6m-4 0h6m-4 0h6m-4 0h6m-4 0h6m-5 0h6m-4 0h6m-5 0h6m-1 0h6m-3 0h6m-4 0h6m-2 0h6m-5 0h6m-4 0h6m-5 0h6m-5 0h6m-5 0h6m-1 0h6m-3 0h6m3 0h6m-98 1h6m6 0h6m-5 0h6m-5 0h6m7 0h6m-4 0h6m-4 0h6m-2 0h6m-5 0h6m-5 0h6m-4 0h6m-5 0h6m-5 0h6m-5 0h6m-5 0h6m-4 0h6m-5 0h6m-3 0h6m-4 0h6m-3 0h6m-4 0h6m-5 0h6m-5 0h6m-5 0h6m-3 0h6m-4 0h6m-5 0h6m-5 0h6m-5 0h6m-4 0h6m-5 0h6m-5 0h6m-4 0h6m-3 0h6m-5 0h6m-3 0h6m-2 0h6m-2 0h6m5 0h6m-86 1h6m-5 0h6m-2 0h6m-5 0h6m-5 0h6m-5 0h6m-3 0h6m-5 0h6m-4 0h6m-1 0h6m-4 0h6m-5 0h6m-5 0h6m-5 0h6m-5 0h6m-4 0h6m-5 0h6m-1 0h6m-5 0h6m-5 0h6m-5 0h6m-4 0h6m-5 0h6m-5 0h6m-5 0h6m-3 0h6m-2 0h6m-3 0h6m-5 0h6m-5 0h6m-4 0h6m-3 0h6m-5 0h6m10 0h6m3 0h6m-108 1h6m-3 0h6m1 0h6m3 0h6m2 0h6m-4 0h6m-5 0h6m-5 0h6m-5 0h6m-5 0h6m-5 0h6m-2 0h6m-3 0h6m-5 0h6m1 0h6m-5 0h6m-5 0h6m-5 0h6m-3 0h6m-4 0h6m-3 0h6m-4 0h6m0 0h6m-5 0h6m1 0h6m1 0h6m-77 1h6m5 0h6m-5 0h6m-4 0h6m-5 0h6m-5 0h6m-4 0h6m-5 0h6m-2 0h6m-4 0h6m-5 0h6m-5 0h6m-5 0h6m-5 0h6m-5 0h6m-5 0h6m-5 0h6m-4 0h6m-5 0h6m-5 0h6m-4 0h6m-5 0h6m-5 0h6m-5 0h6m-5 0h6m-5 0h6m-5 0h6m-4 0h6m-4 0h6m-5 0h6m-5 0h6m-4 0h6m-5 0h6m-5 0h6m-4 0h6m-1 0h6m1 0h6m-4 0h6m0 0h6m-100 1h6m8 0h6m1 0h6m-3 0h6m-1 0h6m-2 0h6m-5 0h6m-5 0h6m-4 0h6m-5 0h6m-5 0h6m-5 0h6m-5 0h6m-3 0h6m-4 0h6m-4 0h6m-4 0h6m-5 0h6m-5 0h6m-3 0h6m-5 0h6m-4 0h6m-5 0h6m0 0h6m-5 0h6m-5 0h6m-5 0h6m-5 0h6m-3 0h6m-3 0h6m2 0h6m9 0h6m-96 1h6m-3 0h6m-4 0h6m-4 0h6m3 0h6m-5 0h6m-5 0h6m-5 0h6m-5 0h6m-4 0h6m-5 0h6m-5 0h6m-5 0h6m-5 0h6m-5 0h6m-2 0h6m-2 0h6m-4 0h6m-5 0h6m-5 0h6m-5 0h6m-5 0h6m-4 0h6m-3 0h6m-4 0h6m-4 0h6m-5 0h6m-5 0h6m-3 0h6m-3 0h6m-4 0h6m-5 0h6m-2 0h6m-2 0h6m-4 0h6m8 0h6m-85 1h6m-3 0h6m5 0h6m-5 0h6m-2 0h6m-5 0h6m0 0h6m-5 0h6m-5 0h6m-5 0h6m-5 0h6m-5 0h6m-5 0h6m-5 0h6m-5 0h6m-5 0h6m-5 0h6m-5 0h6m-4 0h6m-4 0h6m-5 0h6m-1 0h6m-5 0h6m-5 0h6m-2 0h6m-5 0h6m-5 0h6m-5 0h6m-2 0h6m-4 0h6m-5 0h6m-2 0h6m-89 1h6m5 0h6m-5 0h6m-2 0h6m-4 0h6m3 0h6m-3 0h6m0 0h6m-5 0h6m-5 0h6m-1 0h6m-4 0h6m-4 0h6m-5 0h6m-4 0h6m-4 0h6m-5 0h6m-4 0h6m-2 0h6m-2 0h6m-2 0h6m6 0h6m-2 0h6m-5 0h6m23 0h6m-139 1h6m15 0h6m-2 0h6m11 0h6m-5 0h6m1 0h6m2 0h6m-5 0h6m-5 0h6m3 0h6m-5 0h6m-5 0h6m-5 0h6m-5 0h6m-3 0h6m-5 0h6m-5 0h6m-4 0h6m-3 0h6m-4 0h6m-3 0h6m-4 0h6m0 0h6m-4 0h6m-5 0h6m-5 0h6m1 0h6m-1 0h6m-107 1h6m4 0h6m4 0h6m-4 0h6m-2 0h6m-2 0h6m-1 0h6m-5 0h6m-4 0h6m-3 0h6m-5 0h6m1 0h6m-4 0h6m-3 0h6m-2 0h6m-5 0h6m-4 0h6m-4 0h6m-5 0h6m-3 0h6m-5 0h6m-5 0h6m-5 0h6m-5 0h6m-5 0h6m-5 0h6m-5 0h6m-5 0h6m-2 0h6m-3 0h6m-4 0h6m-5 0h6m-5 0h6m4 0h6m-85 1h6m0 0h6m4 0h6m-2 0h6m-3 0h6m-2 0h6m-5 0h6m-5 0h6m-5 0h6m2 0h6m-4 0h6m-5 0h6m-5 0h6m-5 0h6m-4 0h6m-5 0h6m0 0h6m-5 0h6m-1 0h6m-3 0h6m-5 0h6m1 0h6m-1 0h6m-89 1h6m-3 0h6m8 0h6m6 0h6m-1 0h6m-5 0h6m-3 0h6m0 0h6m-3 0h6m-2 0h6m-4 0h6m-3 0h6m-4 0h6m-3 0h6m-3 0h6m-3 0h6m-4 0h6m-5 0h6m-4 0h6m-2 0h6m-4 0h6m-3 0h6m24 0h6m-113 1h6m-2 0h6m-5 0h6m-2 0h6m3 0h6m-5 0h6m2 0h6m-2 0h6m-4 0h6m-5 0h6m-3 0h6m-3 0h6m-5 0h6m2 0h6m-5 0h6m-5 0h6m0 0h6m-4 0h6m6 0h6m2 0h6m-3 0h6m-5 0h6m1 0h6m-108 1h6m0 0h6m3 0h6m0 0h6m-5 0h6m8 0h6m2 0h6m-1 0h6m-4 0h6m-2 0h6m-5 0h6m-4 0h6m-3 0h6m-5 0h6m-2 0h6m-5 0h6m-4 0h6m-5 0h6m-1 0h6m-5 0h6m-2 0h6m-1 0h6m-4 0h6m6 0h6m-93 1h6m11 0h6m2 0h6m-1 0h6m0 0h6m-4 0h6m-5 0h6m1 0h6m-5 0h6m-5 0h6m-5 0h6m-4 0h6m-1 0h6m-2 0h6m-4 0h6m4 0h6m-1 0h6m10 0h6m-127 1h6m-1 0h6m1 0h6m2 0h6m-3 0h6m-3 0h6m-1 0h6m-5 0h6m-5 0h6m-5 0h6m-5 0h6m-5 0h6m-5 0h6m-4 0h6m-5 0h6m-5 0h6m-5 0h6m-5 0h6m-5 0h6m-5 0h6m-5 0h6m-5 0h6m-5 0h6m-5 0h6m-5 0h6m-5 0h6m-5 0h6m-5 0h6m-5 0h6m-5 0h6m-5 0h6m-5 0h6m-5 0h6m-5 0h6m-5 0h6m-5 0h6m-5 0h6m-5 0h6m-5 0h6m-5 0h6m-5 0h6m-5 0h6m-5 0h6m-5 0h6m-5 0h6m-5 0h6m-5 0h6m-5 0h6m-5 0h6m-5 0h6m-5 0h6m-5 0h6m-5 0h6m-5 0h6m-5 0h6m-5 0h6m-5 0h6m-5 0h6m-5 0h6m-5 0h6m-5 0h6m-5 0h6m-5 0h6m-5 0h6m-5 0h6m-5 0h6m-5 0h6m-5 0h6m-2 0h6m-5 0h6m-5 0h6m-5 0h6m-4 0h6m-5 0h6m-2 0h6m-5 0h6m-4 0h6m-4 0h6m-1 0h6m10 0h6" stroke-width="6"/><path d="M153 48h4m-56 1h4m-1 0h4m5 1h4m50 0h4m-50 1h4m48 1h4m-60 2h4m13 0h4m27 0h4m-47 1h4m-16 1h4m3 0h4m-18 1h4m6 0h4m22 0h4m84 2h4m-150 1h4m62 0h4m-21 1h4m12 0h4m-61 1h4m18 0h4m19 0h4m53 0h4m-67 1h4m24 0h4m-71 2h4m47 0h4m-2 0h4m16 0h4m-55 1h4m21 1h4m-1 0h4m-83 1h4m91 0h4m13 0h4m-90 1h4m27 0h4m26 0h4m15 1h4m4 0h4m-72 1h4m15 0h4m7 0h4m7 0h4m10 0h4m14 0h4m-52 1h4m23 0h4m-2 0h4m-2 0h4m-67 1h4m17 0h4m-1 0h4m-3 0h4m12 0h4m2 0h4m21 0h4m-59 1h4m32 0h4m24 0h4m-61 1h4m0 0h4m17 0h4m5 0h4m0 0h4m-67 1h4m24 0h4m4 0h4m15 0h4m-2 0h4m-26 1h4m14 0h4m-33 1h4m20 0h4m-22 1h4m-2 0h4m7 0h4m1 0h4m-66 1h4m47 0h4m3 0h4m-2 0h4m5 0h4m-53 1h4m2 0h4m18 0h4m-3 0h4m17 0h4m12 0h4m-113 1h4m83 0h4m8 0h4m61 0h4m-169 1h4m42 0h4m5 0h4m11 0h4m0 0h4m17 0h4m20 0h4m-3 0h4m-123 1h4m50 0h4m30 0h4m0 0h4m-96 1h4m14 0h4m15 0h4m22 0h4m9 0h4m12 0h4m10 0h4m-51 1h4m5 0h4m18 0h4m-91 1h4m21 0h4m68 0h4m-109 1h4m0 0h4m45 0h4m5 0h4m1 0h4m23 0h4m-106 1h4m9 0h4m1 0h4m30 0h4m36 0h4m9 0h4m-49 1h4m3 0h4m13 0h4m-83 1h4m49 0h4m-1 0h4m7 0h4m51 0h4m-141 1h4m-3 0h4m20 0h4m18 0h4m47 0h4m3 0h4m30 0h4m-44 1h4m10 0h4m15 0h4m5 1h4m-71 1h4m49 0h4m0 0h4m-68 1h4m46 0h4m2 0h4m1 0h4m-44 1h4m19 0h4m1 0h4m-103 1h4m63 1h4m29 0h4m4 0h4m-2 0h4m-3 0h4m4 0h4m1 0h4m-148 1h4m107 1h4m6 0h4m-7 1h4m0 0h4m12 0h4m-22 1h4m1 0h4m-6 1h4m-92 1h4m88 0h4m-115 1h4m110 0h4m-1 0h4m-125 1h4m17 0h4m86 0h4m-91 1h4m87 1h4m-3 0h4m-113 1h4m106 0h4m2 0h4m-151 1h4m129 0h4m11 0h4m-97 1h4m74 0h4m9 0h4m-3 0h4m-149 1h4m118 0h4m9 0h4m-2 0h4m3 0h4m-1 0h4m-122 1h4m95 0h4m-70 1h4m62 0h4m7 0h4m-3 0h4m-117 1h4m12 0h4m83 0h4m8 0h4m-25 1h4m2 0h4m5 0h4m-10 1h4m0 0h4m0 0h4m-17 1h4m2 0h4m0 1h4m4 0h4m-106 1h4m78 0h4m-1 0h4m2 0h4m13 0h4m-3 1h4m-18 1h4m-2 0h4m1 0h4m-24 1h4m12 0h4m-3 0h4m1 0h4m-19 1h4m7 0h4m-12 1h4m-3 0h4m-17 1h4m-10 1h4m4 0h4m4 0h4m7 0h4m-25 1h4m-2 0h4m-5 1h4m-3 0h4m-3 2h4m0 0h4m6 0h4m-16 1h4m-2 0h4m1 0h4m-12 1h4m2 0h4m5 0h4m-20 1h4m4 0h4m-1 0h4m-24 1h4m3 0h4m11 4h4m-15 2h4m16 0h4m-26 1h4m3 1h4m8 0h4m-14 4h4m4 0h4m7 1h4m-45 2h4m13 4h4m-14 4h4m9 1h4m2 3h4m5 2h4m6 0h4m-25 2h4m9 1h4m8 0h4m-1 2h4m-33 1h4m20 0h4m-9 1h4m-1 0h4m-33 2h4m7 2h4m10 0h4m-21 1h4m8 0h4m-14 1h4m28 0h4m-20 2h4m-23 3h4m27 2h4m-23 2h4m2 1h4m-8 1h4m4 5h4m-33 1h4m22 1h4m-25 3h4m24 0h4m-18 1h4m26 0h4m-23 2h4m-12 10h4m-19 3h4m9 3h4m5 0h4m5 0h4" stroke-width="4"/></g>
<g font-size="7" fill="#000" stroke="#000" stroke-width=".22">
<text x="53.2" y="13.4">3.8%</text>
<text x="2.3" y="40.7">69.0</text>
<text x="2.8" y="48.4">%</text>
<text x="49.1" y="47.3">26.8%</text>
</g>
</g>
<g transform="translate(438.22 201.4)">
<path d="M0 0H73.4V55.7" fill="none" stroke="#333" stroke-width="1"/>
<path d="M23.2 0V55.7M0 34.5H73.4" fill="none" stroke="#111" stroke-width="1.25"/>
<path d="M0.15 -0.5V56.5" stroke="#000" stroke-width="1.8" fill="none"/>
<path d="M-1.3 55.7H73.9" stroke="#000" stroke-width="2.1" fill="none"/>
<path d="M0.2 55.7v2.9M0 55.4h-2.7M5.7 55.7v2.1M0 51.2h-1.8M8.9 55.7v2.1M0 48.8h-1.8M11.2 55.7v2.1M0 47.1h-1.8M12.9 55.7v2.1M0 45.7h-1.8M14.4 55.7v2.1M0 44.6h-1.8M15.6 55.7v2.1M0 43.7h-1.8M16.6 55.7v2.1M0 42.9h-1.8M17.6 55.7v2.1M0 42.2h-1.8M18.4 55.7v2.9M0 41.6h-2.7M23.9 55.7v2.1M0 37.4h-1.8M27.1 55.7v2.1M0 34.9h-1.8M29.4 55.7v2.1M0 33.2h-1.8M31.1 55.7v2.1M0 31.9h-1.8M32.6 55.7v2.1M0 30.8h-1.8M33.8 55.7v2.1M0 29.8h-1.8M34.8 55.7v2.1M0 29.0h-1.8M35.8 55.7v2.1M0 28.3h-1.8M36.6 55.7v2.9M0 27.7h-2.7M42.1 55.7v2.1M0 23.5h-1.8M45.3 55.7v2.1M0 21.1h-1.8M47.6 55.7v2.1M0 19.4h-1.8M49.3 55.7v2.1M0 18.0h-1.8M50.8 55.7v2.1M0 16.9h-1.8M52.0 55.7v2.1M0 16.0h-1.8M53.0 55.7v2.1M0 15.2h-1.8M54.0 55.7v2.1M0 14.5h-1.8M54.8 55.7v2.9M0 13.9h-2.7M60.3 55.7v2.1M0 9.7h-1.8M63.5 55.7v2.1M0 7.2h-1.8M65.8 55.7v2.1M0 5.5h-1.8M67.5 55.7v2.1M0 4.2h-1.8M69.0 55.7v2.1M0 3.1h-1.8M70.2 55.7v2.1M0 2.1h-1.8M71.2 55.7v2.1M0 1.3h-1.8M72.2 55.7v2.1M0 0.6h-1.8M73.0 55.7v2.9M0 0.0h-2.7" stroke="#000" stroke-width="1" fill="none"/>
<g font-size="8.6" font-weight="bold" fill="#000" stroke="#000" stroke-width=".25">
<text transform="translate(-3.4 67.0) scale(.7 1)">10<tspan dx=".9" dy="-4.3" font-size="8">0</tspan></text>
<text transform="translate(-4.4 59.8) rotate(-90) scale(.7 1)">10<tspan dx=".9" dy="-4.3" font-size="8">0</tspan></text>
<text transform="translate(14.8 67.0) scale(.7 1)">10<tspan dx=".9" dy="-4.3" font-size="8">1</tspan></text>
<text transform="translate(-4.4 46.0) rotate(-90) scale(.7 1)">10<tspan dx=".9" dy="-4.3" font-size="8">1</tspan></text>
<text transform="translate(33.0 67.0) scale(.7 1)">10<tspan dx=".9" dy="-4.3" font-size="8">2</tspan></text>
<text transform="translate(-4.4 32.1) rotate(-90) scale(.7 1)">10<tspan dx=".9" dy="-4.3" font-size="8">2</tspan></text>
<text transform="translate(51.2 67.0) scale(.7 1)">10<tspan dx=".9" dy="-4.3" font-size="8">3</tspan></text>
<text transform="translate(-4.4 18.2) rotate(-90) scale(.7 1)">10<tspan dx=".9" dy="-4.3" font-size="8">3</tspan></text>
<text transform="translate(69.4 67.0) scale(.7 1)">10<tspan dx=".9" dy="-4.3" font-size="8">4</tspan></text>
<text transform="translate(-4.4 4.4) rotate(-90) scale(.7 1)">10<tspan dx=".9" dy="-4.3" font-size="8">4</tspan></text>
</g>
<text x="36.2" y="72.9" text-anchor="middle" font-size="6.2" font-weight="bold" fill="#000">AnnexinY-FITC</text>
<text transform="translate(-14.5 28.7) rotate(-90)" text-anchor="middle" font-size="6.6" font-weight="bold" fill="#000" stroke="#000" stroke-width=".2">PI</text>
<g transform="scale(.25)" stroke="#000" fill="none"><path d="M42 186h6m27 0h6m-6 2h6m-10 2h6m-19 1h6m-5 0h6m3 0h6m-38 1h6m3 0h6m12 0h6m-3 0h6m11 0h6m-39 1h6m7 0h6m-8 1h6m-13 1h6m3 0h6m-2 0h6m-5 0h6m10 0h6m3 0h6m-61 1h6m9 0h6m-1 0h6m-5 0h6m3 0h6m-5 0h6m-3 0h6m0 0h6m-3 0h6m6 0h6m-53 1h6m-2 0h6m2 0h6m-3 0h6m10 0h6m8 0h6m-38 1h6m-5 0h6m-3 0h6m-4 0h6m-4 0h6m-2 0h6m8 0h6m1 0h6m-53 1h6m-1 0h6m-3 0h6m5 0h6m-3 0h6m5 0h6m-2 0h6m-5 0h6m-34 1h6m-5 0h6m-2 0h6m0 0h6m-5 0h6m-4 0h6m-4 0h6m-3 0h6m-4 0h6m-4 0h6m-5 0h6m4 0h6m-3 0h6m-37 1h6m-5 0h6m-4 0h6m1 0h6m-4 0h6m4 0h6m2 0h6m-56 1h6m5 0h6m-3 0h6m-4 0h6m1 0h6m-5 0h6m-3 0h6m1 0h6m-4 0h6m-3 0h6m-4 0h6m-4 0h6m-1 0h6m-47 1h6m-1 0h6m-5 0h6m5 0h6m8 0h6m-5 0h6m-1 0h6m-46 1h6m-4 0h6m10 0h6m-3 0h6m-4 0h6m-5 0h6m-4 0h6m-4 0h6m0 0h6m-5 0h6m-2 0h6m0 0h6m-2 0h6m-5 0h6m-48 1h6m-1 0h6m-5 0h6m-4 0h6m0 0h6m-4 0h6m-5 0h6m-1 0h6m-3 0h6m2 0h6m-5 0h6m1 0h6m-5 0h6m-57 1h6m1 0h6m-5 0h6m-5 0h6m-2 0h6m6 0h6m-5 0h6m-2 0h6m1 0h6m-5 0h6m-3 0h6m-4 0h6m-1 0h6m1 0h6m-67 1h6m2 0h6m-2 0h6m-4 0h6m-4 0h6m-5 0h6m-5 0h6m-4 0h6m-3 0h6m-2 0h6m-4 0h6m-4 0h6m-5 0h6m-4 0h6m2 0h6m-3 0h6m2 0h6m-1 0h6m-3 0h6m-63 1h6m-4 0h6m4 0h6m-3 0h6m-4 0h6m3 0h6m-3 0h6m-2 0h6m-5 0h6m-5 0h6m-2 0h6m-5 0h6m-3 0h6m13 0h6m-53 1h6m-2 0h6m-3 0h6m-2 0h6m-4 0h6m-5 0h6m-1 0h6m14 0h6m-2 0h6m-55 1h6m-5 0h6m0 0h6m-1 0h6m-5 0h6m2 0h6m-3 0h6m1 0h6m1 0h6m1 0h6m-60 1h6m8 0h6m-1 0h6m-3 0h6m2 0h6m-5 0h6m-4 0h6m8 0h6m-3 0h6m-57 1h6m7 0h6m6 0h6m0 0h6m-4 0h6m-5 0h6m-2 0h6m-5 0h6m-5 0h6m-5 0h6m-3 0h6m-5 0h6m-49 1h6m0 0h6m3 0h6m-5 0h6m7 0h6m-3 0h6m-2 0h6m-3 0h6m-4 0h6m1 0h6m-4 0h6m-5 0h6m-45 1h6m-3 0h6m-1 0h6m-4 0h6m-4 0h6m0 0h6m-4 0h6m-5 0h6m0 0h6m-42 1h6m5 0h6m-4 0h6m-4 0h6m-4 0h6m-5 0h6m-2 0h6m-1 0h6m5 0h6m-41 1h6m-5 0h6m5 0h6m-5 0h6m-2 0h6m-5 0h6m-3 0h6m-3 0h6m-3 0h6m7 0h6m-47 1h6m8 0h6m-4 0h6m-4 0h6m-5 0h6m-3 0h6m-2 0h6m10 0h6m-56 1h6m0 0h6m-5 0h6m-2 0h6m-3 0h6m-5 0h6m-5 0h6m-3 0h6m-4 0h6m-5 0h6m-5 0h6m-5 0h6m-5 0h6m-5 0h6m-5 0h6m-5 0h6m-5 0h6m-4 0h6m-5 0h6m-5 0h6m-3 0h6m-4 0h6m-5 0h6m-5 0h6m-4 0h6m1 0h6m-3 0h6m-4 0h6m-3 0h6" stroke-width="6"/><path d="M135 42h4m34 0h4m-39 5h4m-10 11h4m-2 1h4m-3 0h4m1 0h4m9 2h4m-50 1h4m6 2h4m-2 0h4m-21 1h4m-9 1h4m42 3h4m-4 2h4m-29 1h4m10 0h4m-2 0h4m-1 0h4m4 0h4m-26 1h4m5 0h4m-4 1h4m25 0h4m-33 1h4m5 1h4m-3 0h4m-11 1h4m8 0h4m0 0h4m-24 1h4m0 0h4m-1 0h4m-30 1h4m6 0h4m3 1h4m7 0h4m2 0h4m-3 1h4m-41 1h4m12 0h4m-1 1h4m9 0h4m1 0h4m14 0h4m-46 1h4m5 0h4m10 0h4m-6 2h4m0 0h4m-3 0h4m2 0h4m-10 1h4m4 0h4m-32 1h4m2 0h4m-1 0h4m0 0h4m-49 1h4m7 0h4m-2 0h4m3 1h4m-2 2h4m-12 1h4m1 0h4m7 0h4m6 0h4m4 0h4m11 0h4m-27 1h4m2 0h4m6 0h4m0 0h4m-32 2h4m11 0h4m0 0h4m-1 0h4m-30 1h4m4 0h4m3 0h4m-42 1h4m17 0h4m25 0h4m-37 1h4m23 0h4m-33 1h4m1 0h4m-2 0h4m0 1h4m-1 0h4m-2 0h4m28 0h4m-59 1h4m22 0h4m5 0h4m0 0h4m4 0h4m-50 1h4m14 0h4m6 0h4m-2 0h4m-2 0h4m19 0h4m-35 1h4m5 0h4m8 0h4m1 0h4m-45 1h4m-12 1h4m10 0h4m-1 0h4m0 0h4m8 0h4m-2 0h4m-25 1h4m10 0h4m-1 0h4m4 0h4m6 0h4m-27 1h4m-28 1h4m11 0h4m3 0h4m-1 0h4m0 0h4m1 0h4m5 0h4m-39 1h4m-3 0h4m8 0h4m-20 1h4m16 0h4m1 0h4m7 0h4m-45 1h4m14 0h4m-3 0h4m25 0h4m-31 1h4m21 0h4m-1 0h4m10 0h4m-89 1h4m29 0h4m14 0h4m4 0h4m-3 0h4m0 0h4m6 0h4m-86 1h4m22 0h4m7 0h4m8 0h4m5 0h4m-3 0h4m-55 1h4m41 0h4m0 0h4m1 0h4m20 0h4m-49 1h4m6 0h4m7 0h4m-3 0h4m-1 0h4m-3 0h4m-23 1h4m7 0h4m2 0h4m-36 1h4m8 0h4m6 0h4m-1 0h4m6 0h4m-2 0h4m1 0h4m8 0h4m-48 1h4m4 0h4m1 0h4m9 0h4m38 0h4m-80 1h4m20 0h4m5 0h4m-22 1h4m8 0h4m-2 0h4m2 0h4m-37 1h4m1 0h4m15 0h4m-2 0h4m-3 0h4m-30 1h4m2 0h4m1 0h4m15 0h4m-52 1h4m9 0h4m2 0h4m3 0h4m0 0h4m0 0h4m-1 0h4m-3 0h4m-1 0h4m-3 0h4m-34 1h4m-3 0h4m11 0h4m-3 0h4m14 0h4m-38 1h4m8 0h4m-2 0h4m2 0h4m-1 0h4m14 0h4m-87 1h4m24 0h4m5 0h4m11 0h4m1 0h4m1 0h4m-2 0h4m-3 0h4m-39 1h4m10 0h4m-1 0h4m-3 0h4m2 0h4m-2 0h4m7 0h4m5 0h4m-56 1h4m23 0h4m0 0h4m4 0h4m2 0h4m12 0h4m-163 1h4m114 0h4m10 0h4m3 0h4m12 0h4m10 0h4m-82 1h4m16 0h4m6 0h4m1 0h4m0 0h4m7 0h4m5 0h4m19 0h4m-80 1h4m26 0h4m1 0h4m0 0h4m-1 0h4m-3 0h4m4 0h4m-46 1h4m7 0h4m6 0h4m5 0h4m-3 0h4m2 0h4m-31 1h4m1 0h4m-1 0h4m22 0h4m6 0h4m-67 1h4m18 0h4m6 0h4m6 0h4m-3 0h4m-1 0h4m7 0h4m9 0h4m-34 1h4m-2 0h4m4 0h4m7 0h4m-51 1h4m9 0h4m-2 0h4m3 0h4m-1 0h4m-3 0h4m14 0h4m6 0h4m6 0h4m-72 1h4m13 0h4m-2 0h4m1 0h4m6 0h4m5 0h4m-43 1h4m18 0h4m4 0h4m-2 0h4m1 0h4m0 0h4m-45 1h4m3 0h4m-1 0h4m0 0h4m19 0h4m22 0h4m-53 1h4m-2 0h4m1 0h4m0 0h4m22 0h4m-50 1h4m-1 0h4m9 0h4m10 0h4m-132 1h4m101 0h4m-1 0h4m3 0h4m-2 0h4m11 0h4m1 0h4m6 0h4m-61 1h4m6 0h4m7 0h4m-1 0h4m9 0h4m6 0h4m-39 1h4m6 0h4m0 0h4m6 0h4m5 0h4m-45 1h4m10 0h4m3 0h4m22 0h4m17 0h4m-63 1h4m3 0h4m3 1h4m3 0h4m-1 0h4m4 0h4m-3 0h4m-3 0h4m6 0h4m-131 1h4m81 0h4m6 0h4m4 0h4m-2 0h4m-2 0h4m-3 0h4m-38 1h4m-3 0h4m8 0h4m6 0h4m-2 0h4m19 0h4m-73 1h4m26 0h4m14 0h4m4 0h4m1 0h4m-44 1h4m14 0h4m1 0h4m-2 0h4m7 0h4m-1 0h4m-46 1h4m19 0h4m3 0h4m0 0h4m-2 0h4m-23 1h4m5 0h4m16 0h4m-87 1h4m40 0h4m13 0h4m7 0h4m0 0h4m-22 1h4m8 0h4m-2 0h4m2 0h4m24 0h4m-54 1h4m0 0h4m-2 0h4m1 0h4m0 0h4m-1 0h4m-2 0h4m0 0h4m-2 0h4m14 0h4m-102 1h4m42 0h4m7 0h4m0 0h4m15 0h4m-50 1h4m10 0h4m15 0h4m-2 0h4m1 0h4m-3 0h4m-3 0h4m-22 1h4m2 0h4m15 0h4m-22 1h4m-38 1h4m14 0h4m2 0h4m5 0h4m0 0h4m12 0h4m-1 0h4m-107 1h4m10 0h4m48 0h4m2 0h4m2 0h4m3 0h4m-60 1h4m43 0h4m3 0h4m17 0h4m-2 0h4m-3 0h4m-36 1h4m-2 0h4m-1 0h4m-1 0h4m-35 1h4m16 0h4m2 0h4m6 0h4m-3 0h4m14 0h4m-35 1h4m5 0h4m0 0h4m-68 1h4m62 0h4m-3 0h4m4 1h4m-34 1h4m-2 0h4m4 0h4m-1 0h4m1 0h4m-3 0h4m-34 2h4m0 0h4m1 0h4m2 0h4m30 0h4m-61 1h4m7 0h4m9 0h4m6 0h4m-1 0h4m-68 1h4m59 0h4m-88 1h4m58 0h4m8 0h4m-4 1h4m3 0h4m-2 0h4m15 0h4m-167 2h4m1 0h4m154 0h4m-70 1h4m28 0h4m5 1h4m-2 0h4m23 0h4m-60 1h4m3 0h4m4 0h4m3 0h4m0 0h4m4 0h4m-21 1h4m10 0h4m-137 1h4m131 0h4m-2 0h4m-32 1h4m-29 1h4m-29 2h4m35 0h4m44 0h4m-28 3h4m2 1h4m10 0h4m-3 0h4m-32 1h4m11 0h4m-116 1h4m88 0h4m6 0h4m-30 1h4m15 1h4m4 0h4m-3 4h4m7 1h4m10 2h4m11 1h4m-48 2h4m-3 3h4m3 4h4m-14 1h4m-10 3h4m24 0h4m-81 1h4m-1 0h4m35 0h4m2 0h4m4 0h4m-3 0h4m-2 0h4m1 0h4m9 0h4m1 0h4m13 0h4" stroke-width="4"/></g>
<g font-size="7" fill="#000" stroke="#000" stroke-width=".22">
<text x="50.5" y="20.1">1.5%</text>
<text x="2.9" y="42.6">52.7</text>
<text x="3.7" y="50.3">%</text>
<text x="50.0" y="46.5">45.8%</text>
</g>
</g>
<g transform="translate(129.01 285.1)">
<path d="M0 0H73.4V55.7" fill="none" stroke="#333" stroke-width="1"/>
<path d="M23.2 0V55.7M0 34.5H73.4" fill="none" stroke="#111" stroke-width="1.25"/>
<path d="M0.15 -0.5V56.5" stroke="#000" stroke-width="1.8" fill="none"/>
<path d="M-1.3 55.7H73.9" stroke="#000" stroke-width="2.1" fill="none"/>
<path d="M0.2 55.7v2.9M0 55.4h-2.7M5.7 55.7v2.1M0 51.2h-1.8M8.9 55.7v2.1M0 48.8h-1.8M11.2 55.7v2.1M0 47.1h-1.8M12.9 55.7v2.1M0 45.7h-1.8M14.4 55.7v2.1M0 44.6h-1.8M15.6 55.7v2.1M0 43.7h-1.8M16.6 55.7v2.1M0 42.9h-1.8M17.6 55.7v2.1M0 42.2h-1.8M18.4 55.7v2.9M0 41.6h-2.7M23.9 55.7v2.1M0 37.4h-1.8M27.1 55.7v2.1M0 34.9h-1.8M29.4 55.7v2.1M0 33.2h-1.8M31.1 55.7v2.1M0 31.9h-1.8M32.6 55.7v2.1M0 30.8h-1.8M33.8 55.7v2.1M0 29.8h-1.8M34.8 55.7v2.1M0 29.0h-1.8M35.8 55.7v2.1M0 28.3h-1.8M36.6 55.7v2.9M0 27.7h-2.7M42.1 55.7v2.1M0 23.5h-1.8M45.3 55.7v2.1M0 21.1h-1.8M47.6 55.7v2.1M0 19.4h-1.8M49.3 55.7v2.1M0 18.0h-1.8M50.8 55.7v2.1M0 16.9h-1.8M52.0 55.7v2.1M0 16.0h-1.8M53.0 55.7v2.1M0 15.2h-1.8M54.0 55.7v2.1M0 14.5h-1.8M54.8 55.7v2.9M0 13.9h-2.7M60.3 55.7v2.1M0 9.7h-1.8M63.5 55.7v2.1M0 7.2h-1.8M65.8 55.7v2.1M0 5.5h-1.8M67.5 55.7v2.1M0 4.2h-1.8M69.0 55.7v2.1M0 3.1h-1.8M70.2 55.7v2.1M0 2.1h-1.8M71.2 55.7v2.1M0 1.3h-1.8M72.2 55.7v2.1M0 0.6h-1.8M73.0 55.7v2.9M0 0.0h-2.7" stroke="#000" stroke-width="1" fill="none"/>
<g font-size="8.6" font-weight="bold" fill="#000" stroke="#000" stroke-width=".25">
<text transform="translate(-3.4 67.0) scale(.7 1)">10<tspan dx=".9" dy="-4.3" font-size="8">0</tspan></text>
<text transform="translate(-4.4 59.8) rotate(-90) scale(.7 1)">10<tspan dx=".9" dy="-4.3" font-size="8">0</tspan></text>
<text transform="translate(14.8 67.0) scale(.7 1)">10<tspan dx=".9" dy="-4.3" font-size="8">1</tspan></text>
<text transform="translate(-4.4 46.0) rotate(-90) scale(.7 1)">10<tspan dx=".9" dy="-4.3" font-size="8">1</tspan></text>
<text transform="translate(33.0 67.0) scale(.7 1)">10<tspan dx=".9" dy="-4.3" font-size="8">2</tspan></text>
<text transform="translate(-4.4 32.1) rotate(-90) scale(.7 1)">10<tspan dx=".9" dy="-4.3" font-size="8">2</tspan></text>
<text transform="translate(51.2 67.0) scale(.7 1)">10<tspan dx=".9" dy="-4.3" font-size="8">3</tspan></text>
<text transform="translate(-4.4 18.2) rotate(-90) scale(.7 1)">10<tspan dx=".9" dy="-4.3" font-size="8">3</tspan></text>
<text transform="translate(69.4 67.0) scale(.7 1)">10<tspan dx=".9" dy="-4.3" font-size="8">4</tspan></text>
<text transform="translate(-4.4 4.4) rotate(-90) scale(.7 1)">10<tspan dx=".9" dy="-4.3" font-size="8">4</tspan></text>
</g>
<text x="36.2" y="72.9" text-anchor="middle" font-size="6.2" font-weight="bold" fill="#000">AnnexinY-FITC</text>
<text transform="translate(-14.5 28.7) rotate(-90)" text-anchor="middle" font-size="6.6" font-weight="bold" fill="#000" stroke="#000" stroke-width=".2">PI</text>
<g transform="scale(.25)" stroke="#000" fill="none"><path d="M85 161h6m-23 9h6m-13 1h6m-22 1h6m30 2h6m-54 3h6m33 0h6m-34 1h6m22 0h6m-36 1h6m43 1h6m6 0h6m-77 1h6m26 0h6m-2 0h6m2 0h6m8 0h6m-57 1h6m14 0h6m-41 1h6m16 0h6m-4 0h6m0 0h6m34 0h6m-84 1h6m9 0h6m1 0h6m4 0h6m4 0h6m-2 0h6m-5 0h6m-3 0h6m-5 0h6m-5 0h6m2 0h6m-5 0h6m-47 1h6m14 0h6m9 0h6m2 0h6m6 0h6m-67 1h6m2 0h6m3 0h6m-4 0h6m-1 0h6m-4 0h6m3 0h6m-5 0h6m1 0h6m-5 0h6m6 0h6m15 0h6m-92 1h6m18 0h6m11 0h6m-5 0h6m-2 0h6m3 0h6m-3 0h6m-1 0h6m6 0h6m13 0h6m-97 1h6m9 0h6m-5 0h6m9 0h6m-5 0h6m0 0h6m2 0h6m-2 0h6m-5 0h6m8 0h6m-5 0h6m-3 0h6m-40 1h6m-4 0h6m3 0h6m-5 0h6m-5 0h6m-2 0h6m-5 0h6m-1 0h6m-1 0h6m-70 1h6m1 0h6m17 0h6m0 0h6m-5 0h6m3 0h6m1 0h6m-2 0h6m-4 0h6m-5 0h6m4 0h6m-51 1h6m1 0h6m-5 0h6m1 0h6m-3 0h6m0 0h6m-4 0h6m-3 0h6m-2 0h6m-5 0h6m2 0h6m14 0h6m-87 1h6m-3 0h6m7 0h6m-1 0h6m-3 0h6m-5 0h6m-5 0h6m2 0h6m-4 0h6m-4 0h6m-5 0h6m-1 0h6m-1 0h6m-5 0h6m-3 0h6m6 0h6m-81 1h6m19 0h6m0 0h6m-4 0h6m1 0h6m-5 0h6m-5 0h6m-5 0h6m-4 0h6m-2 0h6m-5 0h6m-3 0h6m-5 0h6m-5 0h6m-2 0h6m7 0h6m7 0h6m3 0h6m-87 1h6m6 0h6m-5 0h6m0 0h6m-4 0h6m0 0h6m0 0h6m-3 0h6m-5 0h6m-5 0h6m-3 0h6m0 0h6m-4 0h6m-5 0h6m-3 0h6m-4 0h6m-2 0h6m10 0h6m-79 1h6m7 0h6m-5 0h6m-1 0h6m-4 0h6m-5 0h6m-5 0h6m-3 0h6m-4 0h6m-3 0h6m-4 0h6m-5 0h6m-5 0h6m-4 0h6m-5 0h6m-4 0h6m1 0h6m-5 0h6m-5 0h6m0 0h6m2 0h6m2 0h6m-83 1h6m3 0h6m-3 0h6m4 0h6m-5 0h6m-3 0h6m-4 0h6m-5 0h6m0 0h6m-3 0h6m-5 0h6m-3 0h6m-5 0h6m-4 0h6m-2 0h6m-4 0h6m-5 0h6m-3 0h6m-4 0h6m-5 0h6m-3 0h6m-5 0h6m1 0h6m-4 0h6m-64 1h6m-4 0h6m0 0h6m-5 0h6m-4 0h6m-1 0h6m-2 0h6m-4 0h6m1 0h6m-3 0h6m-5 0h6m-4 0h6m-4 0h6m-2 0h6m-5 0h6m-5 0h6m-2 0h6m-1 0h6m3 0h6m6 0h6m-95 1h6m3 0h6m-5 0h6m-2 0h6m-3 0h6m0 0h6m-4 0h6m-2 0h6m-5 0h6m-5 0h6m-4 0h6m-3 0h6m0 0h6m-5 0h6m-4 0h6m-2 0h6m-5 0h6m-5 0h6m3 0h6m-5 0h6m-4 0h6m-3 0h6m-1 0h6m1 0h6m-3 0h6m-5 0h6m-97 1h6m5 0h6m-4 0h6m-2 0h6m-1 0h6m0 0h6m-5 0h6m-4 0h6m-5 0h6m-4 0h6m-2 0h6m-2 0h6m-4 0h6m-5 0h6m-5 0h6m-3 0h6m-4 0h6m-5 0h6m-5 0h6m-4 0h6m-4 0h6m-5 0h6m-3 0h6m-5 0h6m-5 0h6m-5 0h6m-3 0h6m-4 0h6m-3 0h6m-5 0h6m-3 0h6m-2 0h6m-4 0h6m-5 0h6m-5 0h6m-4 0h6m-3 0h6m-3 0h6m-89 1h6m-1 0h6m-1 0h6m-3 0h6m-5 0h6m-5 0h6m-2 0h6m1 0h6m-4 0h6m-5 0h6m-4 0h6m-5 0h6m-1 0h6m-5 0h6m-4 0h6m-4 0h6m-1 0h6m-5 0h6m-5 0h6m-3 0h6m-3 0h6m-5 0h6m-4 0h6m-5 0h6m-4 0h6m-5 0h6m-5 0h6m-3 0h6m-3 0h6m-1 0h6m3 0h6m3 0h6m-101 1h6m0 0h6m-3 0h6m2 0h6m-1 0h6m-1 0h6m-4 0h6m-5 0h6m-5 0h6m-4 0h6m-4 0h6m-4 0h6m-5 0h6m-5 0h6m0 0h6m-4 0h6m-5 0h6m-5 0h6m-4 0h6m-5 0h6m-4 0h6m-5 0h6m-5 0h6m1 0h6m-4 0h6m-2 0h6m0 0h6m8 0h6m-98 1h6m4 0h6m-1 0h6m-4 0h6m-5 0h6m-2 0h6m-5 0h6m-1 0h6m-5 0h6m-5 0h6m-5 0h6m-4 0h6m-5 0h6m-4 0h6m-4 0h6m-5 0h6m-5 0h6m-5 0h6m-5 0h6m-5 0h6m-5 0h6m-4 0h6m-5 0h6m-3 0h6m1 0h6m-4 0h6m-4 0h6m-4 0h6m-4 0h6m-4 0h6m5 0h6m-1 0h6m-5 0h6m-88 1h6m1 0h6m12 0h6m-2 0h6m-5 0h6m-5 0h6m-4 0h6m-5 0h6m-3 0h6m-2 0h6m-2 0h6m-4 0h6m-4 0h6m-4 0h6m-3 0h6m-5 0h6m-5 0h6m0 0h6m0 0h6m-5 0h6m-3 0h6m12 0h6m-95 1h6m4 0h6m5 0h6m-4 0h6m-4 0h6m-4 0h6m-5 0h6m-5 0h6m-5 0h6m-4 0h6m-5 0h6m-4 0h6m-3 0h6m-3 0h6m-5 0h6m-3 0h6m-5 0h6m-5 0h6m-5 0h6m-5 0h6m-5 0h6m-3 0h6m-5 0h6m-4 0h6m-5 0h6m-5 0h6m-4 0h6m-2 0h6m4 0h6m-5 0h6m-3 0h6m15 0h6m-97 1h6m-2 0h6m-4 0h6m4 0h6m-5 0h6m-4 0h6m-5 0h6m-5 0h6m-4 0h6m-3 0h6m-5 0h6m-5 0h6m-4 0h6m-4 0h6m1 0h6m-5 0h6m-5 0h6m-4 0h6m3 0h6m-5 0h6m0 0h6m-2 0h6m13 0h6m-2 0h6m-4 0h6m0 0h6m-125 1h6m6 0h6m2 0h6m-2 0h6m6 0h6m-5 0h6m-5 0h6m-1 0h6m-2 0h6m-4 0h6m-4 0h6m-5 0h6m-5 0h6m-4 0h6m-5 0h6m-5 0h6m-5 0h6m-3 0h6m-5 0h6m-5 0h6m-5 0h6m-5 0h6m-5 0h6m-2 0h6m-3 0h6m-5 0h6m-2 0h6m-4 0h6m-2 0h6m-4 0h6m-3 0h6m-5 0h6m-3 0h6m-1 0h6m7 0h6m1 0h6m-102 1h6m4 0h6m-4 0h6m-3 0h6m-4 0h6m1 0h6m-4 0h6m-5 0h6m-3 0h6m-4 0h6m1 0h6m-5 0h6m0 0h6m-3 0h6m-5 0h6m-4 0h6m-4 0h6m-4 0h6m-4 0h6m-5 0h6m-5 0h6m-4 0h6m-3 0h6m4 0h6m-1 0h6m-91 1h6m-2 0h6m-4 0h6m5 0h6m-4 0h6m-4 0h6m-4 0h6m-5 0h6m0 0h6m-4 0h6m-5 0h6m-4 0h6m-5 0h6m-5 0h6m-1 0h6m-5 0h6m-5 0h6m-4 0h6m-5 0h6m-4 0h6m-5 0h6m-5 0h6m-4 0h6m-5 0h6m-4 0h6m-1 0h6m0 0h6m1 0h6m-5 0h6m-5 0h6m5 0h6m11 0h6m-118 1h6m3 0h6m3 0h6m-4 0h6m-5 0h6m-4 0h6m-5 0h6m-5 0h6m-4 0h6m-4 0h6m-4 0h6m-3 0h6m-4 0h6m-4 0h6m-3 0h6m-2 0h6m-5 0h6m0 0h6m-5 0h6m-2 0h6m-4 0h6m-5 0h6m-1 0h6m-5 0h6m-4 0h6m3 0h6m-5 0h6m1 0h6m-4 0h6m-5 0h6m-76 1h6m-4 0h6m-2 0h6m-4 0h6m-2 0h6m-4 0h6m0 0h6m-4 0h6m-2 0h6m-5 0h6m-5 0h6m-5 0h6m-5 0h6m-4 0h6m-5 0h6m-5 0h6m-5 0h6m-3 0h6m3 0h6m-5 0h6m-3 0h6m-1 0h6m5 0h6m-4 0h6m-1 0h6m16 0h6m-116 1h6m4 0h6m9 0h6m-5 0h6m-5 0h6m-4 0h6m-3 0h6m-5 0h6m-4 0h6m-4 0h6m-5 0h6m-3 0h6m-4 0h6m-3 0h6m-5 0h6m-5 0h6m-1 0h6m-5 0h6m-5 0h6m-4 0h6m-5 0h6m-5 0h6m-1 0h6m4 0h6m-4 0h6m-5 0h6m-4 0h6m1 0h6m-2 0h6m-113 1h6m13 0h6m8 0h6m-3 0h6m-4 0h6m-4 0h6m1 0h6m-5 0h6m-3 0h6m-5 0h6m-5 0h6m-1 0h6m-5 0h6m-4 0h6m-3 0h6m-3 0h6m-4 0h6m3 0h6m-2 0h6m10 0h6m5 0h6m-5 0h6m-99 1h6m-2 0h6m9 0h6m0 0h6m-1 0h6m1 0h6m-5 0h6m-5 0h6m-4 0h6m-4 0h6m-5 0h6m-3 0h6m-4 0h6m-4 0h6m-5 0h6m1 0h6m-5 0h6m-2 0h6m-4 0h6m-3 0h6m-4 0h6m2 0h6m-1 0h6m43 0h6m-141 1h6m-2 0h6m2 0h6m-3 0h6m0 0h6m-4 0h6m5 0h6m-2 0h6m-5 0h6m-4 0h6m-5 0h6m-2 0h6m2 0h6m-5 0h6m-5 0h6m-2 0h6m-4 0h6m-3 0h6m-3 0h6m3 0h6m-4 0h6m9 0h6m-80 1h6m4 0h6m-2 0h6m-5 0h6m0 0h6m-4 0h6m-5 0h6m-5 0h6m-3 0h6m-4 0h6m-3 0h6m-4 0h6m-3 0h6m-5 0h6m0 0h6m-3 0h6m-4 0h6m-1 0h6m2 0h6m6 0h6m-103 1h6m-5 0h6m9 0h6m-3 0h6m-5 0h6m11 0h6m-3 0h6m-5 0h6m-1 0h6m-5 0h6m-1 0h6m-4 0h6m-5 0h6m-4 0h6m-4 0h6m-5 0h6m-5 0h6m-5 0h6m-4 0h6m-5 0h6m5 0h6m-1 0h6m-4 0h6m-5 0h6m9 0h6m-94 1h6m3 0h6m-3 0h6m3 0h6m3 0h6m0 0h6m-4 0h6m-2 0h6m-5 0h6m-5 0h6m-3 0h6m8 0h6m-4 0h6m0 0h6m-91 1h6m-4 0h6m3 0h6m-4 0h6m-5 0h6m-4 0h6m-3 0h6m-4 0h6m-5 0h6m-3 0h6m-5 0h6m-5 0h6m-4 0h6m-5 0h6m-5 0h6m-5 0h6m-5 0h6m-5 0h6m-5 0h6m-5 0h6m-5 0h6m-5 0h6m-5 0h6m-5 0h6m-5 0h6m-4 0h6m-5 0h6m-5 0h6m-5 0h6m-5 0h6m-5 0h6m-5 0h6m-5 0h6m-5 0h6m-5 0h6m-5 0h6m-5 0h6m-5 0h6m-5 0h6m-5 0h6m-5 0h6m-5 0h6m-5 0h6m-5 0h6m-5 0h6m-5 0h6m-5 0h6m-5 0h6m-5 0h6m-5 0h6m-5 0h6m-5 0h6m-4 0h6m-5 0h6m-5 0h6m-5 0h6m-4 0h6m-5 0h6m-5 0h6m-5 0h6m-5 0h6m-4 0h6m-5 0h6m-5 0h6m-5 0h6m-5 0h6m-4 0h6m-5 0h6m-3 0h6m-4 0h6m-5 0h6m0 0h6m20 0h6" stroke-width="6"/><path d="M143 41h4m14 8h4m-53 7h4m55 1h4m-24 1h4m10 1h4m-47 2h4m35 0h4m-35 1h4m40 0h4m-65 1h4m-1 0h4m4 0h4m25 0h4m11 1h4m23 1h4m-53 1h4m1 0h4m-45 1h4m46 0h4m-25 1h4m4 0h4m2 0h4m7 0h4m-2 0h4m-78 1h4m65 0h4m32 0h4m-53 1h4m-25 1h4m-6 1h4m9 0h4m4 0h4m-3 0h4m0 0h4m4 0h4m-44 1h4m17 0h4m13 0h4m-24 1h4m5 0h4m-29 1h4m2 0h4m17 0h4m1 0h4m14 0h4m-89 1h4m39 0h4m0 0h4m1 0h4m-16 1h4m6 0h4m-1 0h4m26 0h4m-46 1h4m1 0h4m1 0h4m8 0h4m-3 0h4m1 0h4m6 0h4m5 0h4m-54 1h4m6 0h4m23 0h4m1 0h4m-34 1h4m-3 0h4m8 0h4m-61 1h4m24 0h4m10 0h4m1 0h4m-87 1h4m48 0h4m3 0h4m14 0h4m14 0h4m0 0h4m11 0h4m-51 1h4m6 0h4m-1 0h4m18 0h4m-100 1h4m75 0h4m3 0h4m5 0h4m1 0h4m-1 0h4m26 0h4m-113 1h4m27 0h4m6 0h4m-3 0h4m35 0h4m-56 1h4m26 0h4m10 0h4m-3 0h4m-29 1h4m10 0h4m-2 0h4m-1 0h4m10 1h4m-17 1h4m-13 1h4m-54 1h4m30 0h4m3 0h4m0 0h4m28 0h4m-111 1h4m9 0h4m34 0h4m-2 0h4m14 0h4m1 0h4m2 0h4m2 0h4m4 0h4m10 0h4m-71 1h4m11 0h4m-37 1h4m-3 0h4m44 0h4m0 0h4m8 0h4m11 0h4m-1 0h4m-137 1h4m63 0h4m25 0h4m9 0h4m5 0h4m40 0h4m-191 1h4m18 0h4m52 0h4m2 0h4m34 0h4m5 0h4m-2 0h4m22 0h4m-119 1h4m49 0h4m11 0h4m-1 0h4m-2 0h4m4 0h4m3 0h4m11 0h4m-104 1h4m78 0h4m9 0h4m7 0h4m11 0h4m-163 1h4m33 0h4m26 0h4m63 0h4m1 0h4m1 0h4m-140 1h4m22 0h4m90 0h4m-36 1h4m7 0h4m6 0h4m4 0h4m1 0h4m26 0h4m0 0h4m-105 1h4m2 0h4m20 0h4m19 0h4m10 0h4m22 0h4m-140 1h4m-1 0h4m8 0h4m-1 0h4m2 0h4m52 0h4m2 0h4m30 0h4m20 0h4m-102 1h4m1 0h4m34 0h4m10 0h4m0 0h4m-2 0h4m16 0h4m-111 1h4m42 0h4m11 0h4m17 0h4m-2 0h4m15 0h4m-45 1h4m8 0h4m4 0h4m2 0h4m-3 0h4m-99 1h4m42 0h4m13 0h4m15 0h4m12 0h4m-86 1h4m44 0h4m12 0h4m14 0h4m-2 0h4m-115 1h4m86 0h4m3 0h4m9 0h4m5 0h4m9 0h4m-90 1h4m29 0h4m5 0h4m18 0h4m-126 1h4m86 0h4m-1 0h4m13 0h4m1 0h4m-48 1h4m67 0h4m-51 1h4m1 0h4m2 0h4m-45 1h4m40 0h4m-18 1h4m14 0h4m47 0h4m-158 1h4m4 0h4m55 0h4m17 0h4m-3 1h4m-2 0h4m12 0h4m-1 0h4m-31 1h4m24 0h4m1 0h4m-37 1h4m5 0h4m1 0h4m1 0h4m-2 0h4m2 0h4m-24 1h4m-1 0h4m27 0h4m-125 1h4m64 0h4m5 0h4m10 0h4m-1 0h4m8 0h4m-1 0h4m-24 1h4m-12 1h4m2 0h4m-1 0h4m-2 0h4m-14 1h4m14 0h4m5 0h4m-1 0h4m-63 1h4m16 0h4m20 0h4m-2 0h4m-1 0h4m-1 0h4m-30 1h4m-1 0h4m6 0h4m2 0h4m7 0h4m-32 1h4m0 0h4m8 0h4m-3 0h4m-3 0h4m-51 1h4m30 0h4m-1 0h4m33 0h4m-83 1h4m23 0h4m61 0h4m-75 1h4m1 0h4m0 0h4m17 0h4m16 0h4m3 0h4m11 0h4m-87 1h4m22 0h4m-40 1h4m7 0h4m22 0h4m-1 0h4m-35 1h4m12 0h4m-3 0h4m0 0h4m-3 0h4m6 0h4m5 0h4m1 0h4m-40 1h4m16 0h4m-1 0h4m-3 0h4m-3 0h4m-2 0h4m0 0h4m-1 0h4m-31 1h4m13 0h4m0 0h4m-22 1h4m-2 0h4m11 0h4m2 0h4m-1 0h4m4 0h4m-60 1h4m2 0h4m3 0h4m5 0h4m7 0h4m-2 0h4m8 0h4m-22 1h4m-38 1h4m19 0h4m-2 0h4m3 0h4m-2 0h4m3 0h4m0 0h4m0 0h4m1 0h4m-58 1h4m20 0h4m12 0h4m-3 0h4m-1 0h4m-3 0h4m3 0h4m-44 1h4m10 0h4m-1 0h4m-1 0h4m4 0h4m3 0h4m-51 1h4m0 0h4m7 0h4m-2 0h4m10 0h4m-3 0h4m-2 0h4m6 0h4m49 0h4m-91 1h4m0 0h4m4 0h4m-3 0h4m-3 0h4m8 0h4m-2 0h4m9 0h4m-55 1h4m15 0h4m1 0h4m9 0h4m12 0h4m-58 1h4m0 0h4m4 0h4m-1 0h4m0 0h4m0 0h4m-1 0h4m6 0h4m-1 0h4m-1 0h4m6 0h4m4 0h4m-77 1h4m18 0h4m6 0h4m2 0h4m17 0h4m5 0h4m-67 1h4m14 0h4m1 0h4m-2 0h4m5 0h4m5 0h4m0 0h4m1 0h4m17 0h4m-61 1h4m0 0h4m4 0h4m13 0h4m23 0h4m-57 1h4m11 0h4m-1 0h4m-2 0h4m-3 0h4m3 0h4m0 0h4m8 0h4m-66 1h4m3 0h4m12 0h4m-2 0h4m0 0h4m-2 0h4m1 0h4m-3 0h4m4 0h4m1 0h4m-2 0h4m-43 1h4m-3 0h4m2 0h4m4 0h4m5 0h4m21 0h4m-45 1h4m-3 0h4m-3 0h4m-2 0h4m0 0h4m-2 0h4m-1 0h4m-1 0h4m0 0h4m37 0h4m-77 1h4m5 0h4m-2 0h4m-3 0h4m9 0h4m-2 0h4m-2 0h4m-1 0h4m-2 0h4m-1 0h4m4 0h4m3 0h4m2 0h4m-71 1h4m8 0h4m9 0h4m-3 0h4m-2 0h4m3 0h4m1 0h4m-3 0h4m4 0h4m-3 0h4m-2 0h4m-58 1h4m13 0h4m-3 0h4m4 0h4m3 0h4m1 0h4m3 0h4m13 0h4m-54 1h4m9 0h4m-3 0h4m-1 0h4m-1 0h4m-1 0h4m-1 0h4m-2 0h4m-3 0h4m-61 1h4m23 0h4m-2 0h4m-2 0h4m-2 0h4m1 0h4m-1 0h4m0 0h4m4 0h4m-1 0h4m0 0h4m10 0h4m5 0h4m-57 1h4m18 0h4m-2 0h4m7 0h4m15 0h4m-45 1h4m-1 0h4m1 0h4m3 0h4m-1 0h4m-3 0h4m8 0h4m5 0h4m-49 1h4m-2 0h4m4 0h4m2 0h4m-3 0h4m-1 0h4m-1 0h4m6 0h4m-2 0h4m-1 0h4m-58 1h4m-2 0h4m8 0h4m-1 0h4m2 0h4m0 0h4m-3 0h4m4 0h4m1 0h4m10 0h4m-73 1h4m9 0h4m11 0h4m4 0h4m-3 0h4m5 0h4m-3 0h4m4 0h4m-3 0h4m2 0h4m1 0h4m7 0h4m-48 1h4m10 0h4m7 0h4m0 0h4m3 0h4m-73 1h4m2 0h4m2 0h4m-1 0h4m14 0h4m7 0h4m-1 0h4m-1 0h4m7 0h4m4 0h4m-85 1h4m16 0h4m-2 0h4m7 0h4m-1 0h4m4 0h4m13 0h4m-3 0h4m1 0h4m7 0h4m-67 1h4m-1 0h4m4 0h4m-3 0h4m1 0h4m-3 0h4m4 0h4m-3 0h4m2 0h4m11 0h4m2 0h4m6 0h4m-59 1h4m1 0h4m5 0h4m1 0h4m-3 0h4m7 0h4m2 0h4m-3 0h4m1 0h4m0 0h4m-1 0h4m3 0h4m-47 1h4m-3 0h4m1 0h4m15 0h4m2 0h4m-32 1h4m1 0h4m-3 0h4m5 0h4m-3 0h4m-2 0h4m-3 0h4m-2 0h4m3 0h4m20 0h4m-1 0h4m-84 1h4m22 0h4m1 0h4m0 0h4m1 0h4m-3 0h4m-1 0h4m-34 1h4m-1 0h4m0 0h4m1 0h4m-3 0h4m-1 0h4m2 0h4m-2 0h4m9 0h4m2 0h4m-58 1h4m0 0h4m4 0h4m-2 0h4m3 0h4m0 0h4m0 0h4m-1 0h4m10 0h4m-2 0h4m-1 0h4m-3 0h4m-3 0h4m-3 0h4m2 0h4m-56 1h4m1 0h4m5 0h4m-3 0h4m3 0h4m-3 0h4m-1 0h4m12 0h4m0 0h4m-52 1h4m11 0h4m-1 0h4m3 0h4m-1 0h4m0 0h4m-37 1h4m7 0h4m-2 0h4m2 0h4m10 0h4m4 0h4m-28 1h4m0 0h4m-3 0h4m1 0h4m5 0h4m3 0h4m-2 0h4m-2 0h4m-3 0h4m6 0h4m5 0h4m-72 1h4m-2 0h4m1 0h4m13 0h4m2 0h4m30 0h4m-68 1h4m4 0h4m0 0h4m3 0h4m2 0h4m-1 0h4m11 0h4m14 0h4m5 0h4m-97 1h4m29 0h4m11 0h4m-2 0h4m-3 0h4m-2 0h4m23 0h4m-69 1h4m14 0h4m2 0h4m-3 0h4m-2 0h4m-3 0h4m9 0h4m-1 0h4m-3 0h4m-3 0h4m-3 0h4m3 0h4m-2 0h4m4 0h4m-40 1h4m-3 0h4m-2 0h4m6 0h4m1 0h4m5 0h4m-63 1h4m4 0h4m21 0h4m1 0h4m0 0h4m-1 0h4m-2 0h4m-2 0h4m-3 0h4m-3 0h4m9 0h4m15 0h4m0 0h4m-79 1h4m2 0h4m16 0h4m2 0h4m-3 0h4m-3 0h4m13 0h4m-2 0h4m-58 1h4m2 0h4m1 0h4m-3 0h4m7 0h4m0 0h4m-1 0h4m-2 0h4m7 0h4m11 0h4m-3 0h4m-76 1h4m7 0h4m8 0h4m-3 0h4m-2 0h4m21 0h4m19 0h4m12 0h4m-87 1h4m14 0h4m0 0h4m-3 0h4m-2 0h4m6 0h4m-2 0h4m5 0h4m4 0h4m-42 1h4m6 0h4m0 0h4m-2 0h4m-3 0h4m-2 0h4m2 0h4m16 0h4m-2 0h4m1 0h4m1 0h4m-68 1h4m2 0h4m-2 0h4m-2 0h4m5 0h4m23 0h4m0 0h4m6 0h4m-62 1h4m6 0h4m-3 0h4m-2 0h4m2 0h4m-2 0h4m0 0h4m0 0h4m-2 0h4m-2 0h4m2 0h4m-3 0h4m0 0h4m-1 0h4m-2 0h4m7 0h4m-71 1h4m-1 0h4m1 0h4m6 0h4m-2 0h4m0 0h4m2 0h4m-2 0h4m-2 0h4m7 0h4m8 0h4m-2 0h4m-77 1h4m23 0h4m5 0h4m-3 0h4m9 0h4m0 0h4m4 0h4m3 0h4m-2 0h4m-3 0h4m1 0h4m-67 1h4m11 0h4m-1 0h4m0 0h4m-2 0h4m-3 0h4m2 0h4m0 0h4m-3 0h4m1 0h4m2 0h4m0 0h4m0 0h4m1 0h4m9 0h4m-70 1h4m3 0h4m0 0h4m0 0h4m-2 0h4m2 0h4m10 0h4m-2 0h4m1 0h4m-3 0h4m-1 0h4m12 0h4m-82 1h4m8 0h4m-2 0h4m2 0h4m0 0h4m-1 0h4m2 0h4m-2 0h4m2 0h4m-1 0h4m1 0h4m-2 0h4m-3 0h4m-3 0h4m3 0h4m33 0h4m-88 1h4m-1 0h4m5 0h4m-2 0h4m-1 0h4m7 0h4m-1 0h4m0 0h4m0 0h4m5 0h4m-2 0h4m5 0h4m-2 0h4m-55 1h4m-2 0h4m5 0h4m-3 0h4m5 0h4m4 0h4m-3 0h4m-2 0h4m2 0h4m1 0h4m-1 0h4m-54 1h4m1 0h4m10 0h4m-2 0h4m2 0h4m-2 0h4m0 0h4m3 0h4m-3 0h4m6 0h4m-60 1h4m0 0h4m1 0h4m1 0h4m-2 0h4m-2 0h4m1 0h4m-3 0h4m-3 0h4m18 0h4m0 0h4m-62 1h4m26 0h4m2 0h4m-2 0h4m1 0h4m-3 0h4m-2 0h4m-3 0h4m-1 0h4m-61 1h4m13 0h4m-2 0h4m0 0h4m4 0h4m-2 0h4m5 0h4m-1 0h4m7 0h4m17 0h4m5 0h4m-95 1h4m13 0h4m5 0h4m3 0h4m4 0h4m0 0h4m-3 0h4m-3 0h4m22 0h4m11 0h4m0 0h4m-75 1h4m2 0h4m3 0h4m-3 0h4m1 0h4m3 0h4m1 0h4m1 0h4m-2 0h4m0 0h4m4 0h4m39 0h4m-92 1h4m0 0h4m-3 0h4m-3 0h4m1 0h4m2 0h4m8 0h4m10 0h4m-2 0h4m0 0h4m-59 1h4m1 0h4m1 0h4m4 0h4m-1 0h4m-3 0h4m0 0h4m6 0h4m6 0h4m-40 1h4m0 0h4m-1 0h4m-3 0h4m3 0h4m1 0h4m-41 1h4m15 0h4m2 0h4m8 0h4m4 0h4m1 0h4m-33 1h4m1 0h4m-1 0h4m-3 0h4m-2 0h4m-2 0h4m1 0h4m-2 0h4m-3 0h4m-39 1h4m9 0h4m-3 0h4m-2 0h4m11 0h4m-2 0h4m-2 0h4m2 0h4m0 0h4m-34 1h4m11 0h4m17 0h4m-2 0h4m-1 0h4m-57 1h4m0 0h4m-2 0h4m23 0h4m6 0h4m26 0h4m-86 1h4m8 0h4m14 0h4m-3 0h4m-2 0h4m-3 0h4m4 0h4m2 0h4m1 0h4m-54 1h4m5 0h4m2 0h4m17 0h4m2 0h4m5 0h4m-3 0h4m-48 1h4m11 0h4m-1 0h4m3 0h4m3 0h4m0 0h4m3 0h4m-69 1h4m31 0h4m5 0h4m29 0h4m-3 0h4m-48 1h4m12 0h4m1 0h4m19 0h4m-73 1h4m8 0h4m17 0h4m4 0h4m-2 0h4m-2 0h4m4 0h4m-3 0h4m-2 0h4m-30 1h4m4 0h4m-1 0h4m0 0h4m19 0h4m-64 1h4m-3 0h4m1 0h4m-2 0h4m6 0h4m0 0h4m2 0h4m-3 0h4m-2 0h4m-1 0h4m-2 0h4m0 0h4m-3 0h4m-2 0h4m0 0h4m-2 0h4m14 0h4m7 0h4" stroke-width="4"/></g>
<g font-size="7" fill="#000" stroke="#000" stroke-width=".22">
<text x="54.4" y="15.3">3.1%</text>
<text x="2.6" y="41.2">77.4</text>
<text x="3.1" y="48.8">%</text>
<text x="54.4" y="47.2">19%</text>
</g>
</g>
<g transform="translate(231.01 285.37)">
<path d="M0 0H73.4V55.7" fill="none" stroke="#333" stroke-width="1"/>
<path d="M23.2 0V55.7M0 34.5H73.4" fill="none" stroke="#111" stroke-width="1.25"/>
<path d="M0.15 -0.5V56.5" stroke="#000" stroke-width="1.8" fill="none"/>
<path d="M-1.3 55.7H73.9" stroke="#000" stroke-width="2.1" fill="none"/>
<path d="M0.2 55.7v2.9M0 55.4h-2.7M5.7 55.7v2.1M0 51.2h-1.8M8.9 55.7v2.1M0 48.8h-1.8M11.2 55.7v2.1M0 47.1h-1.8M12.9 55.7v2.1M0 45.7h-1.8M14.4 55.7v2.1M0 44.6h-1.8M15.6 55.7v2.1M0 43.7h-1.8M16.6 55.7v2.1M0 42.9h-1.8M17.6 55.7v2.1M0 42.2h-1.8M18.4 55.7v2.9M0 41.6h-2.7M23.9 55.7v2.1M0 37.4h-1.8M27.1 55.7v2.1M0 34.9h-1.8M29.4 55.7v2.1M0 33.2h-1.8M31.1 55.7v2.1M0 31.9h-1.8M32.6 55.7v2.1M0 30.8h-1.8M33.8 55.7v2.1M0 29.8h-1.8M34.8 55.7v2.1M0 29.0h-1.8M35.8 55.7v2.1M0 28.3h-1.8M36.6 55.7v2.9M0 27.7h-2.7M42.1 55.7v2.1M0 23.5h-1.8M45.3 55.7v2.1M0 21.1h-1.8M47.6 55.7v2.1M0 19.4h-1.8M49.3 55.7v2.1M0 18.0h-1.8M50.8 55.7v2.1M0 16.9h-1.8M52.0 55.7v2.1M0 16.0h-1.8M53.0 55.7v2.1M0 15.2h-1.8M54.0 55.7v2.1M0 14.5h-1.8M54.8 55.7v2.9M0 13.9h-2.7M60.3 55.7v2.1M0 9.7h-1.8M63.5 55.7v2.1M0 7.2h-1.8M65.8 55.7v2.1M0 5.5h-1.8M67.5 55.7v2.1M0 4.2h-1.8M69.0 55.7v2.1M0 3.1h-1.8M70.2 55.7v2.1M0 2.1h-1.8M71.2 55.7v2.1M0 1.3h-1.8M72.2 55.7v2.1M0 0.6h-1.8M73.0 55.7v2.9M0 0.0h-2.7" stroke="#000" stroke-width="1" fill="none"/>
<g font-size="8.6" font-weight="bold" fill="#000" stroke="#000" stroke-width=".25">
<text transform="translate(-3.4 67.0) scale(.7 1)">10<tspan dx=".9" dy="-4.3" font-size="8">0</tspan></text>
<text transform="translate(-4.4 59.8) rotate(-90) scale(.7 1)">10<tspan dx=".9" dy="-4.3" font-size="8">0</tspan></text>
<text transform="translate(14.8 67.0) scale(.7 1)">10<tspan dx=".9" dy="-4.3" font-size="8">1</tspan></text>
<text transform="translate(-4.4 46.0) rotate(-90) scale(.7 1)">10<tspan dx=".9" dy="-4.3" font-size="8">1</tspan></text>
<text transform="translate(33.0 67.0) scale(.7 1)">10<tspan dx=".9" dy="-4.3" font-size="8">2</tspan></text>
<text transform="translate(-4.4 32.1) rotate(-90) scale(.7 1)">10<tspan dx=".9" dy="-4.3" font-size="8">2</tspan></text>
<text transform="translate(51.2 67.0) scale(.7 1)">10<tspan dx=".9" dy="-4.3" font-size="8">3</tspan></text>
<text transform="translate(-4.4 18.2) rotate(-90) scale(.7 1)">10<tspan dx=".9" dy="-4.3" font-size="8">3</tspan></text>
<text transform="translate(69.4 67.0) scale(.7 1)">10<tspan dx=".9" dy="-4.3" font-size="8">4</tspan></text>
<text transform="translate(-4.4 4.4) rotate(-90) scale(.7 1)">10<tspan dx=".9" dy="-4.3" font-size="8">4</tspan></text>
</g>
<text x="36.2" y="72.9" text-anchor="middle" font-size="6.2" font-weight="bold" fill="#000">AnnexinY-FITC</text>
<text transform="translate(-14.5 28.7) rotate(-90)" text-anchor="middle" font-size="6.6" font-weight="bold" fill="#000" stroke="#000" stroke-width=".2">PI</text>
<g transform="scale(.25)" stroke="#000" fill="none"><path d="M108 140h6m-2 3h6m-23 3h6m19 0h6m-39 1h6m25 0h6m-41 1h6m72 0h6m-80 2h6m23 0h6m0 0h6m-32 1h6m9 0h6m-36 1h6m-4 0h6m6 0h6m0 0h6m5 0h6m-40 1h6m8 0h6m-18 1h6m31 0h6m0 0h6m0 0h6m-47 1h6m13 0h6m6 0h6m19 0h6m-58 1h6m5 0h6m-1 0h6m-4 0h6m6 0h6m-45 1h6m-2 0h6m1 0h6m-2 0h6m-4 0h6m-5 0h6m11 0h6m-35 1h6m-1 0h6m8 0h6m-4 0h6m-4 0h6m-49 1h6m4 0h6m6 0h6m-9 1h6m1 0h6m9 0h6m1 0h6m-49 1h6m12 0h6m-4 0h6m13 0h6m-37 1h6m12 0h6m7 0h6m-81 1h6m20 0h6m12 0h6m5 0h6m-5 0h6m-5 0h6m-5 0h6m7 0h6m-57 1h6m0 0h6m9 0h6m8 0h6m-2 0h6m-5 0h6m-3 0h6m-1 0h6m1 0h6m-5 0h6m4 0h6m0 0h6m-71 1h6m3 0h6m-3 0h6m5 0h6m-5 0h6m1 0h6m-1 0h6m-5 0h6m-1 0h6m-2 0h6m8 0h6m-69 1h6m-2 0h6m4 0h6m-3 0h6m4 0h6m-2 0h6m1 0h6m3 0h6m-45 1h6m-3 0h6m-1 0h6m-1 0h6m1 0h6m-3 0h6m-1 0h6m-1 0h6m-5 0h6m-4 0h6m-4 0h6m-5 0h6m7 0h6m-66 1h6m5 0h6m-1 0h6m2 0h6m-5 0h6m-4 0h6m-5 0h6m-4 0h6m-2 0h6m0 0h6m1 0h6m-5 0h6m0 0h6m3 0h6m1 0h6m-78 1h6m9 0h6m-1 0h6m-1 0h6m-5 0h6m-5 0h6m-5 0h6m-4 0h6m-5 0h6m-2 0h6m-5 0h6m-1 0h6m6 0h6m-2 0h6m-2 0h6m19 0h6m-84 1h6m-3 0h6m-5 0h6m6 0h6m-1 0h6m-5 0h6m-5 0h6m-5 0h6m0 0h6m-5 0h6m-5 0h6m-4 0h6m-5 0h6m-2 0h6m-2 0h6m10 0h6m-1 0h6m-90 1h6m17 0h6m-4 0h6m9 0h6m-4 0h6m0 0h6m-4 0h6m-4 0h6m-5 0h6m-5 0h6m-5 0h6m-4 0h6m-3 0h6m-5 0h6m-5 0h6m-2 0h6m5 0h6m-1 0h6m-69 1h6m4 0h6m-4 0h6m-4 0h6m-2 0h6m-5 0h6m-2 0h6m3 0h6m-4 0h6m-3 0h6m-2 0h6m-5 0h6m-5 0h6m-4 0h6m-4 0h6m-4 0h6m-2 0h6m-5 0h6m-54 1h6m2 0h6m-3 0h6m-5 0h6m-5 0h6m-5 0h6m0 0h6m4 0h6m-5 0h6m-4 0h6m1 0h6m-5 0h6m-5 0h6m11 0h6m-110 1h6m25 0h6m-2 0h6m-2 0h6m4 0h6m-3 0h6m-5 0h6m3 0h6m-4 0h6m3 0h6m-4 0h6m-5 0h6m-5 0h6m-3 0h6m-1 0h6m-5 0h6m-1 0h6m8 0h6m-83 1h6m2 0h6m-1 0h6m-5 0h6m-2 0h6m0 0h6m0 0h6m-5 0h6m-5 0h6m-3 0h6m-2 0h6m-4 0h6m-4 0h6m-5 0h6m-5 0h6m-4 0h6m-3 0h6m-5 0h6m-4 0h6m1 0h6m-68 1h6m7 0h6m-3 0h6m-5 0h6m1 0h6m-4 0h6m-4 0h6m-5 0h6m-3 0h6m-4 0h6m-5 0h6m-5 0h6m-3 0h6m-5 0h6m0 0h6m0 0h6m-4 0h6m-3 0h6m7 0h6m-78 1h6m13 0h6m-1 0h6m-5 0h6m-4 0h6m-5 0h6m-5 0h6m-4 0h6m-5 0h6m-5 0h6m-3 0h6m-4 0h6m-4 0h6m-3 0h6m-5 0h6m-4 0h6m-5 0h6m-5 0h6m-5 0h6m-2 0h6m0 0h6m-2 0h6m-5 0h6m-4 0h6m-1 0h6m-2 0h6m0 0h6m-75 1h6m-3 0h6m-1 0h6m-4 0h6m-2 0h6m-5 0h6m-3 0h6m-5 0h6m-5 0h6m-4 0h6m-5 0h6m-5 0h6m-5 0h6m-3 0h6m-5 0h6m6 0h6m-4 0h6m-2 0h6m-5 0h6m-1 0h6m-5 0h6m-4 0h6m-3 0h6m-3 0h6m0 0h6m-82 1h6m6 0h6m-4 0h6m-4 0h6m-5 0h6m-4 0h6m-3 0h6m-1 0h6m-4 0h6m-3 0h6m-5 0h6m-1 0h6m-3 0h6m-5 0h6m-5 0h6m-5 0h6m-5 0h6m-4 0h6m-1 0h6m-3 0h6m0 0h6m-5 0h6m-3 0h6m-4 0h6m-1 0h6m-71 1h6m6 0h6m-5 0h6m-3 0h6m-5 0h6m-4 0h6m0 0h6m-4 0h6m-5 0h6m-5 0h6m-5 0h6m-2 0h6m-4 0h6m0 0h6m-5 0h6m5 0h6m-5 0h6m3 0h6m-80 1h6m-5 0h6m0 0h6m3 0h6m-3 0h6m-3 0h6m-3 0h6m-4 0h6m-5 0h6m-5 0h6m-5 0h6m-5 0h6m-4 0h6m-5 0h6m-2 0h6m-4 0h6m-5 0h6m-5 0h6m-2 0h6m-4 0h6m-5 0h6m-2 0h6m-5 0h6m-3 0h6m-4 0h6m-3 0h6m-5 0h6m-5 0h6m7 0h6m-88 1h6m8 0h6m-2 0h6m4 0h6m-4 0h6m-4 0h6m-2 0h6m-5 0h6m-5 0h6m-5 0h6m-2 0h6m-4 0h6m-1 0h6m-4 0h6m-4 0h6m-5 0h6m-5 0h6m1 0h6m-4 0h6m-1 0h6m-5 0h6m-5 0h6m1 0h6m4 0h6m-93 1h6m5 0h6m-3 0h6m-4 0h6m-3 0h6m1 0h6m-2 0h6m-3 0h6m-5 0h6m-2 0h6m-5 0h6m-4 0h6m-5 0h6m-3 0h6m-5 0h6m-5 0h6m-1 0h6m0 0h6m-4 0h6m-5 0h6m-5 0h6m-3 0h6m-3 0h6m-65 1h6m-5 0h6m2 0h6m-1 0h6m0 0h6m-3 0h6m-5 0h6m-5 0h6m-5 0h6m-1 0h6m-3 0h6m-5 0h6m-4 0h6m-4 0h6m-5 0h6m-1 0h6m-5 0h6m-5 0h6m-3 0h6m3 0h6m1 0h6m-72 1h6m-1 0h6m-4 0h6m-3 0h6m-2 0h6m-4 0h6m-5 0h6m-3 0h6m-4 0h6m-4 0h6m-4 0h6m-5 0h6m-5 0h6m-5 0h6m-5 0h6m-5 0h6m-2 0h6m-5 0h6m-5 0h6m-2 0h6m-4 0h6m-4 0h6m-4 0h6m-3 0h6m-5 0h6m-4 0h6m-1 0h6m-74 1h6m-5 0h6m13 0h6m-3 0h6m-2 0h6m-1 0h6m-5 0h6m-5 0h6m-5 0h6m-5 0h6m-5 0h6m-4 0h6m-3 0h6m-4 0h6m-4 0h6m-1 0h6m-5 0h6m-3 0h6m-5 0h6m-5 0h6m-4 0h6m-5 0h6m-3 0h6m-4 0h6m-4 0h6m5 0h6m-93 1h6m13 0h6m-2 0h6m-4 0h6m-3 0h6m-4 0h6m-5 0h6m-5 0h6m-5 0h6m-3 0h6m-4 0h6m-5 0h6m-5 0h6m-5 0h6m-5 0h6m-5 0h6m-5 0h6m-2 0h6m-4 0h6m-4 0h6m0 0h6m-4 0h6m-5 0h6m-4 0h6m-3 0h6m-4 0h6m-5 0h6m-5 0h6m-5 0h6m-5 0h6m-4 0h6m-4 0h6m-5 0h6m21 0h6m-126 1h6m28 0h6m10 0h6m-5 0h6m-5 0h6m-3 0h6m-5 0h6m-4 0h6m-4 0h6m-5 0h6m-3 0h6m-5 0h6m-3 0h6m-5 0h6m-5 0h6m-5 0h6m2 0h6m2 0h6m-4 0h6m-4 0h6m1 0h6m-84 1h6m1 0h6m4 0h6m-3 0h6m-5 0h6m-5 0h6m-3 0h6m-2 0h6m-1 0h6m-5 0h6m-5 0h6m-5 0h6m-4 0h6m-4 0h6m-3 0h6m-5 0h6m-4 0h6m-4 0h6m-5 0h6m-5 0h6m-4 0h6m-5 0h6m-5 0h6m-5 0h6m-5 0h6m-4 0h6m-5 0h6m-5 0h6m-5 0h6m-5 0h6m6 0h6m-2 0h6m0 0h6m-97 1h6m-4 0h6m3 0h6m-3 0h6m-3 0h6m-3 0h6m-1 0h6m-1 0h6m-5 0h6m-4 0h6m-4 0h6m-5 0h6m-2 0h6m-5 0h6m-5 0h6m-4 0h6m-4 0h6m-4 0h6m-1 0h6m-5 0h6m-5 0h6m-5 0h6m-5 0h6m-3 0h6m-5 0h6m-4 0h6m-4 0h6m-5 0h6m-5 0h6m-4 0h6m-3 0h6m-5 0h6m-4 0h6m-5 0h6m-3 0h6m0 0h6m16 0h6m-100 1h6m-1 0h6m-5 0h6m0 0h6m-3 0h6m-5 0h6m-4 0h6m-5 0h6m-5 0h6m-3 0h6m-5 0h6m-4 0h6m-4 0h6m-3 0h6m-2 0h6m-4 0h6m-4 0h6m-5 0h6m-5 0h6m-4 0h6m-5 0h6m-5 0h6m-5 0h6m-4 0h6m-2 0h6m-5 0h6m-5 0h6m-5 0h6m-5 0h6m-4 0h6m-4 0h6m2 0h6m-5 0h6m-90 1h6m15 0h6m-5 0h6m-2 0h6m-3 0h6m-3 0h6m-3 0h6m-3 0h6m-5 0h6m-5 0h6m-1 0h6m-5 0h6m-5 0h6m-5 0h6m-4 0h6m-5 0h6m-2 0h6m-5 0h6m-5 0h6m-5 0h6m-3 0h6m-5 0h6m-3 0h6m4 0h6m-3 0h6m1 0h6m-3 0h6m0 0h6m-92 1h6m3 0h6m-2 0h6m-5 0h6m-5 0h6m-4 0h6m-4 0h6m-5 0h6m-2 0h6m1 0h6m-5 0h6m-4 0h6m-5 0h6m-5 0h6m-5 0h6m-5 0h6m-5 0h6m-4 0h6m-5 0h6m-5 0h6m-5 0h6m-5 0h6m-4 0h6m-4 0h6m-5 0h6m-3 0h6m2 0h6m-3 0h6m-3 0h6m-3 0h6m-2 0h6m-4 0h6m-2 0h6m14 0h6m-101 1h6m-2 0h6m-5 0h6m-4 0h6m-5 0h6m0 0h6m-1 0h6m-3 0h6m-5 0h6m0 0h6m-5 0h6m-5 0h6m-4 0h6m-4 0h6m-4 0h6m-5 0h6m-5 0h6m-3 0h6m-5 0h6m-5 0h6m-5 0h6m-5 0h6m-3 0h6m-5 0h6m0 0h6m-4 0h6m-2 0h6m1 0h6m-5 0h6m-5 0h6m8 0h6m-97 1h6m2 0h6m-5 0h6m-4 0h6m-3 0h6m1 0h6m-5 0h6m-3 0h6m-5 0h6m-5 0h6m-1 0h6m-5 0h6m-3 0h6m-5 0h6m-4 0h6m-5 0h6m-5 0h6m-5 0h6m-2 0h6m-5 0h6m-4 0h6m-2 0h6m-4 0h6m4 0h6m0 0h6m-5 0h6m3 0h6m-102 1h6m8 0h6m-4 0h6m10 0h6m-4 0h6m0 0h6m-5 0h6m-5 0h6m-2 0h6m-5 0h6m-4 0h6m-3 0h6m-1 0h6m-5 0h6m-5 0h6m-5 0h6m-5 0h6m-5 0h6m-5 0h6m-4 0h6m-5 0h6m-5 0h6m-5 0h6m-4 0h6m-5 0h6m-4 0h6m-2 0h6m-4 0h6m1 0h6m19 0h6m-88 1h6m-4 0h6m-3 0h6m1 0h6m-3 0h6m-5 0h6m-5 0h6m-4 0h6m-4 0h6m-5 0h6m-5 0h6m-5 0h6m-5 0h6m-4 0h6m-5 0h6m-4 0h6m-5 0h6m-5 0h6m-5 0h6m-5 0h6m-4 0h6m-5 0h6m-1 0h6m-4 0h6m-5 0h6m-4 0h6m-5 0h6m-5 0h6m-3 0h6m-1 0h6m0 0h6m-79 1h6m2 0h6m-4 0h6m-4 0h6m-5 0h6m-1 0h6m-5 0h6m-5 0h6m-4 0h6m-4 0h6m-3 0h6m-5 0h6m-5 0h6m-2 0h6m-5 0h6m-5 0h6m-3 0h6m-5 0h6m-3 0h6m-5 0h6m-4 0h6m-5 0h6m-5 0h6m-4 0h6m-5 0h6m-5 0h6m-4 0h6m-4 0h6m-4 0h6m-5 0h6m-5 0h6m-4 0h6m-5 0h6m-5 0h6m2 0h6m-5 0h6m-80 1h6m1 0h6m1 0h6m-4 0h6m-4 0h6m-4 0h6m-4 0h6m-4 0h6m-5 0h6m-4 0h6m-3 0h6m-4 0h6m-5 0h6m-2 0h6m-5 0h6m-5 0h6m-5 0h6m-5 0h6m-5 0h6m-5 0h6m-3 0h6m-4 0h6m-5 0h6m-5 0h6m-4 0h6m-4 0h6m-5 0h6m-1 0h6m-2 0h6m0 0h6m9 0h6m-91 1h6m0 0h6m-3 0h6m-4 0h6m-3 0h6m-5 0h6m-2 0h6m-3 0h6m-4 0h6m-5 0h6m-4 0h6m-5 0h6m-4 0h6m-5 0h6m-5 0h6m-5 0h6m-5 0h6m-5 0h6m-5 0h6m-3 0h6m-5 0h6m-5 0h6m-5 0h6m1 0h6m-5 0h6m-4 0h6m-4 0h6m-5 0h6m-5 0h6m-4 0h6m-3 0h6m-3 0h6m-2 0h6m-1 0h6m-77 1h6m4 0h6m0 0h6m-4 0h6m-5 0h6m-5 0h6m-4 0h6m-2 0h6m-3 0h6m-5 0h6m-4 0h6m-5 0h6m-5 0h6m-4 0h6m-2 0h6m-5 0h6m-5 0h6m-4 0h6m-3 0h6m0 0h6m-3 0h6m-5 0h6m-5 0h6m-5 0h6m5 0h6m2 0h6m-82 1h6m-2 0h6m-3 0h6m1 0h6m-2 0h6m-5 0h6m-1 0h6m-4 0h6m-5 0h6m-5 0h6m-5 0h6m-5 0h6m-4 0h6m-5 0h6m-5 0h6m-5 0h6m-4 0h6m-4 0h6m-3 0h6m-5 0h6m-3 0h6m-2 0h6m-2 0h6m-4 0h6m-5 0h6m-5 0h6m-3 0h6m-5 0h6m-4 0h6m3 0h6m3 0h6m-112 1h6m21 0h6m-2 0h6m-5 0h6m-4 0h6m-2 0h6m-4 0h6m-3 0h6m-5 0h6m-2 0h6m-5 0h6m-2 0h6m-5 0h6m-3 0h6m-5 0h6m-4 0h6m-5 0h6m-5 0h6m-4 0h6m-5 0h6m-5 0h6m-5 0h6m-5 0h6m-5 0h6m-5 0h6m-5 0h6m-3 0h6m-5 0h6m-5 0h6m-4 0h6m-4 0h6m-5 0h6m-5 0h6m-4 0h6m-3 0h6m0 0h6m8 0h6m-94 1h6m12 0h6m-5 0h6m-2 0h6m-5 0h6m-5 0h6m-5 0h6m-1 0h6m-5 0h6m-5 0h6m-5 0h6m-5 0h6m-4 0h6m-5 0h6m-4 0h6m-5 0h6m-5 0h6m-5 0h6m-4 0h6m-5 0h6m-5 0h6m-5 0h6m-2 0h6m-4 0h6m-3 0h6m-4 0h6m-4 0h6m-5 0h6m-5 0h6m0 0h6m-72 1h6m7 0h6m-4 0h6m-3 0h6m-3 0h6m-5 0h6m1 0h6m-3 0h6m-4 0h6m-5 0h6m-5 0h6m-3 0h6m-5 0h6m-5 0h6m-5 0h6m-5 0h6m-4 0h6m-2 0h6m-4 0h6m-5 0h6m-5 0h6m-3 0h6m-5 0h6m-3 0h6m3 0h6m-69 1h6m-4 0h6m-4 0h6m-2 0h6m-1 0h6m-4 0h6m-3 0h6m-4 0h6m-4 0h6m-5 0h6m-1 0h6m-4 0h6m-5 0h6m-2 0h6m-5 0h6m-5 0h6m-4 0h6m-5 0h6m-5 0h6m-1 0h6m-4 0h6m-5 0h6m-3 0h6m-1 0h6m-69 1h6m-4 0h6m2 0h6m-4 0h6m1 0h6m-5 0h6m-5 0h6m-5 0h6m-5 0h6m-5 0h6m-2 0h6m-1 0h6m-5 0h6m-1 0h6m-5 0h6m-5 0h6m-2 0h6m-5 0h6m-5 0h6m-1 0h6m-5 0h6m-3 0h6m3 0h6m-1 0h6m-5 0h6m-4 0h6m-78 1h6m-3 0h6m0 0h6m-4 0h6m-5 0h6m-4 0h6m-5 0h6m-5 0h6m-5 0h6m-4 0h6m-3 0h6m-5 0h6m-3 0h6m-4 0h6m-5 0h6m-4 0h6m-4 0h6m-5 0h6m-5 0h6m-5 0h6m-2 0h6m0 0h6m-4 0h6m-4 0h6m-5 0h6m22 0h6m-96 1h6m0 0h6m-4 0h6m-4 0h6m7 0h6m-5 0h6m-2 0h6m-1 0h6m-4 0h6m-5 0h6m-5 0h6m-3 0h6m-4 0h6m-3 0h6m-5 0h6m-4 0h6m-5 0h6m-3 0h6m-4 0h6m-4 0h6m-2 0h6m-3 0h6m-3 0h6m3 0h6m-3 0h6m5 0h6m-90 1h6m-4 0h6m-2 0h6m3 0h6m-4 0h6m-2 0h6m-2 0h6m-5 0h6m-4 0h6m-4 0h6m-4 0h6m-3 0h6m-5 0h6m1 0h6m-4 0h6m-5 0h6m-5 0h6m-4 0h6m-5 0h6m-5 0h6m-2 0h6m-1 0h6m3 0h6m-64 1h6m-3 0h6m-5 0h6m2 0h6m-5 0h6m-4 0h6m-5 0h6m-1 0h6m-3 0h6m-5 0h6m-4 0h6m-5 0h6m-4 0h6m-5 0h6m-5 0h6m-4 0h6m-5 0h6m-4 0h6m-5 0h6m-4 0h6m-3 0h6m18 0h6m-87 1h6m-2 0h6m10 0h6m-5 0h6m-3 0h6m-4 0h6m-5 0h6m-2 0h6m-5 0h6m-5 0h6m-5 0h6m-5 0h6m-5 0h6m-5 0h6m-5 0h6m-3 0h6m-4 0h6m-5 0h6m-2 0h6m-3 0h6m-4 0h6m-5 0h6m-5 0h6m-4 0h6m-5 0h6m-3 0h6m-5 0h6m6 0h6m-80 1h6m2 0h6m-3 0h6m-4 0h6m-2 0h6m-3 0h6m-1 0h6m-3 0h6m-5 0h6m-1 0h6m-3 0h6m-5 0h6m-4 0h6m9 0h6m-1 0h6m-3 0h6m-3 0h6m7 0h6m-85 1h6m-1 0h6m1 0h6m6 0h6m-5 0h6m-5 0h6m-2 0h6m-4 0h6m-1 0h6m-4 0h6m-2 0h6m-5 0h6m-5 0h6m-5 0h6m-2 0h6m-5 0h6m-5 0h6m-4 0h6m-2 0h6m-4 0h6m-5 0h6m-1 0h6m3 0h6m-2 0h6m-79 1h6m-5 0h6m-5 0h6m-2 0h6m-4 0h6m7 0h6m-5 0h6m2 0h6m-3 0h6m-5 0h6m-5 0h6m-5 0h6m-4 0h6m-5 0h6m-4 0h6m-2 0h6m6 0h6m-5 0h6m0 0h6m-77 1h6m-2 0h6m-2 0h6m-4 0h6m7 0h6m-5 0h6m5 0h6m-3 0h6m-4 0h6m-3 0h6m-4 0h6m-5 0h6m-4 0h6m6 0h6m5 0h6m-47 1h6m-4 0h6m-3 0h6m-5 0h6m-5 0h6m-4 0h6m-5 0h6m-3 0h6m-5 0h6m-5 0h6m-1 0h6m-2 0h6m-77 1h6m4 0h6m-1 0h6m-3 0h6m-4 0h6m-4 0h6m-5 0h6m-5 0h6m-5 0h6m-5 0h6m-5 0h6m-5 0h6m-3 0h6m-5 0h6m-5 0h6m-5 0h6m-5 0h6m-5 0h6m-5 0h6m-5 0h6m-3 0h6m-5 0h6m-5 0h6m-5 0h6m-5 0h6m-5 0h6m-5 0h6m-5 0h6m-5 0h6m-5 0h6m-5 0h6m-5 0h6m-5 0h6m-5 0h6m-5 0h6m-5 0h6m-5 0h6m-5 0h6m-5 0h6m-5 0h6m-5 0h6m-5 0h6m-5 0h6m-5 0h6m-5 0h6m-5 0h6m-5 0h6m-5 0h6m-5 0h6m-5 0h6m-5 0h6m-5 0h6m-5 0h6m-5 0h6m-5 0h6m-5 0h6m-5 0h6m-5 0h6m-5 0h6m-5 0h6m-5 0h6m-5 0h6m-5 0h6m-5 0h6m-5 0h6m-5 0h6m-5 0h6m-4 0h6m-3 0h6m-5 0h6m-3 0h6m-4 0h6m-2 0h6" stroke-width="6"/><path d="M135 28h4m-13 2h4m-7 1h4m12 3h4m-45 2h4m22 1h4m10 1h4m8 0h4m-25 1h4m-29 1h4m6 0h4m-1 0h4m-3 0h4m12 1h4m11 2h4m2 0h4m-32 1h4m21 0h4m-40 1h4m-3 0h4m-1 0h4m-17 1h4m-3 0h4m-3 0h4m1 0h4m3 0h4m13 0h4m8 0h4m-49 1h4m9 0h4m0 0h4m-1 0h4m-13 1h4m-3 0h4m-3 0h4m-3 0h4m16 0h4m-31 1h4m7 0h4m-2 0h4m-1 0h4m0 0h4m1 0h4m0 0h4m10 0h4m-45 1h4m-2 0h4m2 0h4m0 0h4m0 0h4m1 0h4m-3 0h4m0 0h4m-40 1h4m0 0h4m1 0h4m-1 0h4m4 0h4m-1 0h4m-1 0h4m-3 0h4m-1 0h4m-3 0h4m7 0h4m-44 1h4m23 0h4m-26 1h4m-3 0h4m0 0h4m2 0h4m1 0h4m-3 0h4m-3 0h4m1 0h4m-3 0h4m1 0h4m-3 0h4m5 0h4m-3 0h4m-37 1h4m7 0h4m-1 0h4m-3 0h4m-3 0h4m-2 0h4m0 0h4m-3 0h4m5 0h4m-47 1h4m-1 0h4m6 0h4m-3 0h4m-3 0h4m-2 0h4m-3 0h4m-1 0h4m-3 0h4m-1 0h4m-3 0h4m-3 0h4m-36 1h4m1 0h4m1 0h4m-2 0h4m-2 0h4m12 0h4m4 0h4m7 0h4m-2 0h4m-78 1h4m20 0h4m24 0h4m-2 0h4m-2 0h4m2 0h4m3 0h4m-38 1h4m-2 0h4m-2 0h4m-3 0h4m0 0h4m-2 0h4m-1 0h4m7 0h4m1 0h4m-44 1h4m7 0h4m2 0h4m-1 0h4m-2 0h4m0 0h4m4 0h4m0 0h4m-35 1h4m-3 0h4m-2 0h4m-1 0h4m-1 0h4m-3 0h4m1 0h4m0 0h4m0 0h4m1 0h4m-2 0h4m-22 1h4m4 0h4m1 0h4m-3 0h4m3 0h4m-1 0h4m9 0h4m-3 0h4m-65 1h4m1 0h4m8 0h4m-1 0h4m3 0h4m-3 0h4m18 0h4m-54 1h4m3 0h4m2 0h4m-3 0h4m-3 0h4m3 0h4m-1 0h4m-2 0h4m-3 0h4m-2 0h4m4 0h4m-1 0h4m9 0h4m0 0h4m-59 1h4m3 0h4m17 0h4m7 0h4m0 0h4m-57 1h4m16 0h4m-3 0h4m5 0h4m3 0h4m-1 0h4m6 0h4m0 0h4m-2 0h4m-47 1h4m8 0h4m-3 0h4m-3 0h4m0 0h4m1 0h4m2 0h4m2 0h4m9 0h4m-43 1h4m0 0h4m12 0h4m-3 0h4m-2 0h4m-1 0h4m1 0h4m-3 0h4m4 0h4m-46 1h4m-2 0h4m8 0h4m-3 0h4m-3 0h4m-1 0h4m-3 0h4m-2 0h4m1 0h4m8 0h4m-55 1h4m-2 0h4m3 0h4m4 0h4m-3 0h4m0 0h4m1 0h4m5 0h4m0 0h4m5 0h4m-2 0h4m-37 1h4m2 0h4m0 0h4m1 0h4m-1 0h4m-3 0h4m9 0h4m-74 1h4m22 0h4m8 0h4m8 0h4m5 0h4m-1 0h4m-39 1h4m-3 0h4m8 0h4m4 0h4m2 0h4m7 0h4m1 0h4m0 0h4m-61 1h4m8 0h4m9 0h4m-3 0h4m1 0h4m-2 0h4m4 0h4m-3 0h4m-28 1h4m2 0h4m-2 0h4m5 0h4m-2 0h4m-2 0h4m-21 1h4m6 0h4m-1 0h4m4 0h4m3 0h4m5 0h4m-48 1h4m9 0h4m1 0h4m0 0h4m0 0h4m2 1h4m-30 1h4m13 0h4m14 0h4m-57 1h4m6 0h4m-3 0h4m20 0h4m-2 0h4m-26 1h4m-3 0h4m18 0h4m-2 0h4m-15 1h4m-20 1h4m-16 1h4m28 0h4m17 0h4m-24 1h4m16 0h4m-47 2h4m27 0h4m-25 1h4m10 0h4m0 0h4m-3 0h4m-25 1h4m9 0h4m3 0h4m6 0h4m-29 1h4m-1 0h4m6 0h4m-2 0h4m-90 1h4m22 0h4m62 0h4m-95 1h4m61 1h4m0 0h4m3 0h4m-3 0h4m3 0h4m9 0h4m-2 0h4m-118 1h4m4 0h4m22 0h4m45 0h4m12 0h4m-79 1h4m31 0h4m38 0h4m-3 0h4m0 0h4m-115 1h4m40 0h4m28 0h4m4 0h4m10 0h4m4 0h4m1 0h4m-114 1h4m68 0h4m11 0h4m0 0h4m0 0h4m-2 0h4m0 0h4m6 0h4m-20 1h4m-71 1h4m-1 0h4m57 0h4m27 0h4m-100 1h4m25 0h4m24 0h4m11 0h4m1 0h4m2 0h4m-1 0h4m13 0h4m-63 1h4m12 0h4m-1 0h4m0 0h4m3 0h4m-2 0h4m-104 1h4m6 0h4m0 0h4m32 0h4m23 0h4m-3 0h4m4 0h4m4 0h4m-3 0h4m-3 0h4m6 0h4m10 0h4m13 0h4m-57 1h4m8 0h4m-2 0h4m-3 0h4m-1 0h4m16 0h4m-133 1h4m73 0h4m17 0h4m2 0h4m16 0h4m-34 1h4m17 0h4m3 0h4m-102 1h4m53 0h4m-2 0h4m8 0h4m18 0h4m-2 0h4m0 0h4m2 0h4m-41 1h4m0 0h4m2 0h4m14 0h4m2 0h4m-42 1h4m-2 0h4m3 0h4m0 0h4m-3 0h4m1 0h4m-1 0h4m-3 0h4m1 0h4m10 0h4m-1 0h4m-44 1h4m4 0h4m2 0h4m-3 0h4m-3 0h4m-2 0h4m9 0h4m-41 1h4m-2 0h4m-1 0h4m3 0h4m5 0h4m13 0h4m9 0h4m-54 1h4m1 0h4m14 0h4m1 0h4m-44 1h4m5 0h4m0 0h4m-2 0h4m-1 0h4m-2 0h4m-3 0h4m2 0h4m-3 0h4m-2 0h4m5 0h4m-2 0h4m-48 1h4m8 0h4m-2 0h4m3 0h4m-2 0h4m1 0h4m0 0h4m-1 0h4m-84 1h4m36 0h4m3 0h4m1 0h4m0 0h4m-1 0h4m14 0h4m4 0h4m3 0h4m-42 1h4m7 0h4m1 0h4m-2 0h4m0 0h4m-1 0h4m0 0h4m-1 0h4m1 0h4m19 0h4m-79 1h4m3 0h4m11 0h4m-1 0h4m1 0h4m1 0h4m-3 0h4m-2 0h4m0 0h4m1 0h4m-2 0h4m-2 0h4m-3 0h4m15 0h4m-50 1h4m-2 0h4m-1 0h4m0 0h4m0 0h4m2 0h4m-26 1h4m-3 0h4m-2 0h4m-2 0h4m-17 1h4m9 0h4m-3 0h4m2 0h4m2 0h4m-2 0h4m-38 1h4m24 0h4m3 0h4m0 0h4m-33 1h4m10 0h4m8 0h4m12 0h4m-30 1h4m2 0h4m-31 1h4m24 0h4m1 0h4m21 0h4m-52 1h4m37 0h4m-3 0h4m-52 1h4m-1 0h4m-3 0h4m9 0h4m-3 0h4m18 0h4m-31 1h4m7 0h4m20 0h4m-3 0h4m-60 1h4m3 0h4m5 1h4m-3 0h4m3 0h4m6 0h4m-48 1h4m9 0h4m-1 0h4m2 0h4m-1 0h4m-2 0h4m16 0h4m-1 0h4m-2 0h4m-32 1h4m0 0h4m-2 0h4m-3 0h4m2 0h4m4 0h4m-23 1h4m0 0h4m32 0h4m-64 1h4m21 0h4m4 0h4m-23 1h4m-3 0h4m-1 0h4m6 0h4m-1 0h4m-24 1h4m6 0h4m21 0h4m-37 2h4m1 0h4m-3 0h4m-3 0h4m4 0h4m-3 0h4m-17 1h4m-2 0h4m-2 0h4m-9 1h4m-3 0h4m-2 0h4m-2 0h4m-2 0h4m-24 1h4m5 0h4m-1 0h4m-2 0h4m-3 0h4m2 0h4m-2 0h4m-18 1h4m-1 0h4m1 0h4m-3 0h4m-2 0h4m-1 0h4m-2 0h4m5 0h4m-3 0h4m-30 1h4m-3 0h4m-3 0h4m-2 0h4m-1 0h4m-8 1h4m1 0h4m-2 0h4m-2 0h4m-1 0h4m-1 0h4m-3 0h4m-1 0h4m-40 1h4m3 0h4m-3 0h4m3 0h4m0 0h4m-3 0h4m-3 0h4m-2 0h4m-2 0h4m-3 0h4m-2 0h4m-35 1h4m-3 0h4m6 0h4m-3 0h4m4 0h4m-3 0h4m-1 0h4m-2 0h4m-3 0h4m3 0h4m-43 1h4m10 0h4m-3 0h4m2 0h4m-1 0h4m-2 0h4m2 0h4m-3 0h4m-2 0h4m-2 0h4m-37 1h4m8 0h4m-3 0h4m2 0h4m-2 0h4m0 0h4m-3 0h4m0 0h4m-2 0h4m-1 0h4m-39 1h4m9 0h4m-2 0h4m4 0h4m-2 0h4m3 0h4m22 0h4m-58 1h4m5 0h4m-2 0h4m-3 0h4m-1 0h4m-3 0h4m-2 0h4m-1 0h4m-3 0h4m3 0h4m0 0h4m2 0h4m0 0h4m-50 1h4m5 0h4m-3 0h4m-2 0h4m-3 0h4m-3 0h4m2 0h4m0 0h4m3 0h4m-3 0h4m-3 0h4m2 0h4m-3 0h4m-32 1h4m-2 0h4m-2 0h4m-1 0h4m-2 0h4m-3 0h4m-2 0h4m-1 0h4m-1 0h4m-3 0h4m-3 0h4m-39 1h4m3 0h4m2 0h4m-1 0h4m-3 0h4m-3 0h4m-3 0h4m-1 0h4m-1 0h4m-3 0h4m-3 0h4m-2 0h4m-2 0h4m46 0h4m-78 1h4m7 0h4m-3 0h4m-2 0h4m0 0h4m4 0h4m-3 0h4m-1 0h4m2 0h4m37 0h4m-78 1h4m-2 0h4m-3 0h4m-3 0h4m0 0h4m-3 0h4m0 0h4m0 0h4m-2 0h4m13 0h4m-47 1h4m-3 0h4m0 0h4m-1 0h4m-1 0h4m-1 0h4m-3 0h4m-3 0h4m-3 0h4m-1 0h4m-3 0h4m-2 0h4m-3 0h4m-3 0h4m-3 0h4m-3 0h4m0 0h4m1 0h4m-1 0h4m-1 0h4m3 0h4m13 0h4m-61 1h4m-3 0h4m0 0h4m-2 0h4m-2 0h4m-3 0h4m-2 0h4m-2 0h4m2 0h4m-2 0h4m-3 0h4m-2 0h4m-2 0h4m-28 1h4m2 0h4m0 0h4m-3 0h4m-1 0h4m-2 0h4m-3 0h4m-1 0h4m0 0h4m0 0h4m-3 0h4m29 0h4m-75 1h4m0 0h4m-2 0h4m-3 0h4m-3 0h4m-1 0h4m-2 0h4m1 0h4m-3 0h4m3 0h4m-3 0h4m-3 0h4m-2 0h4m0 0h4m-2 0h4m11 0h4m-55 1h4m1 0h4m1 0h4m-3 0h4m-3 0h4m-2 0h4m5 0h4m-2 0h4m-3 0h4m0 0h4m-2 0h4m-38 1h4m-1 0h4m-1 0h4m-2 0h4m-3 0h4m-2 0h4m-1 0h4m1 0h4m1 0h4m-3 0h4m-2 0h4m35 0h4m-66 1h4m3 0h4m-2 0h4m-1 0h4m-2 0h4m1 0h4m0 0h4m10 0h4m-31 1h4m9 0h4m-2 0h4m39 0h4m-70 1h4m-2 0h4m3 0h4m-3 0h4m-1 0h4m-3 0h4m-3 0h4m-2 0h4m-3 0h4m-3 0h4m-27 1h4m-2 0h4m-1 0h4m1 0h4m0 0h4m-2 0h4m-1 0h4m-1 0h4m3 0h4m-2 0h4m12 0h4m-49 1h4m-3 0h4m9 0h4m4 0h4m-2 0h4m-3 0h4m-1 0h4m0 0h4m-33 1h4m9 0h4m-2 0h4m1 0h4m2 0h4m-39 1h4m-2 0h4m5 0h4m1 0h4m-1 0h4m2 0h4m1 0h4m-1 0h4m-18 1h4m-1 0h4m5 0h4m-1 0h4m-3 0h4m1 0h4m-22 1h4m6 0h4m43 0h4m-76 1h4m9 0h4m2 0h4m5 0h4m-36 1h4m2 0h4m0 0h4m0 0h4m-3 0h4m4 0h4m2 0h4m-29 1h4m8 0h4m39 0h4m-67 1h4m24 0h4m-3 0h4m-21 1h4m-11 1h4m17 0h4m5 0h4m-26 1h4m16 0h4m-19 1h4m-2 0h4m31 0h4m-21 1h4m14 0h4m10 1h4m-10 2h4m-46 1h4m-11 2h4m-11 2h4m0 1h4m-7 1h4m11 0h4m45 0h4m-28 3h4m17 1h4m10 8h4m-22 5h4m-1 15h4" stroke-width="4"/></g>
<g font-size="7" fill="#000" stroke="#000" stroke-width=".22">
<text x="53.5" y="19.9">5.6%</text>
<text x="2.6" y="40.3">77.7</text>
<text x="3.1" y="48.5">%</text>
<text x="49.4" y="46.9">16.5%</text>
</g>
</g>
<g transform="translate(332.91 285.63)">
<path d="M0 0H73.4V55.7" fill="none" stroke="#333" stroke-width="1"/>
<path d="M23.2 0V55.7M0 34.5H73.4" fill="none" stroke="#111" stroke-width="1.25"/>
<path d="M0.15 -0.5V56.5" stroke="#000" stroke-width="1.8" fill="none"/>
<path d="M-1.3 55.7H73.9" stroke="#000" stroke-width="2.1" fill="none"/>
<path d="M0.2 55.7v2.9M0 55.4h-2.7M5.7 55.7v2.1M0 51.2h-1.8M8.9 55.7v2.1M0 48.8h-1.8M11.2 55.7v2.1M0 47.1h-1.8M12.9 55.7v2.1M0 45.7h-1.8M14.4 55.7v2.1M0 44.6h-1.8M15.6 55.7v2.1M0 43.7h-1.8M16.6 55.7v2.1M0 42.9h-1.8M17.6 55.7v2.1M0 42.2h-1.8M18.4 55.7v2.9M0 41.6h-2.7M23.9 55.7v2.1M0 37.4h-1.8M27.1 55.7v2.1M0 34.9h-1.8M29.4 55.7v2.1M0 33.2h-1.8M31.1 55.7v2.1M0 31.9h-1.8M32.6 55.7v2.1M0 30.8h-1.8M33.8 55.7v2.1M0 29.8h-1.8M34.8 55.7v2.1M0 29.0h-1.8M35.8 55.7v2.1M0 28.3h-1.8M36.6 55.7v2.9M0 27.7h-2.7M42.1 55.7v2.1M0 23.5h-1.8M45.3 55.7v2.1M0 21.1h-1.8M47.6 55.7v2.1M0 19.4h-1.8M49.3 55.7v2.1M0 18.0h-1.8M50.8 55.7v2.1M0 16.9h-1.8M52.0 55.7v2.1M0 16.0h-1.8M53.0 55.7v2.1M0 15.2h-1.8M54.0 55.7v2.1M0 14.5h-1.8M54.8 55.7v2.9M0 13.9h-2.7M60.3 55.7v2.1M0 9.7h-1.8M63.5 55.7v2.1M0 7.2h-1.8M65.8 55.7v2.1M0 5.5h-1.8M67.5 55.7v2.1M0 4.2h-1.8M69.0 55.7v2.1M0 3.1h-1.8M70.2 55.7v2.1M0 2.1h-1.8M71.2 55.7v2.1M0 1.3h-1.8M72.2 55.7v2.1M0 0.6h-1.8M73.0 55.7v2.9M0 0.0h-2.7" stroke="#000" stroke-width="1" fill="none"/>
<g font-size="8.6" font-weight="bold" fill="#000" stroke="#000" stroke-width=".25">
<text transform="translate(-3.4 67.0) scale(.7 1)">10<tspan dx=".9" dy="-4.3" font-size="8">0</tspan></text>
<text transform="translate(-4.4 59.8) rotate(-90) scale(.7 1)">10<tspan dx=".9" dy="-4.3" font-size="8">0</tspan></text>
<text transform="translate(14.8 67.0) scale(.7 1)">10<tspan dx=".9" dy="-4.3" font-size="8">1</tspan></text>
<text transform="translate(-4.4 46.0) rotate(-90) scale(.7 1)">10<tspan dx=".9" dy="-4.3" font-size="8">1</tspan></text>
<text transform="translate(33.0 67.0) scale(.7 1)">10<tspan dx=".9" dy="-4.3" font-size="8">2</tspan></text>
<text transform="translate(-4.4 32.1) rotate(-90) scale(.7 1)">10<tspan dx=".9" dy="-4.3" font-size="8">2</tspan></text>
<text transform="translate(51.2 67.0) scale(.7 1)">10<tspan dx=".9" dy="-4.3" font-size="8">3</tspan></text>
<text transform="translate(-4.4 18.2) rotate(-90) scale(.7 1)">10<tspan dx=".9" dy="-4.3" font-size="8">3</tspan></text>
<text transform="translate(69.4 67.0) scale(.7 1)">10<tspan dx=".9" dy="-4.3" font-size="8">4</tspan></text>
<text transform="translate(-4.4 4.4) rotate(-90) scale(.7 1)">10<tspan dx=".9" dy="-4.3" font-size="8">4</tspan></text>
</g>
<text x="36.2" y="72.9" text-anchor="middle" font-size="6.2" font-weight="bold" fill="#000">AnnexinY-FITC</text>
<text transform="translate(-14.5 28.7) rotate(-90)" text-anchor="middle" font-size="6.6" font-weight="bold" fill="#000" stroke="#000" stroke-width=".2">PI</text>
<g transform="scale(.25)" stroke="#000" fill="none"><path d="M95 133h6m52 7h6m-45 4h6m42 0h6m-60 1h6m1 0h6m-3 2h6m37 0h6m-67 2h6m11 0h6m-46 2h6m50 2h6m-4 0h6m-63 2h6m63 0h6m-33 1h6m-22 1h6m11 0h6m1 0h6m0 0h6m-17 1h6m8 0h6m-28 1h6m16 0h6m-52 1h6m23 0h6m-41 1h6m-3 0h6m1 0h6m-4 0h6m-4 0h6m-14 1h6m1 0h6m0 0h6m-1 0h6m-3 0h6m-5 0h6m-3 0h6m3 0h6m-5 0h6m-56 1h6m6 0h6m-1 0h6m18 0h6m7 0h6m-35 1h6m-4 0h6m3 0h6m-2 0h6m0 0h6m-5 0h6m15 0h6m-73 1h6m5 0h6m10 0h6m-5 0h6m0 0h6m-2 0h6m-1 0h6m21 0h6m-74 1h6m-1 0h6m-4 0h6m-5 0h6m-5 0h6m-2 0h6m-5 0h6m10 0h6m-4 0h6m-5 0h6m5 0h6m-3 0h6m-64 1h6m16 0h6m-3 0h6m-1 0h6m-3 0h6m-5 0h6m-5 0h6m-3 0h6m-1 0h6m3 0h6m-3 0h6m-4 0h6m8 0h6m-84 1h6m-2 0h6m4 0h6m4 0h6m-1 0h6m-5 0h6m0 0h6m-4 0h6m-5 0h6m-5 0h6m-3 0h6m-3 0h6m-4 0h6m-5 0h6m-3 0h6m3 0h6m-1 0h6m-1 0h6m-74 1h6m-4 0h6m-1 0h6m-3 0h6m2 0h6m2 0h6m1 0h6m0 0h6m-5 0h6m7 0h6m-5 0h6m-5 0h6m-4 0h6m-1 0h6m-64 1h6m-4 0h6m-1 0h6m-4 0h6m0 0h6m-2 0h6m0 0h6m-1 0h6m-5 0h6m-3 0h6m-4 0h6m1 0h6m-3 0h6m-5 0h6m0 0h6m3 0h6m4 0h6m-5 0h6m-101 1h6m4 0h6m1 0h6m6 0h6m3 0h6m-3 0h6m-2 0h6m-2 0h6m6 0h6m-4 0h6m-5 0h6m-5 0h6m4 0h6m0 0h6m4 0h6m-82 1h6m-4 0h6m2 0h6m-5 0h6m5 0h6m-4 0h6m-4 0h6m-2 0h6m-5 0h6m-4 0h6m-4 0h6m-5 0h6m-3 0h6m2 0h6m0 0h6m-3 0h6m-1 0h6m4 0h6m-70 1h6m3 0h6m0 0h6m4 0h6m-1 0h6m-4 0h6m-1 0h6m-5 0h6m-2 0h6m-5 0h6m-3 0h6m-3 0h6m-4 0h6m-4 0h6m-2 0h6m-67 1h6m-3 0h6m1 0h6m2 0h6m-4 0h6m-2 0h6m1 0h6m-3 0h6m-3 0h6m6 0h6m-5 0h6m-4 0h6m-3 0h6m-2 0h6m-66 1h6m1 0h6m1 0h6m-4 0h6m-3 0h6m-1 0h6m-5 0h6m-5 0h6m-4 0h6m-4 0h6m-4 0h6m-1 0h6m-2 0h6m-2 0h6m0 0h6m-1 0h6m3 0h6m-1 0h6m-61 1h6m-4 0h6m-3 0h6m-2 0h6m-5 0h6m-5 0h6m-5 0h6m-4 0h6m-5 0h6m-5 0h6m-4 0h6m-2 0h6m-4 0h6m-5 0h6m-5 0h6m-5 0h6m-5 0h6m-1 0h6m-4 0h6m14 0h6m6 0h6m-84 1h6m-3 0h6m-3 0h6m-3 0h6m-3 0h6m-5 0h6m2 0h6m-4 0h6m-4 0h6m-5 0h6m-1 0h6m3 0h6m-5 0h6m-4 0h6m-2 0h6m6 0h6m-3 0h6m-4 0h6m-4 0h6m9 0h6m-87 1h6m-1 0h6m-3 0h6m-1 0h6m-4 0h6m-1 0h6m-5 0h6m-3 0h6m-4 0h6m-4 0h6m-5 0h6m0 0h6m-4 0h6m11 0h6m-3 0h6m-2 0h6m-83 1h6m4 0h6m1 0h6m-4 0h6m-4 0h6m-4 0h6m-5 0h6m-4 0h6m-4 0h6m-3 0h6m-3 0h6m-5 0h6m3 0h6m-4 0h6m5 0h6m-5 0h6m-3 0h6m-5 0h6m-4 0h6m-4 0h6m-5 0h6m2 0h6m-81 1h6m-3 0h6m-3 0h6m3 0h6m0 0h6m-1 0h6m-5 0h6m-2 0h6m-4 0h6m5 0h6m-4 0h6m-2 0h6m-4 0h6m-3 0h6m-4 0h6m-5 0h6m2 0h6m-1 0h6m17 0h6m-95 1h6m-2 0h6m-4 0h6m-5 0h6m3 0h6m-4 0h6m-3 0h6m-5 0h6m1 0h6m-5 0h6m-3 0h6m-4 0h6m-5 0h6m-3 0h6m1 0h6m-1 0h6m0 0h6m-5 0h6m-5 0h6m-3 0h6m-3 0h6m-5 0h6m-74 1h6m-1 0h6m-2 0h6m-4 0h6m-4 0h6m-1 0h6m-3 0h6m-5 0h6m0 0h6m-4 0h6m-4 0h6m-3 0h6m-5 0h6m-4 0h6m-5 0h6m0 0h6m-4 0h6m-3 0h6m-5 0h6m-5 0h6m-5 0h6m-3 0h6m-4 0h6m-3 0h6m-3 0h6m-2 0h6m-3 0h6m8 0h6m8 0h6m-119 1h6m8 0h6m12 0h6m-4 0h6m-3 0h6m-4 0h6m-4 0h6m-5 0h6m-4 0h6m-5 0h6m-5 0h6m-4 0h6m-4 0h6m-5 0h6m-3 0h6m-5 0h6m-5 0h6m0 0h6m-3 0h6m-5 0h6m-3 0h6m-5 0h6m-1 0h6m-2 0h6m2 0h6m-85 1h6m1 0h6m3 0h6m-5 0h6m1 0h6m-2 0h6m-1 0h6m-5 0h6m-4 0h6m-5 0h6m-4 0h6m-5 0h6m-5 0h6m-4 0h6m-3 0h6m-5 0h6m-5 0h6m-5 0h6m-3 0h6m1 0h6m-3 0h6m-2 0h6m-5 0h6m-2 0h6m-5 0h6m9 0h6m-99 1h6m10 0h6m-3 0h6m0 0h6m-5 0h6m-5 0h6m0 0h6m-1 0h6m-5 0h6m-5 0h6m-4 0h6m-5 0h6m-5 0h6m-5 0h6m-5 0h6m-5 0h6m-5 0h6m-5 0h6m-5 0h6m-5 0h6m-5 0h6m-5 0h6m-4 0h6m-5 0h6m-5 0h6m-5 0h6m-5 0h6m-3 0h6m-5 0h6m-1 0h6m-4 0h6m-5 0h6m-5 0h6m2 0h6m-4 0h6m-87 1h6m-3 0h6m9 0h6m-4 0h6m-1 0h6m-2 0h6m-5 0h6m0 0h6m-2 0h6m-3 0h6m-4 0h6m-2 0h6m-5 0h6m-2 0h6m-1 0h6m-5 0h6m-5 0h6m0 0h6m-1 0h6m-2 0h6m2 0h6m-3 0h6m0 0h6m-95 1h6m-4 0h6m2 0h6m-1 0h6m-5 0h6m-5 0h6m-3 0h6m-2 0h6m-2 0h6m-5 0h6m-4 0h6m-1 0h6m-4 0h6m-3 0h6m-5 0h6m-5 0h6m-5 0h6m-5 0h6m-5 0h6m-5 0h6m-5 0h6m-5 0h6m-2 0h6m-5 0h6m-2 0h6m-5 0h6m-4 0h6m-3 0h6m-3 0h6m-4 0h6m-1 0h6m-5 0h6m4 0h6m-4 0h6m8 0h6m-111 1h6m1 0h6m3 0h6m-3 0h6m-5 0h6m-5 0h6m-5 0h6m-5 0h6m-3 0h6m-5 0h6m-5 0h6m-3 0h6m-5 0h6m-3 0h6m-5 0h6m-5 0h6m-3 0h6m-4 0h6m-5 0h6m-5 0h6m-5 0h6m-5 0h6m-5 0h6m-4 0h6m-5 0h6m-5 0h6m-5 0h6m-5 0h6m-4 0h6m-4 0h6m-5 0h6m-4 0h6m-5 0h6m-1 0h6m-2 0h6m-4 0h6m-3 0h6m-5 0h6m-2 0h6m-4 0h6m-4 0h6m-5 0h6m-4 0h6m-4 0h6m-90 1h6m8 0h6m-4 0h6m-5 0h6m-3 0h6m-5 0h6m-3 0h6m-5 0h6m-4 0h6m-4 0h6m-3 0h6m-5 0h6m-2 0h6m-4 0h6m-5 0h6m-4 0h6m-5 0h6m-4 0h6m-4 0h6m-4 0h6m-4 0h6m-5 0h6m-5 0h6m-3 0h6m-2 0h6m-4 0h6m-5 0h6m-1 0h6m-72 1h6m-3 0h6m5 0h6m-1 0h6m-5 0h6m-5 0h6m-4 0h6m1 0h6m-2 0h6m-4 0h6m-4 0h6m-5 0h6m-2 0h6m-2 0h6m-4 0h6m-3 0h6m-3 0h6m-4 0h6m-4 0h6m-4 0h6m-2 0h6m0 0h6m-3 0h6m-80 1h6m-4 0h6m7 0h6m-4 0h6m-5 0h6m-4 0h6m-3 0h6m-5 0h6m-5 0h6m-5 0h6m-4 0h6m-5 0h6m-4 0h6m-5 0h6m-3 0h6m-3 0h6m-5 0h6m-2 0h6m-5 0h6m-3 0h6m-3 0h6m-3 0h6m-4 0h6m-3 0h6m-4 0h6m-4 0h6m4 0h6m-103 1h6m13 0h6m6 0h6m-5 0h6m-1 0h6m-4 0h6m-4 0h6m-5 0h6m-4 0h6m-5 0h6m-3 0h6m-5 0h6m-4 0h6m-5 0h6m-5 0h6m-5 0h6m-4 0h6m-4 0h6m-4 0h6m-5 0h6m-1 0h6m-2 0h6m-5 0h6m-4 0h6m-3 0h6m-5 0h6m-5 0h6m-5 0h6m-5 0h6m-4 0h6m-1 0h6m-5 0h6m0 0h6m5 0h6m-4 0h6m-101 1h6m0 0h6m-4 0h6m3 0h6m-4 0h6m-4 0h6m-5 0h6m-5 0h6m-4 0h6m-5 0h6m-3 0h6m-5 0h6m-5 0h6m-1 0h6m-5 0h6m-3 0h6m0 0h6m-5 0h6m-5 0h6m-5 0h6m-4 0h6m-4 0h6m-5 0h6m-5 0h6m-4 0h6m-5 0h6m-5 0h6m-3 0h6m-1 0h6m-5 0h6m-4 0h6m-5 0h6m-5 0h6m-4 0h6m-3 0h6m-3 0h6m-2 0h6m-2 0h6m-80 1h6m-1 0h6m-5 0h6m0 0h6m-4 0h6m-5 0h6m-5 0h6m-5 0h6m-4 0h6m-5 0h6m-5 0h6m-5 0h6m-4 0h6m-5 0h6m-4 0h6m-4 0h6m-3 0h6m-4 0h6m-5 0h6m-5 0h6m-5 0h6m-5 0h6m-5 0h6m-5 0h6m-5 0h6m-4 0h6m-4 0h6m-5 0h6m-5 0h6m-5 0h6m-4 0h6m-4 0h6m-5 0h6m-5 0h6m-4 0h6m-3 0h6m-4 0h6m-3 0h6m25 0h6m-122 1h6m-2 0h6m11 0h6m-4 0h6m4 0h6m-4 0h6m-4 0h6m-2 0h6m-4 0h6m-5 0h6m-5 0h6m-5 0h6m-2 0h6m-4 0h6m-3 0h6m-5 0h6m-5 0h6m-5 0h6m-5 0h6m-2 0h6m-5 0h6m-4 0h6m-5 0h6m-5 0h6m-2 0h6m-4 0h6m-5 0h6m-4 0h6m-2 0h6m-4 0h6m-1 0h6m-3 0h6m-2 0h6m-99 1h6m6 0h6m-2 0h6m2 0h6m-3 0h6m-5 0h6m3 0h6m-4 0h6m-5 0h6m-4 0h6m-3 0h6m-5 0h6m-5 0h6m-5 0h6m-4 0h6m-2 0h6m-5 0h6m-3 0h6m-5 0h6m-4 0h6m-5 0h6m-5 0h6m1 0h6m-5 0h6m-5 0h6m-5 0h6m-3 0h6m-4 0h6m-5 0h6m-3 0h6m-100 1h6m6 0h6m4 0h6m6 0h6m-4 0h6m-4 0h6m-1 0h6m-2 0h6m-5 0h6m-5 0h6m-5 0h6m-5 0h6m-4 0h6m-3 0h6m-5 0h6m-5 0h6m-5 0h6m-4 0h6m-5 0h6m-5 0h6m-5 0h6m-5 0h6m-1 0h6m-4 0h6m-4 0h6m-5 0h6m-5 0h6m-4 0h6m3 0h6m-5 0h6m-3 0h6m-5 0h6m7 0h6m-103 1h6m8 0h6m4 0h6m-4 0h6m-4 0h6m-3 0h6m-5 0h6m-5 0h6m-5 0h6m-4 0h6m-4 0h6m-5 0h6m-5 0h6m-5 0h6m-5 0h6m-5 0h6m-5 0h6m2 0h6m-4 0h6m-5 0h6m-5 0h6m-5 0h6m-5 0h6m-5 0h6m-5 0h6m-5 0h6m-5 0h6m-5 0h6m-5 0h6m1 0h6m0 0h6m-1 0h6m-5 0h6m-2 0h6m-66 1h6m-3 0h6m0 0h6m-5 0h6m-4 0h6m-2 0h6m-3 0h6m-5 0h6m-4 0h6m-5 0h6m-5 0h6m-2 0h6m-4 0h6m-5 0h6m-5 0h6m-5 0h6m-4 0h6m-4 0h6m-5 0h6m0 0h6m5 0h6m-4 0h6m1 0h6m-2 0h6m-94 1h6m-4 0h6m8 0h6m3 0h6m-4 0h6m-5 0h6m-4 0h6m-5 0h6m-5 0h6m-4 0h6m-4 0h6m-5 0h6m-4 0h6m-5 0h6m-4 0h6m-4 0h6m-3 0h6m-5 0h6m-5 0h6m-5 0h6m-2 0h6m-5 0h6m-4 0h6m-5 0h6m-5 0h6m-5 0h6m-4 0h6m-3 0h6m-5 0h6m-1 0h6m-5 0h6m-2 0h6m-5 0h6m1 0h6m-84 1h6m-4 0h6m5 0h6m-3 0h6m-5 0h6m-2 0h6m0 0h6m-4 0h6m-5 0h6m-3 0h6m-5 0h6m-5 0h6m-4 0h6m-5 0h6m-5 0h6m-4 0h6m-5 0h6m-5 0h6m-4 0h6m-4 0h6m-5 0h6m-5 0h6m-5 0h6m-4 0h6m-1 0h6m-4 0h6m-5 0h6m-1 0h6m-4 0h6m-5 0h6m-3 0h6m19 0h6m-107 1h6m-4 0h6m-2 0h6m10 0h6m-3 0h6m-4 0h6m-5 0h6m-5 0h6m-5 0h6m-5 0h6m-3 0h6m-2 0h6m-4 0h6m-4 0h6m-5 0h6m-5 0h6m-5 0h6m-5 0h6m-5 0h6m-5 0h6m-3 0h6m-5 0h6m-4 0h6m-5 0h6m-5 0h6m-5 0h6m-2 0h6m-3 0h6m-4 0h6m2 0h6m-5 0h6m-5 0h6m-4 0h6m-2 0h6m3 0h6m-104 1h6m9 0h6m1 0h6m-3 0h6m-5 0h6m-1 0h6m-5 0h6m-4 0h6m-5 0h6m1 0h6m-2 0h6m-5 0h6m-1 0h6m-5 0h6m-4 0h6m-4 0h6m-5 0h6m-2 0h6m-1 0h6m-1 0h6m-4 0h6m-4 0h6m-3 0h6m-83 1h6m4 0h6m6 0h6m-3 0h6m-4 0h6m-5 0h6m-5 0h6m-3 0h6m-5 0h6m-5 0h6m-5 0h6m-4 0h6m-4 0h6m-3 0h6m-4 0h6m-3 0h6m-5 0h6m-3 0h6m-5 0h6m-5 0h6m0 0h6m-3 0h6m-4 0h6m-5 0h6m-4 0h6m2 0h6m-2 0h6m-3 0h6m7 0h6m-89 1h6m-5 0h6m1 0h6m0 0h6m-5 0h6m-4 0h6m-2 0h6m-5 0h6m-5 0h6m-1 0h6m-3 0h6m-5 0h6m0 0h6m-5 0h6m-4 0h6m-5 0h6m-5 0h6m-5 0h6m-4 0h6m-4 0h6m-5 0h6m0 0h6m-3 0h6m2 0h6m-90 1h6m5 0h6m-2 0h6m-4 0h6m-2 0h6m0 0h6m-3 0h6m-4 0h6m-3 0h6m-3 0h6m-5 0h6m-4 0h6m-5 0h6m-5 0h6m-5 0h6m-5 0h6m-3 0h6m-5 0h6m-5 0h6m-5 0h6m-5 0h6m-5 0h6m-2 0h6m-2 0h6m-5 0h6m-5 0h6m0 0h6m-4 0h6m-3 0h6m-5 0h6m-2 0h6m-4 0h6m15 0h6m-101 1h6m3 0h6m6 0h6m-5 0h6m-5 0h6m-5 0h6m-5 0h6m-2 0h6m-4 0h6m-5 0h6m-5 0h6m-4 0h6m-5 0h6m-5 0h6m-2 0h6m-3 0h6m-5 0h6m-5 0h6m-4 0h6m-5 0h6m-5 0h6m-4 0h6m-5 0h6m-4 0h6m-5 0h6m-3 0h6m-5 0h6m-3 0h6m-5 0h6m-4 0h6m-1 0h6m-4 0h6m-4 0h6m-3 0h6m4 0h6m0 0h6m-101 1h6m3 0h6m-5 0h6m2 0h6m-3 0h6m-3 0h6m-3 0h6m-2 0h6m-5 0h6m0 0h6m-4 0h6m-5 0h6m-4 0h6m-5 0h6m-5 0h6m-5 0h6m-3 0h6m-3 0h6m-2 0h6m-5 0h6m-3 0h6m-5 0h6m-4 0h6m-4 0h6m-4 0h6m-5 0h6m-4 0h6m3 0h6m17 0h6m-109 1h6m1 0h6m4 0h6m-5 0h6m-5 0h6m-5 0h6m-3 0h6m-2 0h6m-4 0h6m0 0h6m-2 0h6m-4 0h6m-4 0h6m-5 0h6m-4 0h6m-5 0h6m-4 0h6m-5 0h6m-5 0h6m2 0h6m-4 0h6m-5 0h6m-1 0h6m-4 0h6m-5 0h6m53 0h6m-129 1h6m-3 0h6m0 0h6m-4 0h6m-4 0h6m-2 0h6m2 0h6m-5 0h6m-2 0h6m-1 0h6m-5 0h6m-4 0h6m2 0h6m-3 0h6m-5 0h6m11 0h6m-75 1h6m-4 0h6m3 0h6m-2 0h6m-3 0h6m-1 0h6m-5 0h6m-5 0h6m0 0h6m-5 0h6m-4 0h6m-4 0h6m-4 0h6m2 0h6m-3 0h6m0 0h6m-5 0h6m-1 0h6m-5 0h6m-5 0h6m-5 0h6m2 0h6m-3 0h6m-2 0h6m-89 1h6m5 0h6m-3 0h6m-1 0h6m-2 0h6m-2 0h6m-5 0h6m-5 0h6m-5 0h6m-5 0h6m-3 0h6m-1 0h6m-5 0h6m-4 0h6m-5 0h6m1 0h6m-5 0h6m1 0h6m-5 0h6m-3 0h6m-3 0h6m-4 0h6m-1 0h6m3 0h6m-113 1h6m32 0h6m-4 0h6m-4 0h6m-3 0h6m-5 0h6m0 0h6m-5 0h6m-2 0h6m-2 0h6m-3 0h6m-3 0h6m-2 0h6m-5 0h6m-5 0h6m-5 0h6m-5 0h6m-4 0h6m-5 0h6m-2 0h6m-5 0h6m-4 0h6m-4 0h6m-1 0h6m-5 0h6m-65 1h6m-3 0h6m-4 0h6m1 0h6m-5 0h6m-5 0h6m-4 0h6m-3 0h6m-5 0h6m-4 0h6m-4 0h6m-4 0h6m-3 0h6m-5 0h6m-5 0h6m-4 0h6m-5 0h6m-5 0h6m-3 0h6m-5 0h6m-3 0h6m-2 0h6m-2 0h6m4 0h6m-5 0h6m7 0h6m-97 1h6m11 0h6m-3 0h6m0 0h6m-2 0h6m-3 0h6m-4 0h6m-5 0h6m-5 0h6m-2 0h6m0 0h6m-2 0h6m-3 0h6m-5 0h6m-4 0h6m-4 0h6m0 0h6m-4 0h6m1 0h6m-5 0h6m-3 0h6m-2 0h6m21 0h6m-102 1h6m-3 0h6m-2 0h6m-5 0h6m-5 0h6m-5 0h6m3 0h6m-3 0h6m-5 0h6m-5 0h6m-1 0h6m-4 0h6m-5 0h6m3 0h6m-2 0h6m-3 0h6m-3 0h6m-2 0h6m6 0h6m-76 1h6m-2 0h6m2 0h6m-5 0h6m-5 0h6m-5 0h6m-4 0h6m-4 0h6m-4 0h6m-3 0h6m4 0h6m-5 0h6m-4 0h6m-5 0h6m-3 0h6m-1 0h6m-5 0h6m1 0h6m-3 0h6m-1 0h6m-2 0h6m4 0h6m1 0h6m-112 1h6m-2 0h6m-4 0h6m-5 0h6m-2 0h6m-4 0h6m-5 0h6m-5 0h6m-5 0h6m-5 0h6m-4 0h6m-5 0h6m-5 0h6m-5 0h6m-5 0h6m-5 0h6m-5 0h6m-5 0h6m-5 0h6m-5 0h6m-5 0h6m-5 0h6m-4 0h6m-5 0h6m-5 0h6m-5 0h6m-5 0h6m-5 0h6m-5 0h6m-5 0h6m-5 0h6m-5 0h6m-4 0h6m-5 0h6m-5 0h6m-5 0h6m-5 0h6m-5 0h6m-5 0h6m-5 0h6m-5 0h6m-5 0h6m-5 0h6m-5 0h6m-5 0h6m-5 0h6m-5 0h6m-5 0h6m-5 0h6m-5 0h6m-5 0h6m-5 0h6m-5 0h6m-5 0h6m-5 0h6m-5 0h6m-5 0h6m-5 0h6m-5 0h6m-5 0h6m-5 0h6m-5 0h6m-5 0h6m-5 0h6m-5 0h6m-5 0h6m-5 0h6m-5 0h6m-4 0h6m-5 0h6m-5 0h6m-5 0h6m-5 0h6m-5 0h6m-5 0h6m-5 0h6m-5 0h6m-5 0h6m-4 0h6m2 0h6m-5 0h6m-1 0h6" stroke-width="6"/><path d="M169 47h4m-66 9h4m54 0h4m22 0h4m-77 2h4m86 0h4m-110 2h4m10 1h4m45 0h4m-33 1h4m25 0h4m-51 1h4m20 0h4m14 0h4m-50 1h4m3 0h4m-2 0h4m8 0h4m0 0h4m7 0h4m5 0h4m-70 1h4m12 0h4m4 0h4m21 0h4m-1 0h4m-3 0h4m3 0h4m-43 1h4m-3 0h4m-3 0h4m-3 0h4m3 0h4m2 0h4m-1 0h4m9 0h4m-3 0h4m9 0h4m3 0h4m-2 0h4m36 0h4m-105 1h4m-1 0h4m8 0h4m-1 0h4m-2 0h4m-1 0h4m-2 0h4m-3 0h4m-1 0h4m1 0h4m5 0h4m2 0h4m-1 0h4m1 0h4m-2 0h4m-69 1h4m-1 0h4m23 0h4m0 0h4m-2 0h4m-2 0h4m-3 0h4m-3 0h4m-3 0h4m-1 0h4m9 0h4m4 0h4m-79 1h4m5 0h4m7 0h4m1 0h4m1 0h4m-1 0h4m-1 0h4m-2 0h4m0 0h4m-1 0h4m-3 0h4m-2 0h4m-3 0h4m-2 0h4m-3 0h4m-3 0h4m-1 0h4m-3 0h4m13 0h4m0 0h4m-2 0h4m-2 0h4m2 0h4m4 0h4m-99 1h4m18 0h4m-3 0h4m-3 0h4m-1 0h4m0 0h4m2 0h4m-3 0h4m-3 0h4m-2 0h4m-2 0h4m-3 0h4m-3 0h4m-3 0h4m-2 0h4m-2 0h4m-3 0h4m-2 0h4m4 0h4m-2 0h4m-2 0h4m5 0h4m0 0h4m6 0h4m-88 1h4m-2 0h4m0 0h4m-1 0h4m0 0h4m-2 0h4m0 0h4m-2 0h4m5 0h4m-1 0h4m-3 0h4m-2 0h4m-1 0h4m-3 0h4m-3 0h4m-2 0h4m0 0h4m-2 0h4m-3 0h4m-3 0h4m-3 0h4m2 0h4m0 0h4m-2 0h4m12 0h4m-77 1h4m8 0h4m0 0h4m-2 0h4m-1 0h4m-2 0h4m-3 0h4m-3 0h4m-3 0h4m-2 0h4m-3 0h4m-3 0h4m-1 0h4m-1 0h4m-3 0h4m-2 0h4m-3 0h4m-3 0h4m-3 0h4m3 0h4m1 0h4m0 0h4m-2 0h4m-63 1h4m-2 0h4m2 0h4m0 0h4m-2 0h4m2 0h4m-3 0h4m-3 0h4m3 0h4m-3 0h4m-2 0h4m-2 0h4m-3 0h4m-3 0h4m-2 0h4m-2 0h4m-3 0h4m-1 0h4m-3 0h4m-3 0h4m-3 0h4m1 0h4m-2 0h4m-2 0h4m1 0h4m-2 0h4m-76 1h4m9 0h4m-3 0h4m-3 0h4m1 0h4m-2 0h4m0 0h4m-2 0h4m-1 0h4m-3 0h4m1 0h4m-3 0h4m-3 0h4m1 0h4m-1 0h4m-2 0h4m-2 0h4m-1 0h4m-1 0h4m-3 0h4m2 0h4m-2 0h4m-125 1h4m41 0h4m20 0h4m-1 0h4m-3 0h4m-1 0h4m-3 0h4m-3 0h4m-2 0h4m-2 0h4m-3 0h4m-2 0h4m-1 0h4m-2 0h4m-2 0h4m-3 0h4m-2 0h4m-1 0h4m-3 0h4m-2 0h4m-3 0h4m-3 0h4m1 0h4m-3 0h4m-2 0h4m-2 0h4m-1 0h4m-3 0h4m-2 0h4m-3 0h4m-2 0h4m9 0h4m15 0h4m-119 1h4m11 0h4m9 0h4m-2 0h4m4 0h4m-3 0h4m-3 0h4m-3 0h4m-3 0h4m-2 0h4m4 0h4m0 0h4m-3 0h4m0 0h4m-1 0h4m2 0h4m-1 0h4m7 0h4m-1 0h4m4 0h4m-76 1h4m7 0h4m-3 0h4m1 0h4m-3 0h4m5 0h4m-3 0h4m-2 0h4m-2 0h4m-3 0h4m-3 0h4m-3 0h4m-3 0h4m3 0h4m-3 0h4m0 0h4m-3 0h4m12 0h4m12 0h4m-143 1h4m38 0h4m15 0h4m4 0h4m3 0h4m1 0h4m3 0h4m5 0h4m4 0h4m-1 0h4m-2 0h4m-3 0h4m1 0h4m7 0h4m0 0h4m-126 1h4m42 0h4m0 0h4m4 0h4m-3 0h4m5 0h4m-3 0h4m-3 0h4m-1 0h4m0 0h4m-3 0h4m-3 0h4m-2 0h4m1 0h4m3 0h4m6 0h4m-3 0h4m-102 1h4m25 0h4m13 0h4m-1 0h4m-3 0h4m-1 0h4m3 0h4m-2 0h4m0 0h4m-1 0h4m1 0h4m-2 0h4m-3 0h4m-3 0h4m-1 0h4m4 0h4m-2 0h4m-2 0h4m-3 0h4m4 0h4m3 0h4m-148 1h4m2 0h4m110 0h4m1 0h4m6 0h4m3 0h4m-120 1h4m58 0h4m0 0h4m20 0h4m1 0h4m22 0h4m-68 1h4m22 0h4m-1 0h4m2 0h4m5 0h4m-1 0h4m-40 1h4m15 0h4m-32 1h4m17 0h4m6 0h4m9 0h4m-45 1h4m2 0h4m26 0h4m-74 1h4m84 0h4m20 0h4m-138 1h4m79 0h4m-98 1h4m39 0h4m56 1h4m13 1h4m-29 1h4m-1 0h4m0 0h4m20 0h4m-139 1h4m48 0h4m49 0h4m-49 1h4m24 0h4m1 0h4m11 0h4m12 0h4m12 0h4m-80 1h4m-35 1h4m58 0h4m-126 1h4m106 0h4m9 0h4m-34 2h4m9 0h4m31 0h4m8 0h4m37 0h4m-46 1h4m-147 1h4m17 0h4m71 0h4m56 0h4m-3 0h4m-36 1h4m7 0h4m-3 0h4m8 0h4m-38 1h4m22 0h4m15 0h4m9 0h4m-137 1h4m1 0h4m57 0h4m8 0h4m1 0h4m11 0h4m-88 1h4m48 1h4m3 0h4m22 0h4m-2 0h4m-92 1h4m6 0h4m68 0h4m9 0h4m-48 1h4m26 0h4m0 0h4m-1 0h4m-66 1h4m49 0h4m5 0h4m-55 1h4m9 0h4m6 0h4m6 0h4m7 0h4m2 0h4m-80 1h4m71 0h4m-2 0h4m-2 0h4m1 0h4m-60 1h4m28 0h4m12 0h4m-22 1h4m3 0h4m38 0h4m-153 1h4m71 0h4m5 0h4m9 0h4m24 0h4m-46 1h4m17 0h4m-2 0h4m-3 0h4m-2 0h4m-73 1h4m14 0h4m8 0h4m26 0h4m-2 0h4m6 0h4m2 0h4m-17 1h4m0 0h4m-3 0h4m-92 1h4m49 0h4m37 0h4m32 0h4m-57 1h4m10 0h4m6 0h4m-120 1h4m25 1h4m46 0h4m11 0h4m-1 0h4m-2 0h4m6 0h4m-21 1h4m-20 1h4m9 0h4m-3 0h4m4 0h4m-8 1h4m1 0h4m0 0h4m-3 0h4m-14 1h4m-1 0h4m-17 1h4m2 0h4m-1 0h4m8 0h4m-78 1h4m66 0h4m2 0h4m-2 0h4m-96 1h4m77 0h4m5 0h4m-1 0h4m-30 1h4m1 0h4m4 0h4m-23 1h4m1 0h4m3 0h4m-1 0h4m7 0h4m-30 1h4m8 0h4m6 0h4m-1 0h4m3 0h4m4 0h4m-38 1h4m4 0h4m-3 0h4m-3 0h4m-18 1h4m5 0h4m0 0h4m-2 0h4m9 0h4m-1 0h4m-39 1h4m-3 0h4m0 0h4m-2 0h4m-3 0h4m-1 0h4m-3 0h4m1 0h4m1 0h4m-3 0h4m2 0h4m-33 1h4m0 0h4m2 0h4m3 0h4m-3 0h4m-2 0h4m-3 0h4m-2 0h4m0 0h4m1 0h4m0 0h4m-33 1h4m-3 0h4m-3 0h4m-3 0h4m-3 0h4m-3 0h4m-1 0h4m-1 0h4m-36 1h4m4 0h4m2 0h4m2 0h4m10 0h4m-1 0h4m-3 0h4m13 0h4m-29 1h4m-3 0h4m-3 0h4m-1 0h4m1 0h4m-3 0h4m6 0h4m-38 1h4m-2 0h4m-1 0h4m-2 0h4m-2 0h4m-3 0h4m-2 0h4m-1 0h4m-1 0h4m0 0h4m2 0h4m-40 1h4m-2 0h4m-3 0h4m-1 0h4m-2 0h4m-1 0h4m0 0h4m4 0h4m-3 0h4m-2 0h4m5 0h4m-28 1h4m-2 0h4m-1 0h4m-3 0h4m-3 0h4m-3 0h4m-2 0h4m-3 0h4m-3 0h4m2 0h4m-3 0h4m0 0h4m16 0h4m-60 1h4m-3 0h4m3 0h4m0 0h4m1 0h4m-1 0h4m-3 0h4m-2 0h4m-3 0h4m-1 0h4m5 0h4m-1 0h4m6 0h4m-55 1h4m6 0h4m-1 0h4m-1 0h4m-1 0h4m-2 0h4m0 0h4m2 0h4m-3 0h4m0 0h4m25 0h4m-63 1h4m-3 0h4m-2 0h4m-3 0h4m-2 0h4m-3 0h4m-2 0h4m-3 0h4m-3 0h4m-2 0h4m-1 0h4m-3 0h4m-2 0h4m3 0h4m-2 0h4m-35 1h4m-2 0h4m-3 0h4m-3 0h4m-1 0h4m-2 0h4m-3 0h4m-3 0h4m1 0h4m0 0h4m-3 0h4m-3 0h4m-3 0h4m-3 0h4m0 0h4m0 0h4m-3 0h4m-33 1h4m-3 0h4m-2 0h4m-2 0h4m-1 0h4m-3 0h4m-3 0h4m-3 0h4m-3 0h4m-3 0h4m-3 0h4m-2 0h4m-3 0h4m-3 0h4m-1 0h4m-3 0h4m-25 1h4m0 0h4m-3 0h4m-2 0h4m-2 0h4m-2 0h4m-3 0h4m-2 0h4m-2 0h4m-3 0h4m-1 0h4m-3 0h4m-2 0h4m-38 1h4m-2 0h4m5 0h4m1 0h4m-1 0h4m-1 0h4m-2 0h4m-3 0h4m-3 0h4m-3 0h4m-1 0h4m-3 0h4m-3 0h4m2 0h4m-31 1h4m-1 0h4m-3 0h4m0 0h4m-3 0h4m-3 0h4m-2 0h4m-2 0h4m-3 0h4m-3 0h4m-2 0h4m-3 0h4m2 0h4m-28 1h4m-3 0h4m-1 0h4m1 0h4m-3 0h4m-3 0h4m-3 0h4m-3 0h4m-2 0h4m-3 0h4m-2 0h4m-2 0h4m-3 0h4m-2 0h4m0 0h4m-49 1h4m16 0h4m-2 0h4m-2 0h4m-3 0h4m-3 0h4m-3 0h4m-3 0h4m-2 0h4m-3 0h4m-3 0h4m-2 0h4m-3 0h4m1 0h4m-2 0h4m-38 1h4m-2 0h4m1 0h4m-3 0h4m-2 0h4m2 0h4m-3 0h4m1 0h4m-2 0h4m2 0h4m-25 1h4m-2 0h4m-3 0h4m-3 0h4m-1 0h4m-3 0h4m1 0h4m-1 0h4m-40 1h4m9 0h4m1 0h4m-3 0h4m-2 0h4m-3 0h4m0 0h4m-2 0h4m-1 0h4m-3 0h4m-3 0h4m-2 0h4m-2 0h4m1 0h4m-3 0h4m0 0h4m0 0h4m0 0h4m-52 1h4m8 0h4m-3 0h4m0 0h4m-3 0h4m1 0h4m2 0h4m1 0h4m-1 0h4m-3 0h4m-34 1h4m0 0h4m0 0h4m-3 0h4m-3 0h4m-2 0h4m-3 0h4m-2 0h4m-3 0h4m0 0h4m-3 0h4m8 0h4m-2 0h4m-52 1h4m8 0h4m3 0h4m-3 0h4m-2 0h4m2 0h4m-2 0h4m-3 0h4m-3 0h4m0 0h4m-17 1h4m-1 0h4m0 0h4m-2 0h4m-3 0h4m5 0h4m0 0h4m-40 1h4m0 0h4m-1 0h4m3 0h4m-1 0h4m-3 0h4m-1 0h4m1 0h4m-3 0h4m-3 0h4m-21 1h4m-3 0h4m0 0h4m-3 0h4m1 0h4m-2 0h4m-3 0h4m2 0h4m-34 1h4m1 0h4m1 0h4m4 0h4m2 0h4m0 0h4m-26 1h4m-1 0h4m-3 0h4m-2 0h4m6 0h4m-23 1h4m3 0h4m1 0h4m-2 0h4m-2 0h4m-25 1h4m8 0h4m-2 0h4m-19 1h4m3 0h4m6 0h4m-1 0h4m-2 0h4m-21 1h4m0 1h4m-3 0h4m4 0h4m1 0h4m-2 0h4m0 0h4m1 0h4m-27 1h4m-2 0h4m6 0h4m-24 1h4m6 0h4m13 0h4m-1 0h4m-1 0h4m-23 1h4m0 0h4m3 0h4m-15 1h4m-2 0h4m-8 1h4m-1 0h4m-14 1h4m4 0h4m-9 1h4m27 0h4m-23 1h4m-23 2h4m1 0h4m-20 1h4m7 1h4m2 0h4m17 2h4m17 0h4m-24 3h4m-2 1h4m-30 1h4m24 0h4m-15 2h4m7 0h4m8 0h4m-19 1h4m15 0h4m-36 2h4m14 0h4m-9 1h4m-7 2h4m4 0h4m-6 1h4m-18 1h4m-5 1h4m-19 2h4m26 0h4m11 0h4m-28 2h4m-2 0h4m-8 1h4m9 0h4m-6 1h4m-26 1h4m22 1h4m-15 1h4m14 3h4m-9 1h4m-2 0h4m-17 1h4m0 2h4m-9 4h4m6 0h4m-18 1h4m1 0h4m-1 0h4m11 0h4" stroke-width="4"/></g>
<g font-size="7" fill="#000" stroke="#000" stroke-width=".22">
<text x="53.6" y="19.7">3.2%</text>
<text x="2.7" y="40.0">73.6</text>
<text x="3.2" y="48.3">%</text>
<text x="49.5" y="46.6">23.0%</text>
</g>
</g>
<g transform="translate(437.81 285.9)">
<path d="M0 0H73.4V55.7" fill="none" stroke="#333" stroke-width="1"/>
<path d="M23.2 0V55.7M0 34.5H73.4" fill="none" stroke="#111" stroke-width="1.25"/>
<path d="M0.15 -0.5V56.5" stroke="#000" stroke-width="1.8" fill="none"/>
<path d="M-1.3 55.7H73.9" stroke="#000" stroke-width="2.1" fill="none"/>
<path d="M0.2 55.7v2.9M0 55.4h-2.7M5.7 55.7v2.1M0 51.2h-1.8M8.9 55.7v2.1M0 48.8h-1.8M11.2 55.7v2.1M0 47.1h-1.8M12.9 55.7v2.1M0 45.7h-1.8M14.4 55.7v2.1M0 44.6h-1.8M15.6 55.7v2.1M0 43.7h-1.8M16.6 55.7v2.1M0 42.9h-1.8M17.6 55.7v2.1M0 42.2h-1.8M18.4 55.7v2.9M0 41.6h-2.7M23.9 55.7v2.1M0 37.4h-1.8M27.1 55.7v2.1M0 34.9h-1.8M29.4 55.7v2.1M0 33.2h-1.8M31.1 55.7v2.1M0 31.9h-1.8M32.6 55.7v2.1M0 30.8h-1.8M33.8 55.7v2.1M0 29.8h-1.8M34.8 55.7v2.1M0 29.0h-1.8M35.8 55.7v2.1M0 28.3h-1.8M36.6 55.7v2.9M0 27.7h-2.7M42.1 55.7v2.1M0 23.5h-1.8M45.3 55.7v2.1M0 21.1h-1.8M47.6 55.7v2.1M0 19.4h-1.8M49.3 55.7v2.1M0 18.0h-1.8M50.8 55.7v2.1M0 16.9h-1.8M52.0 55.7v2.1M0 16.0h-1.8M53.0 55.7v2.1M0 15.2h-1.8M54.0 55.7v2.1M0 14.5h-1.8M54.8 55.7v2.9M0 13.9h-2.7M60.3 55.7v2.1M0 9.7h-1.8M63.5 55.7v2.1M0 7.2h-1.8M65.8 55.7v2.1M0 5.5h-1.8M67.5 55.7v2.1M0 4.2h-1.8M69.0 55.7v2.1M0 3.1h-1.8M70.2 55.7v2.1M0 2.1h-1.8M71.2 55.7v2.1M0 1.3h-1.8M72.2 55.7v2.1M0 0.6h-1.8M73.0 55.7v2.9M0 0.0h-2.7" stroke="#000" stroke-width="1" fill="none"/>
<g font-size="8.6" font-weight="bold" fill="#000" stroke="#000" stroke-width=".25">
<text transform="translate(-3.4 67.0) scale(.7 1)">10<tspan dx=".9" dy="-4.3" font-size="8">0</tspan></text>
<text transform="translate(-4.4 59.8) rotate(-90) scale(.7 1)">10<tspan dx=".9" dy="-4.3" font-size="8">0</tspan></text>
<text transform="translate(14.8 67.0) scale(.7 1)">10<tspan dx=".9" dy="-4.3" font-size="8">1</tspan></text>
<text transform="translate(-4.4 46.0) rotate(-90) scale(.7 1)">10<tspan dx=".9" dy="-4.3" font-size="8">1</tspan></text>
<text transform="translate(33.0 67.0) scale(.7 1)">10<tspan dx=".9" dy="-4.3" font-size="8">2</tspan></text>
<text transform="translate(-4.4 32.1) rotate(-90) scale(.7 1)">10<tspan dx=".9" dy="-4.3" font-size="8">2</tspan></text>
<text transform="translate(51.2 67.0) scale(.7 1)">10<tspan dx=".9" dy="-4.3" font-size="8">3</tspan></text>
<text transform="translate(-4.4 18.2) rotate(-90) scale(.7 1)">10<tspan dx=".9" dy="-4.3" font-size="8">3</tspan></text>
<text transform="translate(69.4 67.0) scale(.7 1)">10<tspan dx=".9" dy="-4.3" font-size="8">4</tspan></text>
<text transform="translate(-4.4 4.4) rotate(-90) scale(.7 1)">10<tspan dx=".9" dy="-4.3" font-size="8">4</tspan></text>
</g>
<text x="36.2" y="72.9" text-anchor="middle" font-size="6.2" font-weight="bold" fill="#000">AnnexinY-FITC</text>
<text transform="translate(-14.5 28.7) rotate(-90)" text-anchor="middle" font-size="6.6" font-weight="bold" fill="#000" stroke="#000" stroke-width=".2">PI</text>
<g transform="scale(.25)" stroke="#000" fill="none"><path d="M97 164h6m29 3h6m-26 2h6m-36 3h6m-5 0h6m-28 1h6m-19 1h6m45 0h6m7 0h6m4 0h6m-58 1h6m9 0h6m14 0h6m-2 0h6m1 0h6m-38 1h6m-29 1h6m-1 0h6m15 0h6m10 0h6m5 0h6m-53 1h6m7 0h6m7 0h6m-1 0h6m11 0h6m0 0h6m-43 1h6m-1 0h6m3 0h6m-5 0h6m-1 0h6m-3 0h6m0 0h6m-52 1h6m-5 0h6m9 0h6m3 0h6m7 0h6m-63 1h6m10 0h6m-5 0h6m8 0h6m6 0h6m-1 0h6m-5 0h6m-2 0h6m-29 1h6m-4 0h6m8 0h6m-3 0h6m-2 0h6m23 0h6m-68 1h6m-5 0h6m3 0h6m2 0h6m-5 0h6m8 0h6m10 0h6m-46 1h6m-2 0h6m-5 0h6m-4 0h6m-2 0h6m-5 0h6m0 0h6m-1 0h6m13 0h6m-68 1h6m5 0h6m-5 0h6m-4 0h6m-5 0h6m7 0h6m-5 0h6m-4 0h6m-4 0h6m1 0h6m9 0h6m1 0h6m-71 1h6m2 0h6m-2 0h6m-5 0h6m-5 0h6m-1 0h6m0 0h6m-4 0h6m-2 0h6m-5 0h6m-3 0h6m-4 0h6m-2 0h6m1 0h6m-5 0h6m-1 0h6m-3 0h6m-1 0h6m-2 0h6m9 0h6m-96 1h6m6 0h6m-4 0h6m9 0h6m-3 0h6m0 0h6m-3 0h6m-3 0h6m-4 0h6m-1 0h6m-5 0h6m2 0h6m4 0h6m-67 1h6m-1 0h6m-1 0h6m-3 0h6m-4 0h6m-4 0h6m-4 0h6m-3 0h6m-5 0h6m-5 0h6m-5 0h6m-5 0h6m-4 0h6m0 0h6m-5 0h6m-2 0h6m-5 0h6m6 0h6m-1 0h6m-2 0h6m-58 1h6m-3 0h6m-4 0h6m-4 0h6m-2 0h6m-5 0h6m-5 0h6m-3 0h6m-5 0h6m-4 0h6m-5 0h6m-5 0h6m-4 0h6m-5 0h6m-5 0h6m-3 0h6m-5 0h6m2 0h6m-62 1h6m4 0h6m-3 0h6m-4 0h6m-5 0h6m-4 0h6m-5 0h6m-4 0h6m-5 0h6m-3 0h6m-3 0h6m0 0h6m-3 0h6m-5 0h6m2 0h6m-4 0h6m13 0h6m-66 1h6m0 0h6m-4 0h6m-4 0h6m-5 0h6m-5 0h6m-5 0h6m-4 0h6m-5 0h6m-5 0h6m-4 0h6m-5 0h6m-3 0h6m-5 0h6m-5 0h6m-4 0h6m-5 0h6m-4 0h6m-2 0h6m3 0h6m-4 0h6m-4 0h6m-4 0h6m-4 0h6m-64 1h6m13 0h6m0 0h6m-1 0h6m-2 0h6m-4 0h6m-2 0h6m-4 0h6m5 0h6m-2 0h6m-4 0h6m-4 0h6m-63 1h6m-2 0h6m-1 0h6m-2 0h6m0 0h6m-4 0h6m-5 0h6m-5 0h6m-4 0h6m-4 0h6m-5 0h6m-5 0h6m-5 0h6m-5 0h6m-2 0h6m-4 0h6m-4 0h6m-3 0h6m-4 0h6m-5 0h6m-5 0h6m-4 0h6m-5 0h6m-4 0h6m-1 0h6m-5 0h6m-3 0h6m-4 0h6m-84 1h6m-3 0h6m-1 0h6m6 0h6m0 0h6m-2 0h6m0 0h6m-5 0h6m-5 0h6m-5 0h6m-4 0h6m-3 0h6m-5 0h6m-5 0h6m-5 0h6m-5 0h6m-5 0h6m-4 0h6m-5 0h6m0 0h6m-5 0h6m-4 0h6m-1 0h6m-5 0h6m-5 0h6m-2 0h6m-4 0h6m10 0h6m-93 1h6m8 0h6m-3 0h6m-5 0h6m-3 0h6m0 0h6m-5 0h6m-5 0h6m-1 0h6m-4 0h6m-1 0h6m-5 0h6m-5 0h6m-5 0h6m-2 0h6m-5 0h6m-5 0h6m-5 0h6m-5 0h6m-4 0h6m-4 0h6m-5 0h6m-2 0h6m-5 0h6m-5 0h6m-5 0h6m-4 0h6m-1 0h6m-67 1h6m-2 0h6m-5 0h6m0 0h6m-3 0h6m-5 0h6m-3 0h6m-5 0h6m-5 0h6m-5 0h6m-5 0h6m-4 0h6m-4 0h6m-5 0h6m-4 0h6m-1 0h6m-4 0h6m-5 0h6m-3 0h6m-5 0h6m-4 0h6m-5 0h6m-4 0h6m-4 0h6m-4 0h6m-4 0h6m-1 0h6m4 0h6m-3 0h6m-81 1h6m5 0h6m-3 0h6m-5 0h6m-5 0h6m-5 0h6m-5 0h6m-4 0h6m-5 0h6m-5 0h6m-5 0h6m0 0h6m-4 0h6m-5 0h6m-5 0h6m-3 0h6m-5 0h6m-5 0h6m-5 0h6m-4 0h6m-1 0h6m-5 0h6m-3 0h6m-3 0h6m-5 0h6m-2 0h6m-5 0h6m-5 0h6m-1 0h6m-4 0h6m-1 0h6m7 0h6m-93 1h6m1 0h6m1 0h6m-2 0h6m-1 0h6m-5 0h6m-4 0h6m-4 0h6m-5 0h6m-4 0h6m-5 0h6m-5 0h6m-4 0h6m-5 0h6m-4 0h6m-4 0h6m-4 0h6m-5 0h6m-4 0h6m-4 0h6m-5 0h6m-4 0h6m-5 0h6m-5 0h6m-4 0h6m-4 0h6m-2 0h6m-1 0h6m-75 1h6m0 0h6m-3 0h6m-5 0h6m-1 0h6m-2 0h6m-3 0h6m-5 0h6m-3 0h6m-2 0h6m-5 0h6m-5 0h6m-5 0h6m-5 0h6m-4 0h6m-5 0h6m-2 0h6m-3 0h6m-4 0h6m-5 0h6m-3 0h6m-4 0h6m-4 0h6m-5 0h6m-2 0h6m10 0h6m0 0h6m-88 1h6m0 0h6m1 0h6m-4 0h6m-3 0h6m-5 0h6m-2 0h6m-3 0h6m-5 0h6m-5 0h6m-5 0h6m-4 0h6m-5 0h6m-4 0h6m-3 0h6m-5 0h6m-5 0h6m-5 0h6m-5 0h6m0 0h6m-5 0h6m-5 0h6m-5 0h6m-2 0h6m-2 0h6m-4 0h6m-1 0h6m-5 0h6m-5 0h6m-3 0h6m-93 1h6m13 0h6m-5 0h6m-1 0h6m1 0h6m-5 0h6m-4 0h6m-5 0h6m-5 0h6m-4 0h6m-4 0h6m-5 0h6m-1 0h6m-5 0h6m-4 0h6m-4 0h6m-4 0h6m-5 0h6m-5 0h6m-5 0h6m-5 0h6m-4 0h6m-3 0h6m-4 0h6m-4 0h6m-5 0h6m-3 0h6m-3 0h6m4 0h6m4 0h6m-83 1h6m-2 0h6m-4 0h6m-5 0h6m-2 0h6m3 0h6m-5 0h6m-5 0h6m-5 0h6m-5 0h6m-3 0h6m-5 0h6m-5 0h6m-5 0h6m-4 0h6m-5 0h6m-5 0h6m-5 0h6m-4 0h6m-1 0h6m-3 0h6m-3 0h6m-5 0h6m-5 0h6m-4 0h6m-5 0h6m-4 0h6m-4 0h6m-3 0h6m-4 0h6m-58 1h6m-3 0h6m-4 0h6m-3 0h6m-2 0h6m-5 0h6m-5 0h6m-4 0h6m-5 0h6m-3 0h6m-5 0h6m-5 0h6m-4 0h6m-5 0h6m-5 0h6m-5 0h6m-4 0h6m-1 0h6m-5 0h6m-5 0h6m-5 0h6m-5 0h6m-5 0h6m-5 0h6m-3 0h6m0 0h6m-70 1h6m1 0h6m-5 0h6m1 0h6m-2 0h6m-4 0h6m3 0h6m-4 0h6m-5 0h6m-4 0h6m-5 0h6m-1 0h6m-5 0h6m-5 0h6m-5 0h6m-5 0h6m-4 0h6m-5 0h6m-2 0h6m-5 0h6m-5 0h6m-5 0h6m-4 0h6m-5 0h6m-3 0h6m-5 0h6m6 0h6m-76 1h6m2 0h6m-2 0h6m-4 0h6m0 0h6m-5 0h6m-3 0h6m-5 0h6m-5 0h6m-3 0h6m-5 0h6m-5 0h6m-4 0h6m-4 0h6m-5 0h6m-5 0h6m-4 0h6m-5 0h6m-4 0h6m-5 0h6m-5 0h6m-5 0h6m-5 0h6m-5 0h6m-5 0h6m-1 0h6m0 0h6m10 0h6m-72 1h6m-4 0h6m-5 0h6m-4 0h6m-5 0h6m-3 0h6m-5 0h6m-2 0h6m-5 0h6m-4 0h6m-5 0h6m-3 0h6m-4 0h6m-5 0h6m-5 0h6m-4 0h6m-2 0h6m-3 0h6m-4 0h6m-5 0h6m-5 0h6m-1 0h6m-3 0h6m0 0h6m-4 0h6m-52 1h6m-5 0h6m-5 0h6m-4 0h6m-5 0h6m-4 0h6m-5 0h6m-5 0h6m-5 0h6m-5 0h6m-4 0h6m-4 0h6m-5 0h6m-5 0h6m-4 0h6m-5 0h6m-3 0h6m-5 0h6m-5 0h6m-5 0h6m-4 0h6m0 0h6m-5 0h6m-3 0h6m-5 0h6m-3 0h6m-2 0h6m-1 0h6m3 0h6m-103 1h6m18 0h6m0 0h6m3 0h6m-5 0h6m-5 0h6m-5 0h6m-3 0h6m-5 0h6m-2 0h6m-5 0h6m-5 0h6m-2 0h6m-5 0h6m-4 0h6m-5 0h6m-5 0h6m-3 0h6m-5 0h6m-5 0h6m-3 0h6m-3 0h6m-2 0h6m-5 0h6m-3 0h6m-3 0h6m11 0h6m-74 1h6m-4 0h6m-5 0h6m-4 0h6m-3 0h6m-4 0h6m-5 0h6m-5 0h6m-4 0h6m-3 0h6m-4 0h6m-5 0h6m-5 0h6m-5 0h6m-3 0h6m-4 0h6m-5 0h6m-5 0h6m-4 0h6m-2 0h6m2 0h6m-61 1h6m1 0h6m-3 0h6m-4 0h6m-5 0h6m-4 0h6m-3 0h6m-3 0h6m-1 0h6m-4 0h6m-2 0h6m-5 0h6m-5 0h6m-5 0h6m-4 0h6m-3 0h6m-5 0h6m-5 0h6m-5 0h6m-5 0h6m-4 0h6m-2 0h6m-5 0h6m-4 0h6m-2 0h6m-5 0h6m-5 0h6m-1 0h6m-4 0h6m0 0h6m-109 1h6m19 0h6m-2 0h6m-3 0h6m5 0h6m-5 0h6m-5 0h6m-5 0h6m-5 0h6m-3 0h6m-5 0h6m-5 0h6m-5 0h6m-5 0h6m-5 0h6m-5 0h6m-5 0h6m-5 0h6m-4 0h6m-5 0h6m-3 0h6m-5 0h6m-3 0h6m-5 0h6m-1 0h6m-5 0h6m-4 0h6m-3 0h6m-3 0h6m-3 0h6m-5 0h6m-3 0h6m3 0h6m2 0h6m-93 1h6m-4 0h6m0 0h6m1 0h6m-2 0h6m-4 0h6m-4 0h6m0 0h6m2 0h6m-4 0h6m-5 0h6m-4 0h6m-5 0h6m-3 0h6m-3 0h6m-4 0h6m-4 0h6m0 0h6m-4 0h6m-5 0h6m-3 0h6m-2 0h6m-3 0h6m10 0h6m-77 1h6m-3 0h6m-5 0h6m-5 0h6m-5 0h6m-1 0h6m0 0h6m-4 0h6m-4 0h6m-3 0h6m-5 0h6m-5 0h6m-5 0h6m-4 0h6m-5 0h6m0 0h6m-4 0h6m-2 0h6m-1 0h6m7 0h6m-91 1h6m16 0h6m-4 0h6m0 0h6m-4 0h6m-1 0h6m-5 0h6m-4 0h6m-4 0h6m2 0h6m-4 0h6m-4 0h6m-5 0h6m-5 0h6m-4 0h6m-2 0h6m1 0h6m-3 0h6m1 0h6m-5 0h6m-72 1h6m-5 0h6m1 0h6m-4 0h6m-1 0h6m-5 0h6m-1 0h6m-5 0h6m-3 0h6m-3 0h6m-2 0h6m-3 0h6m-3 0h6m-4 0h6m-3 0h6m-5 0h6m-3 0h6m5 0h6m-1 0h6m-5 0h6m-86 1h6m-3 0h6m5 0h6m-4 0h6m2 0h6m-4 0h6m-5 0h6m-5 0h6m-4 0h6m-5 0h6m-5 0h6m-1 0h6m-3 0h6m-2 0h6m-5 0h6m-5 0h6m-5 0h6m-4 0h6m-4 0h6m-5 0h6m-5 0h6m-5 0h6m-2 0h6m-4 0h6m-3 0h6m-3 0h6m0 0h6m-4 0h6m-4 0h6m1 0h6m-64 1h6m-4 0h6m-4 0h6m-2 0h6m-3 0h6m-4 0h6m-1 0h6m-3 0h6m-3 0h6m-5 0h6m-4 0h6m-1 0h6m-2 0h6m-5 0h6m-3 0h6m-5 0h6m-5 0h6m-4 0h6m-1 0h6m-1 0h6m-95 1h6m5 0h6m-5 0h6m-5 0h6m-5 0h6m-5 0h6m-3 0h6m-5 0h6m-5 0h6m-5 0h6m-5 0h6m-5 0h6m-5 0h6m-5 0h6m-4 0h6m-5 0h6m-4 0h6m-5 0h6m-5 0h6m-5 0h6m-5 0h6m-5 0h6m-5 0h6m-5 0h6m-5 0h6m-5 0h6m-5 0h6m-5 0h6m-5 0h6m-5 0h6m-5 0h6m-4 0h6m-5 0h6m-5 0h6m-5 0h6m-5 0h6m-4 0h6m-5 0h6m-5 0h6m-5 0h6m-5 0h6m-5 0h6m-4 0h6m-5 0h6m-5 0h6m-5 0h6m-5 0h6m-4 0h6m-5 0h6m-5 0h6m-5 0h6m-5 0h6m-5 0h6m-5 0h6m-5 0h6m-3 0h6m-3 0h6m-5 0h6m-5 0h6m-5 0h6m-4 0h6m-5 0h6m-3 0h6m-5 0h6m-5 0h6m-3 0h6m-2 0h6" stroke-width="6"/><path d="M140 43h4m-22 1h4m9 0h4m22 0h4m-37 2h4m7 0h4m4 0h4m19 0h4m-60 1h4m54 0h4m-54 1h4m15 0h4m-14 1h4m11 0h4m-1 0h4m-1 0h4m-15 1h4m-1 0h4m2 0h4m-1 0h4m-39 1h4m-2 0h4m3 0h4m11 0h4m1 0h4m-2 0h4m2 0h4m-3 0h4m-31 1h4m4 0h4m-3 0h4m-2 0h4m0 0h4m-3 0h4m0 0h4m10 0h4m-44 1h4m7 0h4m-3 0h4m3 0h4m-2 0h4m1 0h4m-2 0h4m-2 0h4m-2 0h4m4 0h4m-47 1h4m2 0h4m-3 0h4m-3 0h4m10 0h4m0 0h4m-1 0h4m-1 0h4m6 0h4m2 0h4m-1 0h4m-42 1h4m-3 0h4m-2 0h4m1 0h4m0 0h4m-3 0h4m0 0h4m-3 0h4m8 0h4m11 0h4m-53 1h4m3 0h4m-3 0h4m1 0h4m-3 0h4m-3 0h4m1 0h4m1 0h4m0 0h4m2 0h4m-2 0h4m-46 1h4m4 0h4m4 0h4m0 0h4m-2 0h4m6 0h4m6 0h4m-2 0h4m-2 0h4m6 0h4m-60 1h4m-2 0h4m6 0h4m-2 0h4m-2 0h4m3 0h4m1 0h4m-2 0h4m3 0h4m-3 0h4m1 0h4m-2 0h4m-49 1h4m-1 0h4m2 0h4m1 0h4m-2 0h4m-1 0h4m-1 0h4m2 0h4m-1 0h4m-3 0h4m0 0h4m-3 0h4m-2 0h4m1 0h4m8 0h4m-71 1h4m13 0h4m4 0h4m1 0h4m-1 0h4m1 0h4m4 0h4m-52 1h4m11 0h4m2 0h4m1 0h4m-3 0h4m-1 0h4m-2 0h4m1 0h4m2 0h4m-2 0h4m7 0h4m2 0h4m-60 1h4m6 0h4m1 0h4m1 0h4m-2 0h4m0 0h4m-2 0h4m-3 0h4m0 0h4m-3 0h4m2 0h4m1 0h4m-1 0h4m-1 0h4m-57 1h4m11 0h4m1 0h4m-2 0h4m2 0h4m-3 0h4m3 0h4m-3 0h4m-3 0h4m-3 0h4m0 0h4m3 0h4m2 0h4m-51 1h4m-2 0h4m8 0h4m4 0h4m3 0h4m0 0h4m2 0h4m5 0h4m-58 1h4m6 0h4m-1 0h4m1 0h4m2 0h4m3 0h4m-2 0h4m0 0h4m-1 0h4m-2 0h4m-3 0h4m-3 0h4m-2 0h4m-35 1h4m-2 0h4m-1 0h4m-3 0h4m-3 0h4m2 0h4m3 0h4m2 0h4m-3 0h4m5 0h4m10 0h4m-79 1h4m18 0h4m-2 0h4m6 0h4m1 0h4m2 0h4m4 0h4m6 0h4m-3 0h4m-47 1h4m4 0h4m-3 0h4m0 0h4m-3 0h4m-3 0h4m-2 0h4m0 0h4m6 0h4m-35 1h4m6 0h4m2 0h4m3 0h4m-3 0h4m-2 0h4m2 0h4m-52 1h4m5 0h4m16 0h4m4 0h4m-2 0h4m-3 0h4m11 0h4m-55 1h4m12 0h4m3 0h4m0 0h4m10 0h4m1 0h4m-42 1h4m2 0h4m0 0h4m0 0h4m8 0h4m-3 0h4m0 0h4m7 0h4m-3 0h4m5 0h4m-56 1h4m-3 0h4m3 0h4m3 0h4m19 0h4m-83 1h4m24 0h4m20 0h4m23 0h4m-23 1h4m0 0h4m-76 1h4m70 0h4m-2 0h4m9 0h4m-28 1h4m1 0h4m10 0h4m-119 2h4m70 0h4m20 0h4m24 0h4m-36 1h4m28 1h4m-116 2h4m3 0h4m18 0h4m56 0h4m5 0h4m-95 1h4m11 0h4m7 0h4m50 0h4m-104 1h4m17 0h4m-7 1h4m-23 1h4m4 0h4m27 0h4m42 0h4m-3 0h4m17 1h4m-89 1h4m21 0h4m52 0h4m6 0h4m-38 1h4m24 0h4m-120 1h4m3 0h4m14 0h4m-26 1h4m10 0h4m1 1h4m-40 1h4m125 0h4m9 0h4m-118 1h4m99 0h4m-105 1h4m93 0h4m3 0h4m-112 2h4m2 2h4m-3 0h4m22 0h4m-3 0h4m58 0h4m6 0h4m-81 1h4m65 0h4m10 0h4m-110 1h4m26 1h4m36 0h4m24 0h4m-3 0h4m11 0h4m-28 1h4m-96 1h4m9 0h4m85 0h4m1 0h4m-18 1h4m7 0h4m-1 0h4m-16 1h4m6 0h4m-125 1h4m38 0h4m79 0h4m4 0h4m-87 1h4m59 0h4m8 0h4m-35 1h4m37 0h4m-16 2h4m-68 1h4m45 0h4m-7 1h4m-3 0h4m-1 0h4m-1 0h4m6 0h4m1 0h4m-27 1h4m-2 0h4m7 0h4m-9 1h4m0 0h4m0 0h4m-22 1h4m10 0h4m-3 0h4m-1 0h4m-13 2h4m-2 0h4m-2 0h4m-11 1h4m-5 3h4m0 0h4m-17 1h4m-1 1h4m9 0h4m2 2h4m-30 1h4m2 0h4m-2 0h4m4 0h4m6 0h4m-22 2h4m29 0h4m-44 1h4m16 0h4m-2 0h4m-13 1h4m-2 0h4m9 0h4m-19 1h4m-5 1h4m-27 2h4m9 0h4m-3 0h4m-3 0h4m-15 1h4m12 0h4m-1 0h4m-1 0h4m25 0h4m-59 1h4m23 0h4m4 0h4m0 0h4m-48 1h4m7 0h4m9 0h4m7 0h4m5 0h4m-42 1h4m0 0h4m12 0h4m-3 0h4m5 0h4m-41 1h4m11 0h4m10 0h4m-1 0h4m-3 0h4m6 0h4m-2 0h4m0 0h4m3 0h4m-39 1h4m13 0h4m-25 1h4m-2 0h4m4 0h4m-3 0h4m7 0h4m-40 1h4m-1 0h4m-3 0h4m5 0h4m-3 0h4m20 0h4m-1 0h4m-38 1h4m8 0h4m-2 0h4m24 0h4m-54 1h4m1 0h4m2 0h4m0 0h4m16 0h4m-3 0h4m-54 1h4m10 0h4m6 0h4m-1 0h4m-1 0h4m-1 0h4m1 0h4m-1 0h4m1 0h4m9 0h4m-61 1h4m-3 0h4m10 0h4m7 0h4m-21 1h4m9 0h4m-3 0h4m6 0h4m-1 0h4m4 0h4m-34 1h4m1 0h4m-1 0h4m7 0h4m-2 0h4m1 0h4m0 0h4m-2 0h4m-30 1h4m6 0h4m1 0h4m4 0h4m-2 0h4m10 0h4m-32 1h4m-17 1h4m-2 0h4m-3 0h4m-2 0h4m-2 0h4m-1 0h4m6 0h4m-23 1h4m-1 0h4m-1 0h4m8 0h4m1 0h4m4 0h4m10 0h4m-78 1h4m-2 0h4m4 0h4m-3 0h4m-2 0h4m-3 0h4m-1 0h4m-3 0h4m-1 0h4m-3 0h4m-2 0h4m0 0h4m-3 0h4m-3 0h4m-3 0h4m-2 0h4m-2 0h4m-3 0h4m-1 0h4m-2 0h4m-3 0h4m2 0h4m19 0h4m-64 1h4m5 0h4m12 0h4m-2 0h4m1 0h4m5 0h4m2 0h4m14 0h4m-69 1h4m-2 0h4m2 0h4m-3 0h4m5 0h4m0 0h4m4 0h4m-3 0h4m-3 0h4m4 0h4m-1 0h4m-67 1h4m32 0h4m-3 0h4m0 0h4m-2 0h4m-1 0h4m-1 0h4m-42 1h4m-1 0h4m2 0h4m6 0h4m-3 0h4m-2 0h4m-1 0h4m-3 0h4m-2 0h4m2 0h4m-3 0h4m3 0h4m-47 1h4m9 0h4m1 0h4m-1 0h4m-3 0h4m0 0h4m-3 0h4m-3 0h4m11 0h4m3 0h4m5 0h4m-37 1h4m1 0h4m-3 0h4m0 0h4m31 0h4m7 0h4m-89 1h4m8 0h4m-2 0h4m-3 0h4m-3 0h4m5 0h4m-1 0h4m-1 0h4m5 0h4m22 0h4m22 0h4m-89 1h4m0 0h4m0 0h4m-2 0h4m-3 0h4m-1 0h4m-3 0h4m1 0h4m1 0h4m-3 0h4m0 0h4m-3 0h4m24 0h4m-61 1h4m-2 0h4m-1 0h4m-2 0h4m2 0h4m-3 0h4m3 0h4m-2 0h4m-3 0h4m20 0h4m19 0h4m-83 1h4m15 0h4m0 0h4m-3 0h4m-3 0h4m-2 0h4m6 0h4m3 0h4m15 0h4m-81 1h4m17 0h4m-2 0h4m-2 0h4m3 0h4m-2 0h4m3 0h4m-2 0h4m0 0h4m-1 0h4m50 0h4m-99 1h4m12 0h4m3 0h4m-2 0h4m-2 0h4m-1 0h4m2 0h4m4 0h4m7 0h4m-43 1h4m1 0h4m-2 0h4m-3 0h4m-3 0h4m0 0h4m-26 1h4m-2 0h4m1 0h4m-2 0h4m0 0h4m-3 0h4m-3 0h4m-3 0h4m10 0h4m53 0h4m1 0h4m-98 1h4m1 0h4m-3 0h4m-3 0h4m2 0h4m-1 0h4m3 0h4m-2 0h4m-2 0h4m-3 0h4m-3 0h4m0 0h4m1 0h4m-41 1h4m-2 0h4m-1 0h4m0 0h4m-1 0h4m-2 0h4m3 0h4m-1 0h4m0 0h4m8 0h4m1 0h4m2 0h4m-59 1h4m0 0h4m2 0h4m-2 0h4m-2 0h4m-2 0h4m-2 0h4m-3 0h4m-3 0h4m-1 0h4m-3 0h4m5 0h4m9 0h4m6 0h4m8 0h4m-65 1h4m-2 0h4m5 0h4m-3 0h4m-1 0h4m0 0h4m-3 0h4m-2 0h4m6 0h4m2 0h4m-2 0h4m-53 1h4m0 0h4m-2 0h4m-1 0h4m8 0h4m-1 0h4m4 0h4m-2 0h4m-3 0h4m0 0h4m-3 0h4m10 0h4m19 0h4m6 0h4m-100 1h4m2 0h4m-1 0h4m13 0h4m4 0h4m-3 0h4m-2 0h4m3 0h4m-3 0h4m12 0h4m5 0h4m26 0h4m7 0h4m-91 1h4m2 0h4m3 0h4m7 0h4m29 0h4m-74 1h4m-2 0h4m0 0h4m-1 0h4m1 0h4m-3 0h4m5 0h4m4 0h4m20 0h4m-56 1h4m0 0h4m20 0h4m-1 0h4m17 0h4m6 0h4m-74 1h4m2 0h4m-3 0h4m-1 0h4m0 0h4m5 0h4m7 0h4m-2 0h4m65 0h4m-114 1h4m7 0h4m-3 0h4m-1 0h4m2 0h4m-1 0h4m-2 0h4m12 0h4m1 0h4m17 0h4m-1 0h4m-66 1h4m-3 0h4m-3 0h4m-1 0h4m0 0h4m2 0h4m1 0h4m4 0h4m-1 0h4m38 0h4m-81 1h4m-2 0h4m-2 0h4m2 0h4m0 0h4m0 0h4m3 0h4m11 0h4m42 0h4m-89 1h4m6 0h4m19 0h4m1 0h4m-42 1h4m-1 0h4m-1 0h4m-1 0h4m-3 0h4m3 0h4m-2 0h4m-3 0h4m-2 0h4m-3 0h4m-24 1h4m-3 0h4m26 0h4m-46 1h4m4 0h4m7 0h4m5 0h4m5 0h4m40 0h4m2 0h4m-93 1h4m-3 0h4m2 0h4m-2 0h4m3 0h4m2 0h4m2 0h4m15 0h4m1 0h4m-66 1h4m19 0h4m-1 0h4m-3 0h4m-2 0h4m-1 0h4m13 0h4m4 0h4m33 0h4m5 0h4m-96 1h4m12 0h4m8 0h4m32 0h4m-71 1h4m-2 0h4m13 0h4m7 0h4m35 0h4m-39 1h4m-24 1h4m-1 0h4m16 0h4m-3 0h4m56 0h4m-109 1h4m2 0h4m6 0h4m4 0h4m62 0h4m-62 1h4m51 0h4m-72 1h4m6 0h4m1 0h4m-31 1h4m0 1h4m3 0h4m17 0h4m-36 1h4m2 0h4m9 0h4m11 0h4m40 0h4m-85 1h4m5 0h4m-1 0h4m10 0h4m46 0h4m-76 1h4m11 0h4m79 0h4m-62 1h4m13 0h4m32 0h4m-108 1h4m9 0h4m1 0h4m-3 0h4m9 0h4m8 0h4m1 0h4m32 0h4m12 0h4m-18 1h4m-2 0h4m-38 1h4m-63 1h4m5 0h4m10 1h4m85 0h4m-105 1h4m51 1h4m28 1h4m-5 1h4m1 0h4m-87 1h4m70 1h4m-13 2h4m48 2h4m-50 1h4m0 0h4" stroke-width="4"/></g>
<g font-size="7" fill="#000" stroke="#000" stroke-width=".22">
<text x="54.6" y="19.9">5.8%</text>
<text x="2.8" y="40.4">66.0</text>
<text x="3.3" y="48.0">%</text>
<text x="49.6" y="47.0">27.9%</text>
</g>
</g>
</g></svg></body></html>
